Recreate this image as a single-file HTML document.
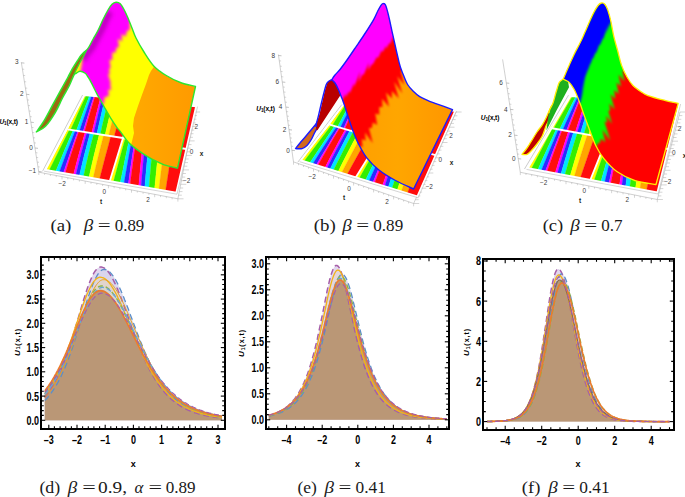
<!DOCTYPE html>
<html><head><meta charset="utf-8"><style>
html,body{margin:0;padding:0;background:#fff;}
svg{display:block;font-family:"Liberation Sans",sans-serif;}
.cap{font-family:"Liberation Serif",serif;font-size:17px;fill:#1a1a1a;}
</style></head><body>
<svg width="685" height="497" viewBox="0 0 685 497">
<defs>
<linearGradient id="gOrA" x1="130" y1="0" x2="200" y2="0" gradientUnits="userSpaceOnUse"><stop offset="0" stop-color="#ffaa00"/><stop offset="1" stop-color="#ff9900"/></linearGradient>
<linearGradient id="gOrB" x1="360" y1="0" x2="455" y2="0" gradientUnits="userSpaceOnUse"><stop offset="0" stop-color="#ffa000"/><stop offset="0.4" stop-color="#ffa600"/><stop offset="1" stop-color="#ff9500"/></linearGradient>
<filter id="soft" x="-10%" y="-10%" width="120%" height="120%"><feGaussianBlur stdDeviation="0.9"/></filter>
<filter id="soft15" x="-10%" y="-10%" width="120%" height="120%"><feGaussianBlur stdDeviation="1.4"/></filter>
<filter id="soft2" x="-20%" y="-20%" width="140%" height="140%"><feGaussianBlur stdDeviation="2"/></filter>
</defs>
<rect width="685" height="497" fill="#fff"/>

<polyline points="21.3,62.2 38.8,172.2 177.9,198.8 194.5,112" stroke="#b0b0b0" stroke-width="0.6" fill="none"/>
<line x1="42.5" y1="171.3" x2="82.6" y2="95" stroke="#aaa" stroke-width="0.6"/>
<line x1="21.4" y1="62.8" x2="24.4" y2="63.1" stroke="#999" stroke-width="0.6"/>
<line x1="22.4" y1="69.1" x2="24.2" y2="69.3" stroke="#aaa" stroke-width="0.5"/>
<line x1="23.4" y1="75.4" x2="25.2" y2="75.6" stroke="#aaa" stroke-width="0.5"/>
<line x1="24.4" y1="81.7" x2="26.2" y2="81.9" stroke="#aaa" stroke-width="0.5"/>
<line x1="25.4" y1="88.0" x2="27.2" y2="88.2" stroke="#aaa" stroke-width="0.5"/>
<line x1="26.4" y1="94.3" x2="29.4" y2="94.6" stroke="#999" stroke-width="0.6"/>
<line x1="27.3" y1="99.9" x2="29.1" y2="100.1" stroke="#aaa" stroke-width="0.5"/>
<line x1="28.2" y1="105.5" x2="30.0" y2="105.7" stroke="#aaa" stroke-width="0.5"/>
<line x1="29.1" y1="111.0" x2="30.9" y2="111.2" stroke="#aaa" stroke-width="0.5"/>
<line x1="30.0" y1="116.6" x2="31.8" y2="116.8" stroke="#aaa" stroke-width="0.5"/>
<line x1="30.8" y1="122.2" x2="33.8" y2="122.5" stroke="#999" stroke-width="0.6"/>
<line x1="31.7" y1="127.4" x2="33.5" y2="127.6" stroke="#aaa" stroke-width="0.5"/>
<line x1="32.5" y1="132.5" x2="34.3" y2="132.7" stroke="#aaa" stroke-width="0.5"/>
<line x1="33.3" y1="137.7" x2="35.1" y2="137.9" stroke="#aaa" stroke-width="0.5"/>
<line x1="34.1" y1="142.8" x2="35.9" y2="143.0" stroke="#aaa" stroke-width="0.5"/>
<line x1="35.0" y1="148.0" x2="38.0" y2="148.3" stroke="#999" stroke-width="0.6"/>
<line x1="35.7" y1="152.7" x2="37.5" y2="152.9" stroke="#aaa" stroke-width="0.5"/>
<line x1="36.4" y1="157.4" x2="38.2" y2="157.6" stroke="#aaa" stroke-width="0.5"/>
<line x1="37.2" y1="162.1" x2="39.0" y2="162.3" stroke="#aaa" stroke-width="0.5"/>
<line x1="37.9" y1="166.8" x2="39.7" y2="167.0" stroke="#aaa" stroke-width="0.5"/>
<line x1="38.7" y1="171.5" x2="41.7" y2="171.8" stroke="#999" stroke-width="0.6"/>
<text x="16.8" y="64.0" font-size="6.4" fill="#3a3a3a" text-anchor="middle">3</text>
<text x="21.8" y="95.6" font-size="6.4" fill="#3a3a3a" text-anchor="middle">2</text>
<text x="26.6" y="123.9" font-size="6.4" fill="#3a3a3a" text-anchor="middle">1</text>
<text x="31.0" y="149.8" font-size="6.4" fill="#3a3a3a" text-anchor="middle">0</text>
<text x="32.5" y="173.4" font-size="6.4" fill="#3a3a3a" text-anchor="middle">&#8722;1</text>
<text x="8.6" y="123.5" font-size="6.6" fill="#000" text-anchor="middle"><tspan font-weight="bold" letter-spacing="-0.15"><tspan font-style="italic">U</tspan><tspan font-size="4.6" dy="1">1</tspan><tspan dy="-1">(x,t)</tspan></tspan></text>
<text x="62.2" y="186.3" font-size="6.4" fill="#3a3a3a" text-anchor="middle">&#8722;2</text>
<text x="104.3" y="193.7" font-size="6.4" fill="#3a3a3a" text-anchor="middle">0</text>
<text x="148.0" y="201.9" font-size="6.4" fill="#3a3a3a" text-anchor="middle">2</text>
<text x="101.2" y="204.0" font-size="6.5" fill="#222" text-anchor="middle"><tspan font-weight="bold">t</tspan></text>
<text x="196.2" y="128.9" font-size="6.4" fill="#3a3a3a" text-anchor="middle">2</text>
<text x="191.5" y="153.6" font-size="6.4" fill="#3a3a3a" text-anchor="middle">0</text>
<text x="186.7" y="182.8" font-size="6.4" fill="#3a3a3a" text-anchor="middle">&#8722;2</text>
<text x="201.6" y="155.5" font-size="6.5" fill="#222" text-anchor="middle"><tspan font-weight="bold">x</tspan></text>
<line x1="38.8" y1="172.2" x2="38.8" y2="175.0" stroke="#aaa" stroke-width="0.5"/>
<line x1="44.6" y1="173.3" x2="44.6" y2="174.9" stroke="#aaa" stroke-width="0.5"/>
<line x1="50.4" y1="174.4" x2="50.4" y2="176.0" stroke="#aaa" stroke-width="0.5"/>
<line x1="56.2" y1="175.5" x2="56.2" y2="177.1" stroke="#aaa" stroke-width="0.5"/>
<line x1="62.0" y1="176.6" x2="62.0" y2="179.4" stroke="#aaa" stroke-width="0.5"/>
<line x1="67.8" y1="177.7" x2="67.8" y2="179.3" stroke="#aaa" stroke-width="0.5"/>
<line x1="73.6" y1="178.8" x2="73.6" y2="180.4" stroke="#aaa" stroke-width="0.5"/>
<line x1="79.4" y1="180.0" x2="79.4" y2="181.6" stroke="#aaa" stroke-width="0.5"/>
<line x1="85.2" y1="181.1" x2="85.2" y2="183.9" stroke="#aaa" stroke-width="0.5"/>
<line x1="91.0" y1="182.2" x2="91.0" y2="183.8" stroke="#aaa" stroke-width="0.5"/>
<line x1="96.8" y1="183.3" x2="96.8" y2="184.9" stroke="#aaa" stroke-width="0.5"/>
<line x1="102.6" y1="184.4" x2="102.6" y2="186.0" stroke="#aaa" stroke-width="0.5"/>
<line x1="108.4" y1="185.5" x2="108.4" y2="188.3" stroke="#aaa" stroke-width="0.5"/>
<line x1="114.1" y1="186.6" x2="114.1" y2="188.2" stroke="#aaa" stroke-width="0.5"/>
<line x1="119.9" y1="187.7" x2="119.9" y2="189.3" stroke="#aaa" stroke-width="0.5"/>
<line x1="125.7" y1="188.8" x2="125.7" y2="190.4" stroke="#aaa" stroke-width="0.5"/>
<line x1="131.5" y1="189.9" x2="131.5" y2="192.7" stroke="#aaa" stroke-width="0.5"/>
<line x1="137.3" y1="191.0" x2="137.3" y2="192.6" stroke="#aaa" stroke-width="0.5"/>
<line x1="143.1" y1="192.2" x2="143.1" y2="193.8" stroke="#aaa" stroke-width="0.5"/>
<line x1="148.9" y1="193.3" x2="148.9" y2="194.9" stroke="#aaa" stroke-width="0.5"/>
<line x1="154.7" y1="194.4" x2="154.7" y2="197.2" stroke="#aaa" stroke-width="0.5"/>
<line x1="160.5" y1="195.5" x2="160.5" y2="197.1" stroke="#aaa" stroke-width="0.5"/>
<line x1="166.3" y1="196.6" x2="166.3" y2="198.2" stroke="#aaa" stroke-width="0.5"/>
<line x1="172.1" y1="197.7" x2="172.1" y2="199.3" stroke="#aaa" stroke-width="0.5"/>
<line x1="177.9" y1="198.8" x2="177.9" y2="201.6" stroke="#aaa" stroke-width="0.5"/>
<line x1="177.9" y1="198.8" x2="183.5" y2="198.8" stroke="#aaa" stroke-width="0.5"/>
<line x1="178.6" y1="195.2" x2="181.8" y2="195.2" stroke="#aaa" stroke-width="0.5"/>
<line x1="179.3" y1="191.6" x2="182.5" y2="191.6" stroke="#aaa" stroke-width="0.5"/>
<line x1="180.0" y1="188.0" x2="183.2" y2="188.0" stroke="#aaa" stroke-width="0.5"/>
<line x1="180.7" y1="184.3" x2="186.3" y2="184.3" stroke="#aaa" stroke-width="0.5"/>
<line x1="181.4" y1="180.7" x2="184.6" y2="180.7" stroke="#aaa" stroke-width="0.5"/>
<line x1="182.1" y1="177.1" x2="185.2" y2="177.1" stroke="#aaa" stroke-width="0.5"/>
<line x1="182.7" y1="173.5" x2="185.9" y2="173.5" stroke="#aaa" stroke-width="0.5"/>
<line x1="183.4" y1="169.9" x2="189.0" y2="169.9" stroke="#aaa" stroke-width="0.5"/>
<line x1="184.1" y1="166.2" x2="187.3" y2="166.2" stroke="#aaa" stroke-width="0.5"/>
<line x1="184.8" y1="162.6" x2="188.0" y2="162.6" stroke="#aaa" stroke-width="0.5"/>
<line x1="185.5" y1="159.0" x2="188.7" y2="159.0" stroke="#aaa" stroke-width="0.5"/>
<line x1="186.2" y1="155.4" x2="191.8" y2="155.4" stroke="#aaa" stroke-width="0.5"/>
<line x1="186.9" y1="151.8" x2="190.1" y2="151.8" stroke="#aaa" stroke-width="0.5"/>
<line x1="187.6" y1="148.2" x2="190.8" y2="148.2" stroke="#aaa" stroke-width="0.5"/>
<line x1="188.3" y1="144.6" x2="191.5" y2="144.6" stroke="#aaa" stroke-width="0.5"/>
<line x1="189.0" y1="140.9" x2="194.6" y2="140.9" stroke="#aaa" stroke-width="0.5"/>
<line x1="189.7" y1="137.3" x2="192.9" y2="137.3" stroke="#aaa" stroke-width="0.5"/>
<line x1="190.3" y1="133.7" x2="193.5" y2="133.7" stroke="#aaa" stroke-width="0.5"/>
<line x1="191.0" y1="130.1" x2="194.2" y2="130.1" stroke="#aaa" stroke-width="0.5"/>
<line x1="191.7" y1="126.5" x2="197.3" y2="126.5" stroke="#aaa" stroke-width="0.5"/>
<line x1="192.4" y1="122.9" x2="195.6" y2="122.9" stroke="#aaa" stroke-width="0.5"/>
<line x1="193.1" y1="119.2" x2="196.3" y2="119.2" stroke="#aaa" stroke-width="0.5"/>
<line x1="193.8" y1="115.6" x2="197.0" y2="115.6" stroke="#aaa" stroke-width="0.5"/>
<line x1="194.5" y1="112.0" x2="200.1" y2="112.0" stroke="#aaa" stroke-width="0.5"/>
<polygon points="45.6,169.8 176.2,192.6 196.0,106.5 84.3,95.3" fill="#fff"/>
<clipPath id="pq1"><polygon points="45.6,169.8 109.8,181.0 123.0,138.0 67.6,129.3"/></clipPath><g clip-path="url(#pq1)">
<polygon points="45.6,169.8 51.1,159.7 56.6,149.6 62.1,139.4 67.6,129.3 69.5,129.6 64.4,139.8 59.3,150.0 54.2,160.2 49.1,170.4" fill="#ffff00" stroke="#ffff00" stroke-width="0.3"/>
<polygon points="49.1,170.4 54.2,160.2 59.3,150.0 64.4,139.8 69.5,129.6 73.2,130.2 68.7,140.5 64.3,150.8 60.0,161.2 55.7,171.6" fill="#33ee00" stroke="#33ee00" stroke-width="0.3"/>
<polygon points="55.7,171.6 60.0,161.2 64.3,150.8 68.7,140.5 73.2,130.2 75.3,130.5 71.2,140.9 67.1,151.3 63.2,161.7 59.3,172.2" fill="#00e5ff" stroke="#00e5ff" stroke-width="0.3"/>
<polygon points="59.3,172.2 63.2,161.7 67.1,151.3 71.2,140.9 75.3,130.5 77.9,130.9 74.1,141.4 70.5,151.9 66.9,162.4 63.4,172.9" fill="#2b2bff" stroke="#2b2bff" stroke-width="0.3"/>
<polygon points="63.4,172.9 66.9,162.4 70.5,151.9 74.1,141.4 77.9,130.9 79.1,131.1 75.4,141.6 71.9,152.1 68.5,162.6 65.2,173.2" fill="#ff00ff" stroke="#ff00ff" stroke-width="0.3"/>
<polygon points="65.2,173.2 68.5,162.6 71.9,152.1 75.4,141.6 79.1,131.1 85.2,132.1 82.1,142.7 79.1,153.3 76.2,164.0 73.5,174.7" fill="#ff0d0d" stroke="#ff0d0d" stroke-width="0.3"/>
<polygon points="73.5,174.7 76.2,164.0 79.1,153.3 82.1,142.7 85.2,132.1 87.0,132.3 84.0,143.0 81.1,153.6 78.4,164.3 75.8,175.1" fill="#ff00ff" stroke="#ff00ff" stroke-width="0.3"/>
<polygon points="75.8,175.1 78.4,164.3 81.1,153.6 84.0,143.0 87.0,132.3 90.2,132.8 87.3,143.5 84.5,154.2 81.9,164.9 79.4,175.7" fill="#2b2bff" stroke="#2b2bff" stroke-width="0.3"/>
<polygon points="79.4,175.7 81.9,164.9 84.5,154.2 87.3,143.5 90.2,132.8 93.9,133.4 91.1,144.1 88.4,154.8 85.9,165.6 83.5,176.4" fill="#00e5ff" stroke="#00e5ff" stroke-width="0.3"/>
<polygon points="83.5,176.4 85.9,165.6 88.4,154.8 91.1,144.1 93.9,133.4 99.3,134.3 96.6,145.0 93.9,155.8 91.4,166.5 88.9,177.4" fill="#33ee00" stroke="#33ee00" stroke-width="0.3"/>
<polygon points="88.9,177.4 91.4,166.5 93.9,155.8 96.6,145.0 99.3,134.3 103.7,135.0 100.9,145.7 98.2,156.5 95.6,167.3 93.1,178.1" fill="#ffff00" stroke="#ffff00" stroke-width="0.3"/>
<polygon points="93.1,178.1 95.6,167.3 98.2,156.5 100.9,145.7 103.7,135.0 110.9,136.1 108.0,146.9 105.1,157.6 102.3,168.4 99.5,179.2" fill="#ffa600" stroke="#ffa600" stroke-width="0.3"/>
<polygon points="99.5,179.2 102.3,168.4 105.1,157.6 108.0,146.9 110.9,136.1 123.0,138.0 119.7,148.8 116.4,159.5 113.1,170.2 109.8,181.0" fill="#ff0d0d" stroke="#ff0d0d" stroke-width="0.3"/>
</g>
<clipPath id="pq2"><polygon points="109.8,181.0 176.2,192.6 186.2,149.0 123.0,138.0"/></clipPath><g clip-path="url(#pq2)">
<polygon points="109.8,181.0 113.1,170.2 116.4,159.5 119.7,148.8 123.0,138.0 125.2,138.4 122.2,149.2 119.3,160.0 116.4,170.8 113.5,181.6" fill="#ffff00" stroke="#ffff00" stroke-width="0.3"/>
<polygon points="113.5,181.6 116.4,170.8 119.3,160.0 122.2,149.2 125.2,138.4 129.3,139.1 127.0,150.0 124.7,161.0 122.5,171.9 120.2,182.8" fill="#33ee00" stroke="#33ee00" stroke-width="0.3"/>
<polygon points="120.2,182.8 122.5,171.9 124.7,161.0 127.0,150.0 129.3,139.1 131.8,139.5 129.8,150.5 127.8,161.5 125.9,172.5 123.9,183.5" fill="#00e5ff" stroke="#00e5ff" stroke-width="0.3"/>
<polygon points="123.9,183.5 125.9,172.5 127.8,161.5 129.8,150.5 131.8,139.5 134.8,140.0 133.1,151.1 131.4,162.1 129.8,173.2 128.3,184.2" fill="#2b2bff" stroke="#2b2bff" stroke-width="0.3"/>
<polygon points="128.3,184.2 129.8,173.2 131.4,162.1 133.1,151.1 134.8,140.0 136.1,140.3 134.5,151.3 133.0,162.4 131.5,173.5 130.1,184.5" fill="#ff00ff" stroke="#ff00ff" stroke-width="0.3"/>
<polygon points="130.1,184.5 131.5,173.5 133.0,162.4 134.5,151.3 136.1,140.3 143.1,141.5 141.9,152.6 140.8,163.8 139.7,174.9 138.7,186.0" fill="#ff0d0d" stroke="#ff0d0d" stroke-width="0.3"/>
<polygon points="138.7,186.0 139.7,174.9 140.8,163.8 141.9,152.6 143.1,141.5 145.2,141.9 144.0,153.0 143.0,164.1 142.0,175.3 141.0,186.5" fill="#ff00ff" stroke="#ff00ff" stroke-width="0.3"/>
<polygon points="141.0,186.5 142.0,175.3 143.0,164.1 144.0,153.0 145.2,141.9 148.7,142.5 147.7,153.6 146.7,164.8 145.7,175.9 144.8,187.1" fill="#2b2bff" stroke="#2b2bff" stroke-width="0.3"/>
<polygon points="144.8,187.1 145.7,175.9 146.7,164.8 147.7,153.6 148.7,142.5 153.0,143.2 151.9,154.4 150.9,165.5 149.9,176.7 149.0,187.8" fill="#00e5ff" stroke="#00e5ff" stroke-width="0.3"/>
<polygon points="149.0,187.8 149.9,176.7 150.9,165.5 151.9,154.4 153.0,143.2 159.2,144.3 158.0,155.4 156.8,166.5 155.7,177.7 154.6,188.8" fill="#33ee00" stroke="#33ee00" stroke-width="0.3"/>
<polygon points="154.6,188.8 155.7,177.7 156.8,166.5 158.0,155.4 159.2,144.3 164.2,145.2 162.9,156.3 161.5,167.4 160.2,178.5 158.9,189.6" fill="#ffff00" stroke="#ffff00" stroke-width="0.3"/>
<polygon points="158.9,189.6 160.2,178.5 161.5,167.4 162.9,156.3 164.2,145.2 172.4,146.6 170.7,157.6 169.0,168.7 167.3,179.7 165.6,190.7" fill="#ffa600" stroke="#ffa600" stroke-width="0.3"/>
<polygon points="165.6,190.7 167.3,179.7 169.0,168.7 170.7,157.6 172.4,146.6 186.2,149.0 183.7,159.9 181.2,170.8 178.7,181.7 176.2,192.6" fill="#ff0d0d" stroke="#ff0d0d" stroke-width="0.3"/>
</g>
<clipPath id="pq3"><polygon points="67.6,129.3 123.0,138.0 136.0,100.5 84.3,95.3"/></clipPath><g clip-path="url(#pq3)">
<polygon points="67.6,129.3 71.8,120.8 75.9,112.3 80.1,103.8 84.3,95.3 86.1,95.5 82.2,104.0 78.3,112.6 74.5,121.2 70.6,129.8" fill="#ffff00" stroke="#ffff00" stroke-width="0.3"/>
<polygon points="70.6,129.8 74.5,121.2 78.3,112.6 82.2,104.0 86.1,95.5 89.5,95.8 86.1,104.5 82.8,113.2 79.6,121.9 76.3,130.7" fill="#33ee00" stroke="#33ee00" stroke-width="0.3"/>
<polygon points="76.3,130.7 79.6,121.9 82.8,113.2 86.1,104.5 89.5,95.8 91.5,96.0 88.4,104.8 85.4,113.5 82.4,122.3 79.4,131.2" fill="#00e5ff" stroke="#00e5ff" stroke-width="0.3"/>
<polygon points="79.4,131.2 82.4,122.3 85.4,113.5 88.4,104.8 91.5,96.0 93.9,96.3 91.1,105.1 88.4,113.9 85.7,122.8 83.0,131.7" fill="#2b2bff" stroke="#2b2bff" stroke-width="0.3"/>
<polygon points="83.0,131.7 85.7,122.8 88.4,113.9 91.1,105.1 93.9,96.3 95.0,96.4 92.3,105.2 89.7,114.1 87.1,123.0 84.5,132.0" fill="#ff00ff" stroke="#ff00ff" stroke-width="0.3"/>
<polygon points="84.5,132.0 87.1,123.0 89.7,114.1 92.3,105.2 95.0,96.4 100.7,97.0 98.4,105.9 96.1,114.9 93.9,124.0 91.7,133.1" fill="#ff0d0d" stroke="#ff0d0d" stroke-width="0.3"/>
<polygon points="91.7,133.1 93.9,124.0 96.1,114.9 98.4,105.9 100.7,97.0 102.4,97.1 100.1,106.1 97.9,115.2 95.8,124.2 93.6,133.4" fill="#ff00ff" stroke="#ff00ff" stroke-width="0.3"/>
<polygon points="93.6,133.4 95.8,124.2 97.9,115.2 100.1,106.1 102.4,97.1 105.4,97.4 103.1,106.5 101.0,115.5 98.9,124.7 96.8,133.9" fill="#2b2bff" stroke="#2b2bff" stroke-width="0.3"/>
<polygon points="96.8,133.9 98.9,124.7 101.0,115.5 103.1,106.5 105.4,97.4 108.8,97.8 106.6,106.9 104.5,116.0 102.3,125.2 100.3,134.4" fill="#00e5ff" stroke="#00e5ff" stroke-width="0.3"/>
<polygon points="100.3,134.4 102.3,125.2 104.5,116.0 106.6,106.9 108.8,97.8 113.9,98.3 111.6,107.4 109.4,116.6 107.2,125.9 105.0,135.2" fill="#33ee00" stroke="#33ee00" stroke-width="0.3"/>
<polygon points="105.0,135.2 107.2,125.9 109.4,116.6 111.6,107.4 113.9,98.3 118.0,98.7 115.6,107.9 113.2,117.1 110.9,126.4 108.6,135.7" fill="#ffff00" stroke="#ffff00" stroke-width="0.3"/>
<polygon points="108.6,135.7 110.9,126.4 113.2,117.1 115.6,107.9 118.0,98.7 124.7,99.4 122.0,108.6 119.4,117.9 116.7,127.3 114.1,136.6" fill="#ffa600" stroke="#ffa600" stroke-width="0.3"/>
<polygon points="114.1,136.6 116.7,127.3 119.4,117.9 122.0,108.6 124.7,99.4 136.0,100.5 132.8,109.9 129.5,119.2 126.2,128.6 123.0,138.0" fill="#ff0d0d" stroke="#ff0d0d" stroke-width="0.3"/>
</g>
<clipPath id="pq4"><polygon points="123.0,138.0 186.2,149.0 196.0,106.5 136.0,100.5"/></clipPath><g clip-path="url(#pq4)">
<polygon points="123.0,138.0 126.2,128.6 129.5,119.2 132.8,109.9 136.0,100.5 138.1,100.7 135.2,110.2 132.3,119.6 129.4,129.1 126.5,138.6" fill="#ffff00" stroke="#ffff00" stroke-width="0.3"/>
<polygon points="126.5,138.6 129.4,129.1 132.3,119.6 135.2,110.2 138.1,100.7 142.0,101.1 139.7,110.7 137.4,120.3 135.2,130.0 132.9,139.7" fill="#33ee00" stroke="#33ee00" stroke-width="0.3"/>
<polygon points="132.9,139.7 135.2,130.0 137.4,120.3 139.7,110.7 142.0,101.1 144.3,101.3 142.3,111.0 140.3,120.7 138.4,130.5 136.5,140.3" fill="#00e5ff" stroke="#00e5ff" stroke-width="0.3"/>
<polygon points="136.5,140.3 138.4,130.5 140.3,120.7 142.3,111.0 144.3,101.3 147.2,101.6 145.5,111.4 143.8,121.2 142.2,131.1 140.6,141.1" fill="#2b2bff" stroke="#2b2bff" stroke-width="0.3"/>
<polygon points="140.6,141.1 142.2,131.1 143.8,121.2 145.5,111.4 147.2,101.6 148.4,101.7 146.8,111.6 145.3,121.4 143.8,131.4 142.3,141.4" fill="#ff00ff" stroke="#ff00ff" stroke-width="0.3"/>
<polygon points="142.3,141.4 143.8,131.4 145.3,121.4 146.8,111.6 148.4,101.7 155.0,102.4 153.8,112.4 152.7,122.4 151.6,132.6 150.5,142.8" fill="#ff0d0d" stroke="#ff0d0d" stroke-width="0.3"/>
<polygon points="150.5,142.8 151.6,132.6 152.7,122.4 153.8,112.4 155.0,102.4 157.0,102.6 155.9,112.6 154.8,122.7 153.7,132.9 152.7,143.2" fill="#ff00ff" stroke="#ff00ff" stroke-width="0.3"/>
<polygon points="152.7,143.2 153.7,132.9 154.8,122.7 155.9,112.6 157.0,102.6 160.4,102.9 159.3,113.0 158.3,123.2 157.3,133.5 156.3,143.8" fill="#2b2bff" stroke="#2b2bff" stroke-width="0.3"/>
<polygon points="156.3,143.8 157.3,133.5 158.3,123.2 159.3,113.0 160.4,102.9 164.5,103.3 163.4,113.5 162.3,123.8 161.3,134.1 160.3,144.5" fill="#00e5ff" stroke="#00e5ff" stroke-width="0.3"/>
<polygon points="160.3,144.5 161.3,134.1 162.3,123.8 163.4,113.5 164.5,103.3 170.4,103.9 169.1,114.2 167.9,124.6 166.8,135.0 165.7,145.4" fill="#33ee00" stroke="#33ee00" stroke-width="0.3"/>
<polygon points="165.7,145.4 166.8,135.0 167.9,124.6 169.1,114.2 170.4,103.9 175.2,104.4 173.8,114.8 172.4,125.2 171.1,135.6 169.8,146.1" fill="#ffff00" stroke="#ffff00" stroke-width="0.3"/>
<polygon points="169.8,146.1 171.1,135.6 172.4,125.2 173.8,114.8 175.2,104.4 182.9,105.2 181.2,115.7 179.5,126.1 177.8,136.7 176.1,147.2" fill="#ffa600" stroke="#ffa600" stroke-width="0.3"/>
<polygon points="176.1,147.2 177.8,136.7 179.5,126.1 181.2,115.7 182.9,105.2 196.0,106.5 193.6,117.1 191.1,127.8 188.6,138.4 186.2,149.0" fill="#ff0d0d" stroke="#ff0d0d" stroke-width="0.3"/>
</g>
<polygon points="45.6,169.8 176.2,192.6 196.0,106.5 84.3,95.3" fill="none" stroke="#fff" stroke-width="1.6"/>
<polyline points="109.8,181.0 123.0,138.0 136.0,100.5" fill="none" stroke="#fff" stroke-width="1.8"/>
<polyline points="67.6,129.3 123.0,138.0 186.2,149.0" fill="none" stroke="#fff" stroke-width="1.8"/>
<polyline points="44.1,171.2 177.0,194.2 197.6,106.5" fill="none" stroke="#b8b8b8" stroke-width="0.6"/>
<clipPath id="clipA"><path d="M36.3,132.0 C37.6,130.1 41.4,125.2 44.1,120.7 C46.8,116.2 49.7,110.4 52.5,105.2 C55.3,100.0 58.4,94.4 61.0,89.7 C63.6,85.0 66.2,80.4 68.0,77.0 C69.8,73.6 70.6,71.8 72.1,69.2 C73.6,66.6 75.6,63.5 77.1,61.2 C78.6,58.9 79.9,56.7 81.1,55.2 C82.3,53.7 82.9,53.3 84.1,52.1 C85.3,50.9 86.7,50.3 88.2,48.1 C89.7,45.9 91.5,42.0 93.2,39.0 C94.9,36.0 96.6,33.2 98.2,30.0 C99.8,26.8 101.4,22.8 103.0,19.5 C104.6,16.2 106.5,12.5 108.0,10.0 C109.5,7.5 110.7,5.6 112.0,4.3 C113.3,3.0 114.7,2.3 116.0,2.2 C117.3,2.1 118.7,2.3 120.0,3.5 C121.3,4.7 122.7,7.1 124.0,9.5 C125.3,11.9 126.7,14.9 128.0,18.0 C129.3,21.1 130.7,24.7 132.0,28.0 C133.3,31.3 134.0,34.0 136.0,38.0 C138.0,42.0 141.0,47.3 144.0,52.0 C147.0,56.7 150.5,62.5 154.2,66.4 C157.9,70.3 161.9,72.8 166.3,75.5 C170.7,78.2 175.5,80.7 180.4,82.5 C185.3,84.3 193.0,85.8 195.5,86.5 L177.5,168.1 C175.3,167.6 168.2,166.2 164.2,164.8 C160.1,163.4 156.9,161.7 153.2,159.8 C149.5,157.9 145.8,155.7 142.1,153.2 C138.4,150.7 133.9,147.3 131.1,144.9 C128.3,142.5 127.3,141.1 125.5,138.8 C123.7,136.5 121.4,132.9 120.0,131.1 C118.6,129.3 118.8,130.1 117.2,127.9 C115.7,125.8 112.9,121.7 110.7,118.2 C108.5,114.7 106.4,110.8 104.3,107.0 C102.2,103.2 100.1,99.7 97.9,95.7 C95.8,91.7 93.0,86.0 91.4,82.9 C89.8,79.8 89.2,78.9 88.2,77.3 C87.2,75.7 86.6,74.3 85.2,73.3 C83.8,72.3 81.6,71.2 80.1,71.2 C78.6,71.2 77.2,72.6 76.1,73.3 C75.0,74.0 74.8,73.6 73.7,75.6 C72.6,77.6 71.3,81.7 69.4,85.5 C67.5,89.3 64.7,93.7 62.4,98.2 C60.1,102.7 58.2,107.6 55.4,112.3 C52.6,117.0 48.7,123.0 45.5,126.3 C42.3,129.6 37.8,131.1 36.3,132.0Z"/></clipPath>
<g clip-path="url(#clipA)">
<path d="M36.3,132.0 C37.6,130.1 41.4,125.2 44.1,120.7 C46.8,116.2 49.7,110.4 52.5,105.2 C55.3,100.0 58.4,94.4 61.0,89.7 C63.6,85.0 66.2,80.4 68.0,77.0 C69.8,73.6 70.6,71.8 72.1,69.2 C73.6,66.6 75.6,63.5 77.1,61.2 C78.6,58.9 79.9,56.7 81.1,55.2 C82.3,53.7 82.9,53.3 84.1,52.1 C85.3,50.9 86.7,50.3 88.2,48.1 C89.7,45.9 91.5,42.0 93.2,39.0 C94.9,36.0 96.6,33.2 98.2,30.0 C99.8,26.8 101.4,22.8 103.0,19.5 C104.6,16.2 106.5,12.5 108.0,10.0 C109.5,7.5 110.7,5.6 112.0,4.3 C113.3,3.0 114.7,2.3 116.0,2.2 C117.3,2.1 118.7,2.3 120.0,3.5 C121.3,4.7 122.7,7.1 124.0,9.5 C125.3,11.9 126.7,14.9 128.0,18.0 C129.3,21.1 130.7,24.7 132.0,28.0 C133.3,31.3 134.0,34.0 136.0,38.0 C138.0,42.0 141.0,47.3 144.0,52.0 C147.0,56.7 150.5,62.5 154.2,66.4 C157.9,70.3 161.9,72.8 166.3,75.5 C170.7,78.2 175.5,80.7 180.4,82.5 C185.3,84.3 193.0,85.8 195.5,86.5 L177.5,168.1 C175.3,167.6 168.2,166.2 164.2,164.8 C160.1,163.4 156.9,161.7 153.2,159.8 C149.5,157.9 145.8,155.7 142.1,153.2 C138.4,150.7 133.9,147.3 131.1,144.9 C128.3,142.5 127.3,141.1 125.5,138.8 C123.7,136.5 121.4,132.9 120.0,131.1 C118.6,129.3 118.8,130.1 117.2,127.9 C115.7,125.8 112.9,121.7 110.7,118.2 C108.5,114.7 106.4,110.8 104.3,107.0 C102.2,103.2 100.1,99.7 97.9,95.7 C95.8,91.7 93.0,86.0 91.4,82.9 C89.8,79.8 89.2,78.9 88.2,77.3 C87.2,75.7 86.6,74.3 85.2,73.3 C83.8,72.3 81.6,71.2 80.1,71.2 C78.6,71.2 77.2,72.6 76.1,73.3 C75.0,74.0 74.8,73.6 73.7,75.6 C72.6,77.6 71.3,81.7 69.4,85.5 C67.5,89.3 64.7,93.7 62.4,98.2 C60.1,102.7 58.2,107.6 55.4,112.3 C52.6,117.0 48.7,123.0 45.5,126.3 C42.3,129.6 37.8,131.1 36.3,132.0Z" fill="url(#gOrA)"/>
<polygon points="30.0,0.0 155.0,0.0 156.0,64.0 154.2,66.4 151.0,71.0 149.0,75.0 146.0,84.0 142.3,94.0 138.0,106.0 134.0,118.0 133.0,126.0 134.0,133.0 131.1,144.9 60.0,150.0" fill="#ffff00"/>
<polygon points="140.0,0.0 100.0,0.0 84.0,50.0 80.0,75.0 102.0,105.0 104.0,103.0 104.3,97.6 108.9,95.8 108.1,89.2 111.2,90.3 110.3,85.2 110.5,82.0 107.9,73.8 109.8,74.6 109.0,69.1 110.6,68.1 109.5,60.0 112.4,59.8 112.2,52.4 115.7,52.4 116.4,47.7 119.0,47.0 117.8,38.6 122.2,41.5 121.5,34.1 125.7,36.4 126.8,31.2 129.8,29.6 129.7,22.3 133.0,22.0" fill="#ff00ff" filter="url(#soft15)"/>
<path d="M83.0,60.0 C83.8,58.8 86.1,54.9 87.5,53.0 C88.9,51.1 90.1,50.7 91.5,48.5 C92.9,46.3 94.4,42.9 96.0,40.0 C97.6,37.1 99.4,34.2 101.0,31.0 C102.6,27.8 104.0,24.2 105.5,21.0 C107.0,17.8 109.2,13.5 110.0,12.0" fill="none" stroke="#6a006a" stroke-opacity="0.45" stroke-width="6" filter="url(#soft2)"/>
<path d="M36.3,132.0 C37.6,130.1 41.4,125.2 44.1,120.7 C46.8,116.2 49.7,110.4 52.5,105.2 C55.3,100.0 58.4,94.4 61.0,89.7 C63.6,85.0 66.2,80.4 68.0,77.0 C69.8,73.6 70.6,71.8 72.1,69.2 C73.6,66.6 75.6,63.5 77.1,61.2 C78.6,58.9 79.9,56.7 81.1,55.2 C82.3,53.7 83.2,52.8 84.1,52.1 C84.9,51.4 86.9,49.4 86.2,51.1 C85.5,52.8 81.8,59.0 80.1,62.2 C78.4,65.4 77.2,68.0 76.1,70.2 C75.0,72.4 74.8,73.0 73.7,75.6 C72.6,78.1 71.3,81.7 69.4,85.5 C67.5,89.3 64.7,93.7 62.4,98.2 C60.1,102.7 58.2,107.6 55.4,112.3 C52.6,117.0 48.7,123.0 45.5,126.3 C42.3,129.6 37.8,131.1 36.3,132.0Z" fill="#9a6a12" stroke="#2ee62e" stroke-width="1.2"/>
</g>
<path d="M36.3,132.0 C37.6,130.1 41.4,125.2 44.1,120.7 C46.8,116.2 49.7,110.4 52.5,105.2 C55.3,100.0 58.4,94.4 61.0,89.7 C63.6,85.0 66.2,80.4 68.0,77.0 C69.8,73.6 70.6,71.8 72.1,69.2 C73.6,66.6 75.6,63.5 77.1,61.2 C78.6,58.9 79.9,56.7 81.1,55.2 C82.3,53.7 82.9,53.3 84.1,52.1 C85.3,50.9 86.7,50.3 88.2,48.1 C89.7,45.9 91.5,42.0 93.2,39.0 C94.9,36.0 96.6,33.2 98.2,30.0 C99.8,26.8 101.4,22.8 103.0,19.5 C104.6,16.2 106.5,12.5 108.0,10.0 C109.5,7.5 110.7,5.6 112.0,4.3 C113.3,3.0 114.7,2.3 116.0,2.2 C117.3,2.1 118.7,2.3 120.0,3.5 C121.3,4.7 122.7,7.1 124.0,9.5 C125.3,11.9 126.7,14.9 128.0,18.0 C129.3,21.1 130.7,24.7 132.0,28.0 C133.3,31.3 134.0,34.0 136.0,38.0 C138.0,42.0 141.0,47.3 144.0,52.0 C147.0,56.7 150.5,62.5 154.2,66.4 C157.9,70.3 161.9,72.8 166.3,75.5 C170.7,78.2 175.5,80.7 180.4,82.5 C185.3,84.3 193.0,85.8 195.5,86.5 L177.5,168.1 C175.3,167.6 168.2,166.2 164.2,164.8 C160.1,163.4 156.9,161.7 153.2,159.8 C149.5,157.9 145.8,155.7 142.1,153.2 C138.4,150.7 133.9,147.3 131.1,144.9 C128.3,142.5 127.3,141.1 125.5,138.8 C123.7,136.5 121.4,132.9 120.0,131.1 C118.6,129.3 118.8,130.1 117.2,127.9 C115.7,125.8 112.9,121.7 110.7,118.2 C108.5,114.7 106.4,110.8 104.3,107.0 C102.2,103.2 100.1,99.7 97.9,95.7 C95.8,91.7 93.0,86.0 91.4,82.9 C89.8,79.8 89.2,78.9 88.2,77.3 C87.2,75.7 86.6,74.3 85.2,73.3 C83.8,72.3 81.6,71.2 80.1,71.2 C78.6,71.2 77.2,72.6 76.1,73.3 C75.0,74.0 74.8,73.6 73.7,75.6 C72.6,77.6 71.3,81.7 69.4,85.5 C67.5,89.3 64.7,93.7 62.4,98.2 C60.1,102.7 58.2,107.6 55.4,112.3 C52.6,117.0 48.7,123.0 45.5,126.3 C42.3,129.6 37.8,131.1 36.3,132.0Z" fill="none" stroke="#2ee62e" stroke-width="1.4" stroke-linejoin="round"/>
<polyline points="278.4,54.5 293.5,161.9 413.6,203.5 456,112" stroke="#b0b0b0" stroke-width="0.6" fill="none"/>
<line x1="297.8" y1="162.2" x2="341.8" y2="104.6" stroke="#aaa" stroke-width="0.6"/>
<line x1="278.5" y1="55.5" x2="281.5" y2="55.8" stroke="#999" stroke-width="0.6"/>
<line x1="279.3" y1="60.8" x2="281.1" y2="61.0" stroke="#aaa" stroke-width="0.5"/>
<line x1="280.0" y1="66.1" x2="281.8" y2="66.3" stroke="#aaa" stroke-width="0.5"/>
<line x1="280.8" y1="71.4" x2="282.6" y2="71.6" stroke="#aaa" stroke-width="0.5"/>
<line x1="281.5" y1="76.7" x2="283.3" y2="76.9" stroke="#aaa" stroke-width="0.5"/>
<line x1="282.3" y1="82.0" x2="285.3" y2="82.3" stroke="#999" stroke-width="0.6"/>
<line x1="283.0" y1="87.0" x2="284.8" y2="87.2" stroke="#aaa" stroke-width="0.5"/>
<line x1="283.7" y1="92.0" x2="285.5" y2="92.2" stroke="#aaa" stroke-width="0.5"/>
<line x1="284.4" y1="97.1" x2="286.2" y2="97.3" stroke="#aaa" stroke-width="0.5"/>
<line x1="285.1" y1="102.1" x2="286.9" y2="102.3" stroke="#aaa" stroke-width="0.5"/>
<line x1="285.8" y1="107.1" x2="288.8" y2="107.4" stroke="#999" stroke-width="0.6"/>
<line x1="286.4" y1="111.6" x2="288.2" y2="111.8" stroke="#aaa" stroke-width="0.5"/>
<line x1="287.1" y1="116.1" x2="288.9" y2="116.3" stroke="#aaa" stroke-width="0.5"/>
<line x1="287.7" y1="120.7" x2="289.5" y2="120.9" stroke="#aaa" stroke-width="0.5"/>
<line x1="288.3" y1="125.2" x2="290.1" y2="125.4" stroke="#aaa" stroke-width="0.5"/>
<line x1="289.0" y1="129.7" x2="292.0" y2="130.0" stroke="#999" stroke-width="0.6"/>
<line x1="289.6" y1="133.8" x2="291.4" y2="134.0" stroke="#aaa" stroke-width="0.5"/>
<line x1="290.1" y1="137.9" x2="291.9" y2="138.1" stroke="#aaa" stroke-width="0.5"/>
<line x1="290.7" y1="142.1" x2="292.5" y2="142.3" stroke="#aaa" stroke-width="0.5"/>
<line x1="291.3" y1="146.2" x2="293.1" y2="146.4" stroke="#aaa" stroke-width="0.5"/>
<line x1="291.9" y1="150.3" x2="294.9" y2="150.6" stroke="#999" stroke-width="0.6"/>
<text x="273.2" y="57.7" font-size="6.4" fill="#3a3a3a" text-anchor="middle">8</text>
<text x="277.4" y="84.1" font-size="6.4" fill="#3a3a3a" text-anchor="middle">6</text>
<text x="280.6" y="109.3" font-size="6.4" fill="#3a3a3a" text-anchor="middle">4</text>
<text x="284.5" y="131.9" font-size="6.4" fill="#3a3a3a" text-anchor="middle">2</text>
<text x="288.1" y="152.5" font-size="6.4" fill="#3a3a3a" text-anchor="middle">0</text>
<text x="265.5" y="110.8" font-size="6.6" fill="#000" text-anchor="middle"><tspan font-weight="bold" letter-spacing="-0.15"><tspan font-style="italic">U</tspan><tspan font-size="4.6" dy="1">1</tspan><tspan dy="-1">(x,t)</tspan></tspan></text>
<text x="312.1" y="178.7" font-size="6.4" fill="#3a3a3a" text-anchor="middle">&#8722;2</text>
<text x="349.0" y="190.7" font-size="6.4" fill="#3a3a3a" text-anchor="middle">0</text>
<text x="387.0" y="203.7" font-size="6.4" fill="#3a3a3a" text-anchor="middle">2</text>
<text x="344.0" y="199.5" font-size="6.5" fill="#222" text-anchor="middle"><tspan font-weight="bold">t</tspan></text>
<text x="451.0" y="138.1" font-size="6.4" fill="#3a3a3a" text-anchor="middle">2</text>
<text x="440.2" y="162.2" font-size="6.4" fill="#3a3a3a" text-anchor="middle">0</text>
<text x="429.3" y="188.8" font-size="6.4" fill="#3a3a3a" text-anchor="middle">&#8722;2</text>
<text x="451.5" y="164.5" font-size="6.5" fill="#222" text-anchor="middle"><tspan font-weight="bold">x</tspan></text>
<line x1="293.5" y1="161.9" x2="293.5" y2="164.7" stroke="#aaa" stroke-width="0.5"/>
<line x1="298.5" y1="163.6" x2="298.5" y2="165.2" stroke="#aaa" stroke-width="0.5"/>
<line x1="303.5" y1="165.4" x2="303.5" y2="167.0" stroke="#aaa" stroke-width="0.5"/>
<line x1="308.5" y1="167.1" x2="308.5" y2="168.7" stroke="#aaa" stroke-width="0.5"/>
<line x1="313.5" y1="168.8" x2="313.5" y2="171.6" stroke="#aaa" stroke-width="0.5"/>
<line x1="318.5" y1="170.6" x2="318.5" y2="172.2" stroke="#aaa" stroke-width="0.5"/>
<line x1="323.5" y1="172.3" x2="323.5" y2="173.9" stroke="#aaa" stroke-width="0.5"/>
<line x1="328.5" y1="174.0" x2="328.5" y2="175.6" stroke="#aaa" stroke-width="0.5"/>
<line x1="333.5" y1="175.8" x2="333.5" y2="178.6" stroke="#aaa" stroke-width="0.5"/>
<line x1="338.5" y1="177.5" x2="338.5" y2="179.1" stroke="#aaa" stroke-width="0.5"/>
<line x1="343.5" y1="179.2" x2="343.5" y2="180.8" stroke="#aaa" stroke-width="0.5"/>
<line x1="348.5" y1="181.0" x2="348.5" y2="182.6" stroke="#aaa" stroke-width="0.5"/>
<line x1="353.6" y1="182.7" x2="353.6" y2="185.5" stroke="#aaa" stroke-width="0.5"/>
<line x1="358.6" y1="184.4" x2="358.6" y2="186.0" stroke="#aaa" stroke-width="0.5"/>
<line x1="363.6" y1="186.2" x2="363.6" y2="187.8" stroke="#aaa" stroke-width="0.5"/>
<line x1="368.6" y1="187.9" x2="368.6" y2="189.5" stroke="#aaa" stroke-width="0.5"/>
<line x1="373.6" y1="189.6" x2="373.6" y2="192.4" stroke="#aaa" stroke-width="0.5"/>
<line x1="378.6" y1="191.4" x2="378.6" y2="193.0" stroke="#aaa" stroke-width="0.5"/>
<line x1="383.6" y1="193.1" x2="383.6" y2="194.7" stroke="#aaa" stroke-width="0.5"/>
<line x1="388.6" y1="194.8" x2="388.6" y2="196.4" stroke="#aaa" stroke-width="0.5"/>
<line x1="393.6" y1="196.6" x2="393.6" y2="199.4" stroke="#aaa" stroke-width="0.5"/>
<line x1="398.6" y1="198.3" x2="398.6" y2="199.9" stroke="#aaa" stroke-width="0.5"/>
<line x1="403.6" y1="200.0" x2="403.6" y2="201.6" stroke="#aaa" stroke-width="0.5"/>
<line x1="408.6" y1="201.8" x2="408.6" y2="203.4" stroke="#aaa" stroke-width="0.5"/>
<line x1="413.6" y1="203.5" x2="413.6" y2="206.3" stroke="#aaa" stroke-width="0.5"/>
<line x1="413.6" y1="203.5" x2="419.2" y2="203.5" stroke="#aaa" stroke-width="0.5"/>
<line x1="415.4" y1="199.7" x2="418.6" y2="199.7" stroke="#aaa" stroke-width="0.5"/>
<line x1="417.1" y1="195.9" x2="420.3" y2="195.9" stroke="#aaa" stroke-width="0.5"/>
<line x1="418.9" y1="192.1" x2="422.1" y2="192.1" stroke="#aaa" stroke-width="0.5"/>
<line x1="420.7" y1="188.2" x2="426.3" y2="188.2" stroke="#aaa" stroke-width="0.5"/>
<line x1="422.4" y1="184.4" x2="425.6" y2="184.4" stroke="#aaa" stroke-width="0.5"/>
<line x1="424.2" y1="180.6" x2="427.4" y2="180.6" stroke="#aaa" stroke-width="0.5"/>
<line x1="426.0" y1="176.8" x2="429.2" y2="176.8" stroke="#aaa" stroke-width="0.5"/>
<line x1="427.7" y1="173.0" x2="433.3" y2="173.0" stroke="#aaa" stroke-width="0.5"/>
<line x1="429.5" y1="169.2" x2="432.7" y2="169.2" stroke="#aaa" stroke-width="0.5"/>
<line x1="431.3" y1="165.4" x2="434.5" y2="165.4" stroke="#aaa" stroke-width="0.5"/>
<line x1="433.0" y1="161.6" x2="436.2" y2="161.6" stroke="#aaa" stroke-width="0.5"/>
<line x1="434.8" y1="157.8" x2="440.4" y2="157.8" stroke="#aaa" stroke-width="0.5"/>
<line x1="436.6" y1="153.9" x2="439.8" y2="153.9" stroke="#aaa" stroke-width="0.5"/>
<line x1="438.3" y1="150.1" x2="441.5" y2="150.1" stroke="#aaa" stroke-width="0.5"/>
<line x1="440.1" y1="146.3" x2="443.3" y2="146.3" stroke="#aaa" stroke-width="0.5"/>
<line x1="441.9" y1="142.5" x2="447.5" y2="142.5" stroke="#aaa" stroke-width="0.5"/>
<line x1="443.6" y1="138.7" x2="446.8" y2="138.7" stroke="#aaa" stroke-width="0.5"/>
<line x1="445.4" y1="134.9" x2="448.6" y2="134.9" stroke="#aaa" stroke-width="0.5"/>
<line x1="447.2" y1="131.1" x2="450.4" y2="131.1" stroke="#aaa" stroke-width="0.5"/>
<line x1="448.9" y1="127.2" x2="454.5" y2="127.2" stroke="#aaa" stroke-width="0.5"/>
<line x1="450.7" y1="123.4" x2="453.9" y2="123.4" stroke="#aaa" stroke-width="0.5"/>
<line x1="452.5" y1="119.6" x2="455.7" y2="119.6" stroke="#aaa" stroke-width="0.5"/>
<line x1="454.2" y1="115.8" x2="457.4" y2="115.8" stroke="#aaa" stroke-width="0.5"/>
<line x1="456.0" y1="112.0" x2="461.6" y2="112.0" stroke="#aaa" stroke-width="0.5"/>
<polygon points="301.1,160.3 417.3,196.2 455.0,111.0 344.0,104.0" fill="#fff"/>
<clipPath id="pq5"><polygon points="301.1,160.3 355.7,177.5 379.5,139.1 329.6,124.7"/></clipPath><g clip-path="url(#pq5)">
<polygon points="301.1,160.3 308.2,151.4 315.4,142.5 322.5,133.6 329.6,124.7 331.3,125.2 324.5,134.2 317.7,143.2 310.9,152.2 304.1,161.2" fill="#ffff00" stroke="#ffff00" stroke-width="0.3"/>
<polygon points="304.1,161.2 310.9,152.2 317.7,143.2 324.5,134.2 331.3,125.2 334.6,126.1 328.3,135.3 322.1,144.5 315.9,153.8 309.7,163.0" fill="#33ee00" stroke="#33ee00" stroke-width="0.3"/>
<polygon points="309.7,163.0 315.9,153.8 322.1,144.5 328.3,135.3 334.6,126.1 336.5,126.7 330.5,136.0 324.5,145.3 318.6,154.6 312.7,164.0" fill="#00e5ff" stroke="#00e5ff" stroke-width="0.3"/>
<polygon points="312.7,164.0 318.6,154.6 324.5,145.3 330.5,136.0 336.5,126.7 338.9,127.4 333.1,136.8 327.5,146.2 321.8,155.6 316.3,165.1" fill="#2b2bff" stroke="#2b2bff" stroke-width="0.3"/>
<polygon points="316.3,165.1 321.8,155.6 327.5,146.2 333.1,136.8 338.9,127.4 339.9,127.7 334.3,137.1 328.7,146.5 323.2,156.0 317.8,165.5" fill="#ff00ff" stroke="#ff00ff" stroke-width="0.3"/>
<polygon points="317.8,165.5 323.2,156.0 328.7,146.5 334.3,137.1 339.9,127.7 345.4,129.3 340.2,138.8 335.0,148.4 329.9,158.1 324.9,167.8" fill="#ff0d0d" stroke="#ff0d0d" stroke-width="0.3"/>
<polygon points="324.9,167.8 329.9,158.1 335.0,148.4 340.2,138.8 345.4,129.3 347.1,129.7 341.9,139.3 336.8,149.0 331.7,158.7 326.8,168.4" fill="#ff00ff" stroke="#ff00ff" stroke-width="0.3"/>
<polygon points="326.8,168.4 331.7,158.7 336.8,149.0 341.9,139.3 347.1,129.7 349.9,130.6 344.8,140.2 339.8,149.9 334.8,159.6 329.9,169.4" fill="#2b2bff" stroke="#2b2bff" stroke-width="0.3"/>
<polygon points="329.9,169.4 334.8,159.6 339.8,149.9 344.8,140.2 349.9,130.6 353.3,131.5 348.2,141.2 343.2,150.9 338.2,160.7 333.3,170.4" fill="#00e5ff" stroke="#00e5ff" stroke-width="0.3"/>
<polygon points="333.3,170.4 338.2,160.7 343.2,150.9 348.2,141.2 353.3,131.5 358.2,132.9 353.0,142.6 347.9,152.3 342.9,162.1 338.0,171.9" fill="#33ee00" stroke="#33ee00" stroke-width="0.3"/>
<polygon points="338.0,171.9 342.9,162.1 347.9,152.3 353.0,142.6 358.2,132.9 362.1,134.1 356.9,143.8 351.7,153.5 346.6,163.2 341.5,173.0" fill="#ffff00" stroke="#ffff00" stroke-width="0.3"/>
<polygon points="341.5,173.0 346.6,163.2 351.7,153.5 356.9,143.8 362.1,134.1 368.6,135.9 363.1,145.6 357.7,155.3 352.3,165.0 347.0,174.7" fill="#ffa600" stroke="#ffa600" stroke-width="0.3"/>
<polygon points="347.0,174.7 352.3,165.0 357.7,155.3 363.1,145.6 368.6,135.9 379.5,139.1 373.5,148.7 367.6,158.3 361.6,167.9 355.7,177.5" fill="#ff0d0d" stroke="#ff0d0d" stroke-width="0.3"/>
</g>
<clipPath id="pq6"><polygon points="355.7,177.5 417.3,196.2 435.4,155.2 379.5,139.1"/></clipPath><g clip-path="url(#pq6)">
<polygon points="355.7,177.5 361.6,167.9 367.6,158.3 373.5,148.7 379.5,139.1 381.4,139.6 375.8,149.3 370.2,159.1 364.6,168.8 359.1,178.5" fill="#ffff00" stroke="#ffff00" stroke-width="0.3"/>
<polygon points="359.1,178.5 364.6,168.8 370.2,159.1 375.8,149.3 381.4,139.6 385.1,140.7 380.1,150.6 375.1,160.5 370.2,170.5 365.4,180.4" fill="#33ee00" stroke="#33ee00" stroke-width="0.3"/>
<polygon points="365.4,180.4 370.2,170.5 375.1,160.5 380.1,150.6 385.1,140.7 387.2,141.3 382.5,151.3 377.9,161.3 373.3,171.4 368.8,181.5" fill="#00e5ff" stroke="#00e5ff" stroke-width="0.3"/>
<polygon points="368.8,181.5 373.3,171.4 377.9,161.3 382.5,151.3 387.2,141.3 389.9,142.1 385.5,152.2 381.2,162.3 377.0,172.5 372.8,182.7" fill="#2b2bff" stroke="#2b2bff" stroke-width="0.3"/>
<polygon points="372.8,182.7 377.0,172.5 381.2,162.3 385.5,152.2 389.9,142.1 391.0,142.4 386.8,152.6 382.6,162.7 378.5,173.0 374.5,183.2" fill="#ff00ff" stroke="#ff00ff" stroke-width="0.3"/>
<polygon points="374.5,183.2 378.5,173.0 382.6,162.7 386.8,152.6 391.0,142.4 397.2,144.2 393.4,154.5 389.7,164.8 386.1,175.2 382.5,185.6" fill="#ff0d0d" stroke="#ff0d0d" stroke-width="0.3"/>
<polygon points="382.5,185.6 386.1,175.2 389.7,164.8 393.4,154.5 397.2,144.2 399.1,144.7 395.3,155.1 391.7,165.4 388.1,175.8 384.7,186.3" fill="#ff00ff" stroke="#ff00ff" stroke-width="0.3"/>
<polygon points="384.7,186.3 388.1,175.8 391.7,165.4 395.3,155.1 399.1,144.7 402.3,145.6 398.6,156.0 395.0,166.4 391.6,176.9 388.2,187.4" fill="#2b2bff" stroke="#2b2bff" stroke-width="0.3"/>
<polygon points="388.2,187.4 391.6,176.9 395.0,166.4 398.6,156.0 402.3,145.6 406.0,146.7 402.4,157.1 398.9,167.6 395.4,178.0 392.0,188.5" fill="#00e5ff" stroke="#00e5ff" stroke-width="0.3"/>
<polygon points="392.0,188.5 395.4,178.0 398.9,167.6 402.4,157.1 406.0,146.7 411.5,148.3 407.8,158.7 404.2,169.2 400.7,179.6 397.3,190.1" fill="#33ee00" stroke="#33ee00" stroke-width="0.3"/>
<polygon points="397.3,190.1 400.7,179.6 404.2,169.2 407.8,158.7 411.5,148.3 416.0,149.6 412.2,160.0 408.5,170.4 404.9,180.9 401.3,191.3" fill="#ffff00" stroke="#ffff00" stroke-width="0.3"/>
<polygon points="401.3,191.3 404.9,180.9 408.5,170.4 412.2,160.0 416.0,149.6 423.2,151.7 419.2,162.0 415.2,172.4 411.3,182.8 407.4,193.2" fill="#ffa600" stroke="#ffa600" stroke-width="0.3"/>
<polygon points="407.4,193.2 411.3,182.8 415.2,172.4 419.2,162.0 423.2,151.7 435.4,155.2 430.9,165.4 426.4,175.7 421.8,185.9 417.3,196.2" fill="#ff0d0d" stroke="#ff0d0d" stroke-width="0.3"/>
</g>
<clipPath id="pq7"><polygon points="329.6,124.7 379.5,139.1 399.0,107.5 344.0,104.0"/></clipPath><g clip-path="url(#pq7)">
<polygon points="329.6,124.7 333.2,119.5 336.8,114.3 340.4,109.2 344.0,104.0 345.9,104.1 342.5,109.4 339.1,114.7 335.7,120.1 332.3,125.5" fill="#ffff00" stroke="#ffff00" stroke-width="0.3"/>
<polygon points="332.3,125.5 335.7,120.1 339.1,114.7 342.5,109.4 345.9,104.1 349.5,104.4 346.5,109.9 343.5,115.5 340.5,121.2 337.4,127.0" fill="#33ee00" stroke="#33ee00" stroke-width="0.3"/>
<polygon points="337.4,127.0 340.5,121.2 343.5,115.5 346.5,109.9 349.5,104.4 351.6,104.5 348.8,110.2 346.0,115.9 343.1,121.8 340.2,127.8" fill="#00e5ff" stroke="#00e5ff" stroke-width="0.3"/>
<polygon points="340.2,127.8 343.1,121.8 346.0,115.9 348.8,110.2 351.6,104.5 354.2,104.7 351.6,110.5 349.0,116.4 346.2,122.5 343.5,128.7" fill="#2b2bff" stroke="#2b2bff" stroke-width="0.3"/>
<polygon points="343.5,128.7 346.2,122.5 349.0,116.4 351.6,110.5 354.2,104.7 355.4,104.7 352.8,110.6 350.2,116.6 347.5,122.8 344.8,129.1" fill="#ff00ff" stroke="#ff00ff" stroke-width="0.3"/>
<polygon points="344.8,129.1 347.5,122.8 350.2,116.6 352.8,110.6 355.4,104.7 361.5,105.1 359.0,111.3 356.5,117.7 353.9,124.3 351.3,131.0" fill="#ff0d0d" stroke="#ff0d0d" stroke-width="0.3"/>
<polygon points="351.3,131.0 353.9,124.3 356.5,117.7 359.0,111.3 361.5,105.1 363.3,105.2 360.8,111.5 358.3,118.0 355.7,124.7 353.0,131.5" fill="#ff00ff" stroke="#ff00ff" stroke-width="0.3"/>
<polygon points="353.0,131.5 355.7,124.7 358.3,118.0 360.8,111.5 363.3,105.2 366.4,105.4 363.9,111.9 361.3,118.5 358.6,125.3 355.9,132.3" fill="#2b2bff" stroke="#2b2bff" stroke-width="0.3"/>
<polygon points="355.9,132.3 358.6,125.3 361.3,118.5 363.9,111.9 366.4,105.4 370.1,105.7 367.5,112.3 364.7,119.1 361.9,126.1 359.0,133.2" fill="#00e5ff" stroke="#00e5ff" stroke-width="0.3"/>
<polygon points="359.0,133.2 361.9,126.1 364.7,119.1 367.5,112.3 370.1,105.7 375.5,106.0 372.5,112.9 369.5,119.9 366.4,127.1 363.3,134.4" fill="#33ee00" stroke="#33ee00" stroke-width="0.3"/>
<polygon points="363.3,134.4 366.4,127.1 369.5,119.9 372.5,112.9 375.5,106.0 379.9,106.3 376.6,113.4 373.3,120.6 369.9,127.9 366.5,135.3" fill="#ffff00" stroke="#ffff00" stroke-width="0.3"/>
<polygon points="366.5,135.3 369.9,127.9 373.3,120.6 376.6,113.4 379.9,106.3 387.0,106.7 383.2,114.1 379.3,121.6 375.4,129.1 371.5,136.8" fill="#ffa600" stroke="#ffa600" stroke-width="0.3"/>
<polygon points="371.5,136.8 375.4,129.1 379.3,121.6 383.2,114.1 387.0,106.7 399.0,107.5 394.1,115.4 389.2,123.3 384.4,131.2 379.5,139.1" fill="#ff0d0d" stroke="#ff0d0d" stroke-width="0.3"/>
</g>
<clipPath id="pq8"><polygon points="379.5,139.1 435.4,155.2 455.0,111.0 399.0,107.5"/></clipPath><g clip-path="url(#pq8)">
<polygon points="379.5,139.1 384.4,131.2 389.2,123.3 394.1,115.4 399.0,107.5 400.9,107.6 396.3,115.7 391.7,123.7 387.1,131.8 382.5,140.0" fill="#ffff00" stroke="#ffff00" stroke-width="0.3"/>
<polygon points="382.5,140.0 387.1,131.8 391.7,123.7 396.3,115.7 400.9,107.6 404.6,107.9 400.5,116.2 396.4,124.5 392.3,133.0 388.2,141.6" fill="#33ee00" stroke="#33ee00" stroke-width="0.3"/>
<polygon points="388.2,141.6 392.3,133.0 396.4,124.5 400.5,116.2 404.6,107.9 406.8,108.0 402.9,116.4 399.1,125.0 395.2,133.7 391.4,142.5" fill="#00e5ff" stroke="#00e5ff" stroke-width="0.3"/>
<polygon points="391.4,142.5 395.2,133.7 399.1,125.0 402.9,116.4 406.8,108.0 409.4,108.2 405.8,116.8 402.2,125.6 398.6,134.5 395.0,143.6" fill="#2b2bff" stroke="#2b2bff" stroke-width="0.3"/>
<polygon points="395.0,143.6 398.6,134.5 402.2,125.6 405.8,116.8 409.4,108.2 410.6,108.2 407.1,116.9 403.6,125.8 400.0,134.8 396.5,144.0" fill="#ff00ff" stroke="#ff00ff" stroke-width="0.3"/>
<polygon points="396.5,144.0 400.0,134.8 403.6,125.8 407.1,116.9 410.6,108.2 416.8,108.6 413.5,117.7 410.3,127.0 407.0,136.4 403.8,146.1" fill="#ff0d0d" stroke="#ff0d0d" stroke-width="0.3"/>
<polygon points="403.8,146.1 407.0,136.4 410.3,127.0 413.5,117.7 416.8,108.6 418.6,108.7 415.4,117.9 412.2,127.3 409.0,136.9 405.8,146.7" fill="#ff00ff" stroke="#ff00ff" stroke-width="0.3"/>
<polygon points="405.8,146.7 409.0,136.9 412.2,127.3 415.4,117.9 418.6,108.7 421.8,108.9 418.6,118.3 415.4,127.9 412.2,137.6 408.9,147.6" fill="#2b2bff" stroke="#2b2bff" stroke-width="0.3"/>
<polygon points="408.9,147.6 412.2,137.6 415.4,127.9 418.6,118.3 421.8,108.9 425.6,109.2 422.3,118.7 419.0,128.5 415.7,138.5 412.5,148.6" fill="#00e5ff" stroke="#00e5ff" stroke-width="0.3"/>
<polygon points="412.5,148.6 415.7,138.5 419.0,128.5 422.3,118.7 425.6,109.2 431.1,109.5 427.6,119.4 424.1,129.4 420.7,139.6 417.2,150.0" fill="#33ee00" stroke="#33ee00" stroke-width="0.3"/>
<polygon points="417.2,150.0 420.7,139.6 424.1,129.4 427.6,119.4 431.1,109.5 435.5,109.8 431.9,119.9 428.2,130.1 424.5,140.5 420.9,151.0" fill="#ffff00" stroke="#ffff00" stroke-width="0.3"/>
<polygon points="420.9,151.0 424.5,140.5 428.2,130.1 431.9,119.9 435.5,109.8 442.8,110.2 438.7,120.7 434.6,131.2 430.5,141.9 426.5,152.6" fill="#ffa600" stroke="#ffa600" stroke-width="0.3"/>
<polygon points="426.5,152.6 430.5,141.9 434.6,131.2 438.7,120.7 442.8,110.2 455.0,111.0 450.1,122.0 445.2,133.1 440.3,144.1 435.4,155.2" fill="#ff0d0d" stroke="#ff0d0d" stroke-width="0.3"/>
</g>
<polygon points="301.1,160.3 417.3,196.2 455.0,111.0 344.0,104.0" fill="none" stroke="#fff" stroke-width="1.6"/>
<polyline points="355.7,177.5 379.5,139.1 399.0,107.5" fill="none" stroke="#fff" stroke-width="1.8"/>
<polyline points="329.6,124.7 379.5,139.1 435.4,155.2" fill="none" stroke="#fff" stroke-width="1.8"/>
<polyline points="299.6,161.7 418.1,197.8 456.6,111.0" fill="none" stroke="#b8b8b8" stroke-width="0.6"/>
<path d="M295.5,148.6 C296.2,147.7 298.2,145.1 300.0,143.0 C301.8,140.9 304.2,138.2 306.0,136.0 C307.8,133.8 309.3,132.0 311.0,130.0 C312.7,128.0 314.8,125.5 316.0,124.0 C317.2,122.5 317.8,120.5 318.0,121.0 C318.2,121.5 318.2,124.8 317.5,127.0 C316.8,129.2 315.1,131.8 314.0,134.0 C312.9,136.2 312.2,138.1 311.0,140.0 C309.8,141.9 308.5,144.1 307.0,145.5 C305.5,146.9 303.9,148.1 302.0,148.6 C300.1,149.1 296.6,148.6 295.5,148.6Z" fill="#d2691e" stroke="#1a1aff" stroke-width="1.4" stroke-linejoin="round"/>
<polygon points="331.2,79.6 327.5,82.2 324.9,90.6 322.3,102.1 319.7,113.6 317.0,122.0 316.0,127.0 316.5,130.5 317.6,130.0 329.1,112.6 340.1,95.8 339.6,90.6 336.4,82.2" fill="#b80000"/>
<path d="M316.0,127.0 C316.1,126.4 316.1,125.2 316.5,123.2 C316.9,121.2 317.7,119.1 318.6,115.2 C319.5,111.3 320.9,105.1 322.1,100.1 C323.4,95.1 325.0,88.1 326.1,85.0 C327.2,81.9 327.6,82.4 328.5,81.5 C329.4,80.6 331.2,80.0 331.8,79.7" fill="none" stroke="#1a1aff" stroke-width="1.4"/>
<clipPath id="clipB"><path d="M331.8,79.7 C332.3,78.9 333.6,76.7 335.0,75.0 C336.4,73.3 338.0,72.0 340.0,69.5 C342.0,67.0 344.6,63.4 347.0,60.0 C349.4,56.6 351.7,53.2 354.5,49.0 C357.3,44.8 360.8,40.0 364.0,35.0 C367.2,30.1 371.5,23.4 373.8,19.3 C376.1,15.2 376.8,12.8 378.0,10.5 C379.2,8.2 380.2,6.5 381.0,5.3 C381.8,4.1 382.2,3.6 383.0,3.6 C383.8,3.6 384.6,3.2 385.5,5.0 C386.4,6.8 387.0,9.3 388.3,14.5 C389.6,19.7 391.3,28.2 393.1,36.2 C394.9,44.2 397.6,56.5 399.2,62.8 C400.8,69.1 401.6,70.4 403.0,74.0 C404.4,77.6 405.9,81.7 407.6,84.5 C409.3,87.3 411.0,89.0 413.0,91.0 C415.0,93.0 417.2,95.0 419.7,96.6 C422.2,98.2 425.2,99.4 428.0,100.6 C430.8,101.8 432.5,102.3 436.6,103.8 C440.7,105.3 449.9,108.6 452.5,109.6 L413.6,189.0 C410.6,187.6 401.3,183.7 395.5,180.5 C389.7,177.3 383.4,173.5 378.6,169.7 C373.8,165.9 370.0,162.0 366.6,157.6 C363.2,153.2 360.4,147.5 358.1,143.1 C355.8,138.7 354.5,134.9 353.0,131.0 C351.5,127.1 350.2,123.0 349.0,119.5 C347.8,116.0 346.9,112.9 346.0,110.0 C345.1,107.1 344.1,104.3 343.3,102.0 C342.5,99.7 341.8,98.1 341.0,96.0 C340.2,93.9 339.3,91.5 338.3,89.3 C337.3,87.1 336.1,84.6 335.0,83.0 C333.9,81.4 332.3,80.2 331.8,79.7Z"/></clipPath>
<g clip-path="url(#clipB)">
<path d="M331.8,79.7 C332.3,78.9 333.6,76.7 335.0,75.0 C336.4,73.3 338.0,72.0 340.0,69.5 C342.0,67.0 344.6,63.4 347.0,60.0 C349.4,56.6 351.7,53.2 354.5,49.0 C357.3,44.8 360.8,40.0 364.0,35.0 C367.2,30.1 371.5,23.4 373.8,19.3 C376.1,15.2 376.8,12.8 378.0,10.5 C379.2,8.2 380.2,6.5 381.0,5.3 C381.8,4.1 382.2,3.6 383.0,3.6 C383.8,3.6 384.6,3.2 385.5,5.0 C386.4,6.8 387.0,9.3 388.3,14.5 C389.6,19.7 391.3,28.2 393.1,36.2 C394.9,44.2 397.6,56.5 399.2,62.8 C400.8,69.1 401.6,70.4 403.0,74.0 C404.4,77.6 405.9,81.7 407.6,84.5 C409.3,87.3 411.0,89.0 413.0,91.0 C415.0,93.0 417.2,95.0 419.7,96.6 C422.2,98.2 425.2,99.4 428.0,100.6 C430.8,101.8 432.5,102.3 436.6,103.8 C440.7,105.3 449.9,108.6 452.5,109.6 L413.6,189.0 C410.6,187.6 401.3,183.7 395.5,180.5 C389.7,177.3 383.4,173.5 378.6,169.7 C373.8,165.9 370.0,162.0 366.6,157.6 C363.2,153.2 360.4,147.5 358.1,143.1 C355.8,138.7 354.5,134.9 353.0,131.0 C351.5,127.1 350.2,123.0 349.0,119.5 C347.8,116.0 346.9,112.9 346.0,110.0 C345.1,107.1 344.1,104.3 343.3,102.0 C342.5,99.7 341.8,98.1 341.0,96.0 C340.2,93.9 339.3,91.5 338.3,89.3 C337.3,87.1 336.1,84.6 335.0,83.0 C333.9,81.4 332.3,80.2 331.8,79.7Z" fill="url(#gOrB)"/>
<polygon points="320.0,0.0 460.0,0.0 404.0,71.0 401.0,71.0 404.3,85.0 397.3,76.2 402.3,93.6 394.1,81.8 398.8,98.6 391.9,90.9 392.0,98.4 386.0,92.5 389.0,106.7 382.1,98.7 382.5,107.1 379.2,107.1 379.3,114.8 375.3,113.4 377.2,125.1 372.8,122.6 371.9,127.9 368.9,128.0 372.8,143.2 365.0,132.4 365.7,140.8 361.8,138.9 362.6,147.3 359.7,146.1 360.0,152.0 340.0,150.0" fill="#ff0000" filter="url(#soft)"/>
<polygon points="330.0,79.0 383.0,0.0 395.0,0.0 396.0,33.0 393.9,37.2 393.1,37.0 390.1,44.0 389.2,42.9 386.3,48.8 386.0,45.8 382.6,52.3 381.8,50.2 377.9,58.2 376.9,56.7 373.2,63.7 371.3,65.1 368.1,70.6 369.0,62.4 363.8,74.6 362.2,74.8 358.5,82.2 360.2,71.3 354.2,87.0 354.1,83.1 349.7,93.5 349.2,90.7 345.8,97.6 345.7,93.5 342.8,99.2 341.0,101.0" fill="#ff00ff" filter="url(#soft)"/>
</g>
<path d="M331.8,79.7 C332.3,78.9 333.6,76.7 335.0,75.0 C336.4,73.3 338.0,72.0 340.0,69.5 C342.0,67.0 344.6,63.4 347.0,60.0 C349.4,56.6 351.7,53.2 354.5,49.0 C357.3,44.8 360.8,40.0 364.0,35.0 C367.2,30.1 371.5,23.4 373.8,19.3 C376.1,15.2 376.8,12.8 378.0,10.5 C379.2,8.2 380.2,6.5 381.0,5.3 C381.8,4.1 382.2,3.6 383.0,3.6 C383.8,3.6 384.6,3.2 385.5,5.0 C386.4,6.8 387.0,9.3 388.3,14.5 C389.6,19.7 391.3,28.2 393.1,36.2 C394.9,44.2 397.6,56.5 399.2,62.8 C400.8,69.1 401.6,70.4 403.0,74.0 C404.4,77.6 405.9,81.7 407.6,84.5 C409.3,87.3 411.0,89.0 413.0,91.0 C415.0,93.0 417.2,95.0 419.7,96.6 C422.2,98.2 425.2,99.4 428.0,100.6 C430.8,101.8 432.5,102.3 436.6,103.8 C440.7,105.3 449.9,108.6 452.5,109.6 L413.6,189.0 C410.6,187.6 401.3,183.7 395.5,180.5 C389.7,177.3 383.4,173.5 378.6,169.7 C373.8,165.9 370.0,162.0 366.6,157.6 C363.2,153.2 360.4,147.5 358.1,143.1 C355.8,138.7 354.5,134.9 353.0,131.0 C351.5,127.1 350.2,123.0 349.0,119.5 C347.8,116.0 346.9,112.9 346.0,110.0 C345.1,107.1 344.1,104.3 343.3,102.0 C342.5,99.7 341.8,98.1 341.0,96.0 C340.2,93.9 339.3,91.5 338.3,89.3 C337.3,87.1 336.1,84.6 335.0,83.0 C333.9,81.4 332.3,80.2 331.8,79.7Z" fill="none" stroke="#1a1aff" stroke-width="1.4" stroke-linejoin="round"/>
<polyline points="502.6,59.4 520.3,172.3 657.3,199.5 680,112" stroke="#b0b0b0" stroke-width="0.6" fill="none"/>
<line x1="524.5" y1="169" x2="568.5" y2="95.2" stroke="#aaa" stroke-width="0.6"/>
<line x1="506.3" y1="83.0" x2="509.3" y2="83.3" stroke="#999" stroke-width="0.6"/>
<line x1="507.1" y1="88.3" x2="508.9" y2="88.5" stroke="#aaa" stroke-width="0.5"/>
<line x1="508.0" y1="93.6" x2="509.8" y2="93.8" stroke="#aaa" stroke-width="0.5"/>
<line x1="508.8" y1="98.8" x2="510.6" y2="99.0" stroke="#aaa" stroke-width="0.5"/>
<line x1="509.6" y1="104.1" x2="511.4" y2="104.3" stroke="#aaa" stroke-width="0.5"/>
<line x1="510.4" y1="109.4" x2="513.4" y2="109.7" stroke="#999" stroke-width="0.6"/>
<line x1="511.2" y1="114.6" x2="513.0" y2="114.8" stroke="#aaa" stroke-width="0.5"/>
<line x1="512.1" y1="119.7" x2="513.9" y2="119.9" stroke="#aaa" stroke-width="0.5"/>
<line x1="512.9" y1="124.9" x2="514.7" y2="125.1" stroke="#aaa" stroke-width="0.5"/>
<line x1="513.7" y1="130.0" x2="515.5" y2="130.2" stroke="#aaa" stroke-width="0.5"/>
<line x1="514.5" y1="135.2" x2="517.5" y2="135.5" stroke="#999" stroke-width="0.6"/>
<line x1="515.2" y1="139.9" x2="517.0" y2="140.1" stroke="#aaa" stroke-width="0.5"/>
<line x1="516.0" y1="144.6" x2="517.8" y2="144.8" stroke="#aaa" stroke-width="0.5"/>
<line x1="516.7" y1="149.3" x2="518.5" y2="149.5" stroke="#aaa" stroke-width="0.5"/>
<line x1="517.4" y1="154.0" x2="519.2" y2="154.2" stroke="#aaa" stroke-width="0.5"/>
<line x1="518.2" y1="158.7" x2="521.2" y2="159.0" stroke="#999" stroke-width="0.6"/>
<text x="501.0" y="85.1" font-size="6.4" fill="#3a3a3a" text-anchor="middle">6</text>
<text x="505.8" y="111.6" font-size="6.4" fill="#3a3a3a" text-anchor="middle">4</text>
<text x="510.0" y="137.4" font-size="6.4" fill="#3a3a3a" text-anchor="middle">2</text>
<text x="513.9" y="160.9" font-size="6.4" fill="#3a3a3a" text-anchor="middle">0</text>
<text x="490.0" y="119.8" font-size="6.6" fill="#000" text-anchor="middle"><tspan font-weight="bold" letter-spacing="-0.15"><tspan font-style="italic">U</tspan><tspan font-size="4.6" dy="1">1</tspan><tspan dy="-1">(x,t)</tspan></tspan></text>
<text x="543.7" y="184.7" font-size="6.4" fill="#3a3a3a" text-anchor="middle">&#8722;2</text>
<text x="584.3" y="192.7" font-size="6.4" fill="#3a3a3a" text-anchor="middle">0</text>
<text x="627.3" y="202.4" font-size="6.4" fill="#3a3a3a" text-anchor="middle">2</text>
<text x="580.2" y="203.0" font-size="6.5" fill="#222" text-anchor="middle"><tspan font-weight="bold">t</tspan></text>
<text x="679.5" y="130.5" font-size="6.4" fill="#3a3a3a" text-anchor="middle">2</text>
<text x="673.8" y="155.4" font-size="6.4" fill="#3a3a3a" text-anchor="middle">0</text>
<text x="667.8" y="184.1" font-size="6.4" fill="#3a3a3a" text-anchor="middle">&#8722;2</text>
<text x="684.5" y="158.0" font-size="6.5" fill="#222" text-anchor="middle"><tspan font-weight="bold">x</tspan></text>
<line x1="520.3" y1="172.3" x2="520.3" y2="175.1" stroke="#aaa" stroke-width="0.5"/>
<line x1="526.0" y1="173.4" x2="526.0" y2="175.0" stroke="#aaa" stroke-width="0.5"/>
<line x1="531.7" y1="174.6" x2="531.7" y2="176.2" stroke="#aaa" stroke-width="0.5"/>
<line x1="537.4" y1="175.7" x2="537.4" y2="177.3" stroke="#aaa" stroke-width="0.5"/>
<line x1="543.1" y1="176.8" x2="543.1" y2="179.6" stroke="#aaa" stroke-width="0.5"/>
<line x1="548.8" y1="178.0" x2="548.8" y2="179.6" stroke="#aaa" stroke-width="0.5"/>
<line x1="554.5" y1="179.1" x2="554.5" y2="180.7" stroke="#aaa" stroke-width="0.5"/>
<line x1="560.3" y1="180.2" x2="560.3" y2="181.8" stroke="#aaa" stroke-width="0.5"/>
<line x1="566.0" y1="181.4" x2="566.0" y2="184.2" stroke="#aaa" stroke-width="0.5"/>
<line x1="571.7" y1="182.5" x2="571.7" y2="184.1" stroke="#aaa" stroke-width="0.5"/>
<line x1="577.4" y1="183.6" x2="577.4" y2="185.2" stroke="#aaa" stroke-width="0.5"/>
<line x1="583.1" y1="184.8" x2="583.1" y2="186.4" stroke="#aaa" stroke-width="0.5"/>
<line x1="588.8" y1="185.9" x2="588.8" y2="188.7" stroke="#aaa" stroke-width="0.5"/>
<line x1="594.5" y1="187.0" x2="594.5" y2="188.6" stroke="#aaa" stroke-width="0.5"/>
<line x1="600.2" y1="188.2" x2="600.2" y2="189.8" stroke="#aaa" stroke-width="0.5"/>
<line x1="605.9" y1="189.3" x2="605.9" y2="190.9" stroke="#aaa" stroke-width="0.5"/>
<line x1="611.6" y1="190.4" x2="611.6" y2="193.2" stroke="#aaa" stroke-width="0.5"/>
<line x1="617.3" y1="191.6" x2="617.3" y2="193.2" stroke="#aaa" stroke-width="0.5"/>
<line x1="623.0" y1="192.7" x2="623.0" y2="194.3" stroke="#aaa" stroke-width="0.5"/>
<line x1="628.8" y1="193.8" x2="628.8" y2="195.4" stroke="#aaa" stroke-width="0.5"/>
<line x1="634.5" y1="195.0" x2="634.5" y2="197.8" stroke="#aaa" stroke-width="0.5"/>
<line x1="640.2" y1="196.1" x2="640.2" y2="197.7" stroke="#aaa" stroke-width="0.5"/>
<line x1="645.9" y1="197.2" x2="645.9" y2="198.8" stroke="#aaa" stroke-width="0.5"/>
<line x1="651.6" y1="198.4" x2="651.6" y2="200.0" stroke="#aaa" stroke-width="0.5"/>
<line x1="657.3" y1="199.5" x2="657.3" y2="202.3" stroke="#aaa" stroke-width="0.5"/>
<line x1="657.3" y1="199.5" x2="662.9" y2="199.5" stroke="#aaa" stroke-width="0.5"/>
<line x1="658.2" y1="195.9" x2="661.4" y2="195.9" stroke="#aaa" stroke-width="0.5"/>
<line x1="659.2" y1="192.2" x2="662.4" y2="192.2" stroke="#aaa" stroke-width="0.5"/>
<line x1="660.1" y1="188.6" x2="663.3" y2="188.6" stroke="#aaa" stroke-width="0.5"/>
<line x1="661.1" y1="184.9" x2="666.7" y2="184.9" stroke="#aaa" stroke-width="0.5"/>
<line x1="662.0" y1="181.3" x2="665.2" y2="181.3" stroke="#aaa" stroke-width="0.5"/>
<line x1="663.0" y1="177.6" x2="666.2" y2="177.6" stroke="#aaa" stroke-width="0.5"/>
<line x1="663.9" y1="174.0" x2="667.1" y2="174.0" stroke="#aaa" stroke-width="0.5"/>
<line x1="664.9" y1="170.3" x2="670.5" y2="170.3" stroke="#aaa" stroke-width="0.5"/>
<line x1="665.8" y1="166.7" x2="669.0" y2="166.7" stroke="#aaa" stroke-width="0.5"/>
<line x1="666.8" y1="163.0" x2="670.0" y2="163.0" stroke="#aaa" stroke-width="0.5"/>
<line x1="667.7" y1="159.4" x2="670.9" y2="159.4" stroke="#aaa" stroke-width="0.5"/>
<line x1="668.6" y1="155.8" x2="674.2" y2="155.8" stroke="#aaa" stroke-width="0.5"/>
<line x1="669.6" y1="152.1" x2="672.8" y2="152.1" stroke="#aaa" stroke-width="0.5"/>
<line x1="670.5" y1="148.5" x2="673.7" y2="148.5" stroke="#aaa" stroke-width="0.5"/>
<line x1="671.5" y1="144.8" x2="674.7" y2="144.8" stroke="#aaa" stroke-width="0.5"/>
<line x1="672.4" y1="141.2" x2="678.0" y2="141.2" stroke="#aaa" stroke-width="0.5"/>
<line x1="673.4" y1="137.5" x2="676.6" y2="137.5" stroke="#aaa" stroke-width="0.5"/>
<line x1="674.3" y1="133.9" x2="677.5" y2="133.9" stroke="#aaa" stroke-width="0.5"/>
<line x1="675.3" y1="130.2" x2="678.5" y2="130.2" stroke="#aaa" stroke-width="0.5"/>
<line x1="676.2" y1="126.6" x2="681.8" y2="126.6" stroke="#aaa" stroke-width="0.5"/>
<line x1="677.2" y1="122.9" x2="680.4" y2="122.9" stroke="#aaa" stroke-width="0.5"/>
<line x1="678.1" y1="119.3" x2="681.3" y2="119.3" stroke="#aaa" stroke-width="0.5"/>
<line x1="679.1" y1="115.6" x2="682.3" y2="115.6" stroke="#aaa" stroke-width="0.5"/>
<line x1="680.0" y1="112.0" x2="685.6" y2="112.0" stroke="#aaa" stroke-width="0.5"/>
<polygon points="528.0,168.0 657.3,192.4 679.0,104.0 570.5,96.3" fill="#fff"/>
<clipPath id="pq9"><polygon points="528.0,168.0 590.3,180.0 607.1,138.1 550.6,128.0"/></clipPath><g clip-path="url(#pq9)">
<polygon points="528.0,168.0 533.6,158.0 539.3,148.0 545.0,138.0 550.6,128.0 552.5,128.3 547.2,138.4 542.0,148.5 536.7,158.6 531.4,168.7" fill="#ffff00" stroke="#ffff00" stroke-width="0.3"/>
<polygon points="531.4,168.7 536.7,158.6 542.0,148.5 547.2,138.4 552.5,128.3 556.3,129.0 551.6,139.2 546.9,149.4 542.3,159.6 537.8,169.9" fill="#33ee00" stroke="#33ee00" stroke-width="0.3"/>
<polygon points="537.8,169.9 542.3,159.6 546.9,149.4 551.6,139.2 556.3,129.0 558.4,129.4 554.1,139.7 549.7,149.9 545.5,160.2 541.3,170.6" fill="#00e5ff" stroke="#00e5ff" stroke-width="0.3"/>
<polygon points="541.3,170.6 545.5,160.2 549.7,149.9 554.1,139.7 558.4,129.4 561.1,129.9 557.1,140.2 553.1,150.6 549.2,160.9 545.3,171.3" fill="#2b2bff" stroke="#2b2bff" stroke-width="0.3"/>
<polygon points="545.3,171.3 549.2,160.9 553.1,150.6 557.1,140.2 561.1,129.9 562.3,130.1 558.4,140.4 554.5,150.8 550.7,161.2 547.0,171.7" fill="#ff00ff" stroke="#ff00ff" stroke-width="0.3"/>
<polygon points="547.0,171.7 550.7,161.2 554.5,150.8 558.4,140.4 562.3,130.1 568.5,131.2 565.0,141.7 561.6,152.2 558.3,162.7 555.1,173.2" fill="#ff0d0d" stroke="#ff0d0d" stroke-width="0.3"/>
<polygon points="555.1,173.2 558.3,162.7 561.6,152.2 565.0,141.7 568.5,131.2 570.4,131.5 567.0,142.0 563.7,152.5 560.4,163.1 557.3,173.6" fill="#ff00ff" stroke="#ff00ff" stroke-width="0.3"/>
<polygon points="557.3,173.6 560.4,163.1 563.7,152.5 567.0,142.0 570.4,131.5 573.6,132.1 570.3,142.6 567.0,153.2 563.9,163.7 560.8,174.3" fill="#2b2bff" stroke="#2b2bff" stroke-width="0.3"/>
<polygon points="560.8,174.3 563.9,163.7 567.0,153.2 570.3,142.6 573.6,132.1 577.4,132.8 574.1,143.3 570.9,153.9 567.8,164.5 564.8,175.1" fill="#00e5ff" stroke="#00e5ff" stroke-width="0.3"/>
<polygon points="564.8,175.1 567.8,164.5 570.9,153.9 574.1,143.3 577.4,132.8 582.9,133.8 579.6,144.3 576.3,154.9 573.2,165.5 570.1,176.1" fill="#33ee00" stroke="#33ee00" stroke-width="0.3"/>
<polygon points="570.1,176.1 573.2,165.5 576.3,154.9 579.6,144.3 582.9,133.8 587.4,134.6 584.0,145.1 580.6,155.7 577.3,166.3 574.1,176.9" fill="#ffff00" stroke="#ffff00" stroke-width="0.3"/>
<polygon points="574.1,176.9 577.3,166.3 580.6,155.7 584.0,145.1 587.4,134.6 594.8,135.9 591.1,146.4 587.5,157.0 583.9,167.5 580.3,178.1" fill="#ffa600" stroke="#ffa600" stroke-width="0.3"/>
<polygon points="580.3,178.1 583.9,167.5 587.5,157.0 591.1,146.4 594.8,135.9 607.1,138.1 602.9,148.6 598.7,159.0 594.5,169.5 590.3,180.0" fill="#ff0d0d" stroke="#ff0d0d" stroke-width="0.3"/>
</g>
<clipPath id="pq10"><polygon points="590.3,180.0 657.3,192.4 668.0,149.0 607.1,138.1"/></clipPath><g clip-path="url(#pq10)">
<polygon points="590.3,180.0 594.5,169.5 598.7,159.0 602.9,148.6 607.1,138.1 609.2,138.5 605.3,149.0 601.5,159.6 597.8,170.1 594.0,180.7" fill="#ffff00" stroke="#ffff00" stroke-width="0.3"/>
<polygon points="594.0,180.7 597.8,170.1 601.5,159.6 605.3,149.0 609.2,138.5 613.2,139.2 610.0,149.9 606.9,160.5 603.8,171.2 600.8,181.9" fill="#33ee00" stroke="#33ee00" stroke-width="0.3"/>
<polygon points="600.8,181.9 603.8,171.2 606.9,160.5 610.0,149.9 613.2,139.2 615.5,139.6 612.7,150.3 609.9,161.1 607.2,171.9 604.6,182.6" fill="#00e5ff" stroke="#00e5ff" stroke-width="0.3"/>
<polygon points="604.6,182.6 607.2,171.9 609.9,161.1 612.7,150.3 615.5,139.6 618.4,140.1 615.9,150.9 613.5,161.8 611.2,172.6 608.9,183.4" fill="#2b2bff" stroke="#2b2bff" stroke-width="0.3"/>
<polygon points="608.9,183.4 611.2,172.6 613.5,161.8 615.9,150.9 618.4,140.1 619.7,140.4 617.3,151.2 615.1,162.0 612.9,172.9 610.7,183.8" fill="#ff00ff" stroke="#ff00ff" stroke-width="0.3"/>
<polygon points="610.7,183.8 612.9,172.9 615.1,162.0 617.3,151.2 619.7,140.4 626.4,141.6 624.5,152.5 622.7,163.4 621.1,174.4 619.4,185.4" fill="#ff0d0d" stroke="#ff0d0d" stroke-width="0.3"/>
<polygon points="619.4,185.4 621.1,174.4 622.7,163.4 624.5,152.5 626.4,141.6 628.4,141.9 626.6,152.9 624.9,163.8 623.3,174.8 621.8,185.8" fill="#ff00ff" stroke="#ff00ff" stroke-width="0.3"/>
<polygon points="621.8,185.8 623.3,174.8 624.9,163.8 626.6,152.9 628.4,141.9 631.9,142.5 630.2,153.5 628.6,164.5 627.0,175.5 625.6,186.5" fill="#2b2bff" stroke="#2b2bff" stroke-width="0.3"/>
<polygon points="625.6,186.5 627.0,175.5 628.6,164.5 630.2,153.5 631.9,142.5 636.0,143.3 634.3,154.3 632.7,165.3 631.2,176.3 629.8,187.3" fill="#00e5ff" stroke="#00e5ff" stroke-width="0.3"/>
<polygon points="629.8,187.3 631.2,176.3 632.7,165.3 634.3,154.3 636.0,143.3 642.0,144.3 640.2,155.3 638.6,166.3 637.0,177.3 635.5,188.4" fill="#33ee00" stroke="#33ee00" stroke-width="0.3"/>
<polygon points="635.5,188.4 637.0,177.3 638.6,166.3 640.2,155.3 642.0,144.3 646.8,145.2 645.0,156.2 643.2,167.2 641.5,178.2 639.9,189.2" fill="#ffff00" stroke="#ffff00" stroke-width="0.3"/>
<polygon points="639.9,189.2 641.5,178.2 643.2,167.2 645.0,156.2 646.8,145.2 654.7,146.6 652.6,157.6 650.6,168.5 648.6,179.5 646.6,190.4" fill="#ffa600" stroke="#ffa600" stroke-width="0.3"/>
<polygon points="646.6,190.4 648.6,179.5 650.6,168.5 652.6,157.6 654.7,146.6 668.0,149.0 665.3,159.8 662.6,170.7 660.0,181.6 657.3,192.4" fill="#ff0d0d" stroke="#ff0d0d" stroke-width="0.3"/>
</g>
<clipPath id="pq11"><polygon points="550.6,128.0 607.1,138.1 622.3,100.0 570.5,96.3"/></clipPath><g clip-path="url(#pq11)">
<polygon points="550.6,128.0 555.6,120.1 560.5,112.2 565.5,104.2 570.5,96.3 572.3,96.4 567.6,104.4 563.0,112.5 558.3,120.5 553.7,128.6" fill="#ffff00" stroke="#ffff00" stroke-width="0.3"/>
<polygon points="553.7,128.6 558.3,120.5 563.0,112.5 567.6,104.4 572.3,96.4 575.7,96.7 571.6,104.8 567.5,113.0 563.5,121.3 559.5,129.6" fill="#33ee00" stroke="#33ee00" stroke-width="0.3"/>
<polygon points="559.5,129.6 563.5,121.3 567.5,113.0 571.6,104.8 575.7,96.7 577.7,96.8 573.8,105.1 570.1,113.4 566.3,121.7 562.6,130.2" fill="#00e5ff" stroke="#00e5ff" stroke-width="0.3"/>
<polygon points="562.6,130.2 566.3,121.7 570.1,113.4 573.8,105.1 577.7,96.8 580.1,97.0 576.6,105.3 573.1,113.8 569.7,122.2 566.3,130.8" fill="#2b2bff" stroke="#2b2bff" stroke-width="0.3"/>
<polygon points="566.3,130.8 569.7,122.2 573.1,113.8 576.6,105.3 580.1,97.0 581.2,97.1 577.8,105.5 574.4,113.9 571.1,122.5 567.8,131.1" fill="#ff00ff" stroke="#ff00ff" stroke-width="0.3"/>
<polygon points="567.8,131.1 571.1,122.5 574.4,113.9 577.8,105.5 581.2,97.1 586.9,97.5 583.9,106.1 580.9,114.7 578.0,123.5 575.2,132.4" fill="#ff0d0d" stroke="#ff0d0d" stroke-width="0.3"/>
<polygon points="575.2,132.4 578.0,123.5 580.9,114.7 583.9,106.1 586.9,97.5 588.7,97.6 585.7,106.2 582.8,115.0 579.9,123.8 577.1,132.7" fill="#ff00ff" stroke="#ff00ff" stroke-width="0.3"/>
<polygon points="577.1,132.7 579.9,123.8 582.8,115.0 585.7,106.2 588.7,97.6 591.6,97.8 588.7,106.5 585.8,115.4 583.1,124.3 580.4,133.3" fill="#2b2bff" stroke="#2b2bff" stroke-width="0.3"/>
<polygon points="580.4,133.3 583.1,124.3 585.8,115.4 588.7,106.5 591.6,97.8 595.1,98.1 592.2,106.9 589.4,115.8 586.6,124.8 583.9,134.0" fill="#00e5ff" stroke="#00e5ff" stroke-width="0.3"/>
<polygon points="583.9,134.0 586.6,124.8 589.4,115.8 592.2,106.9 595.1,98.1 600.2,98.4 597.2,107.4 594.3,116.5 591.5,125.6 588.7,134.8" fill="#33ee00" stroke="#33ee00" stroke-width="0.3"/>
<polygon points="588.7,134.8 591.5,125.6 594.3,116.5 597.2,107.4 600.2,98.4 604.3,98.7 601.2,107.8 598.2,117.0 595.3,126.2 592.4,135.5" fill="#ffff00" stroke="#ffff00" stroke-width="0.3"/>
<polygon points="592.4,135.5 595.3,126.2 598.2,117.0 601.2,107.8 604.3,98.7 611.0,99.2 607.7,108.4 604.5,117.7 601.2,127.1 598.0,136.5" fill="#ffa600" stroke="#ffa600" stroke-width="0.3"/>
<polygon points="598.0,136.5 601.2,127.1 604.5,117.7 607.7,108.4 611.0,99.2 622.3,100.0 618.5,109.5 614.7,119.0 610.9,128.6 607.1,138.1" fill="#ff0d0d" stroke="#ff0d0d" stroke-width="0.3"/>
</g>
<clipPath id="pq12"><polygon points="607.1,138.1 668.0,149.0 679.0,104.0 622.3,100.0"/></clipPath><g clip-path="url(#pq12)">
<polygon points="607.1,138.1 610.9,128.6 614.7,119.0 618.5,109.5 622.3,100.0 624.2,100.1 620.8,109.8 617.3,119.4 613.9,129.0 610.4,138.7" fill="#ffff00" stroke="#ffff00" stroke-width="0.3"/>
<polygon points="610.4,138.7 613.9,129.0 617.3,119.4 620.8,109.8 624.2,100.1 628.0,100.4 625.1,110.2 622.2,120.0 619.4,129.9 616.6,139.8" fill="#33ee00" stroke="#33ee00" stroke-width="0.3"/>
<polygon points="616.6,139.8 619.4,129.9 622.2,120.0 625.1,110.2 628.0,100.4 630.2,100.6 627.6,110.4 625.0,120.4 622.5,130.4 620.0,140.4" fill="#00e5ff" stroke="#00e5ff" stroke-width="0.3"/>
<polygon points="620.0,140.4 622.5,130.4 625.0,120.4 627.6,110.4 630.2,100.6 632.8,100.7 630.6,110.7 628.3,120.8 626.1,130.9 624.0,141.1" fill="#2b2bff" stroke="#2b2bff" stroke-width="0.3"/>
<polygon points="624.0,141.1 626.1,130.9 628.3,120.8 630.6,110.7 632.8,100.7 634.0,100.8 631.9,110.8 629.7,121.0 627.7,131.1 625.6,141.4" fill="#ff00ff" stroke="#ff00ff" stroke-width="0.3"/>
<polygon points="625.6,141.4 627.7,131.1 629.7,121.0 631.9,110.8 634.0,100.8 640.3,101.3 638.5,111.5 636.8,121.9 635.2,132.3 633.6,142.8" fill="#ff0d0d" stroke="#ff0d0d" stroke-width="0.3"/>
<polygon points="633.6,142.8 635.2,132.3 636.8,121.9 638.5,111.5 640.3,101.3 642.2,101.4 640.5,111.7 638.8,122.1 637.2,132.6 635.7,143.2" fill="#ff00ff" stroke="#ff00ff" stroke-width="0.3"/>
<polygon points="635.7,143.2 637.2,132.6 638.8,122.1 640.5,111.7 642.2,101.4 645.4,101.6 643.7,112.0 642.2,122.5 640.6,133.1 639.2,143.8" fill="#2b2bff" stroke="#2b2bff" stroke-width="0.3"/>
<polygon points="639.2,143.8 640.6,133.1 642.2,122.5 643.7,112.0 645.4,101.6 649.2,101.9 647.6,112.4 646.0,123.0 644.5,133.7 643.0,144.5" fill="#00e5ff" stroke="#00e5ff" stroke-width="0.3"/>
<polygon points="643.0,144.5 644.5,133.7 646.0,123.0 647.6,112.4 649.2,101.9 654.8,102.3 653.0,112.9 651.4,123.7 649.8,134.5 648.2,145.5" fill="#33ee00" stroke="#33ee00" stroke-width="0.3"/>
<polygon points="648.2,145.5 649.8,134.5 651.4,123.7 653.0,112.9 654.8,102.3 659.3,102.6 657.4,113.4 655.6,124.2 653.9,135.2 652.2,146.2" fill="#ffff00" stroke="#ffff00" stroke-width="0.3"/>
<polygon points="652.2,146.2 653.9,135.2 655.6,124.2 657.4,113.4 659.3,102.6 666.7,103.1 664.5,114.1 662.4,125.1 660.3,136.1 658.2,147.3" fill="#ffa600" stroke="#ffa600" stroke-width="0.3"/>
<polygon points="658.2,147.3 660.3,136.1 662.4,125.1 664.5,114.1 666.7,103.1 679.0,104.0 676.2,115.2 673.5,126.5 670.8,137.8 668.0,149.0" fill="#ff0d0d" stroke="#ff0d0d" stroke-width="0.3"/>
</g>
<polygon points="528.0,168.0 657.3,192.4 679.0,104.0 570.5,96.3" fill="none" stroke="#fff" stroke-width="1.6"/>
<polyline points="590.3,180.0 607.1,138.1 622.3,100.0" fill="none" stroke="#fff" stroke-width="1.8"/>
<polyline points="550.6,128.0 607.1,138.1 668.0,149.0" fill="none" stroke="#fff" stroke-width="1.8"/>
<polyline points="526.5,169.4 658.1,194.0 680.6,104.0" fill="none" stroke="#b8b8b8" stroke-width="0.6"/>
<path d="M522.0,154.4 C522.8,153.3 525.5,150.1 527.0,148.0 C528.5,145.9 529.3,144.4 531.0,141.7 C532.7,139.0 535.1,134.8 537.0,132.0 C538.9,129.2 540.8,127.1 542.3,124.8 C543.8,122.5 544.8,120.5 546.0,118.0 C547.2,115.5 548.7,111.7 549.7,109.7 C550.7,107.7 551.8,104.9 552.0,106.0 C552.2,107.1 551.7,113.0 550.7,116.3 C549.7,119.6 547.4,122.7 546.0,126.0 C544.6,129.3 543.8,133.0 542.3,136.0 C540.8,139.0 538.9,141.5 537.0,144.0 C535.1,146.5 532.7,149.3 531.0,151.0 C529.3,152.7 528.5,153.8 527.0,154.4 C525.5,155.0 522.8,154.4 522.0,154.4Z" fill="#c00000" stroke="#ffee00" stroke-width="1.3" stroke-linejoin="round"/>
<polygon points="563.3,79.1 559.3,82.3 556.1,92.0 552.9,103.3 549.7,109.7 548.0,118.0 546.4,130.6 556.1,111.3 569.0,87.2 568.1,81.5" fill="#1eb01e"/>
<path d="M549.0,113.0 C549.1,112.5 549.1,111.3 549.7,109.7 C550.4,108.1 551.8,106.2 552.9,103.3 C554.0,100.3 555.0,95.5 556.1,92.0 C557.2,88.5 558.1,84.5 559.3,82.3 C560.5,80.1 562.6,79.6 563.3,79.1" fill="none" stroke="#ffee00" stroke-width="1.3"/>
<clipPath id="clipC"><path d="M563.3,79.1 C564.0,77.5 565.5,73.5 567.3,69.5 C569.0,65.5 571.7,59.5 573.8,55.0 C575.9,50.5 578.2,46.6 580.1,42.8 C582.0,39.0 583.3,35.8 585.0,32.0 C586.7,28.2 588.7,23.4 590.2,20.1 C591.7,16.8 592.7,14.4 594.0,12.0 C595.3,9.6 596.8,7.0 598.0,5.5 C599.2,4.0 600.3,3.2 601.5,3.0 C602.7,2.8 604.0,3.3 605.0,4.5 C606.0,5.7 606.8,7.1 607.8,10.0 C608.8,12.9 610.0,17.4 611.0,22.0 C612.0,26.6 612.9,32.7 614.1,37.7 C615.3,42.7 616.8,47.4 618.0,52.0 C619.2,56.6 620.1,61.2 621.6,65.4 C623.1,69.6 625.1,73.7 627.0,77.0 C628.9,80.3 630.8,83.2 633.0,85.5 C635.2,87.8 637.5,89.3 640.0,91.0 C642.5,92.7 643.7,94.0 648.0,95.6 C652.3,97.2 660.6,99.3 665.6,100.6 C670.6,101.9 676.1,102.8 678.2,103.3 L656.0,184.5 C652.5,183.8 641.6,182.8 635.1,180.6 C628.6,178.4 622.0,175.2 616.8,171.5 C611.6,167.8 607.2,162.7 603.7,158.4 C600.2,154.2 598.3,150.6 596.0,146.0 C593.7,141.4 591.9,135.9 590.0,131.0 C588.1,126.0 586.2,120.9 584.5,116.3 C582.8,111.7 581.6,107.5 580.0,103.3 C578.4,99.1 576.5,94.1 575.0,91.0 C573.5,87.9 572.1,86.1 571.0,84.5 C569.9,82.9 569.4,82.4 568.1,81.5 C566.8,80.6 564.1,79.5 563.3,79.1Z"/></clipPath>
<g clip-path="url(#clipC)">
<path d="M563.3,79.1 C564.0,77.5 565.5,73.5 567.3,69.5 C569.0,65.5 571.7,59.5 573.8,55.0 C575.9,50.5 578.2,46.6 580.1,42.8 C582.0,39.0 583.3,35.8 585.0,32.0 C586.7,28.2 588.7,23.4 590.2,20.1 C591.7,16.8 592.7,14.4 594.0,12.0 C595.3,9.6 596.8,7.0 598.0,5.5 C599.2,4.0 600.3,3.2 601.5,3.0 C602.7,2.8 604.0,3.3 605.0,4.5 C606.0,5.7 606.8,7.1 607.8,10.0 C608.8,12.9 610.0,17.4 611.0,22.0 C612.0,26.6 612.9,32.7 614.1,37.7 C615.3,42.7 616.8,47.4 618.0,52.0 C619.2,56.6 620.1,61.2 621.6,65.4 C623.1,69.6 625.1,73.7 627.0,77.0 C628.9,80.3 630.8,83.2 633.0,85.5 C635.2,87.8 637.5,89.3 640.0,91.0 C642.5,92.7 643.7,94.0 648.0,95.6 C652.3,97.2 660.6,99.3 665.6,100.6 C670.6,101.9 676.1,102.8 678.2,103.3 L656.0,184.5 C652.5,183.8 641.6,182.8 635.1,180.6 C628.6,178.4 622.0,175.2 616.8,171.5 C611.6,167.8 607.2,162.7 603.7,158.4 C600.2,154.2 598.3,150.6 596.0,146.0 C593.7,141.4 591.9,135.9 590.0,131.0 C588.1,126.0 586.2,120.9 584.5,116.3 C582.8,111.7 581.6,107.5 580.0,103.3 C578.4,99.1 576.5,94.1 575.0,91.0 C573.5,87.9 572.1,86.1 571.0,84.5 C569.9,82.9 569.4,82.4 568.1,81.5 C566.8,80.6 564.1,79.5 563.3,79.1Z" fill="#ff0000"/>
<polygon points="560.0,0.0 640.0,0.0 625.0,70.0 622.5,70.9 624.5,81.6 618.5,74.6 621.0,86.4 616.4,82.6 618.7,93.9 614.1,90.1 615.2,99.0 610.5,94.3 614.6,109.4 609.3,103.6 610.2,110.4 608.3,110.9 612.0,123.9 606.0,115.4 607.3,122.9 604.4,121.3 610.2,140.6 602.4,129.6 605.3,142.3 600.8,138.6 600.0,143.1 597.4,143.5 596.0,150.0 570.0,150.0" fill="#00ff00" filter="url(#soft)"/>
<polygon points="560.0,79.0 600.0,0.0 615.0,0.0 612.0,21.0 610.0,25.5 610.8,20.7 606.1,34.1 608.1,25.1 603.4,38.5 602.6,39.0 600.1,44.7 599.2,45.1 596.0,53.4 595.7,52.2 592.9,59.1 592.5,58.2 590.3,64.7 590.5,62.7 586.8,73.9 588.6,67.0 585.6,76.1 585.2,76.6 583.6,82.7 586.0,75.4 581.4,91.7 584.8,82.4 580.7,97.8 583.8,89.2 579.4,105.4 580.0,105.0" fill="#0000ff" filter="url(#soft)"/>
</g>
<path d="M563.3,79.1 C564.0,77.5 565.5,73.5 567.3,69.5 C569.0,65.5 571.7,59.5 573.8,55.0 C575.9,50.5 578.2,46.6 580.1,42.8 C582.0,39.0 583.3,35.8 585.0,32.0 C586.7,28.2 588.7,23.4 590.2,20.1 C591.7,16.8 592.7,14.4 594.0,12.0 C595.3,9.6 596.8,7.0 598.0,5.5 C599.2,4.0 600.3,3.2 601.5,3.0 C602.7,2.8 604.0,3.3 605.0,4.5 C606.0,5.7 606.8,7.1 607.8,10.0 C608.8,12.9 610.0,17.4 611.0,22.0 C612.0,26.6 612.9,32.7 614.1,37.7 C615.3,42.7 616.8,47.4 618.0,52.0 C619.2,56.6 620.1,61.2 621.6,65.4 C623.1,69.6 625.1,73.7 627.0,77.0 C628.9,80.3 630.8,83.2 633.0,85.5 C635.2,87.8 637.5,89.3 640.0,91.0 C642.5,92.7 643.7,94.0 648.0,95.6 C652.3,97.2 660.6,99.3 665.6,100.6 C670.6,101.9 676.1,102.8 678.2,103.3 L656.0,184.5 C652.5,183.8 641.6,182.8 635.1,180.6 C628.6,178.4 622.0,175.2 616.8,171.5 C611.6,167.8 607.2,162.7 603.7,158.4 C600.2,154.2 598.3,150.6 596.0,146.0 C593.7,141.4 591.9,135.9 590.0,131.0 C588.1,126.0 586.2,120.9 584.5,116.3 C582.8,111.7 581.6,107.5 580.0,103.3 C578.4,99.1 576.5,94.1 575.0,91.0 C573.5,87.9 572.1,86.1 571.0,84.5 C569.9,82.9 569.4,82.4 568.1,81.5 C566.8,80.6 564.1,79.5 563.3,79.1Z" fill="none" stroke="#ffee00" stroke-width="1.3" stroke-linejoin="round"/>
<clipPath id="cd"><rect x="42" y="258" width="182" height="170"/></clipPath>
<g clip-path="url(#cd)">
<polygon points="44.8,390.7 45.4,390.0 46.0,389.2 46.6,388.4 47.2,387.6 47.8,386.8 48.4,386.0 48.9,385.2 49.5,384.3 50.1,383.4 50.7,382.5 51.3,381.6 51.9,380.6 52.5,379.7 53.1,378.7 53.7,377.7 54.3,376.7 54.8,375.7 55.4,374.6 56.0,373.6 56.6,372.5 57.2,371.4 57.8,370.3 58.4,369.1 59.0,368.0 59.6,366.8 60.2,365.6 60.8,364.4 61.3,363.2 61.9,361.9 62.5,360.7 63.1,359.4 63.7,358.1 64.3,356.8 64.9,355.5 65.5,354.1 66.1,352.8 66.7,351.4 67.3,350.0 67.8,348.6 68.4,347.2 69.0,345.7 69.6,344.0 70.2,342.3 70.8,340.7 71.4,339.0 72.0,337.3 72.6,335.5 73.2,333.8 73.7,332.1 74.3,330.3 74.9,328.6 75.5,326.8 76.1,325.0 76.7,323.1 77.3,321.1 77.9,319.1 78.5,317.1 79.1,315.1 79.7,313.1 80.2,311.1 80.8,309.1 81.4,307.1 82.0,305.1 82.6,303.2 83.2,301.2 83.8,299.3 84.4,297.4 85.0,295.6 85.6,293.7 86.2,291.9 86.7,290.2 87.3,288.5 87.9,286.8 88.5,285.2 89.1,283.6 89.7,282.1 90.3,280.6 90.9,279.2 91.5,277.9 92.1,276.6 92.6,275.4 93.2,274.3 93.8,273.2 94.4,272.2 95.0,271.3 95.6,270.5 96.2,269.8 96.8,269.1 97.4,268.5 98.0,268.1 98.6,267.7 99.1,267.4 99.7,267.2 100.3,267.1 100.9,267.0 101.5,267.1 102.1,267.2 102.7,267.4 103.3,267.6 103.9,267.9 104.5,268.2 105.1,268.6 105.6,269.1 106.2,269.6 106.8,270.1 107.4,270.3 108.0,270.7 108.6,271.1 109.2,271.6 109.8,272.1 110.4,272.6 111.0,273.3 111.5,273.9 112.1,274.7 112.7,275.4 113.3,276.3 113.9,277.1 114.5,278.1 115.1,279.0 115.7,280.0 116.3,281.1 116.9,282.2 117.5,283.3 118.0,284.5 118.6,285.7 119.2,286.9 119.8,288.2 120.4,289.5 121.0,290.8 121.6,292.2 122.2,293.6 122.8,295.0 123.4,296.4 124.0,297.9 124.5,299.4 125.1,300.8 125.7,302.4 126.3,303.9 126.9,305.4 127.5,307.0 128.1,308.5 128.7,310.1 129.3,311.7 129.9,313.3 130.4,314.9 131.0,316.4 131.6,318.0 132.2,319.6 132.8,321.2 133.4,322.8 134.0,324.4 134.6,326.0 135.2,327.6 135.8,329.1 136.4,330.7 136.9,332.2 137.5,333.8 138.1,335.3 138.7,336.9 139.3,338.4 139.9,339.9 140.5,341.4 141.1,342.8 141.7,344.3 142.3,345.8 142.8,347.2 143.4,348.6 144.0,350.0 144.6,351.4 145.2,352.8 145.8,354.1 146.4,355.4 147.0,356.6 147.6,357.8 148.2,359.0 148.8,360.1 149.3,361.3 149.9,362.4 150.5,363.5 151.1,364.6 151.7,365.7 152.3,366.8 152.9,367.9 153.5,368.9 154.1,369.9 154.7,370.9 155.3,371.9 155.8,372.8 156.4,373.7 157.0,374.5 157.6,375.4 158.2,376.2 158.8,377.0 159.4,377.8 160.0,378.6 160.6,379.4 161.2,380.1 161.7,380.9 162.3,381.7 162.9,382.4 163.5,383.1 164.1,383.8 164.7,384.5 165.3,385.2 165.9,385.9 166.5,386.6 167.1,387.2 167.7,387.9 168.2,388.5 168.8,389.1 169.4,389.7 170.0,390.3 170.6,390.9 171.2,391.5 171.8,392.1 172.4,392.7 173.0,393.2 173.6,393.8 174.2,394.3 174.7,394.8 175.3,395.3 175.9,395.8 176.5,396.3 177.1,396.8 177.7,397.3 178.3,397.8 178.9,398.2 179.5,398.7 180.1,399.1 180.6,399.6 181.2,400.0 181.8,400.4 182.4,400.8 183.0,401.2 183.6,401.6 184.2,402.0 184.8,402.4 185.4,402.8 186.0,403.1 186.6,403.5 187.1,403.8 187.7,404.2 188.3,404.5 188.9,404.8 189.5,405.2 190.1,405.5 190.7,405.8 191.3,406.1 191.9,406.4 192.5,406.7 193.1,407.0 193.6,407.3 194.2,407.5 194.8,407.8 195.4,408.1 196.0,408.3 196.6,408.6 197.2,408.8 197.8,409.1 198.4,409.3 199.0,409.6 199.5,409.8 200.1,410.0 200.7,410.2 201.3,410.4 201.9,410.7 202.5,410.9 203.1,411.1 203.7,411.3 204.3,411.5 204.9,411.6 205.5,411.8 206.0,412.0 206.6,412.2 207.2,412.4 207.8,412.5 208.4,412.7 209.0,412.9 209.6,413.0 210.2,413.2 210.8,413.3 211.4,413.5 212.0,413.6 212.5,413.8 213.1,413.9 213.7,414.1 214.3,414.2 214.9,414.3 215.5,414.5 216.1,414.6 216.7,414.7 217.3,414.8 217.9,414.9 218.4,415.1 219.0,415.2 219.6,415.3 220.2,415.4 220.8,415.5 221.4,415.6 222.0,415.7 222.0,420.3 44.8,420.3" fill="#e6def0"/>
<polygon points="44.8,397.4 45.4,396.7 46.0,396.0 46.6,395.2 47.2,394.5 47.8,393.7 48.4,392.9 48.9,392.0 49.5,391.2 50.1,390.3 50.7,389.4 51.3,388.5 51.9,387.5 52.5,386.6 53.1,385.6 53.7,384.5 54.3,383.5 54.8,382.4 55.4,381.3 56.0,380.2 56.6,379.0 57.2,377.8 57.8,376.6 58.4,375.3 59.0,374.1 59.6,372.8 60.2,371.4 60.8,370.1 61.3,368.7 61.9,367.3 62.5,365.8 63.1,364.3 63.7,362.8 64.3,361.3 64.9,359.7 65.5,358.1 66.1,356.5 66.7,354.8 67.3,353.1 67.8,351.4 68.4,349.7 69.0,347.9 69.6,346.1 70.2,344.3 70.8,342.5 71.4,340.6 72.0,338.8 72.6,336.9 73.2,334.9 73.7,333.0 74.3,331.1 74.9,329.1 75.5,327.1 76.1,325.1 76.7,323.1 77.3,321.1 77.9,319.1 78.5,317.1 79.1,315.1 79.7,313.1 80.2,311.1 80.8,309.1 81.4,307.1 82.0,305.1 82.6,303.2 83.2,301.2 83.8,299.3 84.4,297.4 85.0,295.6 85.6,293.7 86.2,291.9 86.7,290.2 87.3,288.5 87.9,286.8 88.5,285.2 89.1,283.6 89.7,282.1 90.3,280.6 90.9,279.2 91.5,277.9 92.1,276.6 92.6,275.4 93.2,274.3 93.8,273.2 94.4,272.2 95.0,271.3 95.6,270.5 96.2,269.8 96.8,269.1 97.4,268.5 98.0,268.1 98.6,267.7 99.1,267.4 99.7,267.2 100.3,267.1 100.9,267.0 101.5,267.1 102.1,267.2 102.7,267.4 103.3,267.6 103.9,267.9 104.5,268.2 105.1,268.6 105.6,269.1 106.2,269.6 106.8,270.2 107.4,270.8 108.0,271.5 108.6,272.3 109.2,273.1 109.8,273.9 110.4,274.8 111.0,275.8 111.5,276.7 112.1,277.8 112.7,278.9 113.3,280.0 113.9,281.2 114.5,282.4 115.1,283.6 115.7,284.9 116.3,286.2 116.9,287.6 117.5,288.9 118.0,290.3 118.6,291.8 119.2,293.2 119.8,294.7 120.4,296.2 121.0,297.8 121.6,299.3 122.2,300.9 122.8,302.4 123.4,304.0 124.0,305.6 124.5,307.2 125.1,308.9 125.7,310.5 126.3,312.1 126.9,313.8 127.5,315.4 128.1,317.0 128.7,318.7 129.3,320.3 129.9,322.0 130.4,323.6 131.0,325.2 131.6,326.9 132.2,328.5 132.8,330.1 133.4,331.7 134.0,333.3 134.6,334.8 135.2,336.4 135.8,338.0 136.4,339.5 136.9,341.0 137.5,342.6 138.1,344.1 138.7,345.5 139.3,347.0 139.9,348.5 140.5,349.9 141.1,351.3 141.7,352.7 142.3,354.1 142.8,355.4 143.4,356.8 144.0,358.1 144.6,359.4 145.2,360.7 145.8,362.0 146.4,363.2 147.0,364.4 147.6,365.7 148.2,366.8 148.8,368.0 149.3,369.2 149.9,370.3 150.5,371.4 151.1,372.5 151.7,373.6 152.3,374.6 152.9,375.6 153.5,376.7 154.1,377.7 154.7,378.6 155.3,379.6 155.8,380.5 156.4,381.4 157.0,382.3 157.6,383.2 158.2,384.1 158.8,384.9 159.4,385.8 160.0,386.6 160.6,387.4 161.2,388.2 161.7,388.9 162.3,389.7 162.9,390.4 163.5,391.1 164.1,391.8 164.7,392.5 165.3,393.2 165.9,393.8 166.5,394.5 167.1,395.1 167.7,395.7 168.2,396.3 168.8,396.9 169.4,397.5 170.0,398.0 170.6,398.6 171.2,399.1 171.8,399.6 172.4,400.2 173.0,400.7 173.6,401.1 174.2,401.6 174.7,402.1 175.3,402.5 175.9,403.0 176.5,403.4 177.1,403.8 177.7,404.2 178.3,404.6 178.9,405.0 179.5,405.4 180.1,405.8 180.6,406.2 181.2,406.5 181.8,406.9 182.4,407.2 183.0,407.5 183.6,407.8 184.2,408.2 184.8,408.5 185.4,408.8 186.0,409.1 186.6,409.3 187.1,409.6 187.7,409.9 188.3,410.2 188.9,410.4 189.5,410.7 190.1,410.9 190.7,411.2 191.3,411.4 191.9,411.6 192.5,411.8 193.1,412.1 193.6,412.3 194.2,412.5 194.8,412.7 195.4,412.9 196.0,413.1 196.6,413.2 197.2,413.4 197.8,413.6 198.4,413.8 199.0,413.9 199.5,414.1 200.1,414.3 200.7,414.4 201.3,414.6 201.9,414.7 202.5,414.9 203.1,415.0 203.7,415.1 204.3,415.3 204.9,415.4 205.5,415.5 206.0,415.6 206.6,415.8 207.2,415.9 207.8,416.0 208.4,416.1 209.0,416.2 209.6,416.3 210.2,416.4 210.8,416.5 211.4,416.6 212.0,416.7 212.5,416.8 213.1,416.9 213.7,417.0 214.3,417.1 214.9,417.2 215.5,417.2 216.1,417.3 216.7,417.4 217.3,417.5 217.9,417.5 218.4,417.6 219.0,417.7 219.6,417.7 220.2,417.8 220.8,417.9 221.4,417.9 222.0,418.0 222.0,420.3 44.8,420.3" fill="#d8c8ec" fill-opacity="0.35"/>
<polygon points="44.8,400.5 45.4,399.9 46.0,399.3 46.6,398.7 47.2,398.0 47.8,397.3 48.4,396.6 48.9,395.9 49.5,395.2 50.1,394.4 50.7,393.7 51.3,392.9 51.9,392.0 52.5,391.2 53.1,390.3 53.7,389.4 54.3,388.5 54.8,387.6 55.4,386.6 56.0,385.7 56.6,384.7 57.2,383.6 57.8,382.6 58.4,381.5 59.0,380.4 59.6,379.2 60.2,378.1 60.8,376.9 61.3,375.7 61.9,374.4 62.5,373.1 63.1,371.8 63.7,370.5 64.3,369.1 64.9,367.8 65.5,366.3 66.1,364.9 66.7,363.4 67.3,361.9 67.8,360.4 68.4,358.9 69.0,357.3 69.6,355.7 70.2,354.0 70.8,352.4 71.4,350.7 72.0,349.0 72.6,347.2 73.2,345.5 73.7,343.7 74.3,341.9 74.9,340.1 75.5,338.2 76.1,336.4 76.7,334.5 77.3,332.6 77.9,330.7 78.5,328.8 79.1,326.9 79.7,324.9 80.2,323.0 80.8,321.0 81.4,319.1 82.0,317.1 82.6,315.2 83.2,313.2 83.8,311.3 84.4,309.4 85.0,307.4 85.6,305.5 86.2,303.7 86.7,301.8 87.3,300.0 87.9,298.1 88.5,296.3 89.1,294.6 89.7,292.9 90.3,291.2 90.9,289.6 91.5,288.0 92.1,286.4 92.6,284.9 93.2,283.5 93.8,282.1 94.4,280.8 95.0,279.5 95.6,278.3 96.2,277.2 96.8,276.1 97.4,275.1 98.0,274.2 98.6,273.3 99.1,272.6 99.7,271.9 100.3,271.3 100.9,270.8 101.5,270.3 102.1,270.0 102.7,269.7 103.3,269.6 103.9,269.5 104.5,269.5 105.1,269.5 105.6,269.6 106.2,269.8 106.8,270.1 107.4,270.3 108.0,270.7 108.6,271.1 109.2,271.6 109.8,272.1 110.4,272.6 111.0,273.3 111.5,273.9 112.1,274.7 112.7,275.4 113.3,276.3 113.9,277.1 114.5,278.1 115.1,279.0 115.7,280.0 116.3,281.1 116.9,282.2 117.5,283.3 118.0,284.5 118.6,285.7 119.2,286.9 119.8,288.2 120.4,289.5 121.0,290.8 121.6,292.2 122.2,293.6 122.8,295.0 123.4,296.4 124.0,297.9 124.5,299.4 125.1,300.8 125.7,302.4 126.3,303.9 126.9,305.4 127.5,307.0 128.1,308.5 128.7,310.1 129.3,311.7 129.9,313.3 130.4,314.9 131.0,316.4 131.6,318.0 132.2,319.6 132.8,321.2 133.4,322.8 134.0,324.4 134.6,326.0 135.2,327.6 135.8,329.1 136.4,330.7 136.9,332.2 137.5,333.8 138.1,335.3 138.7,336.9 139.3,338.4 139.9,339.9 140.5,341.4 141.1,342.8 141.7,344.3 142.3,345.8 142.8,347.2 143.4,348.6 144.0,350.0 144.6,351.4 145.2,352.8 145.8,354.1 146.4,355.4 147.0,356.8 147.6,358.1 148.2,359.3 148.8,360.6 149.3,361.9 149.9,363.1 150.5,364.3 151.1,365.5 151.7,366.6 152.3,367.8 152.9,368.9 153.5,370.0 154.1,371.1 154.7,372.2 155.3,373.3 155.8,374.3 156.4,375.3 157.0,376.3 157.6,377.3 158.2,378.3 158.8,379.2 159.4,380.2 160.0,381.1 160.6,382.0 161.2,382.8 161.7,383.7 162.3,384.5 162.9,385.4 163.5,386.2 164.1,387.0 164.7,387.7 165.3,388.5 165.9,389.3 166.5,390.0 167.1,390.7 167.7,391.4 168.2,392.1 168.8,392.7 169.4,393.4 170.0,394.0 170.6,394.7 171.2,395.3 171.8,395.9 172.4,396.5 173.0,397.0 173.6,397.6 174.2,398.2 174.7,398.7 175.3,399.2 175.9,399.7 176.5,400.2 177.1,400.7 177.7,401.2 178.3,401.7 178.9,402.1 179.5,402.6 180.1,403.0 180.6,403.4 181.2,403.8 181.8,404.2 182.4,404.6 183.0,405.0 183.6,405.4 184.2,405.8 184.8,406.1 185.4,406.5 186.0,406.8 186.6,407.2 187.1,407.5 187.7,407.8 188.3,408.1 188.9,408.4 189.5,408.7 190.1,409.0 190.7,409.3 191.3,409.6 191.9,409.8 192.5,410.1 193.1,410.3 193.6,410.6 194.2,410.8 194.8,411.1 195.4,411.3 196.0,411.5 196.6,411.8 197.2,412.0 197.8,412.2 198.4,412.4 199.0,412.6 199.5,412.8 200.1,413.0 200.7,413.1 201.3,413.3 201.9,413.5 202.5,413.7 203.1,413.8 203.7,414.0 204.3,414.2 204.9,414.3 205.5,414.5 206.0,414.6 206.6,414.8 207.2,414.9 207.8,415.0 208.4,415.2 209.0,415.3 209.6,415.4 210.2,415.6 210.8,415.7 211.4,415.8 212.0,415.9 212.5,416.0 213.1,416.1 213.7,416.2 214.3,416.3 214.9,416.4 215.5,416.5 216.1,416.6 216.7,416.7 217.3,416.8 217.9,416.9 218.4,417.0 219.0,417.1 219.6,417.2 220.2,417.2 220.8,417.3 221.4,417.4 222.0,417.5 222.0,420.3 44.8,420.3" fill="#c8d4ee" fill-opacity="0.3"/>
<polygon points="44.8,394.2 45.4,393.5 46.0,392.7 46.6,391.9 47.2,391.1 47.8,390.3 48.4,389.5 48.9,388.6 49.5,387.7 50.1,386.8 50.7,385.9 51.3,384.9 51.9,384.0 52.5,383.0 53.1,382.0 53.7,380.9 54.3,379.9 54.8,378.8 55.4,377.7 56.0,376.5 56.6,375.4 57.2,374.2 57.8,373.0 58.4,371.8 59.0,370.5 59.6,369.2 60.2,367.9 60.8,366.6 61.3,365.3 61.9,363.9 62.5,362.5 63.1,361.1 63.7,359.6 64.3,358.2 64.9,356.7 65.5,355.2 66.1,353.6 66.7,352.1 67.3,350.5 67.8,348.9 68.4,347.3 69.0,345.7 69.6,344.0 70.2,342.3 70.8,340.7 71.4,339.0 72.0,337.3 72.6,335.5 73.2,333.8 73.7,332.1 74.3,330.3 74.9,328.6 75.5,326.8 76.1,325.0 76.7,323.3 77.3,321.5 77.9,319.7 78.5,318.0 79.1,316.2 79.7,314.5 80.2,312.8 80.8,311.0 81.4,309.3 82.0,307.7 82.6,306.0 83.2,304.4 83.8,302.7 84.4,301.2 85.0,299.6 85.6,298.1 86.2,296.6 86.7,295.1 87.3,293.7 87.9,292.4 88.5,291.0 89.1,289.8 89.7,288.5 90.3,287.4 90.9,286.2 91.5,285.2 92.1,284.2 92.6,283.2 93.2,282.4 93.8,281.5 94.4,280.8 95.0,280.1 95.6,279.5 96.2,279.0 96.8,278.5 97.4,278.1 98.0,277.8 98.6,277.5 99.1,277.3 99.7,277.2 100.3,277.2 100.9,277.3 101.5,277.3 102.1,277.5 102.7,277.7 103.3,277.9 103.9,278.2 104.5,278.5 105.1,278.9 105.6,279.3 106.2,279.8 106.8,280.3 107.4,280.9 108.0,281.5 108.6,282.2 109.2,282.9 109.8,283.6 110.4,284.4 111.0,285.2 111.5,286.1 112.1,287.0 112.7,287.9 113.3,288.9 113.9,289.9 114.5,291.0 115.1,292.0 115.7,293.1 116.3,294.3 116.9,295.4 117.5,296.6 118.0,297.8 118.6,299.1 119.2,300.3 119.8,301.6 120.4,302.9 121.0,304.2 121.6,305.6 122.2,306.9 122.8,308.3 123.4,309.6 124.0,311.0 124.5,312.4 125.1,313.8 125.7,315.3 126.3,316.7 126.9,318.1 127.5,319.5 128.1,321.0 128.7,322.4 129.3,323.9 129.9,325.3 130.4,326.7 131.0,328.2 131.6,329.6 132.2,331.0 132.8,332.5 133.4,333.9 134.0,335.3 134.6,336.7 135.2,338.1 135.8,339.5 136.4,340.9 136.9,342.3 137.5,343.6 138.1,345.0 138.7,346.3 139.3,347.6 139.9,348.9 140.5,350.2 141.1,351.5 141.7,352.8 142.3,354.1 142.8,355.3 143.4,356.6 144.0,357.8 144.6,359.0 145.2,360.2 145.8,361.3 146.4,362.5 147.0,363.6 147.6,364.8 148.2,365.9 148.8,367.0 149.3,368.0 149.9,369.1 150.5,370.2 151.1,371.2 151.7,372.2 152.3,373.2 152.9,374.2 153.5,375.1 154.1,376.1 154.7,377.0 155.3,377.9 155.8,378.8 156.4,379.7 157.0,380.6 157.6,381.4 158.2,382.3 158.8,383.1 159.4,383.9 160.0,384.7 160.6,385.5 161.2,386.3 161.7,387.0 162.3,387.7 162.9,388.5 163.5,389.2 164.1,389.9 164.7,390.5 165.3,391.2 165.9,391.9 166.5,392.5 167.1,393.1 167.7,393.7 168.2,394.3 168.8,394.9 169.4,395.5 170.0,396.1 170.6,396.6 171.2,397.2 171.8,397.7 172.4,398.2 173.0,398.7 173.6,399.2 174.2,399.7 174.7,400.2 175.3,400.6 175.9,401.1 176.5,401.5 177.1,402.0 177.7,402.4 178.3,402.8 178.9,403.2 179.5,403.6 180.1,404.0 180.6,404.4 181.2,404.8 181.8,405.1 182.4,405.5 183.0,405.8 183.6,406.2 184.2,406.5 184.8,406.8 185.4,407.2 186.0,407.5 186.6,407.8 187.1,408.1 187.7,408.4 188.3,408.6 188.9,408.9 189.5,409.2 190.1,409.5 190.7,409.7 191.3,410.0 191.9,410.2 192.5,410.5 193.1,410.7 193.6,410.9 194.2,411.1 194.8,411.4 195.4,411.6 196.0,411.8 196.6,412.0 197.2,412.2 197.8,412.4 198.4,412.6 199.0,412.8 199.5,412.9 200.1,413.1 200.7,413.3 201.3,413.5 201.9,413.6 202.5,413.8 203.1,413.9 203.7,414.1 204.3,414.2 204.9,414.4 205.5,414.5 206.0,414.7 206.6,414.8 207.2,414.9 207.8,415.1 208.4,415.2 209.0,415.3 209.6,415.4 210.2,415.6 210.8,415.7 211.4,415.8 212.0,415.9 212.5,416.0 213.1,416.1 213.7,416.2 214.3,416.3 214.9,416.4 215.5,416.5 216.1,416.6 216.7,416.7 217.3,416.8 217.9,416.9 218.4,416.9 219.0,417.0 219.6,417.1 220.2,417.2 220.8,417.2 221.4,417.3 222.0,417.4 222.0,420.3 44.8,420.3" fill="#f0d8a0" fill-opacity="0.25"/>
<polygon points="44.8,397.5 45.4,396.9 46.0,396.2 46.6,395.5 47.2,394.8 47.8,394.1 48.4,393.4 48.9,392.6 49.5,391.9 50.1,391.1 50.7,390.3 51.3,389.4 51.9,388.6 52.5,387.7 53.1,386.8 53.7,385.9 54.3,385.0 54.8,384.1 55.4,383.1 56.0,382.1 56.6,381.1 57.2,380.0 57.8,379.0 58.4,377.9 59.0,376.8 59.6,375.7 60.2,374.5 60.8,373.3 61.3,372.1 61.9,370.9 62.5,369.7 63.1,368.4 63.7,367.1 64.3,365.8 64.9,364.5 65.5,363.1 66.1,361.7 66.7,360.3 67.3,358.9 67.8,357.5 68.4,356.0 69.0,354.5 69.6,353.0 70.2,351.5 70.8,349.9 71.4,348.4 72.0,346.8 72.6,345.2 73.2,343.6 73.7,341.9 74.3,340.3 74.9,338.6 75.5,337.0 76.1,335.3 76.7,333.6 77.3,331.9 77.9,330.2 78.5,328.5 79.1,326.8 79.7,325.1 80.2,323.4 80.8,321.7 81.4,320.0 82.0,318.3 82.6,316.6 83.2,314.9 83.8,313.3 84.4,311.6 85.0,310.0 85.6,308.4 86.2,306.8 86.7,305.2 87.3,303.7 87.9,302.1 88.5,300.6 89.1,299.2 89.7,297.8 90.3,296.4 90.9,295.1 91.5,293.8 92.1,292.5 92.6,291.3 93.2,290.1 93.8,289.0 94.4,288.0 95.0,287.0 95.6,286.0 96.2,285.1 96.8,284.3 97.4,283.6 98.0,282.9 98.6,282.2 99.1,281.7 99.7,281.2 100.3,280.7 100.9,280.4 101.5,280.1 102.1,279.9 102.7,279.7 103.3,279.7 103.9,279.7 104.5,279.7 105.1,279.8 105.6,279.9 106.2,280.1 106.8,280.4 107.4,280.6 108.0,281.0 108.6,281.4 109.2,281.8 109.8,282.2 110.4,282.8 111.0,283.3 111.5,283.9 112.1,284.5 112.7,285.2 113.3,285.9 113.9,286.7 114.5,287.5 115.1,288.3 115.7,289.2 116.3,290.1 116.9,291.1 117.5,292.0 118.0,293.0 118.6,294.1 119.2,295.1 119.8,296.2 120.4,297.4 121.0,298.5 121.6,299.7 122.2,300.9 122.8,302.1 123.4,303.3 124.0,304.6 124.5,305.8 125.1,307.1 125.7,308.4 126.3,309.7 126.9,311.1 127.5,312.4 128.1,313.8 128.7,315.1 129.3,316.5 129.9,317.9 130.4,319.2 131.0,320.6 131.6,322.0 132.2,323.4 132.8,324.8 133.4,326.2 134.0,327.6 134.6,329.0 135.2,330.4 135.8,331.8 136.4,333.1 136.9,334.5 137.5,335.9 138.1,337.3 138.7,338.6 139.3,340.0 139.9,341.3 140.5,342.6 141.1,344.0 141.7,345.3 142.3,346.6 142.8,347.9 143.4,349.2 144.0,350.4 144.6,351.7 145.2,352.9 145.8,354.2 146.4,355.4 147.0,356.6 147.6,357.8 148.2,359.0 148.8,360.1 149.3,361.3 149.9,362.4 150.5,363.5 151.1,364.6 151.7,365.7 152.3,366.8 152.9,367.9 153.5,368.9 154.1,369.9 154.7,370.9 155.3,371.9 155.8,372.9 156.4,373.9 157.0,374.8 157.6,375.8 158.2,376.7 158.8,377.6 159.4,378.5 160.0,379.4 160.6,380.2 161.2,381.1 161.7,381.9 162.3,382.7 162.9,383.5 163.5,384.3 164.1,385.1 164.7,385.8 165.3,386.6 165.9,387.3 166.5,388.0 167.1,388.7 167.7,389.4 168.2,390.1 168.8,390.8 169.4,391.4 170.0,392.0 170.6,392.7 171.2,393.3 171.8,393.9 172.4,394.5 173.0,395.0 173.6,395.6 174.2,396.2 174.7,396.7 175.3,397.2 175.9,397.8 176.5,398.3 177.1,398.8 177.7,399.3 178.3,399.7 178.9,400.2 179.5,400.7 180.1,401.1 180.6,401.5 181.2,402.0 181.8,402.4 182.4,402.8 183.0,403.2 183.6,403.6 184.2,404.0 184.8,404.4 185.4,404.7 186.0,405.1 186.6,405.4 187.1,405.8 187.7,406.1 188.3,406.4 188.9,406.8 189.5,407.1 190.1,407.4 190.7,407.7 191.3,408.0 191.9,408.3 192.5,408.6 193.1,408.8 193.6,409.1 194.2,409.4 194.8,409.6 195.4,409.9 196.0,410.1 196.6,410.3 197.2,410.6 197.8,410.8 198.4,411.0 199.0,411.3 199.5,411.5 200.1,411.7 200.7,411.9 201.3,412.1 201.9,412.3 202.5,412.5 203.1,412.6 203.7,412.8 204.3,413.0 204.9,413.2 205.5,413.3 206.0,413.5 206.6,413.7 207.2,413.8 207.8,414.0 208.4,414.1 209.0,414.3 209.6,414.4 210.2,414.6 210.8,414.7 211.4,414.8 212.0,415.0 212.5,415.1 213.1,415.2 213.7,415.3 214.3,415.4 214.9,415.6 215.5,415.7 216.1,415.8 216.7,415.9 217.3,416.0 217.9,416.1 218.4,416.2 219.0,416.3 219.6,416.4 220.2,416.5 220.8,416.6 221.4,416.7 222.0,416.8 222.0,420.3 44.8,420.3" fill="#f0d0a0" fill-opacity="0.2"/>
<polygon points="44.8,393.7 45.4,393.0 46.0,392.3 46.6,391.5 47.2,390.8 47.8,390.0 48.4,389.2 48.9,388.4 49.5,387.5 50.1,386.7 50.7,385.8 51.3,384.9 51.9,384.0 52.5,383.1 53.1,382.2 53.7,381.2 54.3,380.2 54.8,379.2 55.4,378.2 56.0,377.1 56.6,376.1 57.2,375.0 57.8,373.9 58.4,372.8 59.0,371.6 59.6,370.4 60.2,369.3 60.8,368.1 61.3,366.8 61.9,365.6 62.5,364.3 63.1,363.0 63.7,361.7 64.3,360.4 64.9,359.1 65.5,357.7 66.1,356.3 66.7,354.9 67.3,353.5 67.8,352.1 68.4,350.6 69.0,349.2 69.6,347.7 70.2,346.2 70.8,344.7 71.4,343.2 72.0,341.7 72.6,340.2 73.2,338.6 73.7,337.1 74.3,335.5 74.9,334.0 75.5,332.4 76.1,330.8 76.7,329.3 77.3,327.7 77.9,326.1 78.5,324.6 79.1,323.0 79.7,321.5 80.2,319.9 80.8,318.4 81.4,316.9 82.0,315.4 82.6,313.9 83.2,312.4 83.8,311.0 84.4,309.6 85.0,308.2 85.6,306.8 86.2,305.4 86.7,304.1 87.3,302.8 87.9,301.6 88.5,300.4 89.1,299.2 89.7,298.0 90.3,296.9 90.9,295.9 91.5,294.9 92.1,293.9 92.6,293.0 93.2,292.1 93.8,291.3 94.4,290.5 95.0,289.8 95.6,289.2 96.2,288.6 96.8,288.1 97.4,287.6 98.0,287.2 98.6,286.8 99.1,286.5 99.7,286.3 100.3,286.1 100.9,286.0 101.5,286.0 102.1,286.0 102.7,286.0 103.3,286.1 103.9,286.3 104.5,286.4 105.1,286.7 105.6,286.9 106.2,287.2 106.8,287.6 107.4,288.0 108.0,288.4 108.6,288.8 109.2,289.3 109.8,289.9 110.4,290.5 111.0,291.1 111.5,291.7 112.1,292.4 112.7,293.1 113.3,293.9 113.9,294.7 114.5,295.5 115.1,296.3 115.7,297.2 116.3,298.1 116.9,299.0 117.5,300.0 118.0,301.0 118.6,302.0 119.2,303.0 119.8,304.1 120.4,305.1 121.0,306.2 121.6,307.3 122.2,308.5 122.8,309.6 123.4,310.8 124.0,312.0 124.5,313.1 125.1,314.3 125.7,315.6 126.3,316.8 126.9,318.0 127.5,319.3 128.1,320.5 128.7,321.8 129.3,323.0 129.9,324.3 130.4,325.6 131.0,326.8 131.6,328.1 132.2,329.4 132.8,330.7 133.4,332.0 134.0,333.2 134.6,334.5 135.2,335.8 135.8,337.0 136.4,338.3 136.9,339.6 137.5,340.8 138.1,342.1 138.7,343.3 139.3,344.5 139.9,345.8 140.5,347.0 141.1,348.2 141.7,349.4 142.3,350.6 142.8,351.7 143.4,352.9 144.0,354.1 144.6,355.2 145.2,356.4 145.8,357.5 146.4,358.6 147.0,359.7 147.6,360.8 148.2,361.9 148.8,362.9 149.3,364.0 149.9,365.0 150.5,366.1 151.1,367.1 151.7,368.1 152.3,369.1 152.9,370.0 153.5,371.0 154.1,371.9 154.7,372.9 155.3,373.8 155.8,374.7 156.4,375.6 157.0,376.5 157.6,377.3 158.2,378.2 158.8,379.0 159.4,379.8 160.0,380.6 160.6,381.4 161.2,382.2 161.7,383.0 162.3,383.8 162.9,384.5 163.5,385.2 164.1,386.0 164.7,386.7 165.3,387.4 165.9,388.0 166.5,388.7 167.1,389.4 167.7,390.0 168.2,390.6 168.8,391.3 169.4,391.9 170.0,392.5 170.6,393.1 171.2,393.6 171.8,394.2 172.4,394.8 173.0,395.3 173.6,395.8 174.2,396.4 174.7,396.9 175.3,397.4 175.9,397.9 176.5,398.4 177.1,398.8 177.7,399.3 178.3,399.8 178.9,400.2 179.5,400.6 180.1,401.1 180.6,401.5 181.2,401.9 181.8,402.3 182.4,402.7 183.0,403.1 183.6,403.5 184.2,403.8 184.8,404.2 185.4,404.6 186.0,404.9 186.6,405.2 187.1,405.6 187.7,405.9 188.3,406.2 188.9,406.5 189.5,406.8 190.1,407.1 190.7,407.4 191.3,407.7 191.9,408.0 192.5,408.3 193.1,408.5 193.6,408.8 194.2,409.1 194.8,409.3 195.4,409.6 196.0,409.8 196.6,410.0 197.2,410.3 197.8,410.5 198.4,410.7 199.0,410.9 199.5,411.1 200.1,411.4 200.7,411.6 201.3,411.8 201.9,411.9 202.5,412.1 203.1,412.3 203.7,412.5 204.3,412.7 204.9,412.9 205.5,413.0 206.0,413.2 206.6,413.3 207.2,413.5 207.8,413.7 208.4,413.8 209.0,414.0 209.6,414.1 210.2,414.2 210.8,414.4 211.4,414.5 212.0,414.6 212.5,414.8 213.1,414.9 213.7,415.0 214.3,415.1 214.9,415.3 215.5,415.4 216.1,415.5 216.7,415.6 217.3,415.7 217.9,415.8 218.4,415.9 219.0,416.0 219.6,416.1 220.2,416.2 220.8,416.3 221.4,416.4 222.0,416.5 222.0,420.3 44.8,420.3" fill="#d0e0b0" fill-opacity="0.2"/>
<polygon points="44.8,394.3 45.4,393.6 46.0,392.9 46.6,392.2 47.2,391.5 47.8,390.7 48.4,389.9 48.9,389.2 49.5,388.4 50.1,387.5 50.7,386.7 51.3,385.8 51.9,385.0 52.5,384.1 53.1,383.2 53.7,382.2 54.3,381.3 54.8,380.3 55.4,379.3 56.0,378.3 56.6,377.3 57.2,376.2 57.8,375.1 58.4,374.1 59.0,373.0 59.6,371.8 60.2,370.7 60.8,369.5 61.3,368.3 61.9,367.1 62.5,365.9 63.1,364.6 63.7,363.4 64.3,362.1 64.9,360.8 65.5,359.5 66.1,358.1 66.7,356.8 67.3,355.4 67.8,354.0 68.4,352.6 69.0,351.2 69.6,349.8 70.2,348.3 70.8,346.9 71.4,345.4 72.0,343.9 72.6,342.4 73.2,340.9 73.7,339.4 74.3,337.9 74.9,336.4 75.5,334.9 76.1,333.3 76.7,331.8 77.3,330.3 77.9,328.7 78.5,327.2 79.1,325.7 79.7,324.2 80.2,322.7 80.8,321.1 81.4,319.6 82.0,318.2 82.6,316.7 83.2,315.2 83.8,313.8 84.4,312.4 85.0,311.0 85.6,309.6 86.2,308.2 86.7,306.9 87.3,305.6 87.9,304.3 88.5,303.1 89.1,301.9 89.7,300.7 90.3,299.6 90.9,298.5 91.5,297.5 92.1,296.5 92.6,295.5 93.2,294.6 93.8,293.8 94.4,292.9 95.0,292.2 95.6,291.5 96.2,290.8 96.8,290.2 97.4,289.7 98.0,289.2 98.6,288.7 99.1,288.4 99.7,288.1 100.3,287.8 100.9,287.6 101.5,287.5 102.1,287.4 102.7,287.4 103.3,287.4 103.9,287.5 104.5,287.6 105.1,287.8 105.6,288.0 106.2,288.2 106.8,288.5 107.4,288.8 108.0,289.2 108.6,289.6 109.2,290.0 109.8,290.5 110.4,291.0 111.0,291.5 111.5,292.1 112.1,292.7 112.7,293.4 113.3,294.1 113.9,294.8 114.5,295.5 115.1,296.3 115.7,297.1 116.3,298.0 116.9,298.8 117.5,299.7 118.0,300.6 118.6,301.6 119.2,302.5 119.8,303.5 120.4,304.6 121.0,305.6 121.6,306.6 122.2,307.7 122.8,308.8 123.4,309.9 124.0,311.1 124.5,312.2 125.1,313.4 125.7,314.5 126.3,315.7 126.9,316.9 127.5,318.1 128.1,319.3 128.7,320.5 129.3,321.8 129.9,323.0 130.4,324.2 131.0,325.5 131.6,326.7 132.2,328.0 132.8,329.2 133.4,330.5 134.0,331.7 134.6,333.0 135.2,334.2 135.8,335.5 136.4,336.7 136.9,337.9 137.5,339.2 138.1,340.4 138.7,341.6 139.3,342.9 139.9,344.1 140.5,345.3 141.1,346.5 141.7,347.7 142.3,348.9 142.8,350.0 143.4,351.2 144.0,352.4 144.6,353.5 145.2,354.6 145.8,355.8 146.4,356.9 147.0,358.0 147.6,359.1 148.2,360.2 148.8,361.2 149.3,362.3 149.9,363.3 150.5,364.4 151.1,365.4 151.7,366.4 152.3,367.4 152.9,368.4 153.5,369.3 154.1,370.3 154.7,371.2 155.3,372.2 155.8,373.1 156.4,374.0 157.0,374.9 157.6,375.8 158.2,376.6 158.8,377.5 159.4,378.3 160.0,379.1 160.6,379.9 161.2,380.7 161.7,381.5 162.3,382.3 162.9,383.1 163.5,383.8 164.1,384.6 164.7,385.3 165.3,386.0 165.9,386.7 166.5,387.4 167.1,388.0 167.7,388.7 168.2,389.4 168.8,390.0 169.4,390.6 170.0,391.2 170.6,391.9 171.2,392.4 171.8,393.0 172.4,393.6 173.0,394.2 173.6,394.7 174.2,395.3 174.7,395.8 175.3,396.3 175.9,396.8 176.5,397.3 177.1,397.8 177.7,398.3 178.3,398.8 178.9,399.2 179.5,399.7 180.1,400.1 180.6,400.5 181.2,401.0 181.8,401.4 182.4,401.8 183.0,402.2 183.6,402.6 184.2,403.0 184.8,403.4 185.4,403.7 186.0,404.1 186.6,404.4 187.1,404.8 187.7,405.1 188.3,405.5 188.9,405.8 189.5,406.1 190.1,406.4 190.7,406.7 191.3,407.0 191.9,407.3 192.5,407.6 193.1,407.9 193.6,408.2 194.2,408.4 194.8,408.7 195.4,408.9 196.0,409.2 196.6,409.4 197.2,409.7 197.8,409.9 198.4,410.2 199.0,410.4 199.5,410.6 200.1,410.8 200.7,411.0 201.3,411.2 201.9,411.4 202.5,411.6 203.1,411.8 203.7,412.0 204.3,412.2 204.9,412.4 205.5,412.6 206.0,412.7 206.6,412.9 207.2,413.1 207.8,413.2 208.4,413.4 209.0,413.5 209.6,413.7 210.2,413.8 210.8,414.0 211.4,414.1 212.0,414.3 212.5,414.4 213.1,414.5 213.7,414.7 214.3,414.8 214.9,414.9 215.5,415.0 216.1,415.2 216.7,415.3 217.3,415.4 217.9,415.5 218.4,415.6 219.0,415.7 219.6,415.8 220.2,415.9 220.8,416.0 221.4,416.1 222.0,416.2 222.0,420.3 44.8,420.3" fill="#c8d8f0" fill-opacity="0.2"/>
<polygon points="44.8,390.7 45.4,390.0 46.0,389.2 46.6,388.4 47.2,387.6 47.8,386.8 48.4,386.0 48.9,385.2 49.5,384.3 50.1,383.4 50.7,382.5 51.3,381.6 51.9,380.6 52.5,379.7 53.1,378.7 53.7,377.7 54.3,376.7 54.8,375.7 55.4,374.6 56.0,373.6 56.6,372.5 57.2,371.4 57.8,370.3 58.4,369.1 59.0,368.0 59.6,366.8 60.2,365.6 60.8,364.4 61.3,363.2 61.9,361.9 62.5,360.7 63.1,359.4 63.7,358.1 64.3,356.8 64.9,355.5 65.5,354.1 66.1,352.8 66.7,351.4 67.3,350.0 67.8,348.6 68.4,347.2 69.0,345.8 69.6,344.4 70.2,343.0 70.8,341.5 71.4,340.1 72.0,338.7 72.6,337.2 73.2,335.8 73.7,334.3 74.3,332.8 74.9,331.4 75.5,329.9 76.1,328.5 76.7,327.0 77.3,325.6 77.9,324.1 78.5,322.7 79.1,321.3 79.7,319.9 80.2,318.5 80.8,317.1 81.4,315.7 82.0,314.4 82.6,313.1 83.2,311.8 83.8,310.5 84.4,309.3 85.0,308.0 85.6,306.8 86.2,305.7 86.7,304.5 87.3,303.4 87.9,302.4 88.5,301.4 89.1,300.4 89.7,299.4 90.3,298.5 90.9,297.7 91.5,296.9 92.1,296.1 92.6,295.4 93.2,294.7 93.8,294.1 94.4,293.5 95.0,293.0 95.6,292.5 96.2,292.1 96.8,291.8 97.4,291.5 98.0,291.2 98.6,291.0 99.1,290.9 99.7,290.8 100.3,290.8 100.9,290.8 101.5,290.9 102.1,291.0 102.7,291.1 103.3,291.3 103.9,291.5 104.5,291.8 105.1,292.1 105.6,292.4 106.2,292.8 106.8,293.2 107.4,293.6 108.0,294.1 108.6,294.6 109.2,295.1 109.8,295.7 110.4,296.3 111.0,296.9 111.5,297.6 112.1,298.2 112.7,299.0 113.3,299.7 113.9,300.5 114.5,301.3 115.1,302.1 115.7,303.0 116.3,303.9 116.9,304.8 117.5,305.7 118.0,306.6 118.6,307.6 119.2,308.6 119.8,309.6 120.4,310.6 121.0,311.7 121.6,312.7 122.2,313.8 122.8,314.9 123.4,316.0 124.0,317.1 124.5,318.2 125.1,319.4 125.7,320.5 126.3,321.7 126.9,322.8 127.5,324.0 128.1,325.1 128.7,326.3 129.3,327.5 129.9,328.7 130.4,329.9 131.0,331.1 131.6,332.3 132.2,333.4 132.8,334.6 133.4,335.8 134.0,337.0 134.6,338.2 135.2,339.4 135.8,340.6 136.4,341.7 136.9,342.9 137.5,344.1 138.1,345.2 138.7,346.4 139.3,347.5 139.9,348.7 140.5,349.8 141.1,350.9 141.7,352.1 142.3,353.2 142.8,354.3 143.4,355.4 144.0,356.4 144.6,357.5 145.2,358.6 145.8,359.6 146.4,360.7 147.0,361.7 147.6,362.7 148.2,363.7 148.8,364.7 149.3,365.7 149.9,366.7 150.5,367.6 151.1,368.6 151.7,369.5 152.3,370.4 152.9,371.4 153.5,372.3 154.1,373.1 154.7,374.0 155.3,374.9 155.8,375.7 156.4,376.6 157.0,377.4 157.6,378.2 158.2,379.0 158.8,379.8 159.4,380.6 160.0,381.4 160.6,382.1 161.2,382.9 161.7,383.6 162.3,384.3 162.9,385.0 163.5,385.7 164.1,386.4 164.7,387.1 165.3,387.7 165.9,388.4 166.5,389.0 167.1,389.7 167.7,390.3 168.2,390.9 168.8,391.5 169.4,392.1 170.0,392.6 170.6,393.2 171.2,393.8 171.8,394.3 172.4,394.8 173.0,395.4 173.6,395.9 174.2,396.4 174.7,396.9 175.3,397.4 175.9,397.8 176.5,398.3 177.1,398.8 177.7,399.2 178.3,399.7 178.9,400.1 179.5,400.5 180.1,400.9 180.6,401.3 181.2,401.7 181.8,402.1 182.4,402.5 183.0,402.9 183.6,403.3 184.2,403.6 184.8,404.0 185.4,404.3 186.0,404.7 186.6,405.0 187.1,405.3 187.7,405.6 188.3,406.0 188.9,406.3 189.5,406.6 190.1,406.9 190.7,407.2 191.3,407.4 191.9,407.7 192.5,408.0 193.1,408.3 193.6,408.5 194.2,408.8 194.8,409.0 195.4,409.3 196.0,409.5 196.6,409.7 197.2,410.0 197.8,410.2 198.4,410.4 199.0,410.6 199.5,410.8 200.1,411.0 200.7,411.2 201.3,411.4 201.9,411.6 202.5,411.8 203.1,412.0 203.7,412.2 204.3,412.4 204.9,412.5 205.5,412.7 206.0,412.9 206.6,413.0 207.2,413.2 207.8,413.4 208.4,413.5 209.0,413.7 209.6,413.8 210.2,413.9 210.8,414.1 211.4,414.2 212.0,414.4 212.5,414.5 213.1,414.6 213.7,414.7 214.3,414.9 214.9,415.0 215.5,415.1 216.1,415.2 216.7,415.3 217.3,415.4 217.9,415.5 218.4,415.6 219.0,415.8 219.6,415.9 220.2,416.0 220.8,416.0 221.4,416.1 222.0,416.2 222.0,420.3 44.8,420.3" fill="#e8b090" fill-opacity="0.2"/>
<polygon points="44.8,392.2 45.4,391.5 46.0,390.8 46.6,390.0 47.2,389.3 47.8,388.5 48.4,387.7 48.9,386.9 49.5,386.1 50.1,385.3 50.7,384.4 51.3,383.6 51.9,382.7 52.5,381.8 53.1,380.9 53.7,380.0 54.3,379.0 54.8,378.0 55.4,377.1 56.0,376.1 56.6,375.0 57.2,374.0 57.8,373.0 58.4,371.9 59.0,370.8 59.6,369.7 60.2,368.6 60.8,367.4 61.3,366.3 61.9,365.1 62.5,363.9 63.1,362.7 63.7,361.5 64.3,360.3 64.9,359.0 65.5,357.7 66.1,356.5 66.7,355.2 67.3,353.9 67.8,352.6 68.4,351.2 69.0,349.9 69.6,348.5 70.2,347.2 70.8,345.8 71.4,344.4 72.0,343.0 72.6,341.6 73.2,340.3 73.7,338.9 74.3,337.4 74.9,336.0 75.5,334.6 76.1,333.2 76.7,331.8 77.3,330.4 77.9,329.0 78.5,327.6 79.1,326.2 79.7,324.9 80.2,323.5 80.8,322.1 81.4,320.8 82.0,319.4 82.6,318.1 83.2,316.8 83.8,315.5 84.4,314.3 85.0,313.0 85.6,311.8 86.2,310.6 86.7,309.5 87.3,308.3 87.9,307.2 88.5,306.1 89.1,305.1 89.7,304.1 90.3,303.1 90.9,302.2 91.5,301.3 92.1,300.5 92.6,299.6 93.2,298.9 93.8,298.1 94.4,297.5 95.0,296.8 95.6,296.3 96.2,295.7 96.8,295.2 97.4,294.8 98.0,294.4 98.6,294.1 99.1,293.8 99.7,293.6 100.3,293.4 100.9,293.3 101.5,293.2 102.1,293.2 102.7,293.3 103.3,293.3 103.9,293.4 104.5,293.6 105.1,293.7 105.6,293.9 106.2,294.2 106.8,294.5 107.4,294.8 108.0,295.1 108.6,295.5 109.2,295.9 109.8,296.4 110.4,296.9 111.0,297.4 111.5,297.9 112.1,298.5 112.7,299.1 113.3,299.7 113.9,300.4 114.5,301.1 115.1,301.8 115.7,302.5 116.3,303.3 116.9,304.1 117.5,304.9 118.0,305.8 118.6,306.6 119.2,307.5 119.8,308.4 120.4,309.3 121.0,310.3 121.6,311.3 122.2,312.2 122.8,313.2 123.4,314.2 124.0,315.3 124.5,316.3 125.1,317.4 125.7,318.4 126.3,319.5 126.9,320.6 127.5,321.7 128.1,322.8 128.7,323.9 129.3,325.0 129.9,326.2 130.4,327.3 131.0,328.4 131.6,329.6 132.2,330.7 132.8,331.9 133.4,333.0 134.0,334.2 134.6,335.3 135.2,336.5 135.8,337.6 136.4,338.8 136.9,339.9 137.5,341.0 138.1,342.2 138.7,343.3 139.3,344.4 139.9,345.6 140.5,346.7 141.1,347.8 141.7,348.9 142.3,350.0 142.8,351.1 143.4,352.2 144.0,353.3 144.6,354.3 145.2,355.4 145.8,356.4 146.4,357.5 147.0,358.5 147.6,359.5 148.2,360.6 148.8,361.6 149.3,362.6 149.9,363.6 150.5,364.5 151.1,365.5 151.7,366.4 152.3,367.4 152.9,368.3 153.5,369.2 154.1,370.1 154.7,371.0 155.3,371.9 155.8,372.8 156.4,373.7 157.0,374.5 157.6,375.4 158.2,376.2 158.8,377.0 159.4,377.8 160.0,378.6 160.6,379.4 161.2,380.1 161.7,380.9 162.3,381.7 162.9,382.4 163.5,383.1 164.1,383.8 164.7,384.5 165.3,385.2 165.9,385.9 166.5,386.6 167.1,387.2 167.7,387.9 168.2,388.5 168.8,389.1 169.4,389.7 170.0,390.3 170.6,390.9 171.2,391.5 171.8,392.1 172.4,392.7 173.0,393.2 173.6,393.8 174.2,394.3 174.7,394.8 175.3,395.3 175.9,395.8 176.5,396.3 177.1,396.8 177.7,397.3 178.3,397.8 178.9,398.2 179.5,398.7 180.1,399.1 180.6,399.6 181.2,400.0 181.8,400.4 182.4,400.8 183.0,401.2 183.6,401.6 184.2,402.0 184.8,402.4 185.4,402.8 186.0,403.1 186.6,403.5 187.1,403.8 187.7,404.2 188.3,404.5 188.9,404.8 189.5,405.2 190.1,405.5 190.7,405.8 191.3,406.1 191.9,406.4 192.5,406.7 193.1,407.0 193.6,407.3 194.2,407.5 194.8,407.8 195.4,408.1 196.0,408.3 196.6,408.6 197.2,408.8 197.8,409.1 198.4,409.3 199.0,409.6 199.5,409.8 200.1,410.0 200.7,410.2 201.3,410.4 201.9,410.7 202.5,410.9 203.1,411.1 203.7,411.3 204.3,411.5 204.9,411.6 205.5,411.8 206.0,412.0 206.6,412.2 207.2,412.4 207.8,412.5 208.4,412.7 209.0,412.9 209.6,413.0 210.2,413.2 210.8,413.3 211.4,413.5 212.0,413.6 212.5,413.8 213.1,413.9 213.7,414.1 214.3,414.2 214.9,414.3 215.5,414.5 216.1,414.6 216.7,414.7 217.3,414.8 217.9,414.9 218.4,415.1 219.0,415.2 219.6,415.3 220.2,415.4 220.8,415.5 221.4,415.6 222.0,415.7 222.0,420.3 44.8,420.3" fill="#d8c8ec" fill-opacity="0.2"/>
<polygon points="44.8,391.0 45.4,390.3 46.0,389.5 46.6,388.7 47.2,387.9 47.8,387.1 48.4,386.3 48.9,385.4 49.5,384.6 50.1,383.7 50.7,382.8 51.3,381.9 51.9,380.9 52.5,380.0 53.1,379.0 53.7,378.0 54.3,377.0 54.8,375.9 55.4,374.9 56.0,373.8 56.6,372.7 57.2,371.6 57.8,370.5 58.4,369.3 59.0,368.2 59.6,367.0 60.2,365.8 60.8,364.5 61.3,363.3 61.9,362.1 62.5,360.8 63.1,359.5 63.7,358.2 64.3,356.9 64.9,355.5 65.5,354.2 66.1,352.8 66.7,351.4 67.3,350.0 67.8,348.6 68.4,347.2 69.0,345.8 69.6,344.3 70.2,342.9 70.8,341.4 71.4,340.0 72.0,338.5 72.6,337.0 73.2,335.5 73.7,334.1 74.3,332.6 74.9,331.1 75.5,329.6 76.1,328.1 76.7,326.6 77.3,325.2 77.9,323.7 78.5,322.3 79.1,320.8 79.7,319.4 80.2,318.0 80.8,316.5 81.4,315.2 82.0,313.8 82.6,312.4 83.2,311.1 83.8,309.8 84.4,308.5 85.0,307.3 85.6,306.1 86.2,304.9 86.7,303.7 87.3,302.6 87.9,301.5 88.5,300.5 89.1,299.4 89.7,298.5 90.3,297.6 90.9,296.7 91.5,295.8 92.1,295.1 92.6,294.3 93.2,293.6 93.8,293.0 94.4,292.4 95.0,291.9 95.6,291.4 96.2,291.0 96.8,290.6 97.4,290.3 98.0,290.1 98.6,289.9 99.1,289.7 99.7,289.7 100.3,289.6 100.9,289.7 101.5,289.7 102.1,289.8 102.7,290.0 103.3,290.2 103.9,290.4 104.5,290.6 105.1,290.9 105.6,291.3 106.2,291.6 106.8,292.1 107.4,292.5 108.0,293.0 108.6,293.5 109.2,294.0 109.8,294.6 110.4,295.2 111.0,295.9 111.5,296.6 112.1,297.3 112.7,298.0 113.3,298.8 113.9,299.6 114.5,300.4 115.1,301.2 115.7,302.1 116.3,303.0 116.9,303.9 117.5,304.9 118.0,305.9 118.6,306.8 119.2,307.9 119.8,308.9 120.4,309.9 121.0,311.0 121.6,312.1 122.2,313.2 122.8,314.3 123.4,315.4 124.0,316.5 124.5,317.7 125.1,318.8 125.7,320.0 126.3,321.2 126.9,322.4 127.5,323.6 128.1,324.7 128.7,325.9 129.3,327.1 129.9,328.4 130.4,329.6 131.0,330.8 131.6,332.0 132.2,333.2 132.8,334.4 133.4,335.6 134.0,336.8 134.6,338.0 135.2,339.2 135.8,340.4 136.4,341.6 136.9,342.8 137.5,344.0 138.1,345.2 138.7,346.3 139.3,347.5 139.9,348.7 140.5,349.8 141.1,350.9 141.7,352.1 142.3,353.2 142.8,354.3 143.4,355.4 144.0,356.5 144.6,357.6 145.2,358.7 145.8,359.7 146.4,360.8 147.0,361.8 147.6,362.8 148.2,363.9 148.8,364.9 149.3,365.9 149.9,366.8 150.5,367.8 151.1,368.8 151.7,369.7 152.3,370.6 152.9,371.6 153.5,372.5 154.1,373.4 154.7,374.3 155.3,375.1 155.8,376.0 156.4,376.8 157.0,377.7 157.6,378.5 158.2,379.3 158.8,380.1 159.4,380.9 160.0,381.6 160.6,382.4 161.2,383.1 161.7,383.9 162.3,384.6 162.9,385.3 163.5,386.0 164.1,386.7 164.7,387.4 165.3,388.0 165.9,388.7 166.5,389.3 167.1,389.9 167.7,390.6 168.2,391.2 168.8,391.8 169.4,392.4 170.0,392.9 170.6,393.5 171.2,394.0 171.8,394.6 172.4,395.1 173.0,395.6 173.6,396.2 174.2,396.7 174.7,397.2 175.3,397.6 175.9,398.1 176.5,398.6 177.1,399.0 177.7,399.5 178.3,399.9 178.9,400.4 179.5,400.8 180.1,401.2 180.6,401.6 181.2,402.0 181.8,402.4 182.4,402.8 183.0,403.2 183.6,403.5 184.2,403.9 184.8,404.2 185.4,404.6 186.0,404.9 186.6,405.3 187.1,405.6 187.7,405.9 188.3,406.2 188.9,406.5 189.5,406.8 190.1,407.1 190.7,407.4 191.3,407.7 191.9,407.9 192.5,408.2 193.1,408.5 193.6,408.7 194.2,409.0 194.8,409.2 195.4,409.5 196.0,409.7 196.6,409.9 197.2,410.2 197.8,410.4 198.4,410.6 199.0,410.8 199.5,411.0 200.1,411.2 200.7,411.4 201.3,411.6 201.9,411.8 202.5,412.0 203.1,412.2 203.7,412.4 204.3,412.5 204.9,412.7 205.5,412.9 206.0,413.0 206.6,413.2 207.2,413.4 207.8,413.5 208.4,413.7 209.0,413.8 209.6,414.0 210.2,414.1 210.8,414.2 211.4,414.4 212.0,414.5 212.5,414.6 213.1,414.8 213.7,414.9 214.3,415.0 214.9,415.1 215.5,415.2 216.1,415.3 216.7,415.5 217.3,415.6 217.9,415.7 218.4,415.8 219.0,415.9 219.6,416.0 220.2,416.1 220.8,416.2 221.4,416.3 222.0,416.3 222.0,420.3 44.8,420.3" fill="#ba9776"/>
<polyline points="44.8,397.4 45.4,396.7 46.0,396.0 46.6,395.2 47.2,394.5 47.8,393.7 48.4,392.9 48.9,392.0 49.5,391.2 50.1,390.3 50.7,389.4 51.3,388.5 51.9,387.5 52.5,386.6 53.1,385.6 53.7,384.5 54.3,383.5 54.8,382.4 55.4,381.3 56.0,380.2 56.6,379.0 57.2,377.8 57.8,376.6 58.4,375.3 59.0,374.1 59.6,372.8 60.2,371.4 60.8,370.1 61.3,368.7 61.9,367.3 62.5,365.8 63.1,364.3 63.7,362.8 64.3,361.3 64.9,359.7 65.5,358.1 66.1,356.5 66.7,354.8 67.3,353.1 67.8,351.4 68.4,349.7 69.0,347.9 69.6,346.1 70.2,344.3 70.8,342.5 71.4,340.6 72.0,338.8 72.6,336.9 73.2,334.9 73.7,333.0 74.3,331.1 74.9,329.1 75.5,327.1 76.1,325.1 76.7,323.1 77.3,321.1 77.9,319.1 78.5,317.1 79.1,315.1 79.7,313.1 80.2,311.1 80.8,309.1 81.4,307.1 82.0,305.1 82.6,303.2 83.2,301.2 83.8,299.3 84.4,297.4 85.0,295.6 85.6,293.7 86.2,291.9 86.7,290.2 87.3,288.5 87.9,286.8 88.5,285.2 89.1,283.6 89.7,282.1 90.3,280.6 90.9,279.2 91.5,277.9 92.1,276.6 92.6,275.4 93.2,274.3 93.8,273.2 94.4,272.2 95.0,271.3 95.6,270.5 96.2,269.8 96.8,269.1 97.4,268.5 98.0,268.1 98.6,267.7 99.1,267.4 99.7,267.2 100.3,267.1 100.9,267.0 101.5,267.1 102.1,267.2 102.7,267.4 103.3,267.6 103.9,267.9 104.5,268.2 105.1,268.6 105.6,269.1 106.2,269.6 106.8,270.2 107.4,270.8 108.0,271.5 108.6,272.3 109.2,273.1 109.8,273.9 110.4,274.8 111.0,275.8 111.5,276.7 112.1,277.8 112.7,278.9 113.3,280.0 113.9,281.2 114.5,282.4 115.1,283.6 115.7,284.9 116.3,286.2 116.9,287.6 117.5,288.9 118.0,290.3 118.6,291.8 119.2,293.2 119.8,294.7 120.4,296.2 121.0,297.8 121.6,299.3 122.2,300.9 122.8,302.4 123.4,304.0 124.0,305.6 124.5,307.2 125.1,308.9 125.7,310.5 126.3,312.1 126.9,313.8 127.5,315.4 128.1,317.0 128.7,318.7 129.3,320.3 129.9,322.0 130.4,323.6 131.0,325.2 131.6,326.9 132.2,328.5 132.8,330.1 133.4,331.7 134.0,333.3 134.6,334.8 135.2,336.4 135.8,338.0 136.4,339.5 136.9,341.0 137.5,342.6 138.1,344.1 138.7,345.5 139.3,347.0 139.9,348.5 140.5,349.9 141.1,351.3 141.7,352.7 142.3,354.1 142.8,355.4 143.4,356.8 144.0,358.1 144.6,359.4 145.2,360.7 145.8,362.0 146.4,363.2 147.0,364.4 147.6,365.7 148.2,366.8 148.8,368.0 149.3,369.2 149.9,370.3 150.5,371.4 151.1,372.5 151.7,373.6 152.3,374.6 152.9,375.6 153.5,376.7 154.1,377.7 154.7,378.6 155.3,379.6 155.8,380.5 156.4,381.4 157.0,382.3 157.6,383.2 158.2,384.1 158.8,384.9 159.4,385.8 160.0,386.6 160.6,387.4 161.2,388.2 161.7,388.9 162.3,389.7 162.9,390.4 163.5,391.1 164.1,391.8 164.7,392.5 165.3,393.2 165.9,393.8 166.5,394.5 167.1,395.1 167.7,395.7 168.2,396.3 168.8,396.9 169.4,397.5 170.0,398.0 170.6,398.6 171.2,399.1 171.8,399.6 172.4,400.2 173.0,400.7 173.6,401.1 174.2,401.6 174.7,402.1 175.3,402.5 175.9,403.0 176.5,403.4 177.1,403.8 177.7,404.2 178.3,404.6 178.9,405.0 179.5,405.4 180.1,405.8 180.6,406.2 181.2,406.5 181.8,406.9 182.4,407.2 183.0,407.5 183.6,407.8 184.2,408.2 184.8,408.5 185.4,408.8 186.0,409.1 186.6,409.3 187.1,409.6 187.7,409.9 188.3,410.2 188.9,410.4 189.5,410.7 190.1,410.9 190.7,411.2 191.3,411.4 191.9,411.6 192.5,411.8 193.1,412.1 193.6,412.3 194.2,412.5 194.8,412.7 195.4,412.9 196.0,413.1 196.6,413.2 197.2,413.4 197.8,413.6 198.4,413.8 199.0,413.9 199.5,414.1 200.1,414.3 200.7,414.4 201.3,414.6 201.9,414.7 202.5,414.9 203.1,415.0 203.7,415.1 204.3,415.3 204.9,415.4 205.5,415.5 206.0,415.6 206.6,415.8 207.2,415.9 207.8,416.0 208.4,416.1 209.0,416.2 209.6,416.3 210.2,416.4 210.8,416.5 211.4,416.6 212.0,416.7 212.5,416.8 213.1,416.9 213.7,417.0 214.3,417.1 214.9,417.2 215.5,417.2 216.1,417.3 216.7,417.4 217.3,417.5 217.9,417.5 218.4,417.6 219.0,417.7 219.6,417.7 220.2,417.8 220.8,417.9 221.4,417.9 222.0,418.0" fill="none" stroke="#a65ea8" stroke-width="1.5" stroke-dasharray="6,3.5"/>
<polyline points="44.8,400.5 45.4,399.9 46.0,399.3 46.6,398.7 47.2,398.0 47.8,397.3 48.4,396.6 48.9,395.9 49.5,395.2 50.1,394.4 50.7,393.7 51.3,392.9 51.9,392.0 52.5,391.2 53.1,390.3 53.7,389.4 54.3,388.5 54.8,387.6 55.4,386.6 56.0,385.7 56.6,384.7 57.2,383.6 57.8,382.6 58.4,381.5 59.0,380.4 59.6,379.2 60.2,378.1 60.8,376.9 61.3,375.7 61.9,374.4 62.5,373.1 63.1,371.8 63.7,370.5 64.3,369.1 64.9,367.8 65.5,366.3 66.1,364.9 66.7,363.4 67.3,361.9 67.8,360.4 68.4,358.9 69.0,357.3 69.6,355.7 70.2,354.0 70.8,352.4 71.4,350.7 72.0,349.0 72.6,347.2 73.2,345.5 73.7,343.7 74.3,341.9 74.9,340.1 75.5,338.2 76.1,336.4 76.7,334.5 77.3,332.6 77.9,330.7 78.5,328.8 79.1,326.9 79.7,324.9 80.2,323.0 80.8,321.0 81.4,319.1 82.0,317.1 82.6,315.2 83.2,313.2 83.8,311.3 84.4,309.4 85.0,307.4 85.6,305.5 86.2,303.7 86.7,301.8 87.3,300.0 87.9,298.1 88.5,296.3 89.1,294.6 89.7,292.9 90.3,291.2 90.9,289.6 91.5,288.0 92.1,286.4 92.6,284.9 93.2,283.5 93.8,282.1 94.4,280.8 95.0,279.5 95.6,278.3 96.2,277.2 96.8,276.1 97.4,275.1 98.0,274.2 98.6,273.3 99.1,272.6 99.7,271.9 100.3,271.3 100.9,270.8 101.5,270.3 102.1,270.0 102.7,269.7 103.3,269.6 103.9,269.5 104.5,269.5 105.1,269.5 105.6,269.6 106.2,269.8 106.8,270.1 107.4,270.3 108.0,270.7 108.6,271.1 109.2,271.6 109.8,272.1 110.4,272.6 111.0,273.3 111.5,273.9 112.1,274.7 112.7,275.4 113.3,276.3 113.9,277.1 114.5,278.1 115.1,279.0 115.7,280.0 116.3,281.1 116.9,282.2 117.5,283.3 118.0,284.5 118.6,285.7 119.2,286.9 119.8,288.2 120.4,289.5 121.0,290.8 121.6,292.2 122.2,293.6 122.8,295.0 123.4,296.4 124.0,297.9 124.5,299.4 125.1,300.8 125.7,302.4 126.3,303.9 126.9,305.4 127.5,307.0 128.1,308.5 128.7,310.1 129.3,311.7 129.9,313.3 130.4,314.9 131.0,316.4 131.6,318.0 132.2,319.6 132.8,321.2 133.4,322.8 134.0,324.4 134.6,326.0 135.2,327.6 135.8,329.1 136.4,330.7 136.9,332.2 137.5,333.8 138.1,335.3 138.7,336.9 139.3,338.4 139.9,339.9 140.5,341.4 141.1,342.8 141.7,344.3 142.3,345.8 142.8,347.2 143.4,348.6 144.0,350.0 144.6,351.4 145.2,352.8 145.8,354.1 146.4,355.4 147.0,356.8 147.6,358.1 148.2,359.3 148.8,360.6 149.3,361.9 149.9,363.1 150.5,364.3 151.1,365.5 151.7,366.6 152.3,367.8 152.9,368.9 153.5,370.0 154.1,371.1 154.7,372.2 155.3,373.3 155.8,374.3 156.4,375.3 157.0,376.3 157.6,377.3 158.2,378.3 158.8,379.2 159.4,380.2 160.0,381.1 160.6,382.0 161.2,382.8 161.7,383.7 162.3,384.5 162.9,385.4 163.5,386.2 164.1,387.0 164.7,387.7 165.3,388.5 165.9,389.3 166.5,390.0 167.1,390.7 167.7,391.4 168.2,392.1 168.8,392.7 169.4,393.4 170.0,394.0 170.6,394.7 171.2,395.3 171.8,395.9 172.4,396.5 173.0,397.0 173.6,397.6 174.2,398.2 174.7,398.7 175.3,399.2 175.9,399.7 176.5,400.2 177.1,400.7 177.7,401.2 178.3,401.7 178.9,402.1 179.5,402.6 180.1,403.0 180.6,403.4 181.2,403.8 181.8,404.2 182.4,404.6 183.0,405.0 183.6,405.4 184.2,405.8 184.8,406.1 185.4,406.5 186.0,406.8 186.6,407.2 187.1,407.5 187.7,407.8 188.3,408.1 188.9,408.4 189.5,408.7 190.1,409.0 190.7,409.3 191.3,409.6 191.9,409.8 192.5,410.1 193.1,410.3 193.6,410.6 194.2,410.8 194.8,411.1 195.4,411.3 196.0,411.5 196.6,411.8 197.2,412.0 197.8,412.2 198.4,412.4 199.0,412.6 199.5,412.8 200.1,413.0 200.7,413.1 201.3,413.3 201.9,413.5 202.5,413.7 203.1,413.8 203.7,414.0 204.3,414.2 204.9,414.3 205.5,414.5 206.0,414.6 206.6,414.8 207.2,414.9 207.8,415.0 208.4,415.2 209.0,415.3 209.6,415.4 210.2,415.6 210.8,415.7 211.4,415.8 212.0,415.9 212.5,416.0 213.1,416.1 213.7,416.2 214.3,416.3 214.9,416.4 215.5,416.5 216.1,416.6 216.7,416.7 217.3,416.8 217.9,416.9 218.4,417.0 219.0,417.1 219.6,417.2 220.2,417.2 220.8,417.3 221.4,417.4 222.0,417.5" fill="none" stroke="#5b8ec9" stroke-width="1.3" stroke-dasharray="6,3.5"/>
<polyline points="44.8,394.2 45.4,393.5 46.0,392.7 46.6,391.9 47.2,391.1 47.8,390.3 48.4,389.5 48.9,388.6 49.5,387.7 50.1,386.8 50.7,385.9 51.3,384.9 51.9,384.0 52.5,383.0 53.1,382.0 53.7,380.9 54.3,379.9 54.8,378.8 55.4,377.7 56.0,376.5 56.6,375.4 57.2,374.2 57.8,373.0 58.4,371.8 59.0,370.5 59.6,369.2 60.2,367.9 60.8,366.6 61.3,365.3 61.9,363.9 62.5,362.5 63.1,361.1 63.7,359.6 64.3,358.2 64.9,356.7 65.5,355.2 66.1,353.6 66.7,352.1 67.3,350.5 67.8,348.9 68.4,347.3 69.0,345.7 69.6,344.0 70.2,342.3 70.8,340.7 71.4,339.0 72.0,337.3 72.6,335.5 73.2,333.8 73.7,332.1 74.3,330.3 74.9,328.6 75.5,326.8 76.1,325.0 76.7,323.3 77.3,321.5 77.9,319.7 78.5,318.0 79.1,316.2 79.7,314.5 80.2,312.8 80.8,311.0 81.4,309.3 82.0,307.7 82.6,306.0 83.2,304.4 83.8,302.7 84.4,301.2 85.0,299.6 85.6,298.1 86.2,296.6 86.7,295.1 87.3,293.7 87.9,292.4 88.5,291.0 89.1,289.8 89.7,288.5 90.3,287.4 90.9,286.2 91.5,285.2 92.1,284.2 92.6,283.2 93.2,282.4 93.8,281.5 94.4,280.8 95.0,280.1 95.6,279.5 96.2,279.0 96.8,278.5 97.4,278.1 98.0,277.8 98.6,277.5 99.1,277.3 99.7,277.2 100.3,277.2 100.9,277.3 101.5,277.3 102.1,277.5 102.7,277.7 103.3,277.9 103.9,278.2 104.5,278.5 105.1,278.9 105.6,279.3 106.2,279.8 106.8,280.3 107.4,280.9 108.0,281.5 108.6,282.2 109.2,282.9 109.8,283.6 110.4,284.4 111.0,285.2 111.5,286.1 112.1,287.0 112.7,287.9 113.3,288.9 113.9,289.9 114.5,291.0 115.1,292.0 115.7,293.1 116.3,294.3 116.9,295.4 117.5,296.6 118.0,297.8 118.6,299.1 119.2,300.3 119.8,301.6 120.4,302.9 121.0,304.2 121.6,305.6 122.2,306.9 122.8,308.3 123.4,309.6 124.0,311.0 124.5,312.4 125.1,313.8 125.7,315.3 126.3,316.7 126.9,318.1 127.5,319.5 128.1,321.0 128.7,322.4 129.3,323.9 129.9,325.3 130.4,326.7 131.0,328.2 131.6,329.6 132.2,331.0 132.8,332.5 133.4,333.9 134.0,335.3 134.6,336.7 135.2,338.1 135.8,339.5 136.4,340.9 136.9,342.3 137.5,343.6 138.1,345.0 138.7,346.3 139.3,347.6 139.9,348.9 140.5,350.2 141.1,351.5 141.7,352.8 142.3,354.1 142.8,355.3 143.4,356.6 144.0,357.8 144.6,359.0 145.2,360.2 145.8,361.3 146.4,362.5 147.0,363.6 147.6,364.8 148.2,365.9 148.8,367.0 149.3,368.0 149.9,369.1 150.5,370.2 151.1,371.2 151.7,372.2 152.3,373.2 152.9,374.2 153.5,375.1 154.1,376.1 154.7,377.0 155.3,377.9 155.8,378.8 156.4,379.7 157.0,380.6 157.6,381.4 158.2,382.3 158.8,383.1 159.4,383.9 160.0,384.7 160.6,385.5 161.2,386.3 161.7,387.0 162.3,387.7 162.9,388.5 163.5,389.2 164.1,389.9 164.7,390.5 165.3,391.2 165.9,391.9 166.5,392.5 167.1,393.1 167.7,393.7 168.2,394.3 168.8,394.9 169.4,395.5 170.0,396.1 170.6,396.6 171.2,397.2 171.8,397.7 172.4,398.2 173.0,398.7 173.6,399.2 174.2,399.7 174.7,400.2 175.3,400.6 175.9,401.1 176.5,401.5 177.1,402.0 177.7,402.4 178.3,402.8 178.9,403.2 179.5,403.6 180.1,404.0 180.6,404.4 181.2,404.8 181.8,405.1 182.4,405.5 183.0,405.8 183.6,406.2 184.2,406.5 184.8,406.8 185.4,407.2 186.0,407.5 186.6,407.8 187.1,408.1 187.7,408.4 188.3,408.6 188.9,408.9 189.5,409.2 190.1,409.5 190.7,409.7 191.3,410.0 191.9,410.2 192.5,410.5 193.1,410.7 193.6,410.9 194.2,411.1 194.8,411.4 195.4,411.6 196.0,411.8 196.6,412.0 197.2,412.2 197.8,412.4 198.4,412.6 199.0,412.8 199.5,412.9 200.1,413.1 200.7,413.3 201.3,413.5 201.9,413.6 202.5,413.8 203.1,413.9 203.7,414.1 204.3,414.2 204.9,414.4 205.5,414.5 206.0,414.7 206.6,414.8 207.2,414.9 207.8,415.1 208.4,415.2 209.0,415.3 209.6,415.4 210.2,415.6 210.8,415.7 211.4,415.8 212.0,415.9 212.5,416.0 213.1,416.1 213.7,416.2 214.3,416.3 214.9,416.4 215.5,416.5 216.1,416.6 216.7,416.7 217.3,416.8 217.9,416.9 218.4,416.9 219.0,417.0 219.6,417.1 220.2,417.2 220.8,417.2 221.4,417.3 222.0,417.4" fill="none" stroke="#f2b316" stroke-width="1.3"/>
<polyline points="44.8,397.5 45.4,396.9 46.0,396.2 46.6,395.5 47.2,394.8 47.8,394.1 48.4,393.4 48.9,392.6 49.5,391.9 50.1,391.1 50.7,390.3 51.3,389.4 51.9,388.6 52.5,387.7 53.1,386.8 53.7,385.9 54.3,385.0 54.8,384.1 55.4,383.1 56.0,382.1 56.6,381.1 57.2,380.0 57.8,379.0 58.4,377.9 59.0,376.8 59.6,375.7 60.2,374.5 60.8,373.3 61.3,372.1 61.9,370.9 62.5,369.7 63.1,368.4 63.7,367.1 64.3,365.8 64.9,364.5 65.5,363.1 66.1,361.7 66.7,360.3 67.3,358.9 67.8,357.5 68.4,356.0 69.0,354.5 69.6,353.0 70.2,351.5 70.8,349.9 71.4,348.4 72.0,346.8 72.6,345.2 73.2,343.6 73.7,341.9 74.3,340.3 74.9,338.6 75.5,337.0 76.1,335.3 76.7,333.6 77.3,331.9 77.9,330.2 78.5,328.5 79.1,326.8 79.7,325.1 80.2,323.4 80.8,321.7 81.4,320.0 82.0,318.3 82.6,316.6 83.2,314.9 83.8,313.3 84.4,311.6 85.0,310.0 85.6,308.4 86.2,306.8 86.7,305.2 87.3,303.7 87.9,302.1 88.5,300.6 89.1,299.2 89.7,297.8 90.3,296.4 90.9,295.1 91.5,293.8 92.1,292.5 92.6,291.3 93.2,290.1 93.8,289.0 94.4,288.0 95.0,287.0 95.6,286.0 96.2,285.1 96.8,284.3 97.4,283.6 98.0,282.9 98.6,282.2 99.1,281.7 99.7,281.2 100.3,280.7 100.9,280.4 101.5,280.1 102.1,279.9 102.7,279.7 103.3,279.7 103.9,279.7 104.5,279.7 105.1,279.8 105.6,279.9 106.2,280.1 106.8,280.4 107.4,280.6 108.0,281.0 108.6,281.4 109.2,281.8 109.8,282.2 110.4,282.8 111.0,283.3 111.5,283.9 112.1,284.5 112.7,285.2 113.3,285.9 113.9,286.7 114.5,287.5 115.1,288.3 115.7,289.2 116.3,290.1 116.9,291.1 117.5,292.0 118.0,293.0 118.6,294.1 119.2,295.1 119.8,296.2 120.4,297.4 121.0,298.5 121.6,299.7 122.2,300.9 122.8,302.1 123.4,303.3 124.0,304.6 124.5,305.8 125.1,307.1 125.7,308.4 126.3,309.7 126.9,311.1 127.5,312.4 128.1,313.8 128.7,315.1 129.3,316.5 129.9,317.9 130.4,319.2 131.0,320.6 131.6,322.0 132.2,323.4 132.8,324.8 133.4,326.2 134.0,327.6 134.6,329.0 135.2,330.4 135.8,331.8 136.4,333.1 136.9,334.5 137.5,335.9 138.1,337.3 138.7,338.6 139.3,340.0 139.9,341.3 140.5,342.6 141.1,344.0 141.7,345.3 142.3,346.6 142.8,347.9 143.4,349.2 144.0,350.4 144.6,351.7 145.2,352.9 145.8,354.2 146.4,355.4 147.0,356.6 147.6,357.8 148.2,359.0 148.8,360.1 149.3,361.3 149.9,362.4 150.5,363.5 151.1,364.6 151.7,365.7 152.3,366.8 152.9,367.9 153.5,368.9 154.1,369.9 154.7,370.9 155.3,371.9 155.8,372.9 156.4,373.9 157.0,374.8 157.6,375.8 158.2,376.7 158.8,377.6 159.4,378.5 160.0,379.4 160.6,380.2 161.2,381.1 161.7,381.9 162.3,382.7 162.9,383.5 163.5,384.3 164.1,385.1 164.7,385.8 165.3,386.6 165.9,387.3 166.5,388.0 167.1,388.7 167.7,389.4 168.2,390.1 168.8,390.8 169.4,391.4 170.0,392.0 170.6,392.7 171.2,393.3 171.8,393.9 172.4,394.5 173.0,395.0 173.6,395.6 174.2,396.2 174.7,396.7 175.3,397.2 175.9,397.8 176.5,398.3 177.1,398.8 177.7,399.3 178.3,399.7 178.9,400.2 179.5,400.7 180.1,401.1 180.6,401.5 181.2,402.0 181.8,402.4 182.4,402.8 183.0,403.2 183.6,403.6 184.2,404.0 184.8,404.4 185.4,404.7 186.0,405.1 186.6,405.4 187.1,405.8 187.7,406.1 188.3,406.4 188.9,406.8 189.5,407.1 190.1,407.4 190.7,407.7 191.3,408.0 191.9,408.3 192.5,408.6 193.1,408.8 193.6,409.1 194.2,409.4 194.8,409.6 195.4,409.9 196.0,410.1 196.6,410.3 197.2,410.6 197.8,410.8 198.4,411.0 199.0,411.3 199.5,411.5 200.1,411.7 200.7,411.9 201.3,412.1 201.9,412.3 202.5,412.5 203.1,412.6 203.7,412.8 204.3,413.0 204.9,413.2 205.5,413.3 206.0,413.5 206.6,413.7 207.2,413.8 207.8,414.0 208.4,414.1 209.0,414.3 209.6,414.4 210.2,414.6 210.8,414.7 211.4,414.8 212.0,415.0 212.5,415.1 213.1,415.2 213.7,415.3 214.3,415.4 214.9,415.6 215.5,415.7 216.1,415.8 216.7,415.9 217.3,416.0 217.9,416.1 218.4,416.2 219.0,416.3 219.6,416.4 220.2,416.5 220.8,416.6 221.4,416.7 222.0,416.8" fill="none" stroke="#e8a020" stroke-width="1.0"/>
<polyline points="44.8,393.7 45.4,393.0 46.0,392.3 46.6,391.5 47.2,390.8 47.8,390.0 48.4,389.2 48.9,388.4 49.5,387.5 50.1,386.7 50.7,385.8 51.3,384.9 51.9,384.0 52.5,383.1 53.1,382.2 53.7,381.2 54.3,380.2 54.8,379.2 55.4,378.2 56.0,377.1 56.6,376.1 57.2,375.0 57.8,373.9 58.4,372.8 59.0,371.6 59.6,370.4 60.2,369.3 60.8,368.1 61.3,366.8 61.9,365.6 62.5,364.3 63.1,363.0 63.7,361.7 64.3,360.4 64.9,359.1 65.5,357.7 66.1,356.3 66.7,354.9 67.3,353.5 67.8,352.1 68.4,350.6 69.0,349.2 69.6,347.7 70.2,346.2 70.8,344.7 71.4,343.2 72.0,341.7 72.6,340.2 73.2,338.6 73.7,337.1 74.3,335.5 74.9,334.0 75.5,332.4 76.1,330.8 76.7,329.3 77.3,327.7 77.9,326.1 78.5,324.6 79.1,323.0 79.7,321.5 80.2,319.9 80.8,318.4 81.4,316.9 82.0,315.4 82.6,313.9 83.2,312.4 83.8,311.0 84.4,309.6 85.0,308.2 85.6,306.8 86.2,305.4 86.7,304.1 87.3,302.8 87.9,301.6 88.5,300.4 89.1,299.2 89.7,298.0 90.3,296.9 90.9,295.9 91.5,294.9 92.1,293.9 92.6,293.0 93.2,292.1 93.8,291.3 94.4,290.5 95.0,289.8 95.6,289.2 96.2,288.6 96.8,288.1 97.4,287.6 98.0,287.2 98.6,286.8 99.1,286.5 99.7,286.3 100.3,286.1 100.9,286.0 101.5,286.0 102.1,286.0 102.7,286.0 103.3,286.1 103.9,286.3 104.5,286.4 105.1,286.7 105.6,286.9 106.2,287.2 106.8,287.6 107.4,288.0 108.0,288.4 108.6,288.8 109.2,289.3 109.8,289.9 110.4,290.5 111.0,291.1 111.5,291.7 112.1,292.4 112.7,293.1 113.3,293.9 113.9,294.7 114.5,295.5 115.1,296.3 115.7,297.2 116.3,298.1 116.9,299.0 117.5,300.0 118.0,301.0 118.6,302.0 119.2,303.0 119.8,304.1 120.4,305.1 121.0,306.2 121.6,307.3 122.2,308.5 122.8,309.6 123.4,310.8 124.0,312.0 124.5,313.1 125.1,314.3 125.7,315.6 126.3,316.8 126.9,318.0 127.5,319.3 128.1,320.5 128.7,321.8 129.3,323.0 129.9,324.3 130.4,325.6 131.0,326.8 131.6,328.1 132.2,329.4 132.8,330.7 133.4,332.0 134.0,333.2 134.6,334.5 135.2,335.8 135.8,337.0 136.4,338.3 136.9,339.6 137.5,340.8 138.1,342.1 138.7,343.3 139.3,344.5 139.9,345.8 140.5,347.0 141.1,348.2 141.7,349.4 142.3,350.6 142.8,351.7 143.4,352.9 144.0,354.1 144.6,355.2 145.2,356.4 145.8,357.5 146.4,358.6 147.0,359.7 147.6,360.8 148.2,361.9 148.8,362.9 149.3,364.0 149.9,365.0 150.5,366.1 151.1,367.1 151.7,368.1 152.3,369.1 152.9,370.0 153.5,371.0 154.1,371.9 154.7,372.9 155.3,373.8 155.8,374.7 156.4,375.6 157.0,376.5 157.6,377.3 158.2,378.2 158.8,379.0 159.4,379.8 160.0,380.6 160.6,381.4 161.2,382.2 161.7,383.0 162.3,383.8 162.9,384.5 163.5,385.2 164.1,386.0 164.7,386.7 165.3,387.4 165.9,388.0 166.5,388.7 167.1,389.4 167.7,390.0 168.2,390.6 168.8,391.3 169.4,391.9 170.0,392.5 170.6,393.1 171.2,393.6 171.8,394.2 172.4,394.8 173.0,395.3 173.6,395.8 174.2,396.4 174.7,396.9 175.3,397.4 175.9,397.9 176.5,398.4 177.1,398.8 177.7,399.3 178.3,399.8 178.9,400.2 179.5,400.6 180.1,401.1 180.6,401.5 181.2,401.9 181.8,402.3 182.4,402.7 183.0,403.1 183.6,403.5 184.2,403.8 184.8,404.2 185.4,404.6 186.0,404.9 186.6,405.2 187.1,405.6 187.7,405.9 188.3,406.2 188.9,406.5 189.5,406.8 190.1,407.1 190.7,407.4 191.3,407.7 191.9,408.0 192.5,408.3 193.1,408.5 193.6,408.8 194.2,409.1 194.8,409.3 195.4,409.6 196.0,409.8 196.6,410.0 197.2,410.3 197.8,410.5 198.4,410.7 199.0,410.9 199.5,411.1 200.1,411.4 200.7,411.6 201.3,411.8 201.9,411.9 202.5,412.1 203.1,412.3 203.7,412.5 204.3,412.7 204.9,412.9 205.5,413.0 206.0,413.2 206.6,413.3 207.2,413.5 207.8,413.7 208.4,413.8 209.0,414.0 209.6,414.1 210.2,414.2 210.8,414.4 211.4,414.5 212.0,414.6 212.5,414.8 213.1,414.9 213.7,415.0 214.3,415.1 214.9,415.3 215.5,415.4 216.1,415.5 216.7,415.6 217.3,415.7 217.9,415.8 218.4,415.9 219.0,416.0 219.6,416.1 220.2,416.2 220.8,416.3 221.4,416.4 222.0,416.5" fill="none" stroke="#8fb446" stroke-width="1.4" stroke-dasharray="5,3"/>
<polyline points="44.8,394.3 45.4,393.6 46.0,392.9 46.6,392.2 47.2,391.5 47.8,390.7 48.4,389.9 48.9,389.2 49.5,388.4 50.1,387.5 50.7,386.7 51.3,385.8 51.9,385.0 52.5,384.1 53.1,383.2 53.7,382.2 54.3,381.3 54.8,380.3 55.4,379.3 56.0,378.3 56.6,377.3 57.2,376.2 57.8,375.1 58.4,374.1 59.0,373.0 59.6,371.8 60.2,370.7 60.8,369.5 61.3,368.3 61.9,367.1 62.5,365.9 63.1,364.6 63.7,363.4 64.3,362.1 64.9,360.8 65.5,359.5 66.1,358.1 66.7,356.8 67.3,355.4 67.8,354.0 68.4,352.6 69.0,351.2 69.6,349.8 70.2,348.3 70.8,346.9 71.4,345.4 72.0,343.9 72.6,342.4 73.2,340.9 73.7,339.4 74.3,337.9 74.9,336.4 75.5,334.9 76.1,333.3 76.7,331.8 77.3,330.3 77.9,328.7 78.5,327.2 79.1,325.7 79.7,324.2 80.2,322.7 80.8,321.1 81.4,319.6 82.0,318.2 82.6,316.7 83.2,315.2 83.8,313.8 84.4,312.4 85.0,311.0 85.6,309.6 86.2,308.2 86.7,306.9 87.3,305.6 87.9,304.3 88.5,303.1 89.1,301.9 89.7,300.7 90.3,299.6 90.9,298.5 91.5,297.5 92.1,296.5 92.6,295.5 93.2,294.6 93.8,293.8 94.4,292.9 95.0,292.2 95.6,291.5 96.2,290.8 96.8,290.2 97.4,289.7 98.0,289.2 98.6,288.7 99.1,288.4 99.7,288.1 100.3,287.8 100.9,287.6 101.5,287.5 102.1,287.4 102.7,287.4 103.3,287.4 103.9,287.5 104.5,287.6 105.1,287.8 105.6,288.0 106.2,288.2 106.8,288.5 107.4,288.8 108.0,289.2 108.6,289.6 109.2,290.0 109.8,290.5 110.4,291.0 111.0,291.5 111.5,292.1 112.1,292.7 112.7,293.4 113.3,294.1 113.9,294.8 114.5,295.5 115.1,296.3 115.7,297.1 116.3,298.0 116.9,298.8 117.5,299.7 118.0,300.6 118.6,301.6 119.2,302.5 119.8,303.5 120.4,304.6 121.0,305.6 121.6,306.6 122.2,307.7 122.8,308.8 123.4,309.9 124.0,311.1 124.5,312.2 125.1,313.4 125.7,314.5 126.3,315.7 126.9,316.9 127.5,318.1 128.1,319.3 128.7,320.5 129.3,321.8 129.9,323.0 130.4,324.2 131.0,325.5 131.6,326.7 132.2,328.0 132.8,329.2 133.4,330.5 134.0,331.7 134.6,333.0 135.2,334.2 135.8,335.5 136.4,336.7 136.9,337.9 137.5,339.2 138.1,340.4 138.7,341.6 139.3,342.9 139.9,344.1 140.5,345.3 141.1,346.5 141.7,347.7 142.3,348.9 142.8,350.0 143.4,351.2 144.0,352.4 144.6,353.5 145.2,354.6 145.8,355.8 146.4,356.9 147.0,358.0 147.6,359.1 148.2,360.2 148.8,361.2 149.3,362.3 149.9,363.3 150.5,364.4 151.1,365.4 151.7,366.4 152.3,367.4 152.9,368.4 153.5,369.3 154.1,370.3 154.7,371.2 155.3,372.2 155.8,373.1 156.4,374.0 157.0,374.9 157.6,375.8 158.2,376.6 158.8,377.5 159.4,378.3 160.0,379.1 160.6,379.9 161.2,380.7 161.7,381.5 162.3,382.3 162.9,383.1 163.5,383.8 164.1,384.6 164.7,385.3 165.3,386.0 165.9,386.7 166.5,387.4 167.1,388.0 167.7,388.7 168.2,389.4 168.8,390.0 169.4,390.6 170.0,391.2 170.6,391.9 171.2,392.4 171.8,393.0 172.4,393.6 173.0,394.2 173.6,394.7 174.2,395.3 174.7,395.8 175.3,396.3 175.9,396.8 176.5,397.3 177.1,397.8 177.7,398.3 178.3,398.8 178.9,399.2 179.5,399.7 180.1,400.1 180.6,400.5 181.2,401.0 181.8,401.4 182.4,401.8 183.0,402.2 183.6,402.6 184.2,403.0 184.8,403.4 185.4,403.7 186.0,404.1 186.6,404.4 187.1,404.8 187.7,405.1 188.3,405.5 188.9,405.8 189.5,406.1 190.1,406.4 190.7,406.7 191.3,407.0 191.9,407.3 192.5,407.6 193.1,407.9 193.6,408.2 194.2,408.4 194.8,408.7 195.4,408.9 196.0,409.2 196.6,409.4 197.2,409.7 197.8,409.9 198.4,410.2 199.0,410.4 199.5,410.6 200.1,410.8 200.7,411.0 201.3,411.2 201.9,411.4 202.5,411.6 203.1,411.8 203.7,412.0 204.3,412.2 204.9,412.4 205.5,412.6 206.0,412.7 206.6,412.9 207.2,413.1 207.8,413.2 208.4,413.4 209.0,413.5 209.6,413.7 210.2,413.8 210.8,414.0 211.4,414.1 212.0,414.3 212.5,414.4 213.1,414.5 213.7,414.7 214.3,414.8 214.9,414.9 215.5,415.0 216.1,415.2 216.7,415.3 217.3,415.4 217.9,415.5 218.4,415.6 219.0,415.7 219.6,415.8 220.2,415.9 220.8,416.0 221.4,416.1 222.0,416.2" fill="none" stroke="#6aa3d6" stroke-width="1.4" stroke-dasharray="5,3"/>
<polyline points="44.8,390.7 45.4,390.0 46.0,389.2 46.6,388.4 47.2,387.6 47.8,386.8 48.4,386.0 48.9,385.2 49.5,384.3 50.1,383.4 50.7,382.5 51.3,381.6 51.9,380.6 52.5,379.7 53.1,378.7 53.7,377.7 54.3,376.7 54.8,375.7 55.4,374.6 56.0,373.6 56.6,372.5 57.2,371.4 57.8,370.3 58.4,369.1 59.0,368.0 59.6,366.8 60.2,365.6 60.8,364.4 61.3,363.2 61.9,361.9 62.5,360.7 63.1,359.4 63.7,358.1 64.3,356.8 64.9,355.5 65.5,354.1 66.1,352.8 66.7,351.4 67.3,350.0 67.8,348.6 68.4,347.2 69.0,345.8 69.6,344.4 70.2,343.0 70.8,341.5 71.4,340.1 72.0,338.7 72.6,337.2 73.2,335.8 73.7,334.3 74.3,332.8 74.9,331.4 75.5,329.9 76.1,328.5 76.7,327.0 77.3,325.6 77.9,324.1 78.5,322.7 79.1,321.3 79.7,319.9 80.2,318.5 80.8,317.1 81.4,315.7 82.0,314.4 82.6,313.1 83.2,311.8 83.8,310.5 84.4,309.3 85.0,308.0 85.6,306.8 86.2,305.7 86.7,304.5 87.3,303.4 87.9,302.4 88.5,301.4 89.1,300.4 89.7,299.4 90.3,298.5 90.9,297.7 91.5,296.9 92.1,296.1 92.6,295.4 93.2,294.7 93.8,294.1 94.4,293.5 95.0,293.0 95.6,292.5 96.2,292.1 96.8,291.8 97.4,291.5 98.0,291.2 98.6,291.0 99.1,290.9 99.7,290.8 100.3,290.8 100.9,290.8 101.5,290.9 102.1,291.0 102.7,291.1 103.3,291.3 103.9,291.5 104.5,291.8 105.1,292.1 105.6,292.4 106.2,292.8 106.8,293.2 107.4,293.6 108.0,294.1 108.6,294.6 109.2,295.1 109.8,295.7 110.4,296.3 111.0,296.9 111.5,297.6 112.1,298.2 112.7,299.0 113.3,299.7 113.9,300.5 114.5,301.3 115.1,302.1 115.7,303.0 116.3,303.9 116.9,304.8 117.5,305.7 118.0,306.6 118.6,307.6 119.2,308.6 119.8,309.6 120.4,310.6 121.0,311.7 121.6,312.7 122.2,313.8 122.8,314.9 123.4,316.0 124.0,317.1 124.5,318.2 125.1,319.4 125.7,320.5 126.3,321.7 126.9,322.8 127.5,324.0 128.1,325.1 128.7,326.3 129.3,327.5 129.9,328.7 130.4,329.9 131.0,331.1 131.6,332.3 132.2,333.4 132.8,334.6 133.4,335.8 134.0,337.0 134.6,338.2 135.2,339.4 135.8,340.6 136.4,341.7 136.9,342.9 137.5,344.1 138.1,345.2 138.7,346.4 139.3,347.5 139.9,348.7 140.5,349.8 141.1,350.9 141.7,352.1 142.3,353.2 142.8,354.3 143.4,355.4 144.0,356.4 144.6,357.5 145.2,358.6 145.8,359.6 146.4,360.7 147.0,361.7 147.6,362.7 148.2,363.7 148.8,364.7 149.3,365.7 149.9,366.7 150.5,367.6 151.1,368.6 151.7,369.5 152.3,370.4 152.9,371.4 153.5,372.3 154.1,373.1 154.7,374.0 155.3,374.9 155.8,375.7 156.4,376.6 157.0,377.4 157.6,378.2 158.2,379.0 158.8,379.8 159.4,380.6 160.0,381.4 160.6,382.1 161.2,382.9 161.7,383.6 162.3,384.3 162.9,385.0 163.5,385.7 164.1,386.4 164.7,387.1 165.3,387.7 165.9,388.4 166.5,389.0 167.1,389.7 167.7,390.3 168.2,390.9 168.8,391.5 169.4,392.1 170.0,392.6 170.6,393.2 171.2,393.8 171.8,394.3 172.4,394.8 173.0,395.4 173.6,395.9 174.2,396.4 174.7,396.9 175.3,397.4 175.9,397.8 176.5,398.3 177.1,398.8 177.7,399.2 178.3,399.7 178.9,400.1 179.5,400.5 180.1,400.9 180.6,401.3 181.2,401.7 181.8,402.1 182.4,402.5 183.0,402.9 183.6,403.3 184.2,403.6 184.8,404.0 185.4,404.3 186.0,404.7 186.6,405.0 187.1,405.3 187.7,405.6 188.3,406.0 188.9,406.3 189.5,406.6 190.1,406.9 190.7,407.2 191.3,407.4 191.9,407.7 192.5,408.0 193.1,408.3 193.6,408.5 194.2,408.8 194.8,409.0 195.4,409.3 196.0,409.5 196.6,409.7 197.2,410.0 197.8,410.2 198.4,410.4 199.0,410.6 199.5,410.8 200.1,411.0 200.7,411.2 201.3,411.4 201.9,411.6 202.5,411.8 203.1,412.0 203.7,412.2 204.3,412.4 204.9,412.5 205.5,412.7 206.0,412.9 206.6,413.0 207.2,413.2 207.8,413.4 208.4,413.5 209.0,413.7 209.6,413.8 210.2,413.9 210.8,414.1 211.4,414.2 212.0,414.4 212.5,414.5 213.1,414.6 213.7,414.7 214.3,414.9 214.9,415.0 215.5,415.1 216.1,415.2 216.7,415.3 217.3,415.4 217.9,415.5 218.4,415.6 219.0,415.8 219.6,415.9 220.2,416.0 220.8,416.0 221.4,416.1 222.0,416.2" fill="none" stroke="#ec7b2d" stroke-width="1.6"/>
<polyline points="44.8,392.2 45.4,391.5 46.0,390.8 46.6,390.0 47.2,389.3 47.8,388.5 48.4,387.7 48.9,386.9 49.5,386.1 50.1,385.3 50.7,384.4 51.3,383.6 51.9,382.7 52.5,381.8 53.1,380.9 53.7,380.0 54.3,379.0 54.8,378.0 55.4,377.1 56.0,376.1 56.6,375.0 57.2,374.0 57.8,373.0 58.4,371.9 59.0,370.8 59.6,369.7 60.2,368.6 60.8,367.4 61.3,366.3 61.9,365.1 62.5,363.9 63.1,362.7 63.7,361.5 64.3,360.3 64.9,359.0 65.5,357.7 66.1,356.5 66.7,355.2 67.3,353.9 67.8,352.6 68.4,351.2 69.0,349.9 69.6,348.5 70.2,347.2 70.8,345.8 71.4,344.4 72.0,343.0 72.6,341.6 73.2,340.3 73.7,338.9 74.3,337.4 74.9,336.0 75.5,334.6 76.1,333.2 76.7,331.8 77.3,330.4 77.9,329.0 78.5,327.6 79.1,326.2 79.7,324.9 80.2,323.5 80.8,322.1 81.4,320.8 82.0,319.4 82.6,318.1 83.2,316.8 83.8,315.5 84.4,314.3 85.0,313.0 85.6,311.8 86.2,310.6 86.7,309.5 87.3,308.3 87.9,307.2 88.5,306.1 89.1,305.1 89.7,304.1 90.3,303.1 90.9,302.2 91.5,301.3 92.1,300.5 92.6,299.6 93.2,298.9 93.8,298.1 94.4,297.5 95.0,296.8 95.6,296.3 96.2,295.7 96.8,295.2 97.4,294.8 98.0,294.4 98.6,294.1 99.1,293.8 99.7,293.6 100.3,293.4 100.9,293.3 101.5,293.2 102.1,293.2 102.7,293.3 103.3,293.3 103.9,293.4 104.5,293.6 105.1,293.7 105.6,293.9 106.2,294.2 106.8,294.5 107.4,294.8 108.0,295.1 108.6,295.5 109.2,295.9 109.8,296.4 110.4,296.9 111.0,297.4 111.5,297.9 112.1,298.5 112.7,299.1 113.3,299.7 113.9,300.4 114.5,301.1 115.1,301.8 115.7,302.5 116.3,303.3 116.9,304.1 117.5,304.9 118.0,305.8 118.6,306.6 119.2,307.5 119.8,308.4 120.4,309.3 121.0,310.3 121.6,311.3 122.2,312.2 122.8,313.2 123.4,314.2 124.0,315.3 124.5,316.3 125.1,317.4 125.7,318.4 126.3,319.5 126.9,320.6 127.5,321.7 128.1,322.8 128.7,323.9 129.3,325.0 129.9,326.2 130.4,327.3 131.0,328.4 131.6,329.6 132.2,330.7 132.8,331.9 133.4,333.0 134.0,334.2 134.6,335.3 135.2,336.5 135.8,337.6 136.4,338.8 136.9,339.9 137.5,341.0 138.1,342.2 138.7,343.3 139.3,344.4 139.9,345.6 140.5,346.7 141.1,347.8 141.7,348.9 142.3,350.0 142.8,351.1 143.4,352.2 144.0,353.3 144.6,354.3 145.2,355.4 145.8,356.4 146.4,357.5 147.0,358.5 147.6,359.5 148.2,360.6 148.8,361.6 149.3,362.6 149.9,363.6 150.5,364.5 151.1,365.5 151.7,366.4 152.3,367.4 152.9,368.3 153.5,369.2 154.1,370.1 154.7,371.0 155.3,371.9 155.8,372.8 156.4,373.7 157.0,374.5 157.6,375.4 158.2,376.2 158.8,377.0 159.4,377.8 160.0,378.6 160.6,379.4 161.2,380.1 161.7,380.9 162.3,381.7 162.9,382.4 163.5,383.1 164.1,383.8 164.7,384.5 165.3,385.2 165.9,385.9 166.5,386.6 167.1,387.2 167.7,387.9 168.2,388.5 168.8,389.1 169.4,389.7 170.0,390.3 170.6,390.9 171.2,391.5 171.8,392.1 172.4,392.7 173.0,393.2 173.6,393.8 174.2,394.3 174.7,394.8 175.3,395.3 175.9,395.8 176.5,396.3 177.1,396.8 177.7,397.3 178.3,397.8 178.9,398.2 179.5,398.7 180.1,399.1 180.6,399.6 181.2,400.0 181.8,400.4 182.4,400.8 183.0,401.2 183.6,401.6 184.2,402.0 184.8,402.4 185.4,402.8 186.0,403.1 186.6,403.5 187.1,403.8 187.7,404.2 188.3,404.5 188.9,404.8 189.5,405.2 190.1,405.5 190.7,405.8 191.3,406.1 191.9,406.4 192.5,406.7 193.1,407.0 193.6,407.3 194.2,407.5 194.8,407.8 195.4,408.1 196.0,408.3 196.6,408.6 197.2,408.8 197.8,409.1 198.4,409.3 199.0,409.6 199.5,409.8 200.1,410.0 200.7,410.2 201.3,410.4 201.9,410.7 202.5,410.9 203.1,411.1 203.7,411.3 204.3,411.5 204.9,411.6 205.5,411.8 206.0,412.0 206.6,412.2 207.2,412.4 207.8,412.5 208.4,412.7 209.0,412.9 209.6,413.0 210.2,413.2 210.8,413.3 211.4,413.5 212.0,413.6 212.5,413.8 213.1,413.9 213.7,414.1 214.3,414.2 214.9,414.3 215.5,414.5 216.1,414.6 216.7,414.7 217.3,414.8 217.9,414.9 218.4,415.1 219.0,415.2 219.6,415.3 220.2,415.4 220.8,415.5 221.4,415.6 222.0,415.7" fill="none" stroke="#a65ea8" stroke-width="1.2" stroke-dasharray="5,3"/>
</g>
<rect x="41" y="257" width="184" height="172" fill="none" stroke="#000" stroke-width="2"/>
<line x1="48.8" y1="428" x2="48.8" y2="424.8" stroke="#000" stroke-width="1.1"/>
<line x1="48.8" y1="258" x2="48.8" y2="261.2" stroke="#000" stroke-width="1.1"/>
<line x1="54.4" y1="428" x2="54.4" y2="426.2" stroke="#000" stroke-width="1.1"/>
<line x1="54.4" y1="258" x2="54.4" y2="259.8" stroke="#000" stroke-width="1.1"/>
<line x1="60.1" y1="428" x2="60.1" y2="426.2" stroke="#000" stroke-width="1.1"/>
<line x1="60.1" y1="258" x2="60.1" y2="259.8" stroke="#000" stroke-width="1.1"/>
<line x1="65.7" y1="428" x2="65.7" y2="426.2" stroke="#000" stroke-width="1.1"/>
<line x1="65.7" y1="258" x2="65.7" y2="259.8" stroke="#000" stroke-width="1.1"/>
<line x1="71.4" y1="428" x2="71.4" y2="426.2" stroke="#000" stroke-width="1.1"/>
<line x1="71.4" y1="258" x2="71.4" y2="259.8" stroke="#000" stroke-width="1.1"/>
<line x1="77.0" y1="428" x2="77.0" y2="424.8" stroke="#000" stroke-width="1.1"/>
<line x1="77.0" y1="258" x2="77.0" y2="261.2" stroke="#000" stroke-width="1.1"/>
<line x1="82.6" y1="428" x2="82.6" y2="426.2" stroke="#000" stroke-width="1.1"/>
<line x1="82.6" y1="258" x2="82.6" y2="259.8" stroke="#000" stroke-width="1.1"/>
<line x1="88.3" y1="428" x2="88.3" y2="426.2" stroke="#000" stroke-width="1.1"/>
<line x1="88.3" y1="258" x2="88.3" y2="259.8" stroke="#000" stroke-width="1.1"/>
<line x1="93.9" y1="428" x2="93.9" y2="426.2" stroke="#000" stroke-width="1.1"/>
<line x1="93.9" y1="258" x2="93.9" y2="259.8" stroke="#000" stroke-width="1.1"/>
<line x1="99.6" y1="428" x2="99.6" y2="426.2" stroke="#000" stroke-width="1.1"/>
<line x1="99.6" y1="258" x2="99.6" y2="259.8" stroke="#000" stroke-width="1.1"/>
<line x1="105.2" y1="428" x2="105.2" y2="424.8" stroke="#000" stroke-width="1.1"/>
<line x1="105.2" y1="258" x2="105.2" y2="261.2" stroke="#000" stroke-width="1.1"/>
<line x1="110.8" y1="428" x2="110.8" y2="426.2" stroke="#000" stroke-width="1.1"/>
<line x1="110.8" y1="258" x2="110.8" y2="259.8" stroke="#000" stroke-width="1.1"/>
<line x1="116.5" y1="428" x2="116.5" y2="426.2" stroke="#000" stroke-width="1.1"/>
<line x1="116.5" y1="258" x2="116.5" y2="259.8" stroke="#000" stroke-width="1.1"/>
<line x1="122.1" y1="428" x2="122.1" y2="426.2" stroke="#000" stroke-width="1.1"/>
<line x1="122.1" y1="258" x2="122.1" y2="259.8" stroke="#000" stroke-width="1.1"/>
<line x1="127.8" y1="428" x2="127.8" y2="426.2" stroke="#000" stroke-width="1.1"/>
<line x1="127.8" y1="258" x2="127.8" y2="259.8" stroke="#000" stroke-width="1.1"/>
<line x1="133.4" y1="428" x2="133.4" y2="424.8" stroke="#000" stroke-width="1.1"/>
<line x1="133.4" y1="258" x2="133.4" y2="261.2" stroke="#000" stroke-width="1.1"/>
<line x1="139.0" y1="428" x2="139.0" y2="426.2" stroke="#000" stroke-width="1.1"/>
<line x1="139.0" y1="258" x2="139.0" y2="259.8" stroke="#000" stroke-width="1.1"/>
<line x1="144.7" y1="428" x2="144.7" y2="426.2" stroke="#000" stroke-width="1.1"/>
<line x1="144.7" y1="258" x2="144.7" y2="259.8" stroke="#000" stroke-width="1.1"/>
<line x1="150.3" y1="428" x2="150.3" y2="426.2" stroke="#000" stroke-width="1.1"/>
<line x1="150.3" y1="258" x2="150.3" y2="259.8" stroke="#000" stroke-width="1.1"/>
<line x1="156.0" y1="428" x2="156.0" y2="426.2" stroke="#000" stroke-width="1.1"/>
<line x1="156.0" y1="258" x2="156.0" y2="259.8" stroke="#000" stroke-width="1.1"/>
<line x1="161.6" y1="428" x2="161.6" y2="424.8" stroke="#000" stroke-width="1.1"/>
<line x1="161.6" y1="258" x2="161.6" y2="261.2" stroke="#000" stroke-width="1.1"/>
<line x1="167.2" y1="428" x2="167.2" y2="426.2" stroke="#000" stroke-width="1.1"/>
<line x1="167.2" y1="258" x2="167.2" y2="259.8" stroke="#000" stroke-width="1.1"/>
<line x1="172.9" y1="428" x2="172.9" y2="426.2" stroke="#000" stroke-width="1.1"/>
<line x1="172.9" y1="258" x2="172.9" y2="259.8" stroke="#000" stroke-width="1.1"/>
<line x1="178.5" y1="428" x2="178.5" y2="426.2" stroke="#000" stroke-width="1.1"/>
<line x1="178.5" y1="258" x2="178.5" y2="259.8" stroke="#000" stroke-width="1.1"/>
<line x1="184.2" y1="428" x2="184.2" y2="426.2" stroke="#000" stroke-width="1.1"/>
<line x1="184.2" y1="258" x2="184.2" y2="259.8" stroke="#000" stroke-width="1.1"/>
<line x1="189.8" y1="428" x2="189.8" y2="424.8" stroke="#000" stroke-width="1.1"/>
<line x1="189.8" y1="258" x2="189.8" y2="261.2" stroke="#000" stroke-width="1.1"/>
<line x1="195.4" y1="428" x2="195.4" y2="426.2" stroke="#000" stroke-width="1.1"/>
<line x1="195.4" y1="258" x2="195.4" y2="259.8" stroke="#000" stroke-width="1.1"/>
<line x1="201.1" y1="428" x2="201.1" y2="426.2" stroke="#000" stroke-width="1.1"/>
<line x1="201.1" y1="258" x2="201.1" y2="259.8" stroke="#000" stroke-width="1.1"/>
<line x1="206.7" y1="428" x2="206.7" y2="426.2" stroke="#000" stroke-width="1.1"/>
<line x1="206.7" y1="258" x2="206.7" y2="259.8" stroke="#000" stroke-width="1.1"/>
<line x1="212.4" y1="428" x2="212.4" y2="426.2" stroke="#000" stroke-width="1.1"/>
<line x1="212.4" y1="258" x2="212.4" y2="259.8" stroke="#000" stroke-width="1.1"/>
<line x1="218.0" y1="428" x2="218.0" y2="424.8" stroke="#000" stroke-width="1.1"/>
<line x1="218.0" y1="258" x2="218.0" y2="261.2" stroke="#000" stroke-width="1.1"/>
<line x1="42" y1="420.3" x2="45.2" y2="420.3" stroke="#000" stroke-width="1.1"/>
<line x1="224" y1="420.3" x2="220.8" y2="420.3" stroke="#000" stroke-width="1.1"/>
<line x1="42" y1="415.4" x2="43.8" y2="415.4" stroke="#000" stroke-width="1.1"/>
<line x1="224" y1="415.4" x2="222.2" y2="415.4" stroke="#000" stroke-width="1.1"/>
<line x1="42" y1="410.6" x2="43.8" y2="410.6" stroke="#000" stroke-width="1.1"/>
<line x1="224" y1="410.6" x2="222.2" y2="410.6" stroke="#000" stroke-width="1.1"/>
<line x1="42" y1="405.8" x2="43.8" y2="405.8" stroke="#000" stroke-width="1.1"/>
<line x1="224" y1="405.8" x2="222.2" y2="405.8" stroke="#000" stroke-width="1.1"/>
<line x1="42" y1="400.9" x2="43.8" y2="400.9" stroke="#000" stroke-width="1.1"/>
<line x1="224" y1="400.9" x2="222.2" y2="400.9" stroke="#000" stroke-width="1.1"/>
<line x1="42" y1="396.1" x2="45.2" y2="396.1" stroke="#000" stroke-width="1.1"/>
<line x1="224" y1="396.1" x2="220.8" y2="396.1" stroke="#000" stroke-width="1.1"/>
<line x1="42" y1="391.2" x2="43.8" y2="391.2" stroke="#000" stroke-width="1.1"/>
<line x1="224" y1="391.2" x2="222.2" y2="391.2" stroke="#000" stroke-width="1.1"/>
<line x1="42" y1="386.4" x2="43.8" y2="386.4" stroke="#000" stroke-width="1.1"/>
<line x1="224" y1="386.4" x2="222.2" y2="386.4" stroke="#000" stroke-width="1.1"/>
<line x1="42" y1="381.5" x2="43.8" y2="381.5" stroke="#000" stroke-width="1.1"/>
<line x1="224" y1="381.5" x2="222.2" y2="381.5" stroke="#000" stroke-width="1.1"/>
<line x1="42" y1="376.7" x2="43.8" y2="376.7" stroke="#000" stroke-width="1.1"/>
<line x1="224" y1="376.7" x2="222.2" y2="376.7" stroke="#000" stroke-width="1.1"/>
<line x1="42" y1="371.8" x2="45.2" y2="371.8" stroke="#000" stroke-width="1.1"/>
<line x1="224" y1="371.8" x2="220.8" y2="371.8" stroke="#000" stroke-width="1.1"/>
<line x1="42" y1="366.9" x2="43.8" y2="366.9" stroke="#000" stroke-width="1.1"/>
<line x1="224" y1="366.9" x2="222.2" y2="366.9" stroke="#000" stroke-width="1.1"/>
<line x1="42" y1="362.1" x2="43.8" y2="362.1" stroke="#000" stroke-width="1.1"/>
<line x1="224" y1="362.1" x2="222.2" y2="362.1" stroke="#000" stroke-width="1.1"/>
<line x1="42" y1="357.2" x2="43.8" y2="357.2" stroke="#000" stroke-width="1.1"/>
<line x1="224" y1="357.2" x2="222.2" y2="357.2" stroke="#000" stroke-width="1.1"/>
<line x1="42" y1="352.4" x2="43.8" y2="352.4" stroke="#000" stroke-width="1.1"/>
<line x1="224" y1="352.4" x2="222.2" y2="352.4" stroke="#000" stroke-width="1.1"/>
<line x1="42" y1="347.6" x2="45.2" y2="347.6" stroke="#000" stroke-width="1.1"/>
<line x1="224" y1="347.6" x2="220.8" y2="347.6" stroke="#000" stroke-width="1.1"/>
<line x1="42" y1="342.7" x2="43.8" y2="342.7" stroke="#000" stroke-width="1.1"/>
<line x1="224" y1="342.7" x2="222.2" y2="342.7" stroke="#000" stroke-width="1.1"/>
<line x1="42" y1="337.9" x2="43.8" y2="337.9" stroke="#000" stroke-width="1.1"/>
<line x1="224" y1="337.9" x2="222.2" y2="337.9" stroke="#000" stroke-width="1.1"/>
<line x1="42" y1="333.0" x2="43.8" y2="333.0" stroke="#000" stroke-width="1.1"/>
<line x1="224" y1="333.0" x2="222.2" y2="333.0" stroke="#000" stroke-width="1.1"/>
<line x1="42" y1="328.1" x2="43.8" y2="328.1" stroke="#000" stroke-width="1.1"/>
<line x1="224" y1="328.1" x2="222.2" y2="328.1" stroke="#000" stroke-width="1.1"/>
<line x1="42" y1="323.3" x2="45.2" y2="323.3" stroke="#000" stroke-width="1.1"/>
<line x1="224" y1="323.3" x2="220.8" y2="323.3" stroke="#000" stroke-width="1.1"/>
<line x1="42" y1="318.4" x2="43.8" y2="318.4" stroke="#000" stroke-width="1.1"/>
<line x1="224" y1="318.4" x2="222.2" y2="318.4" stroke="#000" stroke-width="1.1"/>
<line x1="42" y1="313.6" x2="43.8" y2="313.6" stroke="#000" stroke-width="1.1"/>
<line x1="224" y1="313.6" x2="222.2" y2="313.6" stroke="#000" stroke-width="1.1"/>
<line x1="42" y1="308.8" x2="43.8" y2="308.8" stroke="#000" stroke-width="1.1"/>
<line x1="224" y1="308.8" x2="222.2" y2="308.8" stroke="#000" stroke-width="1.1"/>
<line x1="42" y1="303.9" x2="43.8" y2="303.9" stroke="#000" stroke-width="1.1"/>
<line x1="224" y1="303.9" x2="222.2" y2="303.9" stroke="#000" stroke-width="1.1"/>
<line x1="42" y1="299.1" x2="45.2" y2="299.1" stroke="#000" stroke-width="1.1"/>
<line x1="224" y1="299.1" x2="220.8" y2="299.1" stroke="#000" stroke-width="1.1"/>
<line x1="42" y1="294.2" x2="43.8" y2="294.2" stroke="#000" stroke-width="1.1"/>
<line x1="224" y1="294.2" x2="222.2" y2="294.2" stroke="#000" stroke-width="1.1"/>
<line x1="42" y1="289.4" x2="43.8" y2="289.4" stroke="#000" stroke-width="1.1"/>
<line x1="224" y1="289.4" x2="222.2" y2="289.4" stroke="#000" stroke-width="1.1"/>
<line x1="42" y1="284.5" x2="43.8" y2="284.5" stroke="#000" stroke-width="1.1"/>
<line x1="224" y1="284.5" x2="222.2" y2="284.5" stroke="#000" stroke-width="1.1"/>
<line x1="42" y1="279.6" x2="43.8" y2="279.6" stroke="#000" stroke-width="1.1"/>
<line x1="224" y1="279.6" x2="222.2" y2="279.6" stroke="#000" stroke-width="1.1"/>
<line x1="42" y1="274.8" x2="45.2" y2="274.8" stroke="#000" stroke-width="1.1"/>
<line x1="224" y1="274.8" x2="220.8" y2="274.8" stroke="#000" stroke-width="1.1"/>
<line x1="42" y1="270.0" x2="43.8" y2="270.0" stroke="#000" stroke-width="1.1"/>
<line x1="224" y1="270.0" x2="222.2" y2="270.0" stroke="#000" stroke-width="1.1"/>
<line x1="42" y1="265.1" x2="43.8" y2="265.1" stroke="#000" stroke-width="1.1"/>
<line x1="224" y1="265.1" x2="222.2" y2="265.1" stroke="#000" stroke-width="1.1"/>
<text x="0" y="424.8" font-size="12.5" font-weight="bold" text-anchor="end" transform="translate(39.0,0) scale(0.72,1)">0.0</text>
<text x="0" y="400.6" font-size="12.5" font-weight="bold" text-anchor="end" transform="translate(39.0,0) scale(0.72,1)">0.5</text>
<text x="0" y="376.3" font-size="12.5" font-weight="bold" text-anchor="end" transform="translate(39.0,0) scale(0.72,1)">1.0</text>
<text x="0" y="352.1" font-size="12.5" font-weight="bold" text-anchor="end" transform="translate(39.0,0) scale(0.72,1)">1.5</text>
<text x="0" y="327.8" font-size="12.5" font-weight="bold" text-anchor="end" transform="translate(39.0,0) scale(0.72,1)">2.0</text>
<text x="0" y="303.6" font-size="12.5" font-weight="bold" text-anchor="end" transform="translate(39.0,0) scale(0.72,1)">2.5</text>
<text x="0" y="279.3" font-size="12.5" font-weight="bold" text-anchor="end" transform="translate(39.0,0) scale(0.72,1)">3.0</text>
<text x="0" y="444.0" font-size="12.5" font-weight="bold" text-anchor="middle" transform="translate(48.8,0) scale(0.72,1)">&#8211;3</text>
<text x="0" y="444.0" font-size="12.5" font-weight="bold" text-anchor="middle" transform="translate(77.0,0) scale(0.72,1)">&#8211;2</text>
<text x="0" y="444.0" font-size="12.5" font-weight="bold" text-anchor="middle" transform="translate(105.2,0) scale(0.72,1)">&#8211;1</text>
<text x="0" y="444.0" font-size="12.5" font-weight="bold" text-anchor="middle" transform="translate(133.4,0) scale(0.72,1)">0</text>
<text x="0" y="444.0" font-size="12.5" font-weight="bold" text-anchor="middle" transform="translate(161.6,0) scale(0.72,1)">1</text>
<text x="0" y="444.0" font-size="12.5" font-weight="bold" text-anchor="middle" transform="translate(189.8,0) scale(0.72,1)">2</text>
<text x="0" y="444.0" font-size="12.5" font-weight="bold" text-anchor="middle" transform="translate(218.0,0) scale(0.72,1)">3</text>
<text transform="translate(19.6,342) rotate(-90)" font-size="7.2" font-weight="bold" text-anchor="middle" letter-spacing="0.9"><tspan font-style="italic" font-size="8">U</tspan><tspan font-size="5" dy="0.8">1</tspan><tspan dy="-0.8">(x,t)</tspan></text>
<text x="133.2" y="466.6" font-size="9" font-weight="bold" text-anchor="middle">x</text>
<clipPath id="ce"><rect x="267" y="258" width="181" height="170"/></clipPath>
<g clip-path="url(#ce)">
<polygon points="268.8,415.2 269.4,415.0 270.0,414.8 270.6,414.7 271.2,414.5 271.8,414.3 272.4,414.2 273.0,414.0 273.5,413.8 274.1,413.6 274.7,413.4 275.3,413.2 275.9,412.9 276.5,412.7 277.1,412.5 277.7,412.2 278.3,412.0 278.9,411.7 279.5,411.5 280.1,411.2 280.7,410.9 281.3,410.5 281.9,410.2 282.4,409.8 283.0,409.5 283.6,409.1 284.2,408.7 284.8,408.3 285.4,407.8 286.0,407.4 286.6,406.9 287.2,406.5 287.8,406.0 288.4,405.5 289.0,404.9 289.6,404.4 290.2,403.8 290.8,403.2 291.3,402.6 291.9,402.0 292.5,401.3 293.1,400.6 293.7,399.9 294.3,399.2 294.9,398.4 295.5,397.6 296.1,396.8 296.7,395.9 297.3,395.1 297.9,394.1 298.5,393.2 299.1,392.2 299.7,391.2 300.2,390.1 300.8,389.1 301.4,387.9 302.0,386.8 302.6,385.5 303.2,384.3 303.8,383.0 304.4,381.6 305.0,380.2 305.6,378.8 306.2,377.3 306.8,375.8 307.4,374.2 308.0,372.5 308.6,370.8 309.1,369.1 309.7,367.3 310.3,365.4 310.9,363.5 311.5,361.5 312.1,359.4 312.7,357.3 313.3,355.1 313.9,352.9 314.5,350.6 315.1,348.2 315.7,345.8 316.3,343.3 316.9,340.8 317.5,338.2 318.0,335.5 318.6,332.8 319.2,330.0 319.8,327.2 320.4,324.3 321.0,321.4 321.6,318.5 322.2,315.6 322.8,312.6 323.4,309.6 324.0,306.6 324.6,303.6 325.2,300.6 325.8,297.7 326.4,294.8 326.9,292.0 327.5,289.2 328.1,286.5 328.7,283.9 329.3,281.4 329.9,279.0 330.5,276.8 331.1,274.8 331.7,272.9 332.3,271.2 332.9,269.7 333.5,268.4 334.1,267.3 334.7,266.5 335.3,265.9 335.8,265.5 336.4,265.4 337.0,265.5 337.6,265.8 338.2,266.3 338.8,267.1 339.4,268.0 340.0,269.2 340.6,270.5 341.2,272.1 341.8,273.8 342.4,274.2 343.0,274.4 343.6,274.7 344.2,275.3 344.7,276.0 345.3,276.9 345.9,277.9 346.5,279.1 347.1,280.5 347.7,282.0 348.3,283.6 348.9,285.4 349.5,287.3 350.1,289.3 350.7,291.3 351.3,293.5 351.9,295.8 352.5,298.1 353.1,300.4 353.6,302.9 354.2,305.3 354.8,307.8 355.4,310.3 356.0,312.8 356.6,315.3 357.2,317.8 357.8,320.4 358.4,322.9 359.0,325.3 359.6,327.8 360.2,330.2 360.8,332.6 361.4,335.0 362.0,337.3 362.5,339.6 363.1,341.9 363.7,344.1 364.3,346.3 364.9,348.4 365.5,350.5 366.1,352.5 366.7,354.5 367.3,356.5 367.9,358.4 368.5,360.2 369.1,362.0 369.7,363.8 370.3,365.5 370.9,367.1 371.4,368.7 372.0,370.3 372.6,371.8 373.2,373.3 373.8,374.8 374.4,376.2 375.0,377.5 375.6,378.9 376.2,380.1 376.8,381.4 377.4,382.6 378.0,383.8 378.6,384.9 379.2,386.0 379.8,387.1 380.3,388.1 380.9,389.1 381.5,390.1 382.1,391.0 382.7,391.9 383.3,392.8 383.9,393.6 384.5,394.4 385.1,395.2 385.7,395.9 386.3,396.6 386.9,397.3 387.5,398.0 388.1,398.7 388.7,399.3 389.2,399.9 389.8,400.5 390.4,401.1 391.0,401.7 391.6,402.2 392.2,402.7 392.8,403.3 393.4,403.7 394.0,404.2 394.6,404.7 395.2,405.2 395.8,405.6 396.4,406.0 397.0,406.4 397.6,406.8 398.1,407.2 398.7,407.6 399.3,408.0 399.9,408.3 400.5,408.7 401.1,409.0 401.7,409.3 402.3,409.7 402.9,410.0 403.5,410.3 404.1,410.6 404.7,410.8 405.3,411.1 405.9,411.4 406.5,411.6 407.0,411.9 407.6,412.1 408.2,412.3 408.8,412.6 409.4,412.8 410.0,413.0 410.6,413.2 411.2,413.4 411.8,413.6 412.4,413.8 413.0,414.0 413.6,414.1 414.2,414.3 414.8,414.5 415.4,414.6 415.9,414.8 416.5,414.9 417.1,415.1 417.7,415.2 418.3,415.4 418.9,415.5 419.5,415.6 420.1,415.8 420.7,415.9 421.3,416.0 421.9,416.1 422.5,416.2 423.1,416.3 423.7,416.4 424.3,416.5 424.8,416.6 425.4,416.7 426.0,416.8 426.6,416.9 427.2,417.0 427.8,417.1 428.4,417.2 429.0,417.3 429.6,417.3 430.2,417.4 430.8,417.5 431.4,417.5 432.0,417.6 432.6,417.7 433.2,417.7 433.7,417.8 434.3,417.9 434.9,417.9 435.5,418.0 436.1,418.0 436.7,418.1 437.3,418.1 437.9,418.2 438.5,418.2 439.1,418.3 439.7,418.3 440.3,418.4 440.9,418.4 441.5,418.5 442.1,418.5 442.6,418.5 443.2,418.6 443.8,418.6 444.4,418.7 445.0,418.7 445.6,418.7 446.2,418.8 446.8,418.8 446.8,419.8 268.8,419.8" fill="#e6def0"/>
<polygon points="268.8,415.5 269.4,415.3 270.0,415.2 270.6,415.0 271.2,414.8 271.8,414.6 272.4,414.4 273.0,414.2 273.5,414.0 274.1,413.8 274.7,413.6 275.3,413.4 275.9,413.1 276.5,412.9 277.1,412.6 277.7,412.4 278.3,412.1 278.9,411.8 279.5,411.5 280.1,411.2 280.7,410.9 281.3,410.5 281.9,410.2 282.4,409.8 283.0,409.5 283.6,409.1 284.2,408.7 284.8,408.3 285.4,407.8 286.0,407.4 286.6,406.9 287.2,406.5 287.8,406.0 288.4,405.5 289.0,404.9 289.6,404.4 290.2,403.8 290.8,403.2 291.3,402.6 291.9,402.0 292.5,401.3 293.1,400.6 293.7,399.9 294.3,399.2 294.9,398.4 295.5,397.6 296.1,396.8 296.7,395.9 297.3,395.1 297.9,394.1 298.5,393.2 299.1,392.2 299.7,391.2 300.2,390.1 300.8,389.1 301.4,387.9 302.0,386.8 302.6,385.5 303.2,384.3 303.8,383.0 304.4,381.6 305.0,380.2 305.6,378.8 306.2,377.3 306.8,375.8 307.4,374.2 308.0,372.5 308.6,370.8 309.1,369.1 309.7,367.3 310.3,365.4 310.9,363.5 311.5,361.5 312.1,359.4 312.7,357.3 313.3,355.1 313.9,352.9 314.5,350.6 315.1,348.2 315.7,345.8 316.3,343.3 316.9,340.8 317.5,338.2 318.0,335.5 318.6,332.8 319.2,330.0 319.8,327.2 320.4,324.3 321.0,321.4 321.6,318.5 322.2,315.6 322.8,312.6 323.4,309.6 324.0,306.6 324.6,303.6 325.2,300.6 325.8,297.7 326.4,294.8 326.9,292.0 327.5,289.2 328.1,286.5 328.7,283.9 329.3,281.4 329.9,279.0 330.5,276.8 331.1,274.8 331.7,272.9 332.3,271.2 332.9,269.7 333.5,268.4 334.1,267.3 334.7,266.5 335.3,265.9 335.8,265.5 336.4,265.4 337.0,265.5 337.6,265.8 338.2,266.3 338.8,267.1 339.4,268.0 340.0,269.2 340.6,270.5 341.2,272.1 341.8,273.8 342.4,275.6 343.0,277.6 343.6,279.8 344.2,282.0 344.7,284.4 345.3,286.8 345.9,289.4 346.5,292.0 347.1,294.7 347.7,297.4 348.3,300.2 348.9,303.0 349.5,305.8 350.1,308.6 350.7,311.4 351.3,314.2 351.9,317.0 352.5,319.8 353.1,322.6 353.6,325.3 354.2,328.0 354.8,330.6 355.4,333.2 356.0,335.8 356.6,338.3 357.2,340.7 357.8,343.1 358.4,345.5 359.0,347.8 359.6,350.0 360.2,352.2 360.8,354.3 361.4,356.4 362.0,358.4 362.5,360.4 363.1,362.3 363.7,364.1 364.3,365.9 364.9,367.7 365.5,369.4 366.1,371.0 366.7,372.6 367.3,374.2 367.9,375.7 368.5,377.1 369.1,378.6 369.7,379.9 370.3,381.2 370.9,382.5 371.4,383.8 372.0,385.0 372.6,386.1 373.2,387.3 373.8,388.3 374.4,389.4 375.0,390.4 375.6,391.4 376.2,392.3 376.8,393.3 377.4,394.2 378.0,395.0 378.6,395.9 379.2,396.7 379.8,397.4 380.3,398.2 380.9,398.9 381.5,399.6 382.1,400.3 382.7,401.0 383.3,401.6 383.9,402.2 384.5,402.8 385.1,403.4 385.7,403.9 386.3,404.5 386.9,405.0 387.5,405.5 388.1,406.0 388.7,406.4 389.2,406.9 389.8,407.3 390.4,407.7 391.0,408.1 391.6,408.5 392.2,408.9 392.8,409.3 393.4,409.6 394.0,410.0 394.6,410.3 395.2,410.6 395.8,410.9 396.4,411.2 397.0,411.5 397.6,411.8 398.1,412.1 398.7,412.3 399.3,412.6 399.9,412.8 400.5,413.1 401.1,413.3 401.7,413.5 402.3,413.7 402.9,413.9 403.5,414.1 404.1,414.3 404.7,414.5 405.3,414.7 405.9,414.9 406.5,415.0 407.0,415.2 407.6,415.3 408.2,415.5 408.8,415.6 409.4,415.8 410.0,415.9 410.6,416.1 411.2,416.2 411.8,416.3 412.4,416.4 413.0,416.5 413.6,416.6 414.2,416.8 414.8,416.9 415.4,417.0 415.9,417.0 416.5,417.1 417.1,417.2 417.7,417.3 418.3,417.4 418.9,417.5 419.5,417.6 420.1,417.6 420.7,417.7 421.3,417.8 421.9,417.8 422.5,417.9 423.1,418.0 423.7,418.0 424.3,418.1 424.8,418.2 425.4,418.2 426.0,418.3 426.6,418.3 427.2,418.4 427.8,418.4 428.4,418.5 429.0,418.5 429.6,418.6 430.2,418.6 430.8,418.6 431.4,418.7 432.0,418.7 432.6,418.7 433.2,418.8 433.7,418.8 434.3,418.9 434.9,418.9 435.5,418.9 436.1,418.9 436.7,419.0 437.3,419.0 437.9,419.0 438.5,419.1 439.1,419.1 439.7,419.1 440.3,419.1 440.9,419.2 441.5,419.2 442.1,419.2 442.6,419.2 443.2,419.2 443.8,419.3 444.4,419.3 445.0,419.3 445.6,419.3 446.2,419.3 446.8,419.3 446.8,419.8 268.8,419.8" fill="#d8c8ec" fill-opacity="0.35"/>
<polygon points="268.8,415.5 269.4,415.3 270.0,415.2 270.6,415.0 271.2,414.8 271.8,414.7 272.4,414.5 273.0,414.3 273.5,414.1 274.1,413.9 274.7,413.7 275.3,413.4 275.9,413.2 276.5,413.0 277.1,412.7 277.7,412.5 278.3,412.2 278.9,411.9 279.5,411.7 280.1,411.4 280.7,411.1 281.3,410.7 281.9,410.4 282.4,410.1 283.0,409.7 283.6,409.4 284.2,409.0 284.8,408.6 285.4,408.2 286.0,407.8 286.6,407.3 287.2,406.9 287.8,406.4 288.4,405.9 289.0,405.4 289.6,404.9 290.2,404.4 290.8,403.8 291.3,403.3 291.9,402.7 292.5,402.0 293.1,401.4 293.7,400.7 294.3,400.1 294.9,399.4 295.5,398.6 296.1,397.9 296.7,397.1 297.3,396.2 297.9,395.4 298.5,394.5 299.1,393.6 299.7,392.7 300.2,391.7 300.8,390.7 301.4,389.7 302.0,388.6 302.6,387.5 303.2,386.3 303.8,385.1 304.4,383.9 305.0,382.6 305.6,381.3 306.2,380.0 306.8,378.5 307.4,377.1 308.0,375.6 308.6,374.0 309.1,372.4 309.7,370.8 310.3,369.1 310.9,367.3 311.5,365.5 312.1,363.6 312.7,361.7 313.3,359.7 313.9,357.7 314.5,355.6 315.1,353.5 315.7,351.3 316.3,349.0 316.9,346.7 317.5,344.3 318.0,341.9 318.6,339.4 319.2,336.8 319.8,334.3 320.4,331.6 321.0,329.0 321.6,326.2 322.2,323.5 322.8,320.7 323.4,317.9 324.0,315.1 324.6,312.3 325.2,309.5 325.8,306.7 326.4,303.9 326.9,301.1 327.5,298.4 328.1,295.7 328.7,293.1 329.3,290.5 329.9,288.1 330.5,285.7 331.1,283.5 331.7,281.4 332.3,279.4 332.9,277.6 333.5,276.0 334.1,274.5 334.7,273.3 335.3,272.2 335.8,271.3 336.4,270.7 337.0,270.3 337.6,270.1 338.2,270.1 338.8,270.3 339.4,270.7 340.0,271.3 340.6,272.1 341.2,273.1 341.8,274.3 342.4,275.6 343.0,277.1 343.6,278.8 344.2,280.6 344.7,282.5 345.3,284.5 345.9,286.7 346.5,289.0 347.1,291.3 347.7,293.7 348.3,296.2 348.9,298.7 349.5,301.3 350.1,303.9 350.7,306.5 351.3,309.2 351.9,311.8 352.5,314.5 353.1,317.2 353.6,319.8 354.2,322.4 354.8,325.0 355.4,327.6 356.0,330.1 356.6,332.6 357.2,335.1 357.8,337.5 358.4,339.9 359.0,342.2 359.6,344.5 360.2,346.7 360.8,348.9 361.4,351.1 362.0,353.2 362.5,355.2 363.1,357.2 363.7,359.1 364.3,361.0 364.9,362.8 365.5,364.6 366.1,366.3 366.7,368.0 367.3,369.7 367.9,371.3 368.5,372.8 369.1,374.3 369.7,375.8 370.3,377.2 370.9,378.5 371.4,379.9 372.0,381.1 372.6,382.4 373.2,383.6 373.8,384.8 374.4,385.9 375.0,387.0 375.6,388.1 376.2,389.1 376.8,390.1 377.4,391.1 378.0,392.0 378.6,392.9 379.2,393.8 379.8,394.6 380.3,395.5 380.9,396.3 381.5,397.0 382.1,397.8 382.7,398.5 383.3,399.2 383.9,399.9 384.5,400.5 385.1,401.2 385.7,401.8 386.3,402.4 386.9,402.9 387.5,403.5 388.1,404.0 388.7,404.5 389.2,405.0 389.8,405.5 390.4,406.0 391.0,406.4 391.6,406.9 392.2,407.3 392.8,407.7 393.4,408.1 394.0,408.5 394.6,408.9 395.2,409.2 395.8,409.6 396.4,409.9 397.0,410.2 397.6,410.5 398.1,410.9 398.7,411.1 399.3,411.4 399.9,411.7 400.5,412.0 401.1,412.2 401.7,412.5 402.3,412.7 402.9,413.0 403.5,413.2 404.1,413.4 404.7,413.6 405.3,413.8 405.9,414.0 406.5,414.2 407.0,414.4 407.6,414.6 408.2,414.7 408.8,414.9 409.4,415.1 410.0,415.2 410.6,415.4 411.2,415.5 411.8,415.7 412.4,415.8 413.0,415.9 413.6,416.0 414.2,416.2 414.8,416.3 415.4,416.4 415.9,416.5 416.5,416.6 417.1,416.7 417.7,416.8 418.3,416.9 418.9,417.0 419.5,417.1 420.1,417.2 420.7,417.3 421.3,417.4 421.9,417.5 422.5,417.5 423.1,417.6 423.7,417.7 424.3,417.7 424.8,417.8 425.4,417.9 426.0,417.9 426.6,418.0 427.2,418.1 427.8,418.1 428.4,418.2 429.0,418.2 429.6,418.3 430.2,418.3 430.8,418.4 431.4,418.4 432.0,418.5 432.6,418.5 433.2,418.6 433.7,418.6 434.3,418.6 434.9,418.7 435.5,418.7 436.1,418.7 436.7,418.8 437.3,418.8 437.9,418.8 438.5,418.9 439.1,418.9 439.7,418.9 440.3,419.0 440.9,419.0 441.5,419.0 442.1,419.0 442.6,419.1 443.2,419.1 443.8,419.1 444.4,419.1 445.0,419.2 445.6,419.2 446.2,419.2 446.8,419.2 446.8,419.8 268.8,419.8" fill="#f0d8a0" fill-opacity="0.25"/>
<polygon points="268.8,416.2 269.4,416.1 270.0,415.9 270.6,415.8 271.2,415.6 271.8,415.5 272.4,415.4 273.0,415.2 273.5,415.0 274.1,414.9 274.7,414.7 275.3,414.5 275.9,414.3 276.5,414.1 277.1,413.9 277.7,413.7 278.3,413.5 278.9,413.3 279.5,413.1 280.1,412.8 280.7,412.6 281.3,412.3 281.9,412.1 282.4,411.8 283.0,411.5 283.6,411.2 284.2,410.9 284.8,410.6 285.4,410.3 286.0,409.9 286.6,409.6 287.2,409.2 287.8,408.9 288.4,408.5 289.0,408.1 289.6,407.7 290.2,407.2 290.8,406.8 291.3,406.4 291.9,405.9 292.5,405.4 293.1,404.9 293.7,404.4 294.3,403.8 294.9,403.3 295.5,402.7 296.1,402.1 296.7,401.5 297.3,400.8 297.9,400.1 298.5,399.5 299.1,398.7 299.7,398.0 300.2,397.2 300.8,396.5 301.4,395.6 302.0,394.8 302.6,393.9 303.2,393.0 303.8,392.1 304.4,391.1 305.0,390.1 305.6,389.1 306.2,388.0 306.8,386.9 307.4,385.8 308.0,384.6 308.6,383.4 309.1,382.1 309.7,380.8 310.3,379.5 310.9,378.1 311.5,376.7 312.1,375.2 312.7,373.7 313.3,372.1 313.9,370.5 314.5,368.8 315.1,367.1 315.7,365.3 316.3,363.5 316.9,361.7 317.5,359.7 318.0,357.8 318.6,355.7 319.2,353.7 319.8,351.5 320.4,349.3 321.0,347.1 321.6,344.8 322.2,342.5 322.8,340.1 323.4,337.7 324.0,335.2 324.6,332.7 325.2,330.1 325.8,327.5 326.4,324.9 326.9,322.3 327.5,319.6 328.1,316.9 328.7,314.3 329.3,311.6 329.9,308.9 330.5,306.3 331.1,303.7 331.7,301.1 332.3,298.6 332.9,296.1 333.5,293.7 334.1,291.4 334.7,289.2 335.3,287.1 335.8,285.1 336.4,283.3 337.0,281.6 337.6,280.0 338.2,278.6 338.8,277.4 339.4,276.4 340.0,275.5 340.6,274.9 341.2,274.5 341.8,274.2 342.4,274.2 343.0,274.4 343.6,274.7 344.2,275.3 344.7,276.0 345.3,276.9 345.9,277.9 346.5,279.1 347.1,280.5 347.7,282.0 348.3,283.6 348.9,285.4 349.5,287.3 350.1,289.3 350.7,291.3 351.3,293.5 351.9,295.8 352.5,298.1 353.1,300.4 353.6,302.9 354.2,305.3 354.8,307.8 355.4,310.3 356.0,312.8 356.6,315.3 357.2,317.8 357.8,320.4 358.4,322.9 359.0,325.3 359.6,327.8 360.2,330.2 360.8,332.6 361.4,335.0 362.0,337.3 362.5,339.6 363.1,341.9 363.7,344.1 364.3,346.3 364.9,348.4 365.5,350.5 366.1,352.5 366.7,354.5 367.3,356.5 367.9,358.4 368.5,360.2 369.1,362.0 369.7,363.8 370.3,365.5 370.9,367.1 371.4,368.7 372.0,370.3 372.6,371.8 373.2,373.3 373.8,374.8 374.4,376.2 375.0,377.5 375.6,378.9 376.2,380.1 376.8,381.4 377.4,382.6 378.0,383.8 378.6,384.9 379.2,386.0 379.8,387.1 380.3,388.1 380.9,389.1 381.5,390.1 382.1,391.0 382.7,391.9 383.3,392.8 383.9,393.7 384.5,394.5 385.1,395.3 385.7,396.1 386.3,396.9 386.9,397.6 387.5,398.3 388.1,399.0 388.7,399.6 389.2,400.3 389.8,400.9 390.4,401.5 391.0,402.1 391.6,402.7 392.2,403.2 392.8,403.7 393.4,404.3 394.0,404.8 394.6,405.2 395.2,405.7 395.8,406.2 396.4,406.6 397.0,407.0 397.6,407.4 398.1,407.8 398.7,408.2 399.3,408.6 399.9,408.9 400.5,409.3 401.1,409.6 401.7,409.9 402.3,410.3 402.9,410.6 403.5,410.9 404.1,411.2 404.7,411.4 405.3,411.7 405.9,412.0 406.5,412.2 407.0,412.5 407.6,412.7 408.2,412.9 408.8,413.1 409.4,413.4 410.0,413.6 410.6,413.8 411.2,414.0 411.8,414.1 412.4,414.3 413.0,414.5 413.6,414.7 414.2,414.8 414.8,415.0 415.4,415.1 415.9,415.3 416.5,415.4 417.1,415.6 417.7,415.7 418.3,415.8 418.9,416.0 419.5,416.1 420.1,416.2 420.7,416.3 421.3,416.4 421.9,416.5 422.5,416.7 423.1,416.8 423.7,416.9 424.3,416.9 424.8,417.0 425.4,417.1 426.0,417.2 426.6,417.3 427.2,417.4 427.8,417.5 428.4,417.5 429.0,417.6 429.6,417.7 430.2,417.7 430.8,417.8 431.4,417.9 432.0,417.9 432.6,418.0 433.2,418.0 433.7,418.1 434.3,418.2 434.9,418.2 435.5,418.3 436.1,418.3 436.7,418.4 437.3,418.4 437.9,418.5 438.5,418.5 439.1,418.5 439.7,418.6 440.3,418.6 440.9,418.7 441.5,418.7 442.1,418.7 442.6,418.8 443.2,418.8 443.8,418.8 444.4,418.9 445.0,418.9 445.6,418.9 446.2,418.9 446.8,419.0 446.8,419.8 268.8,419.8" fill="#c8d4ee" fill-opacity="0.3"/>
<polygon points="268.8,415.8 269.4,415.6 270.0,415.5 270.6,415.3 271.2,415.2 271.8,415.0 272.4,414.8 273.0,414.7 273.5,414.5 274.1,414.3 274.7,414.1 275.3,413.9 275.9,413.7 276.5,413.5 277.1,413.3 277.7,413.1 278.3,412.8 278.9,412.6 279.5,412.3 280.1,412.1 280.7,411.8 281.3,411.5 281.9,411.2 282.4,410.9 283.0,410.6 283.6,410.3 284.2,410.0 284.8,409.6 285.4,409.3 286.0,408.9 286.6,408.5 287.2,408.1 287.8,407.7 288.4,407.3 289.0,406.9 289.6,406.4 290.2,406.0 290.8,405.5 291.3,405.0 291.9,404.5 292.5,404.0 293.1,403.4 293.7,402.8 294.3,402.3 294.9,401.7 295.5,401.0 296.1,400.4 296.7,399.7 297.3,399.0 297.9,398.3 298.5,397.5 299.1,396.8 299.7,396.0 300.2,395.2 300.8,394.3 301.4,393.4 302.0,392.5 302.6,391.6 303.2,390.6 303.8,389.6 304.4,388.6 305.0,387.5 305.6,386.4 306.2,385.3 306.8,384.1 307.4,382.9 308.0,381.6 308.6,380.3 309.1,379.0 309.7,377.6 310.3,376.2 310.9,374.7 311.5,373.2 312.1,371.6 312.7,370.0 313.3,368.4 313.9,366.7 314.5,364.9 315.1,363.1 315.7,361.3 316.3,359.4 316.9,357.4 317.5,355.4 318.0,353.3 318.6,351.2 319.2,349.1 319.8,346.9 320.4,344.6 321.0,342.3 321.6,340.0 322.2,337.6 322.8,335.2 323.4,332.7 324.0,330.2 324.6,327.7 325.2,325.1 325.8,322.5 326.4,320.0 326.9,317.4 327.5,314.8 328.1,312.2 328.7,309.6 329.3,307.0 329.9,304.5 330.5,302.0 331.1,299.5 331.7,297.2 332.3,294.9 332.9,292.6 333.5,290.5 334.1,288.5 334.7,286.6 335.3,284.8 335.8,283.2 336.4,281.7 337.0,280.4 337.6,279.2 338.2,278.3 338.8,277.5 339.4,276.9 340.0,276.5 340.6,276.3 341.2,276.3 341.8,276.5 342.4,276.8 343.0,277.4 343.6,278.1 344.2,278.9 344.7,279.9 345.3,281.1 345.9,282.4 346.5,283.9 347.1,285.5 347.7,287.2 348.3,289.0 348.9,291.0 349.5,293.0 350.1,295.1 350.7,297.3 351.3,299.5 351.9,301.8 352.5,304.2 353.1,306.5 353.6,309.0 354.2,311.4 354.8,313.8 355.4,316.3 356.0,318.7 356.6,321.2 357.2,323.6 357.8,326.0 358.4,328.4 359.0,330.8 359.6,333.2 360.2,335.5 360.8,337.8 361.4,340.0 362.0,342.2 362.5,344.4 363.1,346.5 363.7,348.6 364.3,350.6 364.9,352.6 365.5,354.6 366.1,356.5 366.7,358.4 367.3,360.2 367.9,362.0 368.5,363.7 369.1,365.4 369.7,367.0 370.3,368.6 370.9,370.2 371.4,371.7 372.0,373.2 372.6,374.6 373.2,376.0 373.8,377.3 374.4,378.6 375.0,379.9 375.6,381.1 376.2,382.3 376.8,383.5 377.4,384.6 378.0,385.7 378.6,386.8 379.2,387.8 379.8,388.8 380.3,389.8 380.9,390.7 381.5,391.6 382.1,392.5 382.7,393.4 383.3,394.2 383.9,395.0 384.5,395.8 385.1,396.5 385.7,397.3 386.3,398.0 386.9,398.7 387.5,399.3 388.1,400.0 388.7,400.6 389.2,401.2 389.8,401.8 390.4,402.4 391.0,402.9 391.6,403.5 392.2,404.0 392.8,404.5 393.4,405.0 394.0,405.4 394.6,405.9 395.2,406.3 395.8,406.7 396.4,407.2 397.0,407.6 397.6,407.9 398.1,408.3 398.7,408.7 399.3,409.0 399.9,409.4 400.5,409.7 401.1,410.0 401.7,410.3 402.3,410.6 402.9,410.9 403.5,411.2 404.1,411.5 404.7,411.7 405.3,412.0 405.9,412.2 406.5,412.5 407.0,412.7 407.6,412.9 408.2,413.2 408.8,413.4 409.4,413.6 410.0,413.8 410.6,414.0 411.2,414.1 411.8,414.3 412.4,414.5 413.0,414.7 413.6,414.8 414.2,415.0 414.8,415.1 415.4,415.3 415.9,415.4 416.5,415.6 417.1,415.7 417.7,415.8 418.3,416.0 418.9,416.1 419.5,416.2 420.1,416.3 420.7,416.4 421.3,416.5 421.9,416.6 422.5,416.7 423.1,416.8 423.7,416.9 424.3,417.0 424.8,417.1 425.4,417.2 426.0,417.3 426.6,417.3 427.2,417.4 427.8,417.5 428.4,417.6 429.0,417.6 429.6,417.7 430.2,417.8 430.8,417.8 431.4,417.9 432.0,418.0 432.6,418.0 433.2,418.1 433.7,418.1 434.3,418.2 434.9,418.2 435.5,418.3 436.1,418.3 436.7,418.4 437.3,418.4 437.9,418.5 438.5,418.5 439.1,418.6 439.7,418.6 440.3,418.6 440.9,418.7 441.5,418.7 442.1,418.7 442.6,418.8 443.2,418.8 443.8,418.8 444.4,418.9 445.0,418.9 445.6,418.9 446.2,419.0 446.8,419.0 446.8,419.8 268.8,419.8" fill="#d0e0b0" fill-opacity="0.2"/>
<polygon points="268.8,415.4 269.4,415.2 270.0,415.1 270.6,414.9 271.2,414.7 271.8,414.6 272.4,414.4 273.0,414.2 273.5,414.0 274.1,413.8 274.7,413.6 275.3,413.4 275.9,413.2 276.5,412.9 277.1,412.7 277.7,412.5 278.3,412.2 278.9,412.0 279.5,411.7 280.1,411.4 280.7,411.1 281.3,410.8 281.9,410.5 282.4,410.2 283.0,409.9 283.6,409.5 284.2,409.2 284.8,408.8 285.4,408.4 286.0,408.0 286.6,407.6 287.2,407.2 287.8,406.8 288.4,406.3 289.0,405.9 289.6,405.4 290.2,404.9 290.8,404.4 291.3,403.9 291.9,403.3 292.5,402.8 293.1,402.2 293.7,401.6 294.3,401.0 294.9,400.3 295.5,399.7 296.1,399.0 296.7,398.3 297.3,397.5 297.9,396.8 298.5,396.0 299.1,395.2 299.7,394.3 300.2,393.5 300.8,392.6 301.4,391.7 302.0,390.7 302.6,389.7 303.2,388.7 303.8,387.7 304.4,386.6 305.0,385.5 305.6,384.3 306.2,383.1 306.8,381.9 307.4,380.6 308.0,379.3 308.6,377.9 309.1,376.6 309.7,375.1 310.3,373.6 310.9,372.1 311.5,370.5 312.1,368.9 312.7,367.3 313.3,365.6 313.9,363.8 314.5,362.0 315.1,360.1 315.7,358.2 316.3,356.3 316.9,354.3 317.5,352.2 318.0,350.1 318.6,348.0 319.2,345.8 319.8,343.6 320.4,341.3 321.0,339.0 321.6,336.6 322.2,334.2 322.8,331.8 323.4,329.3 324.0,326.9 324.6,324.4 325.2,321.8 325.8,319.3 326.4,316.8 326.9,314.3 327.5,311.7 328.1,309.2 328.7,306.8 329.3,304.3 329.9,302.0 330.5,299.6 331.1,297.4 331.7,295.2 332.3,293.1 332.9,291.1 333.5,289.2 334.1,287.4 334.7,285.8 335.3,284.3 335.8,282.9 336.4,281.7 337.0,280.7 337.6,279.9 338.2,279.2 338.8,278.7 339.4,278.5 340.0,278.4 340.6,278.4 341.2,278.7 341.8,279.1 342.4,279.7 343.0,280.5 343.6,281.4 344.2,282.4 344.7,283.6 345.3,285.0 345.9,286.4 346.5,288.0 347.1,289.7 347.7,291.6 348.3,293.5 348.9,295.5 349.5,297.5 350.1,299.7 350.7,301.9 351.3,304.1 351.9,306.4 352.5,308.7 353.1,311.1 353.6,313.4 354.2,315.8 354.8,318.2 355.4,320.6 356.0,323.0 356.6,325.3 357.2,327.7 357.8,330.0 358.4,332.3 359.0,334.6 359.6,336.9 360.2,339.1 360.8,341.3 361.4,343.4 362.0,345.5 362.5,347.6 363.1,349.6 363.7,351.6 364.3,353.5 364.9,355.5 365.5,357.3 366.1,359.1 366.7,360.9 367.3,362.6 367.9,364.3 368.5,366.0 369.1,367.6 369.7,369.1 370.3,370.6 370.9,372.1 371.4,373.6 372.0,375.0 372.6,376.3 373.2,377.6 373.8,378.9 374.4,380.2 375.0,381.4 375.6,382.5 376.2,383.7 376.8,384.8 377.4,385.9 378.0,386.9 378.6,387.9 379.2,388.9 379.8,389.9 380.3,390.8 380.9,391.7 381.5,392.6 382.1,393.4 382.7,394.2 383.3,395.0 383.9,395.8 384.5,396.5 385.1,397.2 385.7,398.0 386.3,398.6 386.9,399.3 387.5,399.9 388.1,400.5 388.7,401.1 389.2,401.7 389.8,402.3 390.4,402.8 391.0,403.4 391.6,403.9 392.2,404.4 392.8,404.9 393.4,405.3 394.0,405.8 394.6,406.2 395.2,406.6 395.8,407.0 396.4,407.4 397.0,407.8 397.6,408.2 398.1,408.6 398.7,408.9 399.3,409.3 399.9,409.6 400.5,409.9 401.1,410.2 401.7,410.5 402.3,410.8 402.9,411.1 403.5,411.4 404.1,411.6 404.7,411.9 405.3,412.1 405.9,412.4 406.5,412.6 407.0,412.8 407.6,413.0 408.2,413.2 408.8,413.5 409.4,413.7 410.0,413.8 410.6,414.0 411.2,414.2 411.8,414.4 412.4,414.6 413.0,414.7 413.6,414.9 414.2,415.0 414.8,415.2 415.4,415.3 415.9,415.5 416.5,415.6 417.1,415.7 417.7,415.9 418.3,416.0 418.9,416.1 419.5,416.2 420.1,416.3 420.7,416.4 421.3,416.5 421.9,416.6 422.5,416.7 423.1,416.8 423.7,416.9 424.3,417.0 424.8,417.1 425.4,417.2 426.0,417.3 426.6,417.4 427.2,417.4 427.8,417.5 428.4,417.6 429.0,417.6 429.6,417.7 430.2,417.8 430.8,417.8 431.4,417.9 432.0,418.0 432.6,418.0 433.2,418.1 433.7,418.1 434.3,418.2 434.9,418.2 435.5,418.3 436.1,418.3 436.7,418.4 437.3,418.4 437.9,418.5 438.5,418.5 439.1,418.5 439.7,418.6 440.3,418.6 440.9,418.7 441.5,418.7 442.1,418.7 442.6,418.8 443.2,418.8 443.8,418.8 444.4,418.9 445.0,418.9 445.6,418.9 446.2,418.9 446.8,419.0 446.8,419.8 268.8,419.8" fill="#c8d8f0" fill-opacity="0.2"/>
<polygon points="268.8,415.2 269.4,415.1 270.0,414.9 270.6,414.8 271.2,414.6 271.8,414.4 272.4,414.2 273.0,414.0 273.5,413.8 274.1,413.6 274.7,413.4 275.3,413.2 275.9,413.0 276.5,412.8 277.1,412.5 277.7,412.3 278.3,412.0 278.9,411.8 279.5,411.5 280.1,411.2 280.7,410.9 281.3,410.6 281.9,410.3 282.4,410.0 283.0,409.7 283.6,409.3 284.2,409.0 284.8,408.6 285.4,408.2 286.0,407.8 286.6,407.4 287.2,407.0 287.8,406.6 288.4,406.1 289.0,405.6 289.6,405.2 290.2,404.7 290.8,404.2 291.3,403.6 291.9,403.1 292.5,402.5 293.1,401.9 293.7,401.3 294.3,400.7 294.9,400.1 295.5,399.4 296.1,398.7 296.7,398.0 297.3,397.2 297.9,396.5 298.5,395.7 299.1,394.9 299.7,394.1 300.2,393.2 300.8,392.3 301.4,391.4 302.0,390.4 302.6,389.4 303.2,388.4 303.8,387.4 304.4,386.3 305.0,385.2 305.6,384.0 306.2,382.8 306.8,381.6 307.4,380.3 308.0,379.0 308.6,377.7 309.1,376.3 309.7,374.9 310.3,373.4 310.9,371.9 311.5,370.3 312.1,368.7 312.7,367.1 313.3,365.4 313.9,363.6 314.5,361.9 315.1,360.0 315.7,358.1 316.3,356.2 316.9,354.2 317.5,352.2 318.0,350.1 318.6,348.0 319.2,345.9 319.8,343.7 320.4,341.4 321.0,339.1 321.6,336.8 322.2,334.5 322.8,332.1 323.4,329.7 324.0,327.2 324.6,324.8 325.2,322.3 325.8,319.8 326.4,317.3 326.9,314.9 327.5,312.4 328.1,310.0 328.7,307.6 329.3,305.2 329.9,302.9 330.5,300.6 331.1,298.4 331.7,296.2 332.3,294.2 332.9,292.3 333.5,290.4 334.1,288.7 334.7,287.1 335.3,285.7 335.8,284.3 336.4,283.2 337.0,282.2 337.6,281.4 338.2,280.8 338.8,280.3 339.4,280.0 340.0,279.9 340.6,280.0 341.2,280.2 341.8,280.7 342.4,281.2 343.0,282.0 343.6,282.8 344.2,283.9 344.7,285.0 345.3,286.3 345.9,287.8 346.5,289.3 347.1,291.0 347.7,292.7 348.3,294.6 348.9,296.5 349.5,298.5 350.1,300.6 350.7,302.8 351.3,305.0 351.9,307.2 352.5,309.5 353.1,311.8 353.6,314.1 354.2,316.4 354.8,318.7 355.4,321.1 356.0,323.4 356.6,325.7 357.2,328.0 357.8,330.3 358.4,332.6 359.0,334.8 359.6,337.0 360.2,339.2 360.8,341.4 361.4,343.5 362.0,345.6 362.5,347.6 363.1,349.6 363.7,351.6 364.3,353.5 364.9,355.4 365.5,357.2 366.1,359.0 366.7,360.8 367.3,362.5 367.9,364.2 368.5,365.8 369.1,367.4 369.7,368.9 370.3,370.4 370.9,371.9 371.4,373.3 372.0,374.7 372.6,376.1 373.2,377.4 373.8,378.7 374.4,379.9 375.0,381.1 375.6,382.3 376.2,383.4 376.8,384.5 377.4,385.6 378.0,386.6 378.6,387.6 379.2,388.6 379.8,389.6 380.3,390.5 380.9,391.4 381.5,392.3 382.1,393.1 382.7,393.9 383.3,394.7 383.9,395.5 384.5,396.2 385.1,397.0 385.7,397.7 386.3,398.3 386.9,399.0 387.5,399.6 388.1,400.3 388.7,400.9 389.2,401.5 389.8,402.0 390.4,402.6 391.0,403.1 391.6,403.6 392.2,404.1 392.8,404.6 393.4,405.1 394.0,405.5 394.6,406.0 395.2,406.4 395.8,406.8 396.4,407.2 397.0,407.6 397.6,408.0 398.1,408.3 398.7,408.7 399.3,409.0 399.9,409.4 400.5,409.7 401.1,410.0 401.7,410.3 402.3,410.6 402.9,410.9 403.5,411.2 404.1,411.4 404.7,411.7 405.3,411.9 405.9,412.2 406.5,412.4 407.0,412.6 407.6,412.9 408.2,413.1 408.8,413.3 409.4,413.5 410.0,413.7 410.6,413.9 411.2,414.1 411.8,414.2 412.4,414.4 413.0,414.6 413.6,414.7 414.2,414.9 414.8,415.0 415.4,415.2 415.9,415.3 416.5,415.5 417.1,415.6 417.7,415.7 418.3,415.9 418.9,416.0 419.5,416.1 420.1,416.2 420.7,416.3 421.3,416.4 421.9,416.5 422.5,416.6 423.1,416.7 423.7,416.8 424.3,416.9 424.8,417.0 425.4,417.1 426.0,417.2 426.6,417.3 427.2,417.3 427.8,417.4 428.4,417.5 429.0,417.6 429.6,417.6 430.2,417.7 430.8,417.8 431.4,417.8 432.0,417.9 432.6,417.9 433.2,418.0 433.7,418.1 434.3,418.1 434.9,418.2 435.5,418.2 436.1,418.3 436.7,418.3 437.3,418.4 437.9,418.4 438.5,418.4 439.1,418.5 439.7,418.5 440.3,418.6 440.9,418.6 441.5,418.6 442.1,418.7 442.6,418.7 443.2,418.7 443.8,418.8 444.4,418.8 445.0,418.8 445.6,418.9 446.2,418.9 446.8,418.9 446.8,419.8 268.8,419.8" fill="#e8b090" fill-opacity="0.2"/>
<polygon points="268.8,415.2 269.4,415.0 270.0,414.8 270.6,414.7 271.2,414.5 271.8,414.3 272.4,414.2 273.0,414.0 273.5,413.8 274.1,413.6 274.7,413.4 275.3,413.2 275.9,412.9 276.5,412.7 277.1,412.5 277.7,412.2 278.3,412.0 278.9,411.7 279.5,411.5 280.1,411.2 280.7,410.9 281.3,410.6 281.9,410.3 282.4,410.0 283.0,409.7 283.6,409.3 284.2,409.0 284.8,408.6 285.4,408.2 286.0,407.9 286.6,407.5 287.2,407.1 287.8,406.6 288.4,406.2 289.0,405.8 289.6,405.3 290.2,404.8 290.8,404.3 291.3,403.8 291.9,403.3 292.5,402.7 293.1,402.2 293.7,401.6 294.3,401.0 294.9,400.4 295.5,399.7 296.1,399.1 296.7,398.4 297.3,397.7 297.9,396.9 298.5,396.2 299.1,395.4 299.7,394.6 300.2,393.8 300.8,392.9 301.4,392.1 302.0,391.2 302.6,390.2 303.2,389.2 303.8,388.3 304.4,387.2 305.0,386.2 305.6,385.1 306.2,383.9 306.8,382.8 307.4,381.6 308.0,380.4 308.6,379.1 309.1,377.8 309.7,376.4 310.3,375.0 310.9,373.6 311.5,372.1 312.1,370.6 312.7,369.1 313.3,367.5 313.9,365.9 314.5,364.2 315.1,362.4 315.7,360.7 316.3,358.9 316.9,357.0 317.5,355.1 318.0,353.2 318.6,351.2 319.2,349.2 319.8,347.1 320.4,345.0 321.0,342.8 321.6,340.6 322.2,338.4 322.8,336.2 323.4,333.9 324.0,331.6 324.6,329.3 325.2,327.0 325.8,324.6 326.4,322.2 326.9,319.9 327.5,317.5 328.1,315.2 328.7,312.9 329.3,310.6 329.9,308.3 330.5,306.1 331.1,303.9 331.7,301.8 332.3,299.8 332.9,297.8 333.5,296.0 334.1,294.2 334.7,292.5 335.3,291.0 335.8,289.6 336.4,288.3 337.0,287.1 337.6,286.1 338.2,285.3 338.8,284.6 339.4,284.1 340.0,283.8 340.6,283.6 341.2,283.6 341.8,283.7 342.4,284.0 343.0,284.5 343.6,285.1 344.2,285.8 344.7,286.7 345.3,287.8 345.9,288.9 346.5,290.2 347.1,291.6 347.7,293.1 348.3,294.7 348.9,296.4 349.5,298.1 350.1,300.0 350.7,301.9 351.3,303.9 351.9,306.0 352.5,308.0 353.1,310.2 353.6,312.3 354.2,314.5 354.8,316.7 355.4,318.9 356.0,321.1 356.6,323.4 357.2,325.6 357.8,327.8 358.4,330.0 359.0,332.2 359.6,334.3 360.2,336.5 360.8,338.6 361.4,340.7 362.0,342.7 362.5,344.7 363.1,346.7 363.7,348.7 364.3,350.6 364.9,352.5 365.5,354.3 366.1,356.2 366.7,357.9 367.3,359.7 367.9,361.3 368.5,363.0 369.1,364.6 369.7,366.2 370.3,367.7 370.9,369.2 371.4,370.7 372.0,372.1 372.6,373.5 373.2,374.8 373.8,376.1 374.4,377.4 375.0,378.7 375.6,379.9 376.2,381.1 376.8,382.2 377.4,383.3 378.0,384.4 378.6,385.4 379.2,386.5 379.8,387.5 380.3,388.4 380.9,389.4 381.5,390.3 382.1,391.1 382.7,392.0 383.3,392.8 383.9,393.6 384.5,394.4 385.1,395.2 385.7,395.9 386.3,396.6 386.9,397.3 387.5,398.0 388.1,398.7 388.7,399.3 389.2,399.9 389.8,400.5 390.4,401.1 391.0,401.7 391.6,402.2 392.2,402.7 392.8,403.3 393.4,403.7 394.0,404.2 394.6,404.7 395.2,405.2 395.8,405.6 396.4,406.0 397.0,406.4 397.6,406.8 398.1,407.2 398.7,407.6 399.3,408.0 399.9,408.3 400.5,408.7 401.1,409.0 401.7,409.3 402.3,409.7 402.9,410.0 403.5,410.3 404.1,410.6 404.7,410.8 405.3,411.1 405.9,411.4 406.5,411.6 407.0,411.9 407.6,412.1 408.2,412.3 408.8,412.6 409.4,412.8 410.0,413.0 410.6,413.2 411.2,413.4 411.8,413.6 412.4,413.8 413.0,414.0 413.6,414.1 414.2,414.3 414.8,414.5 415.4,414.6 415.9,414.8 416.5,414.9 417.1,415.1 417.7,415.2 418.3,415.4 418.9,415.5 419.5,415.6 420.1,415.8 420.7,415.9 421.3,416.0 421.9,416.1 422.5,416.2 423.1,416.3 423.7,416.4 424.3,416.5 424.8,416.6 425.4,416.7 426.0,416.8 426.6,416.9 427.2,417.0 427.8,417.1 428.4,417.2 429.0,417.3 429.6,417.3 430.2,417.4 430.8,417.5 431.4,417.5 432.0,417.6 432.6,417.7 433.2,417.7 433.7,417.8 434.3,417.9 434.9,417.9 435.5,418.0 436.1,418.0 436.7,418.1 437.3,418.1 437.9,418.2 438.5,418.2 439.1,418.3 439.7,418.3 440.3,418.4 440.9,418.4 441.5,418.5 442.1,418.5 442.6,418.5 443.2,418.6 443.8,418.6 444.4,418.7 445.0,418.7 445.6,418.7 446.2,418.8 446.8,418.8 446.8,419.8 268.8,419.8" fill="#d8c8ec" fill-opacity="0.2"/>
<polygon points="268.8,415.2 269.4,415.1 270.0,414.9 270.6,414.8 271.2,414.6 271.8,414.4 272.4,414.2 273.0,414.0 273.5,413.8 274.1,413.6 274.7,413.4 275.3,413.2 275.9,413.0 276.5,412.8 277.1,412.5 277.7,412.3 278.3,412.0 278.9,411.8 279.5,411.5 280.1,411.2 280.7,410.9 281.3,410.6 281.9,410.3 282.4,410.0 283.0,409.7 283.6,409.3 284.2,409.0 284.8,408.6 285.4,408.2 286.0,407.8 286.6,407.4 287.2,407.0 287.8,406.6 288.4,406.1 289.0,405.6 289.6,405.2 290.2,404.7 290.8,404.2 291.3,403.6 291.9,403.1 292.5,402.5 293.1,401.9 293.7,401.3 294.3,400.7 294.9,400.1 295.5,399.4 296.1,398.7 296.7,398.0 297.3,397.2 297.9,396.5 298.5,395.7 299.1,394.9 299.7,394.1 300.2,393.2 300.8,392.3 301.4,391.4 302.0,390.4 302.6,389.4 303.2,388.4 303.8,387.4 304.4,386.3 305.0,385.2 305.6,384.0 306.2,382.8 306.8,381.6 307.4,380.3 308.0,379.0 308.6,377.7 309.1,376.3 309.7,374.9 310.3,373.4 310.9,371.9 311.5,370.3 312.1,368.7 312.7,367.1 313.3,365.4 313.9,363.6 314.5,361.9 315.1,360.0 315.7,358.1 316.3,356.2 316.9,354.2 317.5,352.2 318.0,350.1 318.6,348.0 319.2,345.9 319.8,343.7 320.4,341.4 321.0,339.1 321.6,336.8 322.2,334.5 322.8,332.1 323.4,329.7 324.0,327.2 324.6,324.8 325.2,322.3 325.8,319.8 326.4,317.3 326.9,314.9 327.5,312.4 328.1,310.0 328.7,307.6 329.3,305.2 329.9,302.9 330.5,300.6 331.1,298.4 331.7,296.2 332.3,294.2 332.9,292.3 333.5,290.4 334.1,288.7 334.7,287.1 335.3,285.7 335.8,284.3 336.4,283.2 337.0,282.2 337.6,281.4 338.2,280.8 338.8,280.3 339.4,280.0 340.0,279.9 340.6,280.0 341.2,280.2 341.8,280.7 342.4,281.2 343.0,282.0 343.6,282.8 344.2,283.9 344.7,285.0 345.3,286.3 345.9,287.8 346.5,289.3 347.1,291.0 347.7,292.7 348.3,294.6 348.9,296.5 349.5,298.5 350.1,300.6 350.7,302.8 351.3,305.0 351.9,307.2 352.5,309.5 353.1,311.8 353.6,314.1 354.2,316.4 354.8,318.7 355.4,321.1 356.0,323.4 356.6,325.7 357.2,328.0 357.8,330.3 358.4,332.6 359.0,334.8 359.6,337.0 360.2,339.2 360.8,341.4 361.4,343.5 362.0,345.6 362.5,347.6 363.1,349.6 363.7,351.6 364.3,353.5 364.9,355.4 365.5,357.2 366.1,359.0 366.7,360.8 367.3,362.5 367.9,364.2 368.5,365.8 369.1,367.4 369.7,368.9 370.3,370.4 370.9,371.9 371.4,373.3 372.0,374.7 372.6,376.1 373.2,377.4 373.8,378.7 374.4,379.9 375.0,381.1 375.6,382.3 376.2,383.4 376.8,384.5 377.4,385.6 378.0,386.6 378.6,387.6 379.2,388.6 379.8,389.6 380.3,390.5 380.9,391.4 381.5,392.3 382.1,393.1 382.7,393.9 383.3,394.7 383.9,395.5 384.5,396.2 385.1,397.0 385.7,397.7 386.3,398.3 386.9,399.0 387.5,399.6 388.1,400.3 388.7,400.9 389.2,401.5 389.8,402.0 390.4,402.6 391.0,403.1 391.6,403.6 392.2,404.1 392.8,404.6 393.4,405.1 394.0,405.5 394.6,406.0 395.2,406.4 395.8,406.8 396.4,407.2 397.0,407.6 397.6,408.0 398.1,408.3 398.7,408.7 399.3,409.0 399.9,409.4 400.5,409.7 401.1,410.0 401.7,410.3 402.3,410.6 402.9,410.9 403.5,411.2 404.1,411.4 404.7,411.7 405.3,411.9 405.9,412.2 406.5,412.4 407.0,412.6 407.6,412.9 408.2,413.1 408.8,413.3 409.4,413.5 410.0,413.7 410.6,413.9 411.2,414.1 411.8,414.2 412.4,414.4 413.0,414.6 413.6,414.7 414.2,414.9 414.8,415.0 415.4,415.2 415.9,415.3 416.5,415.5 417.1,415.6 417.7,415.7 418.3,415.9 418.9,416.0 419.5,416.1 420.1,416.2 420.7,416.3 421.3,416.4 421.9,416.5 422.5,416.6 423.1,416.7 423.7,416.8 424.3,416.9 424.8,417.0 425.4,417.1 426.0,417.2 426.6,417.3 427.2,417.3 427.8,417.4 428.4,417.5 429.0,417.6 429.6,417.6 430.2,417.7 430.8,417.8 431.4,417.8 432.0,417.9 432.6,417.9 433.2,418.0 433.7,418.1 434.3,418.1 434.9,418.2 435.5,418.2 436.1,418.3 436.7,418.3 437.3,418.4 437.9,418.4 438.5,418.4 439.1,418.5 439.7,418.5 440.3,418.6 440.9,418.6 441.5,418.6 442.1,418.7 442.6,418.7 443.2,418.7 443.8,418.8 444.4,418.8 445.0,418.8 445.6,418.9 446.2,418.9 446.8,418.9 446.8,419.8 268.8,419.8" fill="#ba9776"/>
<polyline points="268.8,415.5 269.4,415.3 270.0,415.2 270.6,415.0 271.2,414.8 271.8,414.6 272.4,414.4 273.0,414.2 273.5,414.0 274.1,413.8 274.7,413.6 275.3,413.4 275.9,413.1 276.5,412.9 277.1,412.6 277.7,412.4 278.3,412.1 278.9,411.8 279.5,411.5 280.1,411.2 280.7,410.9 281.3,410.5 281.9,410.2 282.4,409.8 283.0,409.5 283.6,409.1 284.2,408.7 284.8,408.3 285.4,407.8 286.0,407.4 286.6,406.9 287.2,406.5 287.8,406.0 288.4,405.5 289.0,404.9 289.6,404.4 290.2,403.8 290.8,403.2 291.3,402.6 291.9,402.0 292.5,401.3 293.1,400.6 293.7,399.9 294.3,399.2 294.9,398.4 295.5,397.6 296.1,396.8 296.7,395.9 297.3,395.1 297.9,394.1 298.5,393.2 299.1,392.2 299.7,391.2 300.2,390.1 300.8,389.1 301.4,387.9 302.0,386.8 302.6,385.5 303.2,384.3 303.8,383.0 304.4,381.6 305.0,380.2 305.6,378.8 306.2,377.3 306.8,375.8 307.4,374.2 308.0,372.5 308.6,370.8 309.1,369.1 309.7,367.3 310.3,365.4 310.9,363.5 311.5,361.5 312.1,359.4 312.7,357.3 313.3,355.1 313.9,352.9 314.5,350.6 315.1,348.2 315.7,345.8 316.3,343.3 316.9,340.8 317.5,338.2 318.0,335.5 318.6,332.8 319.2,330.0 319.8,327.2 320.4,324.3 321.0,321.4 321.6,318.5 322.2,315.6 322.8,312.6 323.4,309.6 324.0,306.6 324.6,303.6 325.2,300.6 325.8,297.7 326.4,294.8 326.9,292.0 327.5,289.2 328.1,286.5 328.7,283.9 329.3,281.4 329.9,279.0 330.5,276.8 331.1,274.8 331.7,272.9 332.3,271.2 332.9,269.7 333.5,268.4 334.1,267.3 334.7,266.5 335.3,265.9 335.8,265.5 336.4,265.4 337.0,265.5 337.6,265.8 338.2,266.3 338.8,267.1 339.4,268.0 340.0,269.2 340.6,270.5 341.2,272.1 341.8,273.8 342.4,275.6 343.0,277.6 343.6,279.8 344.2,282.0 344.7,284.4 345.3,286.8 345.9,289.4 346.5,292.0 347.1,294.7 347.7,297.4 348.3,300.2 348.9,303.0 349.5,305.8 350.1,308.6 350.7,311.4 351.3,314.2 351.9,317.0 352.5,319.8 353.1,322.6 353.6,325.3 354.2,328.0 354.8,330.6 355.4,333.2 356.0,335.8 356.6,338.3 357.2,340.7 357.8,343.1 358.4,345.5 359.0,347.8 359.6,350.0 360.2,352.2 360.8,354.3 361.4,356.4 362.0,358.4 362.5,360.4 363.1,362.3 363.7,364.1 364.3,365.9 364.9,367.7 365.5,369.4 366.1,371.0 366.7,372.6 367.3,374.2 367.9,375.7 368.5,377.1 369.1,378.6 369.7,379.9 370.3,381.2 370.9,382.5 371.4,383.8 372.0,385.0 372.6,386.1 373.2,387.3 373.8,388.3 374.4,389.4 375.0,390.4 375.6,391.4 376.2,392.3 376.8,393.3 377.4,394.2 378.0,395.0 378.6,395.9 379.2,396.7 379.8,397.4 380.3,398.2 380.9,398.9 381.5,399.6 382.1,400.3 382.7,401.0 383.3,401.6 383.9,402.2 384.5,402.8 385.1,403.4 385.7,403.9 386.3,404.5 386.9,405.0 387.5,405.5 388.1,406.0 388.7,406.4 389.2,406.9 389.8,407.3 390.4,407.7 391.0,408.1 391.6,408.5 392.2,408.9 392.8,409.3 393.4,409.6 394.0,410.0 394.6,410.3 395.2,410.6 395.8,410.9 396.4,411.2 397.0,411.5 397.6,411.8 398.1,412.1 398.7,412.3 399.3,412.6 399.9,412.8 400.5,413.1 401.1,413.3 401.7,413.5 402.3,413.7 402.9,413.9 403.5,414.1 404.1,414.3 404.7,414.5 405.3,414.7 405.9,414.9 406.5,415.0 407.0,415.2 407.6,415.3 408.2,415.5 408.8,415.6 409.4,415.8 410.0,415.9 410.6,416.1 411.2,416.2 411.8,416.3 412.4,416.4 413.0,416.5 413.6,416.6 414.2,416.8 414.8,416.9 415.4,417.0 415.9,417.0 416.5,417.1 417.1,417.2 417.7,417.3 418.3,417.4 418.9,417.5 419.5,417.6 420.1,417.6 420.7,417.7 421.3,417.8 421.9,417.8 422.5,417.9 423.1,418.0 423.7,418.0 424.3,418.1 424.8,418.2 425.4,418.2 426.0,418.3 426.6,418.3 427.2,418.4 427.8,418.4 428.4,418.5 429.0,418.5 429.6,418.6 430.2,418.6 430.8,418.6 431.4,418.7 432.0,418.7 432.6,418.7 433.2,418.8 433.7,418.8 434.3,418.9 434.9,418.9 435.5,418.9 436.1,418.9 436.7,419.0 437.3,419.0 437.9,419.0 438.5,419.1 439.1,419.1 439.7,419.1 440.3,419.1 440.9,419.2 441.5,419.2 442.1,419.2 442.6,419.2 443.2,419.2 443.8,419.3 444.4,419.3 445.0,419.3 445.6,419.3 446.2,419.3 446.8,419.3" fill="none" stroke="#a65ea8" stroke-width="1.5" stroke-dasharray="6,3.5"/>
<polyline points="268.8,416.2 269.4,416.1 270.0,415.9 270.6,415.8 271.2,415.6 271.8,415.5 272.4,415.4 273.0,415.2 273.5,415.0 274.1,414.9 274.7,414.7 275.3,414.5 275.9,414.3 276.5,414.1 277.1,413.9 277.7,413.7 278.3,413.5 278.9,413.3 279.5,413.1 280.1,412.8 280.7,412.6 281.3,412.3 281.9,412.1 282.4,411.8 283.0,411.5 283.6,411.2 284.2,410.9 284.8,410.6 285.4,410.3 286.0,409.9 286.6,409.6 287.2,409.2 287.8,408.9 288.4,408.5 289.0,408.1 289.6,407.7 290.2,407.2 290.8,406.8 291.3,406.4 291.9,405.9 292.5,405.4 293.1,404.9 293.7,404.4 294.3,403.8 294.9,403.3 295.5,402.7 296.1,402.1 296.7,401.5 297.3,400.8 297.9,400.1 298.5,399.5 299.1,398.7 299.7,398.0 300.2,397.2 300.8,396.5 301.4,395.6 302.0,394.8 302.6,393.9 303.2,393.0 303.8,392.1 304.4,391.1 305.0,390.1 305.6,389.1 306.2,388.0 306.8,386.9 307.4,385.8 308.0,384.6 308.6,383.4 309.1,382.1 309.7,380.8 310.3,379.5 310.9,378.1 311.5,376.7 312.1,375.2 312.7,373.7 313.3,372.1 313.9,370.5 314.5,368.8 315.1,367.1 315.7,365.3 316.3,363.5 316.9,361.7 317.5,359.7 318.0,357.8 318.6,355.7 319.2,353.7 319.8,351.5 320.4,349.3 321.0,347.1 321.6,344.8 322.2,342.5 322.8,340.1 323.4,337.7 324.0,335.2 324.6,332.7 325.2,330.1 325.8,327.5 326.4,324.9 326.9,322.3 327.5,319.6 328.1,316.9 328.7,314.3 329.3,311.6 329.9,308.9 330.5,306.3 331.1,303.7 331.7,301.1 332.3,298.6 332.9,296.1 333.5,293.7 334.1,291.4 334.7,289.2 335.3,287.1 335.8,285.1 336.4,283.3 337.0,281.6 337.6,280.0 338.2,278.6 338.8,277.4 339.4,276.4 340.0,275.5 340.6,274.9 341.2,274.5 341.8,274.2 342.4,274.2 343.0,274.4 343.6,274.7 344.2,275.3 344.7,276.0 345.3,276.9 345.9,277.9 346.5,279.1 347.1,280.5 347.7,282.0 348.3,283.6 348.9,285.4 349.5,287.3 350.1,289.3 350.7,291.3 351.3,293.5 351.9,295.8 352.5,298.1 353.1,300.4 353.6,302.9 354.2,305.3 354.8,307.8 355.4,310.3 356.0,312.8 356.6,315.3 357.2,317.8 357.8,320.4 358.4,322.9 359.0,325.3 359.6,327.8 360.2,330.2 360.8,332.6 361.4,335.0 362.0,337.3 362.5,339.6 363.1,341.9 363.7,344.1 364.3,346.3 364.9,348.4 365.5,350.5 366.1,352.5 366.7,354.5 367.3,356.5 367.9,358.4 368.5,360.2 369.1,362.0 369.7,363.8 370.3,365.5 370.9,367.1 371.4,368.7 372.0,370.3 372.6,371.8 373.2,373.3 373.8,374.8 374.4,376.2 375.0,377.5 375.6,378.9 376.2,380.1 376.8,381.4 377.4,382.6 378.0,383.8 378.6,384.9 379.2,386.0 379.8,387.1 380.3,388.1 380.9,389.1 381.5,390.1 382.1,391.0 382.7,391.9 383.3,392.8 383.9,393.7 384.5,394.5 385.1,395.3 385.7,396.1 386.3,396.9 386.9,397.6 387.5,398.3 388.1,399.0 388.7,399.6 389.2,400.3 389.8,400.9 390.4,401.5 391.0,402.1 391.6,402.7 392.2,403.2 392.8,403.7 393.4,404.3 394.0,404.8 394.6,405.2 395.2,405.7 395.8,406.2 396.4,406.6 397.0,407.0 397.6,407.4 398.1,407.8 398.7,408.2 399.3,408.6 399.9,408.9 400.5,409.3 401.1,409.6 401.7,409.9 402.3,410.3 402.9,410.6 403.5,410.9 404.1,411.2 404.7,411.4 405.3,411.7 405.9,412.0 406.5,412.2 407.0,412.5 407.6,412.7 408.2,412.9 408.8,413.1 409.4,413.4 410.0,413.6 410.6,413.8 411.2,414.0 411.8,414.1 412.4,414.3 413.0,414.5 413.6,414.7 414.2,414.8 414.8,415.0 415.4,415.1 415.9,415.3 416.5,415.4 417.1,415.6 417.7,415.7 418.3,415.8 418.9,416.0 419.5,416.1 420.1,416.2 420.7,416.3 421.3,416.4 421.9,416.5 422.5,416.7 423.1,416.8 423.7,416.9 424.3,416.9 424.8,417.0 425.4,417.1 426.0,417.2 426.6,417.3 427.2,417.4 427.8,417.5 428.4,417.5 429.0,417.6 429.6,417.7 430.2,417.7 430.8,417.8 431.4,417.9 432.0,417.9 432.6,418.0 433.2,418.0 433.7,418.1 434.3,418.2 434.9,418.2 435.5,418.3 436.1,418.3 436.7,418.4 437.3,418.4 437.9,418.5 438.5,418.5 439.1,418.5 439.7,418.6 440.3,418.6 440.9,418.7 441.5,418.7 442.1,418.7 442.6,418.8 443.2,418.8 443.8,418.8 444.4,418.9 445.0,418.9 445.6,418.9 446.2,418.9 446.8,419.0" fill="none" stroke="#5b8ec9" stroke-width="1.3" stroke-dasharray="6,3.5"/>
<polyline points="268.8,415.5 269.4,415.3 270.0,415.2 270.6,415.0 271.2,414.8 271.8,414.7 272.4,414.5 273.0,414.3 273.5,414.1 274.1,413.9 274.7,413.7 275.3,413.4 275.9,413.2 276.5,413.0 277.1,412.7 277.7,412.5 278.3,412.2 278.9,411.9 279.5,411.7 280.1,411.4 280.7,411.1 281.3,410.7 281.9,410.4 282.4,410.1 283.0,409.7 283.6,409.4 284.2,409.0 284.8,408.6 285.4,408.2 286.0,407.8 286.6,407.3 287.2,406.9 287.8,406.4 288.4,405.9 289.0,405.4 289.6,404.9 290.2,404.4 290.8,403.8 291.3,403.3 291.9,402.7 292.5,402.0 293.1,401.4 293.7,400.7 294.3,400.1 294.9,399.4 295.5,398.6 296.1,397.9 296.7,397.1 297.3,396.2 297.9,395.4 298.5,394.5 299.1,393.6 299.7,392.7 300.2,391.7 300.8,390.7 301.4,389.7 302.0,388.6 302.6,387.5 303.2,386.3 303.8,385.1 304.4,383.9 305.0,382.6 305.6,381.3 306.2,380.0 306.8,378.5 307.4,377.1 308.0,375.6 308.6,374.0 309.1,372.4 309.7,370.8 310.3,369.1 310.9,367.3 311.5,365.5 312.1,363.6 312.7,361.7 313.3,359.7 313.9,357.7 314.5,355.6 315.1,353.5 315.7,351.3 316.3,349.0 316.9,346.7 317.5,344.3 318.0,341.9 318.6,339.4 319.2,336.8 319.8,334.3 320.4,331.6 321.0,329.0 321.6,326.2 322.2,323.5 322.8,320.7 323.4,317.9 324.0,315.1 324.6,312.3 325.2,309.5 325.8,306.7 326.4,303.9 326.9,301.1 327.5,298.4 328.1,295.7 328.7,293.1 329.3,290.5 329.9,288.1 330.5,285.7 331.1,283.5 331.7,281.4 332.3,279.4 332.9,277.6 333.5,276.0 334.1,274.5 334.7,273.3 335.3,272.2 335.8,271.3 336.4,270.7 337.0,270.3 337.6,270.1 338.2,270.1 338.8,270.3 339.4,270.7 340.0,271.3 340.6,272.1 341.2,273.1 341.8,274.3 342.4,275.6 343.0,277.1 343.6,278.8 344.2,280.6 344.7,282.5 345.3,284.5 345.9,286.7 346.5,289.0 347.1,291.3 347.7,293.7 348.3,296.2 348.9,298.7 349.5,301.3 350.1,303.9 350.7,306.5 351.3,309.2 351.9,311.8 352.5,314.5 353.1,317.2 353.6,319.8 354.2,322.4 354.8,325.0 355.4,327.6 356.0,330.1 356.6,332.6 357.2,335.1 357.8,337.5 358.4,339.9 359.0,342.2 359.6,344.5 360.2,346.7 360.8,348.9 361.4,351.1 362.0,353.2 362.5,355.2 363.1,357.2 363.7,359.1 364.3,361.0 364.9,362.8 365.5,364.6 366.1,366.3 366.7,368.0 367.3,369.7 367.9,371.3 368.5,372.8 369.1,374.3 369.7,375.8 370.3,377.2 370.9,378.5 371.4,379.9 372.0,381.1 372.6,382.4 373.2,383.6 373.8,384.8 374.4,385.9 375.0,387.0 375.6,388.1 376.2,389.1 376.8,390.1 377.4,391.1 378.0,392.0 378.6,392.9 379.2,393.8 379.8,394.6 380.3,395.5 380.9,396.3 381.5,397.0 382.1,397.8 382.7,398.5 383.3,399.2 383.9,399.9 384.5,400.5 385.1,401.2 385.7,401.8 386.3,402.4 386.9,402.9 387.5,403.5 388.1,404.0 388.7,404.5 389.2,405.0 389.8,405.5 390.4,406.0 391.0,406.4 391.6,406.9 392.2,407.3 392.8,407.7 393.4,408.1 394.0,408.5 394.6,408.9 395.2,409.2 395.8,409.6 396.4,409.9 397.0,410.2 397.6,410.5 398.1,410.9 398.7,411.1 399.3,411.4 399.9,411.7 400.5,412.0 401.1,412.2 401.7,412.5 402.3,412.7 402.9,413.0 403.5,413.2 404.1,413.4 404.7,413.6 405.3,413.8 405.9,414.0 406.5,414.2 407.0,414.4 407.6,414.6 408.2,414.7 408.8,414.9 409.4,415.1 410.0,415.2 410.6,415.4 411.2,415.5 411.8,415.7 412.4,415.8 413.0,415.9 413.6,416.0 414.2,416.2 414.8,416.3 415.4,416.4 415.9,416.5 416.5,416.6 417.1,416.7 417.7,416.8 418.3,416.9 418.9,417.0 419.5,417.1 420.1,417.2 420.7,417.3 421.3,417.4 421.9,417.5 422.5,417.5 423.1,417.6 423.7,417.7 424.3,417.7 424.8,417.8 425.4,417.9 426.0,417.9 426.6,418.0 427.2,418.1 427.8,418.1 428.4,418.2 429.0,418.2 429.6,418.3 430.2,418.3 430.8,418.4 431.4,418.4 432.0,418.5 432.6,418.5 433.2,418.6 433.7,418.6 434.3,418.6 434.9,418.7 435.5,418.7 436.1,418.7 436.7,418.8 437.3,418.8 437.9,418.8 438.5,418.9 439.1,418.9 439.7,418.9 440.3,419.0 440.9,419.0 441.5,419.0 442.1,419.0 442.6,419.1 443.2,419.1 443.8,419.1 444.4,419.1 445.0,419.2 445.6,419.2 446.2,419.2 446.8,419.2" fill="none" stroke="#f2b316" stroke-width="1.3"/>
<polyline points="268.8,415.8 269.4,415.6 270.0,415.5 270.6,415.3 271.2,415.2 271.8,415.0 272.4,414.8 273.0,414.7 273.5,414.5 274.1,414.3 274.7,414.1 275.3,413.9 275.9,413.7 276.5,413.5 277.1,413.3 277.7,413.1 278.3,412.8 278.9,412.6 279.5,412.3 280.1,412.1 280.7,411.8 281.3,411.5 281.9,411.2 282.4,410.9 283.0,410.6 283.6,410.3 284.2,410.0 284.8,409.6 285.4,409.3 286.0,408.9 286.6,408.5 287.2,408.1 287.8,407.7 288.4,407.3 289.0,406.9 289.6,406.4 290.2,406.0 290.8,405.5 291.3,405.0 291.9,404.5 292.5,404.0 293.1,403.4 293.7,402.8 294.3,402.3 294.9,401.7 295.5,401.0 296.1,400.4 296.7,399.7 297.3,399.0 297.9,398.3 298.5,397.5 299.1,396.8 299.7,396.0 300.2,395.2 300.8,394.3 301.4,393.4 302.0,392.5 302.6,391.6 303.2,390.6 303.8,389.6 304.4,388.6 305.0,387.5 305.6,386.4 306.2,385.3 306.8,384.1 307.4,382.9 308.0,381.6 308.6,380.3 309.1,379.0 309.7,377.6 310.3,376.2 310.9,374.7 311.5,373.2 312.1,371.6 312.7,370.0 313.3,368.4 313.9,366.7 314.5,364.9 315.1,363.1 315.7,361.3 316.3,359.4 316.9,357.4 317.5,355.4 318.0,353.3 318.6,351.2 319.2,349.1 319.8,346.9 320.4,344.6 321.0,342.3 321.6,340.0 322.2,337.6 322.8,335.2 323.4,332.7 324.0,330.2 324.6,327.7 325.2,325.1 325.8,322.5 326.4,320.0 326.9,317.4 327.5,314.8 328.1,312.2 328.7,309.6 329.3,307.0 329.9,304.5 330.5,302.0 331.1,299.5 331.7,297.2 332.3,294.9 332.9,292.6 333.5,290.5 334.1,288.5 334.7,286.6 335.3,284.8 335.8,283.2 336.4,281.7 337.0,280.4 337.6,279.2 338.2,278.3 338.8,277.5 339.4,276.9 340.0,276.5 340.6,276.3 341.2,276.3 341.8,276.5 342.4,276.8 343.0,277.4 343.6,278.1 344.2,278.9 344.7,279.9 345.3,281.1 345.9,282.4 346.5,283.9 347.1,285.5 347.7,287.2 348.3,289.0 348.9,291.0 349.5,293.0 350.1,295.1 350.7,297.3 351.3,299.5 351.9,301.8 352.5,304.2 353.1,306.5 353.6,309.0 354.2,311.4 354.8,313.8 355.4,316.3 356.0,318.7 356.6,321.2 357.2,323.6 357.8,326.0 358.4,328.4 359.0,330.8 359.6,333.2 360.2,335.5 360.8,337.8 361.4,340.0 362.0,342.2 362.5,344.4 363.1,346.5 363.7,348.6 364.3,350.6 364.9,352.6 365.5,354.6 366.1,356.5 366.7,358.4 367.3,360.2 367.9,362.0 368.5,363.7 369.1,365.4 369.7,367.0 370.3,368.6 370.9,370.2 371.4,371.7 372.0,373.2 372.6,374.6 373.2,376.0 373.8,377.3 374.4,378.6 375.0,379.9 375.6,381.1 376.2,382.3 376.8,383.5 377.4,384.6 378.0,385.7 378.6,386.8 379.2,387.8 379.8,388.8 380.3,389.8 380.9,390.7 381.5,391.6 382.1,392.5 382.7,393.4 383.3,394.2 383.9,395.0 384.5,395.8 385.1,396.5 385.7,397.3 386.3,398.0 386.9,398.7 387.5,399.3 388.1,400.0 388.7,400.6 389.2,401.2 389.8,401.8 390.4,402.4 391.0,402.9 391.6,403.5 392.2,404.0 392.8,404.5 393.4,405.0 394.0,405.4 394.6,405.9 395.2,406.3 395.8,406.7 396.4,407.2 397.0,407.6 397.6,407.9 398.1,408.3 398.7,408.7 399.3,409.0 399.9,409.4 400.5,409.7 401.1,410.0 401.7,410.3 402.3,410.6 402.9,410.9 403.5,411.2 404.1,411.5 404.7,411.7 405.3,412.0 405.9,412.2 406.5,412.5 407.0,412.7 407.6,412.9 408.2,413.2 408.8,413.4 409.4,413.6 410.0,413.8 410.6,414.0 411.2,414.1 411.8,414.3 412.4,414.5 413.0,414.7 413.6,414.8 414.2,415.0 414.8,415.1 415.4,415.3 415.9,415.4 416.5,415.6 417.1,415.7 417.7,415.8 418.3,416.0 418.9,416.1 419.5,416.2 420.1,416.3 420.7,416.4 421.3,416.5 421.9,416.6 422.5,416.7 423.1,416.8 423.7,416.9 424.3,417.0 424.8,417.1 425.4,417.2 426.0,417.3 426.6,417.3 427.2,417.4 427.8,417.5 428.4,417.6 429.0,417.6 429.6,417.7 430.2,417.8 430.8,417.8 431.4,417.9 432.0,418.0 432.6,418.0 433.2,418.1 433.7,418.1 434.3,418.2 434.9,418.2 435.5,418.3 436.1,418.3 436.7,418.4 437.3,418.4 437.9,418.5 438.5,418.5 439.1,418.6 439.7,418.6 440.3,418.6 440.9,418.7 441.5,418.7 442.1,418.7 442.6,418.8 443.2,418.8 443.8,418.8 444.4,418.9 445.0,418.9 445.6,418.9 446.2,419.0 446.8,419.0" fill="none" stroke="#8fb446" stroke-width="1.4" stroke-dasharray="5,3"/>
<polyline points="268.8,415.4 269.4,415.2 270.0,415.1 270.6,414.9 271.2,414.7 271.8,414.6 272.4,414.4 273.0,414.2 273.5,414.0 274.1,413.8 274.7,413.6 275.3,413.4 275.9,413.2 276.5,412.9 277.1,412.7 277.7,412.5 278.3,412.2 278.9,412.0 279.5,411.7 280.1,411.4 280.7,411.1 281.3,410.8 281.9,410.5 282.4,410.2 283.0,409.9 283.6,409.5 284.2,409.2 284.8,408.8 285.4,408.4 286.0,408.0 286.6,407.6 287.2,407.2 287.8,406.8 288.4,406.3 289.0,405.9 289.6,405.4 290.2,404.9 290.8,404.4 291.3,403.9 291.9,403.3 292.5,402.8 293.1,402.2 293.7,401.6 294.3,401.0 294.9,400.3 295.5,399.7 296.1,399.0 296.7,398.3 297.3,397.5 297.9,396.8 298.5,396.0 299.1,395.2 299.7,394.3 300.2,393.5 300.8,392.6 301.4,391.7 302.0,390.7 302.6,389.7 303.2,388.7 303.8,387.7 304.4,386.6 305.0,385.5 305.6,384.3 306.2,383.1 306.8,381.9 307.4,380.6 308.0,379.3 308.6,377.9 309.1,376.6 309.7,375.1 310.3,373.6 310.9,372.1 311.5,370.5 312.1,368.9 312.7,367.3 313.3,365.6 313.9,363.8 314.5,362.0 315.1,360.1 315.7,358.2 316.3,356.3 316.9,354.3 317.5,352.2 318.0,350.1 318.6,348.0 319.2,345.8 319.8,343.6 320.4,341.3 321.0,339.0 321.6,336.6 322.2,334.2 322.8,331.8 323.4,329.3 324.0,326.9 324.6,324.4 325.2,321.8 325.8,319.3 326.4,316.8 326.9,314.3 327.5,311.7 328.1,309.2 328.7,306.8 329.3,304.3 329.9,302.0 330.5,299.6 331.1,297.4 331.7,295.2 332.3,293.1 332.9,291.1 333.5,289.2 334.1,287.4 334.7,285.8 335.3,284.3 335.8,282.9 336.4,281.7 337.0,280.7 337.6,279.9 338.2,279.2 338.8,278.7 339.4,278.5 340.0,278.4 340.6,278.4 341.2,278.7 341.8,279.1 342.4,279.7 343.0,280.5 343.6,281.4 344.2,282.4 344.7,283.6 345.3,285.0 345.9,286.4 346.5,288.0 347.1,289.7 347.7,291.6 348.3,293.5 348.9,295.5 349.5,297.5 350.1,299.7 350.7,301.9 351.3,304.1 351.9,306.4 352.5,308.7 353.1,311.1 353.6,313.4 354.2,315.8 354.8,318.2 355.4,320.6 356.0,323.0 356.6,325.3 357.2,327.7 357.8,330.0 358.4,332.3 359.0,334.6 359.6,336.9 360.2,339.1 360.8,341.3 361.4,343.4 362.0,345.5 362.5,347.6 363.1,349.6 363.7,351.6 364.3,353.5 364.9,355.5 365.5,357.3 366.1,359.1 366.7,360.9 367.3,362.6 367.9,364.3 368.5,366.0 369.1,367.6 369.7,369.1 370.3,370.6 370.9,372.1 371.4,373.6 372.0,375.0 372.6,376.3 373.2,377.6 373.8,378.9 374.4,380.2 375.0,381.4 375.6,382.5 376.2,383.7 376.8,384.8 377.4,385.9 378.0,386.9 378.6,387.9 379.2,388.9 379.8,389.9 380.3,390.8 380.9,391.7 381.5,392.6 382.1,393.4 382.7,394.2 383.3,395.0 383.9,395.8 384.5,396.5 385.1,397.2 385.7,398.0 386.3,398.6 386.9,399.3 387.5,399.9 388.1,400.5 388.7,401.1 389.2,401.7 389.8,402.3 390.4,402.8 391.0,403.4 391.6,403.9 392.2,404.4 392.8,404.9 393.4,405.3 394.0,405.8 394.6,406.2 395.2,406.6 395.8,407.0 396.4,407.4 397.0,407.8 397.6,408.2 398.1,408.6 398.7,408.9 399.3,409.3 399.9,409.6 400.5,409.9 401.1,410.2 401.7,410.5 402.3,410.8 402.9,411.1 403.5,411.4 404.1,411.6 404.7,411.9 405.3,412.1 405.9,412.4 406.5,412.6 407.0,412.8 407.6,413.0 408.2,413.2 408.8,413.5 409.4,413.7 410.0,413.8 410.6,414.0 411.2,414.2 411.8,414.4 412.4,414.6 413.0,414.7 413.6,414.9 414.2,415.0 414.8,415.2 415.4,415.3 415.9,415.5 416.5,415.6 417.1,415.7 417.7,415.9 418.3,416.0 418.9,416.1 419.5,416.2 420.1,416.3 420.7,416.4 421.3,416.5 421.9,416.6 422.5,416.7 423.1,416.8 423.7,416.9 424.3,417.0 424.8,417.1 425.4,417.2 426.0,417.3 426.6,417.4 427.2,417.4 427.8,417.5 428.4,417.6 429.0,417.6 429.6,417.7 430.2,417.8 430.8,417.8 431.4,417.9 432.0,418.0 432.6,418.0 433.2,418.1 433.7,418.1 434.3,418.2 434.9,418.2 435.5,418.3 436.1,418.3 436.7,418.4 437.3,418.4 437.9,418.5 438.5,418.5 439.1,418.5 439.7,418.6 440.3,418.6 440.9,418.7 441.5,418.7 442.1,418.7 442.6,418.8 443.2,418.8 443.8,418.8 444.4,418.9 445.0,418.9 445.6,418.9 446.2,418.9 446.8,419.0" fill="none" stroke="#6aa3d6" stroke-width="1.4" stroke-dasharray="5,3"/>
<polyline points="268.8,415.2 269.4,415.1 270.0,414.9 270.6,414.8 271.2,414.6 271.8,414.4 272.4,414.2 273.0,414.0 273.5,413.8 274.1,413.6 274.7,413.4 275.3,413.2 275.9,413.0 276.5,412.8 277.1,412.5 277.7,412.3 278.3,412.0 278.9,411.8 279.5,411.5 280.1,411.2 280.7,410.9 281.3,410.6 281.9,410.3 282.4,410.0 283.0,409.7 283.6,409.3 284.2,409.0 284.8,408.6 285.4,408.2 286.0,407.8 286.6,407.4 287.2,407.0 287.8,406.6 288.4,406.1 289.0,405.6 289.6,405.2 290.2,404.7 290.8,404.2 291.3,403.6 291.9,403.1 292.5,402.5 293.1,401.9 293.7,401.3 294.3,400.7 294.9,400.1 295.5,399.4 296.1,398.7 296.7,398.0 297.3,397.2 297.9,396.5 298.5,395.7 299.1,394.9 299.7,394.1 300.2,393.2 300.8,392.3 301.4,391.4 302.0,390.4 302.6,389.4 303.2,388.4 303.8,387.4 304.4,386.3 305.0,385.2 305.6,384.0 306.2,382.8 306.8,381.6 307.4,380.3 308.0,379.0 308.6,377.7 309.1,376.3 309.7,374.9 310.3,373.4 310.9,371.9 311.5,370.3 312.1,368.7 312.7,367.1 313.3,365.4 313.9,363.6 314.5,361.9 315.1,360.0 315.7,358.1 316.3,356.2 316.9,354.2 317.5,352.2 318.0,350.1 318.6,348.0 319.2,345.9 319.8,343.7 320.4,341.4 321.0,339.1 321.6,336.8 322.2,334.5 322.8,332.1 323.4,329.7 324.0,327.2 324.6,324.8 325.2,322.3 325.8,319.8 326.4,317.3 326.9,314.9 327.5,312.4 328.1,310.0 328.7,307.6 329.3,305.2 329.9,302.9 330.5,300.6 331.1,298.4 331.7,296.2 332.3,294.2 332.9,292.3 333.5,290.4 334.1,288.7 334.7,287.1 335.3,285.7 335.8,284.3 336.4,283.2 337.0,282.2 337.6,281.4 338.2,280.8 338.8,280.3 339.4,280.0 340.0,279.9 340.6,280.0 341.2,280.2 341.8,280.7 342.4,281.2 343.0,282.0 343.6,282.8 344.2,283.9 344.7,285.0 345.3,286.3 345.9,287.8 346.5,289.3 347.1,291.0 347.7,292.7 348.3,294.6 348.9,296.5 349.5,298.5 350.1,300.6 350.7,302.8 351.3,305.0 351.9,307.2 352.5,309.5 353.1,311.8 353.6,314.1 354.2,316.4 354.8,318.7 355.4,321.1 356.0,323.4 356.6,325.7 357.2,328.0 357.8,330.3 358.4,332.6 359.0,334.8 359.6,337.0 360.2,339.2 360.8,341.4 361.4,343.5 362.0,345.6 362.5,347.6 363.1,349.6 363.7,351.6 364.3,353.5 364.9,355.4 365.5,357.2 366.1,359.0 366.7,360.8 367.3,362.5 367.9,364.2 368.5,365.8 369.1,367.4 369.7,368.9 370.3,370.4 370.9,371.9 371.4,373.3 372.0,374.7 372.6,376.1 373.2,377.4 373.8,378.7 374.4,379.9 375.0,381.1 375.6,382.3 376.2,383.4 376.8,384.5 377.4,385.6 378.0,386.6 378.6,387.6 379.2,388.6 379.8,389.6 380.3,390.5 380.9,391.4 381.5,392.3 382.1,393.1 382.7,393.9 383.3,394.7 383.9,395.5 384.5,396.2 385.1,397.0 385.7,397.7 386.3,398.3 386.9,399.0 387.5,399.6 388.1,400.3 388.7,400.9 389.2,401.5 389.8,402.0 390.4,402.6 391.0,403.1 391.6,403.6 392.2,404.1 392.8,404.6 393.4,405.1 394.0,405.5 394.6,406.0 395.2,406.4 395.8,406.8 396.4,407.2 397.0,407.6 397.6,408.0 398.1,408.3 398.7,408.7 399.3,409.0 399.9,409.4 400.5,409.7 401.1,410.0 401.7,410.3 402.3,410.6 402.9,410.9 403.5,411.2 404.1,411.4 404.7,411.7 405.3,411.9 405.9,412.2 406.5,412.4 407.0,412.6 407.6,412.9 408.2,413.1 408.8,413.3 409.4,413.5 410.0,413.7 410.6,413.9 411.2,414.1 411.8,414.2 412.4,414.4 413.0,414.6 413.6,414.7 414.2,414.9 414.8,415.0 415.4,415.2 415.9,415.3 416.5,415.5 417.1,415.6 417.7,415.7 418.3,415.9 418.9,416.0 419.5,416.1 420.1,416.2 420.7,416.3 421.3,416.4 421.9,416.5 422.5,416.6 423.1,416.7 423.7,416.8 424.3,416.9 424.8,417.0 425.4,417.1 426.0,417.2 426.6,417.3 427.2,417.3 427.8,417.4 428.4,417.5 429.0,417.6 429.6,417.6 430.2,417.7 430.8,417.8 431.4,417.8 432.0,417.9 432.6,417.9 433.2,418.0 433.7,418.1 434.3,418.1 434.9,418.2 435.5,418.2 436.1,418.3 436.7,418.3 437.3,418.4 437.9,418.4 438.5,418.4 439.1,418.5 439.7,418.5 440.3,418.6 440.9,418.6 441.5,418.6 442.1,418.7 442.6,418.7 443.2,418.7 443.8,418.8 444.4,418.8 445.0,418.8 445.6,418.9 446.2,418.9 446.8,418.9" fill="none" stroke="#ec7b2d" stroke-width="1.6"/>
<polyline points="268.8,415.2 269.4,415.0 270.0,414.8 270.6,414.7 271.2,414.5 271.8,414.3 272.4,414.2 273.0,414.0 273.5,413.8 274.1,413.6 274.7,413.4 275.3,413.2 275.9,412.9 276.5,412.7 277.1,412.5 277.7,412.2 278.3,412.0 278.9,411.7 279.5,411.5 280.1,411.2 280.7,410.9 281.3,410.6 281.9,410.3 282.4,410.0 283.0,409.7 283.6,409.3 284.2,409.0 284.8,408.6 285.4,408.2 286.0,407.9 286.6,407.5 287.2,407.1 287.8,406.6 288.4,406.2 289.0,405.8 289.6,405.3 290.2,404.8 290.8,404.3 291.3,403.8 291.9,403.3 292.5,402.7 293.1,402.2 293.7,401.6 294.3,401.0 294.9,400.4 295.5,399.7 296.1,399.1 296.7,398.4 297.3,397.7 297.9,396.9 298.5,396.2 299.1,395.4 299.7,394.6 300.2,393.8 300.8,392.9 301.4,392.1 302.0,391.2 302.6,390.2 303.2,389.2 303.8,388.3 304.4,387.2 305.0,386.2 305.6,385.1 306.2,383.9 306.8,382.8 307.4,381.6 308.0,380.4 308.6,379.1 309.1,377.8 309.7,376.4 310.3,375.0 310.9,373.6 311.5,372.1 312.1,370.6 312.7,369.1 313.3,367.5 313.9,365.9 314.5,364.2 315.1,362.4 315.7,360.7 316.3,358.9 316.9,357.0 317.5,355.1 318.0,353.2 318.6,351.2 319.2,349.2 319.8,347.1 320.4,345.0 321.0,342.8 321.6,340.6 322.2,338.4 322.8,336.2 323.4,333.9 324.0,331.6 324.6,329.3 325.2,327.0 325.8,324.6 326.4,322.2 326.9,319.9 327.5,317.5 328.1,315.2 328.7,312.9 329.3,310.6 329.9,308.3 330.5,306.1 331.1,303.9 331.7,301.8 332.3,299.8 332.9,297.8 333.5,296.0 334.1,294.2 334.7,292.5 335.3,291.0 335.8,289.6 336.4,288.3 337.0,287.1 337.6,286.1 338.2,285.3 338.8,284.6 339.4,284.1 340.0,283.8 340.6,283.6 341.2,283.6 341.8,283.7 342.4,284.0 343.0,284.5 343.6,285.1 344.2,285.8 344.7,286.7 345.3,287.8 345.9,288.9 346.5,290.2 347.1,291.6 347.7,293.1 348.3,294.7 348.9,296.4 349.5,298.1 350.1,300.0 350.7,301.9 351.3,303.9 351.9,306.0 352.5,308.0 353.1,310.2 353.6,312.3 354.2,314.5 354.8,316.7 355.4,318.9 356.0,321.1 356.6,323.4 357.2,325.6 357.8,327.8 358.4,330.0 359.0,332.2 359.6,334.3 360.2,336.5 360.8,338.6 361.4,340.7 362.0,342.7 362.5,344.7 363.1,346.7 363.7,348.7 364.3,350.6 364.9,352.5 365.5,354.3 366.1,356.2 366.7,357.9 367.3,359.7 367.9,361.3 368.5,363.0 369.1,364.6 369.7,366.2 370.3,367.7 370.9,369.2 371.4,370.7 372.0,372.1 372.6,373.5 373.2,374.8 373.8,376.1 374.4,377.4 375.0,378.7 375.6,379.9 376.2,381.1 376.8,382.2 377.4,383.3 378.0,384.4 378.6,385.4 379.2,386.5 379.8,387.5 380.3,388.4 380.9,389.4 381.5,390.3 382.1,391.1 382.7,392.0 383.3,392.8 383.9,393.6 384.5,394.4 385.1,395.2 385.7,395.9 386.3,396.6 386.9,397.3 387.5,398.0 388.1,398.7 388.7,399.3 389.2,399.9 389.8,400.5 390.4,401.1 391.0,401.7 391.6,402.2 392.2,402.7 392.8,403.3 393.4,403.7 394.0,404.2 394.6,404.7 395.2,405.2 395.8,405.6 396.4,406.0 397.0,406.4 397.6,406.8 398.1,407.2 398.7,407.6 399.3,408.0 399.9,408.3 400.5,408.7 401.1,409.0 401.7,409.3 402.3,409.7 402.9,410.0 403.5,410.3 404.1,410.6 404.7,410.8 405.3,411.1 405.9,411.4 406.5,411.6 407.0,411.9 407.6,412.1 408.2,412.3 408.8,412.6 409.4,412.8 410.0,413.0 410.6,413.2 411.2,413.4 411.8,413.6 412.4,413.8 413.0,414.0 413.6,414.1 414.2,414.3 414.8,414.5 415.4,414.6 415.9,414.8 416.5,414.9 417.1,415.1 417.7,415.2 418.3,415.4 418.9,415.5 419.5,415.6 420.1,415.8 420.7,415.9 421.3,416.0 421.9,416.1 422.5,416.2 423.1,416.3 423.7,416.4 424.3,416.5 424.8,416.6 425.4,416.7 426.0,416.8 426.6,416.9 427.2,417.0 427.8,417.1 428.4,417.2 429.0,417.3 429.6,417.3 430.2,417.4 430.8,417.5 431.4,417.5 432.0,417.6 432.6,417.7 433.2,417.7 433.7,417.8 434.3,417.9 434.9,417.9 435.5,418.0 436.1,418.0 436.7,418.1 437.3,418.1 437.9,418.2 438.5,418.2 439.1,418.3 439.7,418.3 440.3,418.4 440.9,418.4 441.5,418.5 442.1,418.5 442.6,418.5 443.2,418.6 443.8,418.6 444.4,418.7 445.0,418.7 445.6,418.7 446.2,418.8 446.8,418.8" fill="none" stroke="#a65ea8" stroke-width="1.2" stroke-dasharray="5,3"/>
</g>
<rect x="266" y="257" width="183" height="172" fill="none" stroke="#000" stroke-width="2"/>
<line x1="268.8" y1="428" x2="268.8" y2="426.2" stroke="#000" stroke-width="1.1"/>
<line x1="268.8" y1="258" x2="268.8" y2="259.8" stroke="#000" stroke-width="1.1"/>
<line x1="277.7" y1="428" x2="277.7" y2="426.2" stroke="#000" stroke-width="1.1"/>
<line x1="277.7" y1="258" x2="277.7" y2="259.8" stroke="#000" stroke-width="1.1"/>
<line x1="286.6" y1="428" x2="286.6" y2="424.8" stroke="#000" stroke-width="1.1"/>
<line x1="286.6" y1="258" x2="286.6" y2="261.2" stroke="#000" stroke-width="1.1"/>
<line x1="295.5" y1="428" x2="295.5" y2="426.2" stroke="#000" stroke-width="1.1"/>
<line x1="295.5" y1="258" x2="295.5" y2="259.8" stroke="#000" stroke-width="1.1"/>
<line x1="304.4" y1="428" x2="304.4" y2="426.2" stroke="#000" stroke-width="1.1"/>
<line x1="304.4" y1="258" x2="304.4" y2="259.8" stroke="#000" stroke-width="1.1"/>
<line x1="313.3" y1="428" x2="313.3" y2="426.2" stroke="#000" stroke-width="1.1"/>
<line x1="313.3" y1="258" x2="313.3" y2="259.8" stroke="#000" stroke-width="1.1"/>
<line x1="322.2" y1="428" x2="322.2" y2="424.8" stroke="#000" stroke-width="1.1"/>
<line x1="322.2" y1="258" x2="322.2" y2="261.2" stroke="#000" stroke-width="1.1"/>
<line x1="331.1" y1="428" x2="331.1" y2="426.2" stroke="#000" stroke-width="1.1"/>
<line x1="331.1" y1="258" x2="331.1" y2="259.8" stroke="#000" stroke-width="1.1"/>
<line x1="340.0" y1="428" x2="340.0" y2="426.2" stroke="#000" stroke-width="1.1"/>
<line x1="340.0" y1="258" x2="340.0" y2="259.8" stroke="#000" stroke-width="1.1"/>
<line x1="348.9" y1="428" x2="348.9" y2="426.2" stroke="#000" stroke-width="1.1"/>
<line x1="348.9" y1="258" x2="348.9" y2="259.8" stroke="#000" stroke-width="1.1"/>
<line x1="357.8" y1="428" x2="357.8" y2="424.8" stroke="#000" stroke-width="1.1"/>
<line x1="357.8" y1="258" x2="357.8" y2="261.2" stroke="#000" stroke-width="1.1"/>
<line x1="366.7" y1="428" x2="366.7" y2="426.2" stroke="#000" stroke-width="1.1"/>
<line x1="366.7" y1="258" x2="366.7" y2="259.8" stroke="#000" stroke-width="1.1"/>
<line x1="375.6" y1="428" x2="375.6" y2="426.2" stroke="#000" stroke-width="1.1"/>
<line x1="375.6" y1="258" x2="375.6" y2="259.8" stroke="#000" stroke-width="1.1"/>
<line x1="384.5" y1="428" x2="384.5" y2="426.2" stroke="#000" stroke-width="1.1"/>
<line x1="384.5" y1="258" x2="384.5" y2="259.8" stroke="#000" stroke-width="1.1"/>
<line x1="393.4" y1="428" x2="393.4" y2="424.8" stroke="#000" stroke-width="1.1"/>
<line x1="393.4" y1="258" x2="393.4" y2="261.2" stroke="#000" stroke-width="1.1"/>
<line x1="402.3" y1="428" x2="402.3" y2="426.2" stroke="#000" stroke-width="1.1"/>
<line x1="402.3" y1="258" x2="402.3" y2="259.8" stroke="#000" stroke-width="1.1"/>
<line x1="411.2" y1="428" x2="411.2" y2="426.2" stroke="#000" stroke-width="1.1"/>
<line x1="411.2" y1="258" x2="411.2" y2="259.8" stroke="#000" stroke-width="1.1"/>
<line x1="420.1" y1="428" x2="420.1" y2="426.2" stroke="#000" stroke-width="1.1"/>
<line x1="420.1" y1="258" x2="420.1" y2="259.8" stroke="#000" stroke-width="1.1"/>
<line x1="429.0" y1="428" x2="429.0" y2="424.8" stroke="#000" stroke-width="1.1"/>
<line x1="429.0" y1="258" x2="429.0" y2="261.2" stroke="#000" stroke-width="1.1"/>
<line x1="437.9" y1="428" x2="437.9" y2="426.2" stroke="#000" stroke-width="1.1"/>
<line x1="437.9" y1="258" x2="437.9" y2="259.8" stroke="#000" stroke-width="1.1"/>
<line x1="446.8" y1="428" x2="446.8" y2="426.2" stroke="#000" stroke-width="1.1"/>
<line x1="446.8" y1="258" x2="446.8" y2="259.8" stroke="#000" stroke-width="1.1"/>
<line x1="267" y1="419.8" x2="270.2" y2="419.8" stroke="#000" stroke-width="1.1"/>
<line x1="448" y1="419.8" x2="444.8" y2="419.8" stroke="#000" stroke-width="1.1"/>
<line x1="267" y1="414.6" x2="268.8" y2="414.6" stroke="#000" stroke-width="1.1"/>
<line x1="448" y1="414.6" x2="446.2" y2="414.6" stroke="#000" stroke-width="1.1"/>
<line x1="267" y1="409.4" x2="268.8" y2="409.4" stroke="#000" stroke-width="1.1"/>
<line x1="448" y1="409.4" x2="446.2" y2="409.4" stroke="#000" stroke-width="1.1"/>
<line x1="267" y1="404.2" x2="268.8" y2="404.2" stroke="#000" stroke-width="1.1"/>
<line x1="448" y1="404.2" x2="446.2" y2="404.2" stroke="#000" stroke-width="1.1"/>
<line x1="267" y1="399.0" x2="268.8" y2="399.0" stroke="#000" stroke-width="1.1"/>
<line x1="448" y1="399.0" x2="446.2" y2="399.0" stroke="#000" stroke-width="1.1"/>
<line x1="267" y1="393.8" x2="270.2" y2="393.8" stroke="#000" stroke-width="1.1"/>
<line x1="448" y1="393.8" x2="444.8" y2="393.8" stroke="#000" stroke-width="1.1"/>
<line x1="267" y1="388.6" x2="268.8" y2="388.6" stroke="#000" stroke-width="1.1"/>
<line x1="448" y1="388.6" x2="446.2" y2="388.6" stroke="#000" stroke-width="1.1"/>
<line x1="267" y1="383.4" x2="268.8" y2="383.4" stroke="#000" stroke-width="1.1"/>
<line x1="448" y1="383.4" x2="446.2" y2="383.4" stroke="#000" stroke-width="1.1"/>
<line x1="267" y1="378.2" x2="268.8" y2="378.2" stroke="#000" stroke-width="1.1"/>
<line x1="448" y1="378.2" x2="446.2" y2="378.2" stroke="#000" stroke-width="1.1"/>
<line x1="267" y1="373.0" x2="268.8" y2="373.0" stroke="#000" stroke-width="1.1"/>
<line x1="448" y1="373.0" x2="446.2" y2="373.0" stroke="#000" stroke-width="1.1"/>
<line x1="267" y1="367.8" x2="270.2" y2="367.8" stroke="#000" stroke-width="1.1"/>
<line x1="448" y1="367.8" x2="444.8" y2="367.8" stroke="#000" stroke-width="1.1"/>
<line x1="267" y1="362.6" x2="268.8" y2="362.6" stroke="#000" stroke-width="1.1"/>
<line x1="448" y1="362.6" x2="446.2" y2="362.6" stroke="#000" stroke-width="1.1"/>
<line x1="267" y1="357.4" x2="268.8" y2="357.4" stroke="#000" stroke-width="1.1"/>
<line x1="448" y1="357.4" x2="446.2" y2="357.4" stroke="#000" stroke-width="1.1"/>
<line x1="267" y1="352.2" x2="268.8" y2="352.2" stroke="#000" stroke-width="1.1"/>
<line x1="448" y1="352.2" x2="446.2" y2="352.2" stroke="#000" stroke-width="1.1"/>
<line x1="267" y1="347.0" x2="268.8" y2="347.0" stroke="#000" stroke-width="1.1"/>
<line x1="448" y1="347.0" x2="446.2" y2="347.0" stroke="#000" stroke-width="1.1"/>
<line x1="267" y1="341.8" x2="270.2" y2="341.8" stroke="#000" stroke-width="1.1"/>
<line x1="448" y1="341.8" x2="444.8" y2="341.8" stroke="#000" stroke-width="1.1"/>
<line x1="267" y1="336.6" x2="268.8" y2="336.6" stroke="#000" stroke-width="1.1"/>
<line x1="448" y1="336.6" x2="446.2" y2="336.6" stroke="#000" stroke-width="1.1"/>
<line x1="267" y1="331.4" x2="268.8" y2="331.4" stroke="#000" stroke-width="1.1"/>
<line x1="448" y1="331.4" x2="446.2" y2="331.4" stroke="#000" stroke-width="1.1"/>
<line x1="267" y1="326.2" x2="268.8" y2="326.2" stroke="#000" stroke-width="1.1"/>
<line x1="448" y1="326.2" x2="446.2" y2="326.2" stroke="#000" stroke-width="1.1"/>
<line x1="267" y1="321.0" x2="268.8" y2="321.0" stroke="#000" stroke-width="1.1"/>
<line x1="448" y1="321.0" x2="446.2" y2="321.0" stroke="#000" stroke-width="1.1"/>
<line x1="267" y1="315.8" x2="270.2" y2="315.8" stroke="#000" stroke-width="1.1"/>
<line x1="448" y1="315.8" x2="444.8" y2="315.8" stroke="#000" stroke-width="1.1"/>
<line x1="267" y1="310.6" x2="268.8" y2="310.6" stroke="#000" stroke-width="1.1"/>
<line x1="448" y1="310.6" x2="446.2" y2="310.6" stroke="#000" stroke-width="1.1"/>
<line x1="267" y1="305.4" x2="268.8" y2="305.4" stroke="#000" stroke-width="1.1"/>
<line x1="448" y1="305.4" x2="446.2" y2="305.4" stroke="#000" stroke-width="1.1"/>
<line x1="267" y1="300.2" x2="268.8" y2="300.2" stroke="#000" stroke-width="1.1"/>
<line x1="448" y1="300.2" x2="446.2" y2="300.2" stroke="#000" stroke-width="1.1"/>
<line x1="267" y1="295.0" x2="268.8" y2="295.0" stroke="#000" stroke-width="1.1"/>
<line x1="448" y1="295.0" x2="446.2" y2="295.0" stroke="#000" stroke-width="1.1"/>
<line x1="267" y1="289.8" x2="270.2" y2="289.8" stroke="#000" stroke-width="1.1"/>
<line x1="448" y1="289.8" x2="444.8" y2="289.8" stroke="#000" stroke-width="1.1"/>
<line x1="267" y1="284.6" x2="268.8" y2="284.6" stroke="#000" stroke-width="1.1"/>
<line x1="448" y1="284.6" x2="446.2" y2="284.6" stroke="#000" stroke-width="1.1"/>
<line x1="267" y1="279.4" x2="268.8" y2="279.4" stroke="#000" stroke-width="1.1"/>
<line x1="448" y1="279.4" x2="446.2" y2="279.4" stroke="#000" stroke-width="1.1"/>
<line x1="267" y1="274.2" x2="268.8" y2="274.2" stroke="#000" stroke-width="1.1"/>
<line x1="448" y1="274.2" x2="446.2" y2="274.2" stroke="#000" stroke-width="1.1"/>
<line x1="267" y1="269.0" x2="268.8" y2="269.0" stroke="#000" stroke-width="1.1"/>
<line x1="448" y1="269.0" x2="446.2" y2="269.0" stroke="#000" stroke-width="1.1"/>
<line x1="267" y1="263.8" x2="270.2" y2="263.8" stroke="#000" stroke-width="1.1"/>
<line x1="448" y1="263.8" x2="444.8" y2="263.8" stroke="#000" stroke-width="1.1"/>
<text x="0" y="424.3" font-size="12.5" font-weight="bold" text-anchor="end" transform="translate(264.0,0) scale(0.72,1)">0.0</text>
<text x="0" y="398.3" font-size="12.5" font-weight="bold" text-anchor="end" transform="translate(264.0,0) scale(0.72,1)">0.5</text>
<text x="0" y="372.3" font-size="12.5" font-weight="bold" text-anchor="end" transform="translate(264.0,0) scale(0.72,1)">1.0</text>
<text x="0" y="346.3" font-size="12.5" font-weight="bold" text-anchor="end" transform="translate(264.0,0) scale(0.72,1)">1.5</text>
<text x="0" y="320.3" font-size="12.5" font-weight="bold" text-anchor="end" transform="translate(264.0,0) scale(0.72,1)">2.0</text>
<text x="0" y="294.3" font-size="12.5" font-weight="bold" text-anchor="end" transform="translate(264.0,0) scale(0.72,1)">2.5</text>
<text x="0" y="268.3" font-size="12.5" font-weight="bold" text-anchor="end" transform="translate(264.0,0) scale(0.72,1)">3.0</text>
<text x="0" y="444.0" font-size="12.5" font-weight="bold" text-anchor="middle" transform="translate(286.6,0) scale(0.72,1)">&#8211;4</text>
<text x="0" y="444.0" font-size="12.5" font-weight="bold" text-anchor="middle" transform="translate(322.2,0) scale(0.72,1)">&#8211;2</text>
<text x="0" y="444.0" font-size="12.5" font-weight="bold" text-anchor="middle" transform="translate(357.8,0) scale(0.72,1)">0</text>
<text x="0" y="444.0" font-size="12.5" font-weight="bold" text-anchor="middle" transform="translate(393.4,0) scale(0.72,1)">2</text>
<text x="0" y="444.0" font-size="12.5" font-weight="bold" text-anchor="middle" transform="translate(429.0,0) scale(0.72,1)">4</text>
<text transform="translate(244.4,343) rotate(-90)" font-size="7.2" font-weight="bold" text-anchor="middle" letter-spacing="0.9"><tspan font-style="italic" font-size="8">U</tspan><tspan font-size="5" dy="0.8">1</tspan><tspan dy="-0.8">(x,t)</tspan></text>
<text x="357.6" y="466.6" font-size="9" font-weight="bold" text-anchor="middle">x</text>
<clipPath id="cf"><rect x="484" y="260" width="189" height="169"/></clipPath>
<g clip-path="url(#cf)">
<polygon points="487.0,421.5 487.6,421.5 488.2,421.5 488.8,421.5 489.4,421.5 490.0,421.5 490.6,421.4 491.2,421.4 491.8,421.4 492.4,421.4 493.0,421.4 493.6,421.4 494.3,421.4 494.9,421.3 495.5,421.3 496.1,421.3 496.7,421.3 497.3,421.2 497.9,421.2 498.5,421.2 499.1,421.1 499.7,421.1 500.3,421.1 500.9,421.0 501.6,421.0 502.2,420.9 502.8,420.9 503.4,420.8 504.0,420.7 504.6,420.7 505.2,420.6 505.8,420.5 506.4,420.4 507.0,420.3 507.6,420.2 508.2,420.1 508.9,420.0 509.5,419.8 510.1,419.7 510.7,419.6 511.3,419.4 511.9,419.2 512.5,419.0 513.1,418.8 513.7,418.6 514.3,418.4 514.9,418.1 515.5,417.8 516.2,417.6 516.8,417.2 517.4,416.9 518.0,416.5 518.6,416.1 519.2,415.7 519.8,415.3 520.4,414.8 521.0,414.3 521.6,413.7 522.2,413.1 522.8,412.4 523.5,411.7 524.1,411.0 524.7,410.1 525.3,409.3 525.9,408.3 526.5,407.4 527.1,406.3 527.7,405.2 528.3,404.0 528.9,402.7 529.5,401.3 530.1,399.9 530.8,398.3 531.4,396.7 532.0,395.0 532.6,393.2 533.2,391.3 533.8,389.2 534.4,386.9 535.0,384.6 535.6,382.1 536.2,379.5 536.8,376.8 537.4,373.9 538.1,370.9 538.7,367.8 539.3,364.6 539.9,361.2 540.5,357.8 541.1,354.2 541.7,350.5 542.3,346.7 542.9,342.9 543.5,338.9 544.1,334.9 544.7,330.9 545.4,326.8 546.0,322.7 546.6,318.6 547.2,314.5 547.8,310.5 548.4,306.5 549.0,302.6 549.6,298.8 550.2,295.2 550.8,291.7 551.4,288.4 552.0,285.2 552.7,282.3 553.3,279.6 553.9,277.2 554.5,275.1 555.1,273.3 555.7,271.8 556.3,270.6 556.9,269.7 557.5,269.2 558.1,269.0 558.7,269.1 559.3,269.5 560.0,270.0 560.6,270.8 561.2,271.9 561.8,273.1 562.4,274.3 563.0,274.7 563.6,275.4 564.2,276.2 564.8,277.3 565.4,278.6 566.0,280.0 566.6,281.7 567.2,283.5 567.9,285.5 568.5,287.6 569.1,289.9 569.7,292.4 570.3,294.9 570.9,297.6 571.5,300.4 572.1,303.0 572.7,305.5 573.3,308.1 573.9,310.8 574.6,313.5 575.2,316.3 575.8,319.1 576.4,321.9 577.0,324.8 577.6,327.7 578.2,330.6 578.8,333.5 579.4,336.4 580.0,339.3 580.6,342.2 581.2,345.0 581.9,347.8 582.5,350.6 583.1,353.3 583.7,355.9 584.3,358.6 584.9,361.1 585.5,363.6 586.1,366.1 586.7,368.5 587.3,370.8 587.9,373.0 588.5,375.2 589.2,377.3 589.8,379.4 590.4,381.3 591.0,383.3 591.6,385.1 592.2,386.9 592.8,388.6 593.4,390.2 594.0,391.8 594.6,393.3 595.2,394.7 595.8,396.1 596.5,397.4 597.1,398.7 597.7,399.9 598.3,401.1 598.9,402.2 599.5,403.2 600.1,404.2 600.7,405.1 601.3,406.0 601.9,406.9 602.5,407.7 603.1,408.5 603.8,409.2 604.4,409.9 605.0,410.6 605.6,411.2 606.2,411.8 606.8,412.4 607.4,412.9 608.0,413.4 608.6,413.9 609.2,414.3 609.8,414.8 610.4,415.2 611.1,415.5 611.7,415.9 612.3,416.2 612.9,416.6 613.5,416.9 614.1,417.1 614.7,417.4 615.3,417.7 615.9,417.9 616.5,418.1 617.1,418.3 617.7,418.5 618.4,418.7 619.0,418.9 619.6,419.0 620.2,419.2 620.8,419.3 621.4,419.5 622.0,419.6 622.6,419.7 623.2,419.8 623.8,419.9 624.4,420.0 625.0,420.1 625.7,420.2 626.3,420.3 626.9,420.4 627.5,420.5 628.1,420.5 628.7,420.6 629.3,420.7 629.9,420.7 630.5,420.8 631.1,420.8 631.7,420.9 632.3,420.9 633.0,421.0 633.6,421.0 634.2,421.0 634.8,421.1 635.4,421.1 636.0,421.1 636.6,421.2 637.2,421.2 637.8,421.2 638.4,421.2 639.0,421.3 639.6,421.3 640.2,421.3 640.9,421.3 641.5,421.3 642.1,421.4 642.7,421.4 643.3,421.4 643.9,421.4 644.5,421.4 645.1,421.4 645.7,421.4 646.3,421.4 646.9,421.5 647.6,421.5 648.2,421.5 648.8,421.5 649.4,421.5 650.0,421.5 650.6,421.5 651.2,421.5 651.8,421.5 652.4,421.5 653.0,421.5 653.6,421.5 654.2,421.5 654.9,421.5 655.5,421.5 656.1,421.5 656.7,421.5 657.3,421.6 657.9,421.6 658.5,421.6 659.1,421.6 659.7,421.6 660.3,421.6 660.9,421.6 661.5,421.6 662.2,421.6 662.8,421.6 663.4,421.6 664.0,421.6 664.6,421.6 665.2,421.6 665.8,421.6 666.4,421.6 667.0,421.6 667.6,421.6 668.2,421.6 668.8,421.6 669.5,421.6 669.5,421.6 487.0,421.6" fill="#e6def0"/>
<polygon points="487.0,421.5 487.6,421.5 488.2,421.5 488.8,421.5 489.4,421.5 490.0,421.5 490.6,421.5 491.2,421.5 491.8,421.5 492.4,421.5 493.0,421.4 493.6,421.4 494.3,421.4 494.9,421.4 495.5,421.4 496.1,421.4 496.7,421.3 497.3,421.3 497.9,421.3 498.5,421.3 499.1,421.2 499.7,421.2 500.3,421.2 500.9,421.1 501.6,421.1 502.2,421.1 502.8,421.0 503.4,421.0 504.0,420.9 504.6,420.8 505.2,420.8 505.8,420.7 506.4,420.6 507.0,420.5 507.6,420.5 508.2,420.4 508.9,420.2 509.5,420.1 510.1,420.0 510.7,419.9 511.3,419.7 511.9,419.6 512.5,419.4 513.1,419.2 513.7,419.0 514.3,418.8 514.9,418.5 515.5,418.3 516.2,418.0 516.8,417.7 517.4,417.3 518.0,417.0 518.6,416.6 519.2,416.2 519.8,415.7 520.4,415.2 521.0,414.7 521.6,414.2 522.2,413.6 522.8,412.9 523.5,412.2 524.1,411.4 524.7,410.6 525.3,409.8 525.9,408.8 526.5,407.8 527.1,406.8 527.7,405.6 528.3,404.4 528.9,403.1 529.5,401.7 530.1,400.2 530.8,398.6 531.4,396.9 532.0,395.2 532.6,393.3 533.2,391.3 533.8,389.2 534.4,386.9 535.0,384.6 535.6,382.1 536.2,379.5 536.8,376.8 537.4,373.9 538.1,370.9 538.7,367.8 539.3,364.6 539.9,361.2 540.5,357.8 541.1,354.2 541.7,350.5 542.3,346.7 542.9,342.9 543.5,338.9 544.1,334.9 544.7,330.9 545.4,326.8 546.0,322.7 546.6,318.6 547.2,314.5 547.8,310.5 548.4,306.5 549.0,302.6 549.6,298.8 550.2,295.2 550.8,291.7 551.4,288.4 552.0,285.2 552.7,282.3 553.3,279.6 553.9,277.2 554.5,275.1 555.1,273.3 555.7,271.8 556.3,270.6 556.9,269.7 557.5,269.2 558.1,269.0 558.7,269.1 559.3,269.5 560.0,270.0 560.6,270.8 561.2,271.9 561.8,273.1 562.4,274.6 563.0,276.3 563.6,278.2 564.2,280.2 564.8,282.5 565.4,284.9 566.0,287.5 566.6,290.2 567.2,293.0 567.9,295.9 568.5,299.0 569.1,302.1 569.7,305.3 570.3,308.6 570.9,311.9 571.5,315.2 572.1,318.6 572.7,322.0 573.3,325.4 573.9,328.8 574.6,332.2 575.2,335.5 575.8,338.8 576.4,342.1 577.0,345.3 577.6,348.5 578.2,351.6 578.8,354.6 579.4,357.6 580.0,360.5 580.6,363.3 581.2,366.0 581.9,368.6 582.5,371.2 583.1,373.7 583.7,376.0 584.3,378.3 584.9,380.6 585.5,382.7 586.1,384.7 586.7,386.7 587.3,388.5 587.9,390.3 588.5,392.0 589.2,393.7 589.8,395.2 590.4,396.7 591.0,398.1 591.6,399.5 592.2,400.7 592.8,401.9 593.4,403.1 594.0,404.2 594.6,405.2 595.2,406.2 595.8,407.1 596.5,408.0 597.1,408.8 597.7,409.6 598.3,410.3 598.9,411.0 599.5,411.7 600.1,412.3 600.7,412.9 601.3,413.4 601.9,413.9 602.5,414.4 603.1,414.9 603.8,415.3 604.4,415.7 605.0,416.1 605.6,416.4 606.2,416.8 606.8,417.1 607.4,417.4 608.0,417.6 608.6,417.9 609.2,418.1 609.8,418.4 610.4,418.6 611.1,418.8 611.7,419.0 612.3,419.1 612.9,419.3 613.5,419.4 614.1,419.6 614.7,419.7 615.3,419.8 615.9,420.0 616.5,420.1 617.1,420.2 617.7,420.3 618.4,420.4 619.0,420.4 619.6,420.5 620.2,420.6 620.8,420.7 621.4,420.7 622.0,420.8 622.6,420.8 623.2,420.9 623.8,420.9 624.4,421.0 625.0,421.0 625.7,421.1 626.3,421.1 626.9,421.1 627.5,421.2 628.1,421.2 628.7,421.2 629.3,421.2 629.9,421.3 630.5,421.3 631.1,421.3 631.7,421.3 632.3,421.3 633.0,421.4 633.6,421.4 634.2,421.4 634.8,421.4 635.4,421.4 636.0,421.4 636.6,421.4 637.2,421.5 637.8,421.5 638.4,421.5 639.0,421.5 639.6,421.5 640.2,421.5 640.9,421.5 641.5,421.5 642.1,421.5 642.7,421.5 643.3,421.5 643.9,421.5 644.5,421.5 645.1,421.5 645.7,421.5 646.3,421.5 646.9,421.6 647.6,421.6 648.2,421.6 648.8,421.6 649.4,421.6 650.0,421.6 650.6,421.6 651.2,421.6 651.8,421.6 652.4,421.6 653.0,421.6 653.6,421.6 654.2,421.6 654.9,421.6 655.5,421.6 656.1,421.6 656.7,421.6 657.3,421.6 657.9,421.6 658.5,421.6 659.1,421.6 659.7,421.6 660.3,421.6 660.9,421.6 661.5,421.6 662.2,421.6 662.8,421.6 663.4,421.6 664.0,421.6 664.6,421.6 665.2,421.6 665.8,421.6 666.4,421.6 667.0,421.6 667.6,421.6 668.2,421.6 668.8,421.6 669.5,421.6 669.5,421.6 487.0,421.6" fill="#d8c8ec" fill-opacity="0.35"/>
<polygon points="487.0,421.5 487.6,421.5 488.2,421.5 488.8,421.5 489.4,421.5 490.0,421.5 490.6,421.5 491.2,421.5 491.8,421.5 492.4,421.5 493.0,421.5 493.6,421.5 494.3,421.5 494.9,421.4 495.5,421.4 496.1,421.4 496.7,421.4 497.3,421.4 497.9,421.4 498.5,421.3 499.1,421.3 499.7,421.3 500.3,421.3 500.9,421.2 501.6,421.2 502.2,421.2 502.8,421.1 503.4,421.1 504.0,421.1 504.6,421.0 505.2,421.0 505.8,420.9 506.4,420.9 507.0,420.8 507.6,420.7 508.2,420.6 508.9,420.6 509.5,420.5 510.1,420.4 510.7,420.3 511.3,420.2 511.9,420.0 512.5,419.9 513.1,419.8 513.7,419.6 514.3,419.5 514.9,419.3 515.5,419.1 516.2,418.9 516.8,418.7 517.4,418.4 518.0,418.2 518.6,417.9 519.2,417.6 519.8,417.3 520.4,416.9 521.0,416.5 521.6,416.1 522.2,415.7 522.8,415.2 523.5,414.7 524.1,414.2 524.7,413.6 525.3,412.9 525.9,412.3 526.5,411.5 527.1,410.8 527.7,409.9 528.3,409.0 528.9,408.1 529.5,407.1 530.1,406.0 530.8,404.8 531.4,403.6 532.0,402.3 532.6,400.9 533.2,399.4 533.8,397.8 534.4,396.2 535.0,394.4 535.6,392.5 536.2,390.6 536.8,388.5 537.4,386.3 538.1,384.0 538.7,381.6 539.3,379.1 539.9,376.4 540.5,373.7 541.1,370.8 541.7,367.8 542.3,364.7 542.9,361.5 543.5,358.2 544.1,354.8 544.7,351.3 545.4,347.8 546.0,344.1 546.6,340.4 547.2,336.6 547.8,332.8 548.4,329.0 549.0,325.1 549.6,321.3 550.2,317.5 550.8,313.7 551.4,310.0 552.0,306.3 552.7,302.8 553.3,299.3 553.9,296.1 554.5,292.9 555.1,290.0 555.7,287.2 556.3,284.7 556.9,282.4 557.5,280.3 558.1,278.6 558.7,277.1 559.3,275.8 560.0,274.9 560.6,274.3 561.2,274.0 561.8,274.0 562.4,274.3 563.0,274.7 563.6,275.4 564.2,276.2 564.8,277.3 565.4,278.6 566.0,280.0 566.6,281.7 567.2,283.5 567.9,285.5 568.5,287.6 569.1,289.9 569.7,292.4 570.3,294.9 570.9,297.6 571.5,300.4 572.1,303.2 572.7,306.2 573.3,309.2 573.9,312.2 574.6,315.4 575.2,318.5 575.8,321.7 576.4,324.9 577.0,328.1 577.6,331.2 578.2,334.4 578.8,337.6 579.4,340.7 580.0,343.7 580.6,346.8 581.2,349.8 581.9,352.7 582.5,355.6 583.1,358.4 583.7,361.1 584.3,363.8 584.9,366.4 585.5,368.9 586.1,371.4 586.7,373.7 587.3,376.0 587.9,378.2 588.5,380.4 589.2,382.4 589.8,384.4 590.4,386.3 591.0,388.1 591.6,389.8 592.2,391.5 592.8,393.1 593.4,394.6 594.0,396.1 594.6,397.5 595.2,398.8 595.8,400.1 596.5,401.3 597.1,402.4 597.7,403.5 598.3,404.5 598.9,405.5 599.5,406.4 600.1,407.3 600.7,408.2 601.3,409.0 601.9,409.7 602.5,410.4 603.1,411.1 603.8,411.7 604.4,412.3 605.0,412.9 605.6,413.4 606.2,413.9 606.8,414.4 607.4,414.8 608.0,415.2 608.6,415.6 609.2,416.0 609.8,416.3 610.4,416.7 611.1,417.0 611.7,417.3 612.3,417.5 612.9,417.8 613.5,418.0 614.1,418.2 614.7,418.5 615.3,418.7 615.9,418.8 616.5,419.0 617.1,419.2 617.7,419.3 618.4,419.5 619.0,419.6 619.6,419.7 620.2,419.9 620.8,420.0 621.4,420.1 622.0,420.2 622.6,420.3 623.2,420.4 623.8,420.4 624.4,420.5 625.0,420.6 625.7,420.6 626.3,420.7 626.9,420.8 627.5,420.8 628.1,420.9 628.7,420.9 629.3,421.0 629.9,421.0 630.5,421.0 631.1,421.1 631.7,421.1 632.3,421.1 633.0,421.2 633.6,421.2 634.2,421.2 634.8,421.3 635.4,421.3 636.0,421.3 636.6,421.3 637.2,421.3 637.8,421.4 638.4,421.4 639.0,421.4 639.6,421.4 640.2,421.4 640.9,421.4 641.5,421.4 642.1,421.4 642.7,421.5 643.3,421.5 643.9,421.5 644.5,421.5 645.1,421.5 645.7,421.5 646.3,421.5 646.9,421.5 647.6,421.5 648.2,421.5 648.8,421.5 649.4,421.5 650.0,421.5 650.6,421.5 651.2,421.5 651.8,421.5 652.4,421.6 653.0,421.6 653.6,421.6 654.2,421.6 654.9,421.6 655.5,421.6 656.1,421.6 656.7,421.6 657.3,421.6 657.9,421.6 658.5,421.6 659.1,421.6 659.7,421.6 660.3,421.6 660.9,421.6 661.5,421.6 662.2,421.6 662.8,421.6 663.4,421.6 664.0,421.6 664.6,421.6 665.2,421.6 665.8,421.6 666.4,421.6 667.0,421.6 667.6,421.6 668.2,421.6 668.8,421.6 669.5,421.6 669.5,421.6 487.0,421.6" fill="#c8d4ee" fill-opacity="0.3"/>
<polygon points="487.0,421.5 487.6,421.5 488.2,421.5 488.8,421.5 489.4,421.5 490.0,421.5 490.6,421.5 491.2,421.5 491.8,421.4 492.4,421.4 493.0,421.4 493.6,421.4 494.3,421.4 494.9,421.4 495.5,421.3 496.1,421.3 496.7,421.3 497.3,421.3 497.9,421.2 498.5,421.2 499.1,421.2 499.7,421.1 500.3,421.1 500.9,421.1 501.6,421.0 502.2,421.0 502.8,420.9 503.4,420.9 504.0,420.8 504.6,420.7 505.2,420.6 505.8,420.6 506.4,420.5 507.0,420.4 507.6,420.3 508.2,420.2 508.9,420.1 509.5,419.9 510.1,419.8 510.7,419.6 511.3,419.5 511.9,419.3 512.5,419.1 513.1,418.9 513.7,418.7 514.3,418.5 514.9,418.2 515.5,417.9 516.2,417.6 516.8,417.3 517.4,417.0 518.0,416.6 518.6,416.2 519.2,415.8 519.8,415.3 520.4,414.8 521.0,414.3 521.6,413.7 522.2,413.1 522.8,412.4 523.5,411.7 524.1,411.0 524.7,410.1 525.3,409.3 525.9,408.3 526.5,407.4 527.1,406.3 527.7,405.2 528.3,404.0 528.9,402.7 529.5,401.3 530.1,399.9 530.8,398.3 531.4,396.7 532.0,395.0 532.6,393.2 533.2,391.3 533.8,389.2 534.4,387.1 535.0,384.9 535.6,382.5 536.2,380.1 536.8,377.5 537.4,374.8 538.1,372.0 538.7,369.1 539.3,366.1 539.9,362.9 540.5,359.7 541.1,356.4 541.7,353.0 542.3,349.5 542.9,345.9 543.5,342.2 544.1,338.5 544.7,334.8 545.4,331.0 546.0,327.2 546.6,323.4 547.2,319.6 547.8,315.9 548.4,312.2 549.0,308.6 549.6,305.0 550.2,301.6 550.8,298.3 551.4,295.1 552.0,292.1 552.7,289.3 553.3,286.7 553.9,284.3 554.5,282.2 555.1,280.3 555.7,278.7 556.3,277.4 556.9,276.3 557.5,275.6 558.1,275.1 558.7,275.0 559.3,275.1 560.0,275.5 560.6,276.0 561.2,276.8 561.8,277.7 562.4,278.9 563.0,280.2 563.6,281.7 564.2,283.4 564.8,285.3 565.4,287.3 566.0,289.5 566.6,291.8 567.2,294.3 567.9,296.8 568.5,299.5 569.1,302.3 569.7,305.2 570.3,308.1 570.9,311.1 571.5,314.1 572.1,317.2 572.7,320.3 573.3,323.5 573.9,326.6 574.6,329.8 575.2,332.9 575.8,336.0 576.4,339.1 577.0,342.2 577.6,345.2 578.2,348.2 578.8,351.1 579.4,354.0 580.0,356.8 580.6,359.6 581.2,362.3 581.9,364.9 582.5,367.4 583.1,369.9 583.7,372.3 584.3,374.6 584.9,376.8 585.5,379.0 586.1,381.1 586.7,383.1 587.3,385.0 587.9,386.9 588.5,388.7 589.2,390.4 589.8,392.0 590.4,393.6 591.0,395.1 591.6,396.5 592.2,397.9 592.8,399.2 593.4,400.4 594.0,401.6 594.6,402.7 595.2,403.8 595.8,404.8 596.5,405.7 597.1,406.7 597.7,407.5 598.3,408.3 598.9,409.1 599.5,409.8 600.1,410.5 600.7,411.2 601.3,411.8 601.9,412.4 602.5,412.9 603.1,413.5 603.8,414.0 604.4,414.4 605.0,414.9 605.6,415.3 606.2,415.7 606.8,416.0 607.4,416.4 608.0,416.7 608.6,417.0 609.2,417.3 609.8,417.5 610.4,417.8 611.1,418.0 611.7,418.3 612.3,418.5 612.9,418.7 613.5,418.9 614.1,419.0 614.7,419.2 615.3,419.3 615.9,419.5 616.5,419.6 617.1,419.7 617.7,419.9 618.4,420.0 619.0,420.1 619.6,420.2 620.2,420.3 620.8,420.4 621.4,420.4 622.0,420.5 622.6,420.6 623.2,420.6 623.8,420.7 624.4,420.8 625.0,420.8 625.7,420.9 626.3,420.9 626.9,421.0 627.5,421.0 628.1,421.0 628.7,421.1 629.3,421.1 629.9,421.1 630.5,421.2 631.1,421.2 631.7,421.2 632.3,421.3 633.0,421.3 633.6,421.3 634.2,421.3 634.8,421.3 635.4,421.4 636.0,421.4 636.6,421.4 637.2,421.4 637.8,421.4 638.4,421.4 639.0,421.4 639.6,421.4 640.2,421.5 640.9,421.5 641.5,421.5 642.1,421.5 642.7,421.5 643.3,421.5 643.9,421.5 644.5,421.5 645.1,421.5 645.7,421.5 646.3,421.5 646.9,421.5 647.6,421.5 648.2,421.5 648.8,421.5 649.4,421.5 650.0,421.6 650.6,421.6 651.2,421.6 651.8,421.6 652.4,421.6 653.0,421.6 653.6,421.6 654.2,421.6 654.9,421.6 655.5,421.6 656.1,421.6 656.7,421.6 657.3,421.6 657.9,421.6 658.5,421.6 659.1,421.6 659.7,421.6 660.3,421.6 660.9,421.6 661.5,421.6 662.2,421.6 662.8,421.6 663.4,421.6 664.0,421.6 664.6,421.6 665.2,421.6 665.8,421.6 666.4,421.6 667.0,421.6 667.6,421.6 668.2,421.6 668.8,421.6 669.5,421.6 669.5,421.6 487.0,421.6" fill="#f0d8a0" fill-opacity="0.25"/>
<polygon points="487.0,421.5 487.6,421.5 488.2,421.5 488.8,421.5 489.4,421.5 490.0,421.5 490.6,421.5 491.2,421.4 491.8,421.4 492.4,421.4 493.0,421.4 493.6,421.4 494.3,421.4 494.9,421.4 495.5,421.3 496.1,421.3 496.7,421.3 497.3,421.3 497.9,421.2 498.5,421.2 499.1,421.2 499.7,421.1 500.3,421.1 500.9,421.1 501.6,421.0 502.2,421.0 502.8,420.9 503.4,420.8 504.0,420.8 504.6,420.7 505.2,420.6 505.8,420.6 506.4,420.5 507.0,420.4 507.6,420.3 508.2,420.2 508.9,420.1 509.5,419.9 510.1,419.8 510.7,419.7 511.3,419.5 511.9,419.3 512.5,419.1 513.1,418.9 513.7,418.7 514.3,418.5 514.9,418.3 515.5,418.0 516.2,417.7 516.8,417.4 517.4,417.0 518.0,416.7 518.6,416.3 519.2,415.9 519.8,415.4 520.4,415.0 521.0,414.4 521.6,413.9 522.2,413.3 522.8,412.7 523.5,412.0 524.1,411.2 524.7,410.5 525.3,409.6 525.9,408.7 526.5,407.8 527.1,406.8 527.7,405.7 528.3,404.5 528.9,403.3 529.5,402.0 530.1,400.6 530.8,399.2 531.4,397.6 532.0,396.0 532.6,394.2 533.2,392.4 533.8,390.5 534.4,388.4 535.0,386.3 535.6,384.0 536.2,381.7 536.8,379.2 537.4,376.7 538.1,374.0 538.7,371.2 539.3,368.3 539.9,365.3 540.5,362.2 541.1,359.0 541.7,355.7 542.3,352.4 542.9,348.9 543.5,345.4 544.1,341.8 544.7,338.2 545.4,334.6 546.0,330.9 546.6,327.2 547.2,323.5 547.8,319.8 548.4,316.2 549.0,312.6 549.6,309.1 550.2,305.6 550.8,302.3 551.4,299.1 552.0,296.1 552.7,293.2 553.3,290.5 553.9,288.0 554.5,285.8 555.1,283.7 555.7,282.0 556.3,280.4 556.9,279.2 557.5,278.2 558.1,277.5 558.7,277.1 559.3,277.0 560.0,277.2 560.6,277.5 561.2,278.0 561.8,278.8 562.4,279.7 563.0,280.8 563.6,282.1 564.2,283.6 564.8,285.3 565.4,287.1 566.0,289.1 566.6,291.2 567.2,293.5 567.9,295.8 568.5,298.3 569.1,300.9 569.7,303.6 570.3,306.4 570.9,309.2 571.5,312.2 572.1,315.1 572.7,318.1 573.3,321.1 573.9,324.2 574.6,327.3 575.2,330.3 575.8,333.4 576.4,336.4 577.0,339.5 577.6,342.4 578.2,345.4 578.8,348.3 579.4,351.2 580.0,354.0 580.6,356.8 581.2,359.5 581.9,362.1 582.5,364.7 583.1,367.2 583.7,369.6 584.3,372.0 584.9,374.3 585.5,376.5 586.1,378.6 586.7,380.7 587.3,382.7 587.9,384.6 588.5,386.5 589.2,388.2 589.8,389.9 590.4,391.6 591.0,393.1 591.6,394.6 592.2,396.1 592.8,397.4 593.4,398.7 594.0,400.0 594.6,401.1 595.2,402.3 595.8,403.3 596.5,404.4 597.1,405.3 597.7,406.2 598.3,407.1 598.9,407.9 599.5,408.7 600.1,409.5 600.7,410.2 601.3,410.8 601.9,411.5 602.5,412.1 603.1,412.6 603.8,413.2 604.4,413.7 605.0,414.1 605.6,414.6 606.2,415.0 606.8,415.4 607.4,415.8 608.0,416.1 608.6,416.5 609.2,416.8 609.8,417.1 610.4,417.4 611.1,417.6 611.7,417.9 612.3,418.1 612.9,418.3 613.5,418.5 614.1,418.7 614.7,418.9 615.3,419.1 615.9,419.2 616.5,419.4 617.1,419.5 617.7,419.6 618.4,419.8 619.0,419.9 619.6,420.0 620.2,420.1 620.8,420.2 621.4,420.3 622.0,420.4 622.6,420.4 623.2,420.5 623.8,420.6 624.4,420.6 625.0,420.7 625.7,420.8 626.3,420.8 626.9,420.9 627.5,420.9 628.1,421.0 628.7,421.0 629.3,421.0 629.9,421.1 630.5,421.1 631.1,421.1 631.7,421.2 632.3,421.2 633.0,421.2 633.6,421.2 634.2,421.3 634.8,421.3 635.4,421.3 636.0,421.3 636.6,421.3 637.2,421.4 637.8,421.4 638.4,421.4 639.0,421.4 639.6,421.4 640.2,421.4 640.9,421.4 641.5,421.5 642.1,421.5 642.7,421.5 643.3,421.5 643.9,421.5 644.5,421.5 645.1,421.5 645.7,421.5 646.3,421.5 646.9,421.5 647.6,421.5 648.2,421.5 648.8,421.5 649.4,421.5 650.0,421.5 650.6,421.5 651.2,421.5 651.8,421.6 652.4,421.6 653.0,421.6 653.6,421.6 654.2,421.6 654.9,421.6 655.5,421.6 656.1,421.6 656.7,421.6 657.3,421.6 657.9,421.6 658.5,421.6 659.1,421.6 659.7,421.6 660.3,421.6 660.9,421.6 661.5,421.6 662.2,421.6 662.8,421.6 663.4,421.6 664.0,421.6 664.6,421.6 665.2,421.6 665.8,421.6 666.4,421.6 667.0,421.6 667.6,421.6 668.2,421.6 668.8,421.6 669.5,421.6 669.5,421.6 487.0,421.6" fill="#d8c8ec" fill-opacity="0.2"/>
<polygon points="487.0,421.5 487.6,421.5 488.2,421.5 488.8,421.5 489.4,421.5 490.0,421.5 490.6,421.4 491.2,421.4 491.8,421.4 492.4,421.4 493.0,421.4 493.6,421.4 494.3,421.4 494.9,421.3 495.5,421.3 496.1,421.3 496.7,421.3 497.3,421.2 497.9,421.2 498.5,421.2 499.1,421.1 499.7,421.1 500.3,421.1 500.9,421.0 501.6,421.0 502.2,420.9 502.8,420.9 503.4,420.8 504.0,420.7 504.6,420.7 505.2,420.6 505.8,420.5 506.4,420.4 507.0,420.3 507.6,420.2 508.2,420.1 508.9,420.0 509.5,419.8 510.1,419.7 510.7,419.6 511.3,419.4 511.9,419.2 512.5,419.0 513.1,418.8 513.7,418.6 514.3,418.4 514.9,418.1 515.5,417.8 516.2,417.6 516.8,417.2 517.4,416.9 518.0,416.5 518.6,416.1 519.2,415.7 519.8,415.3 520.4,414.8 521.0,414.3 521.6,413.7 522.2,413.1 522.8,412.5 523.5,411.8 524.1,411.1 524.7,410.3 525.3,409.5 525.9,408.6 526.5,407.7 527.1,406.7 527.7,405.6 528.3,404.5 528.9,403.3 529.5,402.0 530.1,400.6 530.8,399.2 531.4,397.7 532.0,396.1 532.6,394.4 533.2,392.6 533.8,390.7 534.4,388.7 535.0,386.7 535.6,384.5 536.2,382.2 536.8,379.9 537.4,377.4 538.1,374.8 538.7,372.1 539.3,369.3 539.9,366.5 540.5,363.5 541.1,360.4 541.7,357.3 542.3,354.0 542.9,350.7 543.5,347.4 544.1,343.9 544.7,340.5 545.4,336.9 546.0,333.4 546.6,329.8 547.2,326.3 547.8,322.8 548.4,319.3 549.0,315.8 549.6,312.4 550.2,309.1 550.8,305.9 551.4,302.8 552.0,299.8 552.7,297.0 553.3,294.3 553.9,291.8 554.5,289.6 555.1,287.5 555.7,285.7 556.3,284.1 556.9,282.7 557.5,281.7 558.1,280.9 558.7,280.3 559.3,280.1 560.0,280.1 560.6,280.3 561.2,280.7 561.8,281.3 562.4,282.0 563.0,283.0 563.6,284.1 564.2,285.4 564.8,286.9 565.4,288.5 566.0,290.3 566.6,292.2 567.2,294.3 567.9,296.5 568.5,298.8 569.1,301.2 569.7,303.7 570.3,306.3 570.9,308.9 571.5,311.7 572.1,314.5 572.7,317.3 573.3,320.2 573.9,323.1 574.6,326.0 575.2,329.0 575.8,331.9 576.4,334.9 577.0,337.8 577.6,340.7 578.2,343.6 578.8,346.4 579.4,349.2 580.0,352.0 580.6,354.7 581.2,357.4 581.9,360.0 582.5,362.6 583.1,365.1 583.7,367.5 584.3,369.9 584.9,372.2 585.5,374.4 586.1,376.5 586.7,378.6 587.3,380.6 587.9,382.6 588.5,384.5 589.2,386.3 589.8,388.0 590.4,389.7 591.0,391.3 591.6,392.8 592.2,394.3 592.8,395.7 593.4,397.1 594.0,398.4 594.6,399.6 595.2,400.8 595.8,401.9 596.5,403.0 597.1,404.0 597.7,404.9 598.3,405.9 598.9,406.7 599.5,407.6 600.1,408.4 600.7,409.1 601.3,409.8 601.9,410.5 602.5,411.1 603.1,411.7 603.8,412.3 604.4,412.8 605.0,413.3 605.6,413.8 606.2,414.3 606.8,414.7 607.4,415.1 608.0,415.5 608.6,415.9 609.2,416.2 609.8,416.5 610.4,416.8 611.1,417.1 611.7,417.4 612.3,417.6 612.9,417.9 613.5,418.1 614.1,418.3 614.7,418.5 615.3,418.7 615.9,418.9 616.5,419.1 617.1,419.2 617.7,419.4 618.4,419.5 619.0,419.6 619.6,419.7 620.2,419.9 620.8,420.0 621.4,420.1 622.0,420.2 622.6,420.3 623.2,420.3 623.8,420.4 624.4,420.5 625.0,420.6 625.7,420.6 626.3,420.7 626.9,420.7 627.5,420.8 628.1,420.8 628.7,420.9 629.3,420.9 629.9,421.0 630.5,421.0 631.1,421.1 631.7,421.1 632.3,421.1 633.0,421.2 633.6,421.2 634.2,421.2 634.8,421.2 635.4,421.3 636.0,421.3 636.6,421.3 637.2,421.3 637.8,421.3 638.4,421.4 639.0,421.4 639.6,421.4 640.2,421.4 640.9,421.4 641.5,421.4 642.1,421.4 642.7,421.4 643.3,421.5 643.9,421.5 644.5,421.5 645.1,421.5 645.7,421.5 646.3,421.5 646.9,421.5 647.6,421.5 648.2,421.5 648.8,421.5 649.4,421.5 650.0,421.5 650.6,421.5 651.2,421.5 651.8,421.5 652.4,421.5 653.0,421.5 653.6,421.6 654.2,421.6 654.9,421.6 655.5,421.6 656.1,421.6 656.7,421.6 657.3,421.6 657.9,421.6 658.5,421.6 659.1,421.6 659.7,421.6 660.3,421.6 660.9,421.6 661.5,421.6 662.2,421.6 662.8,421.6 663.4,421.6 664.0,421.6 664.6,421.6 665.2,421.6 665.8,421.6 666.4,421.6 667.0,421.6 667.6,421.6 668.2,421.6 668.8,421.6 669.5,421.6 669.5,421.6 487.0,421.6" fill="#c8a890" fill-opacity="0.2"/>
<polygon points="487.0,421.5 487.6,421.5 488.2,421.5 488.8,421.5 489.4,421.5 490.0,421.5 490.6,421.5 491.2,421.5 491.8,421.5 492.4,421.5 493.0,421.4 493.6,421.4 494.3,421.4 494.9,421.4 495.5,421.4 496.1,421.4 496.7,421.3 497.3,421.3 497.9,421.3 498.5,421.3 499.1,421.3 499.7,421.2 500.3,421.2 500.9,421.2 501.6,421.1 502.2,421.1 502.8,421.1 503.4,421.0 504.0,421.0 504.6,420.9 505.2,420.9 505.8,420.8 506.4,420.7 507.0,420.7 507.6,420.6 508.2,420.5 508.9,420.4 509.5,420.3 510.1,420.2 510.7,420.1 511.3,420.0 511.9,419.9 512.5,419.7 513.1,419.6 513.7,419.4 514.3,419.2 514.9,419.0 515.5,418.8 516.2,418.6 516.8,418.4 517.4,418.1 518.0,417.9 518.6,417.6 519.2,417.3 519.8,416.9 520.4,416.6 521.0,416.2 521.6,415.8 522.2,415.4 522.8,414.9 523.5,414.4 524.1,413.8 524.7,413.2 525.3,412.6 525.9,412.0 526.5,411.2 527.1,410.5 527.7,409.7 528.3,408.8 528.9,407.9 529.5,406.9 530.1,405.9 530.8,404.8 531.4,403.6 532.0,402.4 532.6,401.0 533.2,399.6 533.8,398.2 534.4,396.6 535.0,394.9 535.6,393.2 536.2,391.4 536.8,389.4 537.4,387.4 538.1,385.3 538.7,383.1 539.3,380.8 539.9,378.4 540.5,375.8 541.1,373.2 541.7,370.5 542.3,367.7 542.9,364.8 543.5,361.8 544.1,358.7 544.7,355.5 545.4,352.3 546.0,349.0 546.6,345.6 547.2,342.2 547.8,338.8 548.4,335.3 549.0,331.8 549.6,328.3 550.2,324.8 550.8,321.3 551.4,317.9 552.0,314.5 552.7,311.2 553.3,308.0 553.9,304.8 554.5,301.9 555.1,299.0 555.7,296.3 556.3,293.8 556.9,291.5 557.5,289.3 558.1,287.4 558.7,285.8 559.3,284.3 560.0,283.1 560.6,282.2 561.2,281.5 561.8,281.2 562.4,281.0 563.0,281.1 563.6,281.4 564.2,281.9 564.8,282.6 565.4,283.4 566.0,284.5 566.6,285.6 567.2,287.0 567.9,288.5 568.5,290.2 569.1,292.0 569.7,294.0 570.3,296.1 570.9,298.3 571.5,300.6 572.1,303.0 572.7,305.5 573.3,308.1 573.9,310.8 574.6,313.5 575.2,316.3 575.8,319.1 576.4,321.9 577.0,324.8 577.6,327.7 578.2,330.6 578.8,333.5 579.4,336.4 580.0,339.3 580.6,342.2 581.2,345.0 581.9,347.8 582.5,350.6 583.1,353.3 583.7,355.9 584.3,358.6 584.9,361.1 585.5,363.6 586.1,366.1 586.7,368.5 587.3,370.8 587.9,373.0 588.5,375.2 589.2,377.3 589.8,379.4 590.4,381.3 591.0,383.3 591.6,385.1 592.2,386.9 592.8,388.6 593.4,390.2 594.0,391.8 594.6,393.3 595.2,394.7 595.8,396.1 596.5,397.4 597.1,398.7 597.7,399.9 598.3,401.1 598.9,402.2 599.5,403.2 600.1,404.2 600.7,405.1 601.3,406.0 601.9,406.9 602.5,407.7 603.1,408.5 603.8,409.2 604.4,409.9 605.0,410.6 605.6,411.2 606.2,411.8 606.8,412.4 607.4,412.9 608.0,413.4 608.6,413.9 609.2,414.3 609.8,414.8 610.4,415.2 611.1,415.5 611.7,415.9 612.3,416.2 612.9,416.6 613.5,416.9 614.1,417.1 614.7,417.4 615.3,417.7 615.9,417.9 616.5,418.1 617.1,418.3 617.7,418.5 618.4,418.7 619.0,418.9 619.6,419.1 620.2,419.2 620.8,419.4 621.4,419.5 622.0,419.6 622.6,419.7 623.2,419.9 623.8,420.0 624.4,420.1 625.0,420.2 625.7,420.2 626.3,420.3 626.9,420.4 627.5,420.5 628.1,420.6 628.7,420.6 629.3,420.7 629.9,420.7 630.5,420.8 631.1,420.8 631.7,420.9 632.3,420.9 633.0,421.0 633.6,421.0 634.2,421.0 634.8,421.1 635.4,421.1 636.0,421.1 636.6,421.2 637.2,421.2 637.8,421.2 638.4,421.2 639.0,421.3 639.6,421.3 640.2,421.3 640.9,421.3 641.5,421.3 642.1,421.4 642.7,421.4 643.3,421.4 643.9,421.4 644.5,421.4 645.1,421.4 645.7,421.4 646.3,421.4 646.9,421.5 647.6,421.5 648.2,421.5 648.8,421.5 649.4,421.5 650.0,421.5 650.6,421.5 651.2,421.5 651.8,421.5 652.4,421.5 653.0,421.5 653.6,421.5 654.2,421.5 654.9,421.5 655.5,421.5 656.1,421.5 656.7,421.6 657.3,421.6 657.9,421.6 658.5,421.6 659.1,421.6 659.7,421.6 660.3,421.6 660.9,421.6 661.5,421.6 662.2,421.6 662.8,421.6 663.4,421.6 664.0,421.6 664.6,421.6 665.2,421.6 665.8,421.6 666.4,421.6 667.0,421.6 667.6,421.6 668.2,421.6 668.8,421.6 669.5,421.6 669.5,421.6 487.0,421.6" fill="#d0e0b0" fill-opacity="0.2"/>
<polygon points="487.0,421.5 487.6,421.5 488.2,421.5 488.8,421.5 489.4,421.5 490.0,421.5 490.6,421.5 491.2,421.5 491.8,421.4 492.4,421.4 493.0,421.4 493.6,421.4 494.3,421.4 494.9,421.4 495.5,421.3 496.1,421.3 496.7,421.3 497.3,421.3 497.9,421.3 498.5,421.2 499.1,421.2 499.7,421.2 500.3,421.1 500.9,421.1 501.6,421.1 502.2,421.0 502.8,421.0 503.4,420.9 504.0,420.9 504.6,420.8 505.2,420.7 505.8,420.7 506.4,420.6 507.0,420.5 507.6,420.4 508.2,420.3 508.9,420.2 509.5,420.1 510.1,420.0 510.7,419.9 511.3,419.7 511.9,419.6 512.5,419.4 513.1,419.3 513.7,419.1 514.3,418.9 514.9,418.7 515.5,418.5 516.2,418.2 516.8,418.0 517.4,417.7 518.0,417.4 518.6,417.1 519.2,416.7 519.8,416.4 520.4,416.0 521.0,415.5 521.6,415.1 522.2,414.6 522.8,414.1 523.5,413.5 524.1,412.9 524.7,412.3 525.3,411.6 525.9,410.9 526.5,410.1 527.1,409.3 527.7,408.4 528.3,407.5 528.9,406.5 529.5,405.5 530.1,404.4 530.8,403.2 531.4,401.9 532.0,400.6 532.6,399.2 533.2,397.7 533.8,396.2 534.4,394.5 535.0,392.8 535.6,391.0 536.2,389.0 536.8,387.0 537.4,384.9 538.1,382.7 538.7,380.4 539.3,378.0 539.9,375.6 540.5,373.0 541.1,370.3 541.7,367.5 542.3,364.7 542.9,361.7 543.5,358.7 544.1,355.6 544.7,352.4 545.4,349.2 546.0,345.9 546.6,342.6 547.2,339.2 547.8,335.8 548.4,332.4 549.0,329.0 549.6,325.6 550.2,322.2 550.8,318.9 551.4,315.6 552.0,312.4 552.7,309.3 553.3,306.3 553.9,303.4 554.5,300.6 555.1,298.0 555.7,295.6 556.3,293.3 556.9,291.2 557.5,289.4 558.1,287.7 558.7,286.3 559.3,285.2 560.0,284.3 560.6,283.6 561.2,283.2 561.8,283.0 562.4,283.1 563.0,283.4 563.6,283.8 564.2,284.5 564.8,285.3 565.4,286.2 566.0,287.4 566.6,288.6 567.2,290.1 567.9,291.7 568.5,293.4 569.1,295.3 569.7,297.3 570.3,299.4 570.9,301.6 571.5,304.0 572.1,306.4 572.7,308.9 573.3,311.4 573.9,314.1 574.6,316.7 575.2,319.5 575.8,322.2 576.4,325.0 577.0,327.9 577.6,330.7 578.2,333.5 578.8,336.3 579.4,339.1 580.0,341.9 580.6,344.7 581.2,347.4 581.9,350.2 582.5,352.8 583.1,355.4 583.7,358.0 584.3,360.5 584.9,363.0 585.5,365.4 586.1,367.8 586.7,370.1 587.3,372.3 587.9,374.5 588.5,376.6 589.2,378.6 589.8,380.6 590.4,382.5 591.0,384.3 591.6,386.1 592.2,387.8 592.8,389.4 593.4,391.0 594.0,392.5 594.6,394.0 595.2,395.4 595.8,396.7 596.5,398.0 597.1,399.2 597.7,400.4 598.3,401.5 598.9,402.6 599.5,403.6 600.1,404.5 600.7,405.5 601.3,406.3 601.9,407.2 602.5,408.0 603.1,408.7 603.8,409.4 604.4,410.1 605.0,410.7 605.6,411.4 606.2,411.9 606.8,412.5 607.4,413.0 608.0,413.5 608.6,414.0 609.2,414.4 609.8,414.8 610.4,415.2 611.1,415.6 611.7,415.9 612.3,416.3 612.9,416.6 613.5,416.9 614.1,417.1 614.7,417.4 615.3,417.7 615.9,417.9 616.5,418.1 617.1,418.3 617.7,418.5 618.4,418.7 619.0,418.9 619.6,419.0 620.2,419.2 620.8,419.3 621.4,419.5 622.0,419.6 622.6,419.7 623.2,419.8 623.8,419.9 624.4,420.0 625.0,420.1 625.7,420.2 626.3,420.3 626.9,420.4 627.5,420.5 628.1,420.5 628.7,420.6 629.3,420.7 629.9,420.7 630.5,420.8 631.1,420.8 631.7,420.9 632.3,420.9 633.0,421.0 633.6,421.0 634.2,421.0 634.8,421.1 635.4,421.1 636.0,421.1 636.6,421.2 637.2,421.2 637.8,421.2 638.4,421.2 639.0,421.3 639.6,421.3 640.2,421.3 640.9,421.3 641.5,421.3 642.1,421.4 642.7,421.4 643.3,421.4 643.9,421.4 644.5,421.4 645.1,421.4 645.7,421.4 646.3,421.4 646.9,421.5 647.6,421.5 648.2,421.5 648.8,421.5 649.4,421.5 650.0,421.5 650.6,421.5 651.2,421.5 651.8,421.5 652.4,421.5 653.0,421.5 653.6,421.5 654.2,421.5 654.9,421.5 655.5,421.5 656.1,421.5 656.7,421.5 657.3,421.6 657.9,421.6 658.5,421.6 659.1,421.6 659.7,421.6 660.3,421.6 660.9,421.6 661.5,421.6 662.2,421.6 662.8,421.6 663.4,421.6 664.0,421.6 664.6,421.6 665.2,421.6 665.8,421.6 666.4,421.6 667.0,421.6 667.6,421.6 668.2,421.6 668.8,421.6 669.5,421.6 669.5,421.6 487.0,421.6" fill="#e8b090" fill-opacity="0.2"/>
<polygon points="487.0,421.5 487.6,421.5 488.2,421.5 488.8,421.5 489.4,421.5 490.0,421.5 490.6,421.4 491.2,421.4 491.8,421.4 492.4,421.4 493.0,421.4 493.6,421.4 494.3,421.3 494.9,421.3 495.5,421.3 496.1,421.3 496.7,421.2 497.3,421.2 497.9,421.2 498.5,421.2 499.1,421.1 499.7,421.1 500.3,421.0 500.9,421.0 501.6,420.9 502.2,420.9 502.8,420.8 503.4,420.8 504.0,420.7 504.6,420.6 505.2,420.6 505.8,420.5 506.4,420.4 507.0,420.3 507.6,420.2 508.2,420.1 508.9,419.9 509.5,419.8 510.1,419.7 510.7,419.5 511.3,419.3 511.9,419.2 512.5,419.0 513.1,418.8 513.7,418.6 514.3,418.3 514.9,418.1 515.5,417.8 516.2,417.5 516.8,417.2 517.4,416.8 518.0,416.4 518.6,416.1 519.2,415.6 519.8,415.2 520.4,414.7 521.0,414.2 521.6,413.6 522.2,413.0 522.8,412.4 523.5,411.7 524.1,411.0 524.7,410.2 525.3,409.3 525.9,408.5 526.5,407.5 527.1,406.5 527.7,405.4 528.3,404.3 528.9,403.1 529.5,401.8 530.1,400.4 530.8,399.0 531.4,397.5 532.0,395.9 532.6,394.2 533.2,392.4 533.8,390.5 534.4,388.6 535.0,386.5 535.6,384.3 536.2,382.0 536.8,379.7 537.4,377.2 538.1,374.6 538.7,372.0 539.3,369.2 539.9,366.3 540.5,363.4 541.1,360.3 541.7,357.2 542.3,354.0 542.9,350.7 543.5,347.3 544.1,343.9 544.7,340.5 545.4,337.0 546.0,333.5 546.6,330.0 547.2,326.4 547.8,322.9 548.4,319.5 549.0,316.0 549.6,312.7 550.2,309.4 550.8,306.2 551.4,303.1 552.0,300.2 552.7,297.4 553.3,294.8 553.9,292.3 554.5,290.1 555.1,288.1 555.7,286.2 556.3,284.7 556.9,283.4 557.5,282.3 558.1,281.5 558.7,281.0 559.3,280.7 560.0,280.7 560.6,280.9 561.2,281.3 561.8,281.9 562.4,282.6 563.0,283.6 563.6,284.7 564.2,286.0 564.8,287.4 565.4,289.0 566.0,290.8 566.6,292.7 567.2,294.7 567.9,296.9 568.5,299.2 569.1,301.6 569.7,304.0 570.3,306.6 570.9,309.2 571.5,312.0 572.1,314.7 572.7,317.5 573.3,320.4 573.9,323.3 574.6,326.2 575.2,329.1 575.8,332.0 576.4,334.9 577.0,337.8 577.6,340.7 578.2,343.6 578.8,346.4 579.4,349.2 580.0,352.0 580.6,354.7 581.2,357.3 581.9,359.9 582.5,362.5 583.1,364.9 583.7,367.4 584.3,369.7 584.9,372.0 585.5,374.2 586.1,376.4 586.7,378.5 587.3,380.5 587.9,382.4 588.5,384.3 589.2,386.1 589.8,387.8 590.4,389.5 591.0,391.1 591.6,392.6 592.2,394.1 592.8,395.5 593.4,396.9 594.0,398.2 594.6,399.4 595.2,400.6 595.8,401.7 596.5,402.8 597.1,403.8 597.7,404.8 598.3,405.7 598.9,406.6 599.5,407.4 600.1,408.2 600.7,409.0 601.3,409.7 601.9,410.3 602.5,411.0 603.1,411.6 603.8,412.2 604.4,412.7 605.0,413.2 605.6,413.7 606.2,414.2 606.8,414.6 607.4,415.0 608.0,415.4 608.6,415.8 609.2,416.1 609.8,416.4 610.4,416.8 611.1,417.0 611.7,417.3 612.3,417.6 612.9,417.8 613.5,418.0 614.1,418.3 614.7,418.5 615.3,418.7 615.9,418.8 616.5,419.0 617.1,419.2 617.7,419.3 618.4,419.4 619.0,419.6 619.6,419.7 620.2,419.8 620.8,419.9 621.4,420.0 622.0,420.1 622.6,420.2 623.2,420.3 623.8,420.4 624.4,420.5 625.0,420.5 625.7,420.6 626.3,420.7 626.9,420.7 627.5,420.8 628.1,420.8 628.7,420.9 629.3,420.9 629.9,421.0 630.5,421.0 631.1,421.0 631.7,421.1 632.3,421.1 633.0,421.1 633.6,421.2 634.2,421.2 634.8,421.2 635.4,421.2 636.0,421.3 636.6,421.3 637.2,421.3 637.8,421.3 638.4,421.3 639.0,421.4 639.6,421.4 640.2,421.4 640.9,421.4 641.5,421.4 642.1,421.4 642.7,421.4 643.3,421.4 643.9,421.5 644.5,421.5 645.1,421.5 645.7,421.5 646.3,421.5 646.9,421.5 647.6,421.5 648.2,421.5 648.8,421.5 649.4,421.5 650.0,421.5 650.6,421.5 651.2,421.5 651.8,421.5 652.4,421.5 653.0,421.5 653.6,421.5 654.2,421.6 654.9,421.6 655.5,421.6 656.1,421.6 656.7,421.6 657.3,421.6 657.9,421.6 658.5,421.6 659.1,421.6 659.7,421.6 660.3,421.6 660.9,421.6 661.5,421.6 662.2,421.6 662.8,421.6 663.4,421.6 664.0,421.6 664.6,421.6 665.2,421.6 665.8,421.6 666.4,421.6 667.0,421.6 667.6,421.6 668.2,421.6 668.8,421.6 669.5,421.6 669.5,421.6 487.0,421.6" fill="#ba9776"/>
<polyline points="487.0,421.5 487.6,421.5 488.2,421.5 488.8,421.5 489.4,421.5 490.0,421.5 490.6,421.5 491.2,421.5 491.8,421.5 492.4,421.5 493.0,421.4 493.6,421.4 494.3,421.4 494.9,421.4 495.5,421.4 496.1,421.4 496.7,421.3 497.3,421.3 497.9,421.3 498.5,421.3 499.1,421.2 499.7,421.2 500.3,421.2 500.9,421.1 501.6,421.1 502.2,421.1 502.8,421.0 503.4,421.0 504.0,420.9 504.6,420.8 505.2,420.8 505.8,420.7 506.4,420.6 507.0,420.5 507.6,420.5 508.2,420.4 508.9,420.2 509.5,420.1 510.1,420.0 510.7,419.9 511.3,419.7 511.9,419.6 512.5,419.4 513.1,419.2 513.7,419.0 514.3,418.8 514.9,418.5 515.5,418.3 516.2,418.0 516.8,417.7 517.4,417.3 518.0,417.0 518.6,416.6 519.2,416.2 519.8,415.7 520.4,415.2 521.0,414.7 521.6,414.2 522.2,413.6 522.8,412.9 523.5,412.2 524.1,411.4 524.7,410.6 525.3,409.8 525.9,408.8 526.5,407.8 527.1,406.8 527.7,405.6 528.3,404.4 528.9,403.1 529.5,401.7 530.1,400.2 530.8,398.6 531.4,396.9 532.0,395.2 532.6,393.3 533.2,391.3 533.8,389.2 534.4,386.9 535.0,384.6 535.6,382.1 536.2,379.5 536.8,376.8 537.4,373.9 538.1,370.9 538.7,367.8 539.3,364.6 539.9,361.2 540.5,357.8 541.1,354.2 541.7,350.5 542.3,346.7 542.9,342.9 543.5,338.9 544.1,334.9 544.7,330.9 545.4,326.8 546.0,322.7 546.6,318.6 547.2,314.5 547.8,310.5 548.4,306.5 549.0,302.6 549.6,298.8 550.2,295.2 550.8,291.7 551.4,288.4 552.0,285.2 552.7,282.3 553.3,279.6 553.9,277.2 554.5,275.1 555.1,273.3 555.7,271.8 556.3,270.6 556.9,269.7 557.5,269.2 558.1,269.0 558.7,269.1 559.3,269.5 560.0,270.0 560.6,270.8 561.2,271.9 561.8,273.1 562.4,274.6 563.0,276.3 563.6,278.2 564.2,280.2 564.8,282.5 565.4,284.9 566.0,287.5 566.6,290.2 567.2,293.0 567.9,295.9 568.5,299.0 569.1,302.1 569.7,305.3 570.3,308.6 570.9,311.9 571.5,315.2 572.1,318.6 572.7,322.0 573.3,325.4 573.9,328.8 574.6,332.2 575.2,335.5 575.8,338.8 576.4,342.1 577.0,345.3 577.6,348.5 578.2,351.6 578.8,354.6 579.4,357.6 580.0,360.5 580.6,363.3 581.2,366.0 581.9,368.6 582.5,371.2 583.1,373.7 583.7,376.0 584.3,378.3 584.9,380.6 585.5,382.7 586.1,384.7 586.7,386.7 587.3,388.5 587.9,390.3 588.5,392.0 589.2,393.7 589.8,395.2 590.4,396.7 591.0,398.1 591.6,399.5 592.2,400.7 592.8,401.9 593.4,403.1 594.0,404.2 594.6,405.2 595.2,406.2 595.8,407.1 596.5,408.0 597.1,408.8 597.7,409.6 598.3,410.3 598.9,411.0 599.5,411.7 600.1,412.3 600.7,412.9 601.3,413.4 601.9,413.9 602.5,414.4 603.1,414.9 603.8,415.3 604.4,415.7 605.0,416.1 605.6,416.4 606.2,416.8 606.8,417.1 607.4,417.4 608.0,417.6 608.6,417.9 609.2,418.1 609.8,418.4 610.4,418.6 611.1,418.8 611.7,419.0 612.3,419.1 612.9,419.3 613.5,419.4 614.1,419.6 614.7,419.7 615.3,419.8 615.9,420.0 616.5,420.1 617.1,420.2 617.7,420.3 618.4,420.4 619.0,420.4 619.6,420.5 620.2,420.6 620.8,420.7 621.4,420.7 622.0,420.8 622.6,420.8 623.2,420.9 623.8,420.9 624.4,421.0 625.0,421.0 625.7,421.1 626.3,421.1 626.9,421.1 627.5,421.2 628.1,421.2 628.7,421.2 629.3,421.2 629.9,421.3 630.5,421.3 631.1,421.3 631.7,421.3 632.3,421.3 633.0,421.4 633.6,421.4 634.2,421.4 634.8,421.4 635.4,421.4 636.0,421.4 636.6,421.4 637.2,421.5 637.8,421.5 638.4,421.5 639.0,421.5 639.6,421.5 640.2,421.5 640.9,421.5 641.5,421.5 642.1,421.5 642.7,421.5 643.3,421.5 643.9,421.5 644.5,421.5 645.1,421.5 645.7,421.5 646.3,421.5 646.9,421.6 647.6,421.6 648.2,421.6 648.8,421.6 649.4,421.6 650.0,421.6 650.6,421.6 651.2,421.6 651.8,421.6 652.4,421.6 653.0,421.6 653.6,421.6 654.2,421.6 654.9,421.6 655.5,421.6 656.1,421.6 656.7,421.6 657.3,421.6 657.9,421.6 658.5,421.6 659.1,421.6 659.7,421.6 660.3,421.6 660.9,421.6 661.5,421.6 662.2,421.6 662.8,421.6 663.4,421.6 664.0,421.6 664.6,421.6 665.2,421.6 665.8,421.6 666.4,421.6 667.0,421.6 667.6,421.6 668.2,421.6 668.8,421.6 669.5,421.6" fill="none" stroke="#a65ea8" stroke-width="1.5" stroke-dasharray="6,3.5"/>
<polyline points="487.0,421.5 487.6,421.5 488.2,421.5 488.8,421.5 489.4,421.5 490.0,421.5 490.6,421.5 491.2,421.5 491.8,421.5 492.4,421.5 493.0,421.5 493.6,421.5 494.3,421.5 494.9,421.4 495.5,421.4 496.1,421.4 496.7,421.4 497.3,421.4 497.9,421.4 498.5,421.3 499.1,421.3 499.7,421.3 500.3,421.3 500.9,421.2 501.6,421.2 502.2,421.2 502.8,421.1 503.4,421.1 504.0,421.1 504.6,421.0 505.2,421.0 505.8,420.9 506.4,420.9 507.0,420.8 507.6,420.7 508.2,420.6 508.9,420.6 509.5,420.5 510.1,420.4 510.7,420.3 511.3,420.2 511.9,420.0 512.5,419.9 513.1,419.8 513.7,419.6 514.3,419.5 514.9,419.3 515.5,419.1 516.2,418.9 516.8,418.7 517.4,418.4 518.0,418.2 518.6,417.9 519.2,417.6 519.8,417.3 520.4,416.9 521.0,416.5 521.6,416.1 522.2,415.7 522.8,415.2 523.5,414.7 524.1,414.2 524.7,413.6 525.3,412.9 525.9,412.3 526.5,411.5 527.1,410.8 527.7,409.9 528.3,409.0 528.9,408.1 529.5,407.1 530.1,406.0 530.8,404.8 531.4,403.6 532.0,402.3 532.6,400.9 533.2,399.4 533.8,397.8 534.4,396.2 535.0,394.4 535.6,392.5 536.2,390.6 536.8,388.5 537.4,386.3 538.1,384.0 538.7,381.6 539.3,379.1 539.9,376.4 540.5,373.7 541.1,370.8 541.7,367.8 542.3,364.7 542.9,361.5 543.5,358.2 544.1,354.8 544.7,351.3 545.4,347.8 546.0,344.1 546.6,340.4 547.2,336.6 547.8,332.8 548.4,329.0 549.0,325.1 549.6,321.3 550.2,317.5 550.8,313.7 551.4,310.0 552.0,306.3 552.7,302.8 553.3,299.3 553.9,296.1 554.5,292.9 555.1,290.0 555.7,287.2 556.3,284.7 556.9,282.4 557.5,280.3 558.1,278.6 558.7,277.1 559.3,275.8 560.0,274.9 560.6,274.3 561.2,274.0 561.8,274.0 562.4,274.3 563.0,274.7 563.6,275.4 564.2,276.2 564.8,277.3 565.4,278.6 566.0,280.0 566.6,281.7 567.2,283.5 567.9,285.5 568.5,287.6 569.1,289.9 569.7,292.4 570.3,294.9 570.9,297.6 571.5,300.4 572.1,303.2 572.7,306.2 573.3,309.2 573.9,312.2 574.6,315.4 575.2,318.5 575.8,321.7 576.4,324.9 577.0,328.1 577.6,331.2 578.2,334.4 578.8,337.6 579.4,340.7 580.0,343.7 580.6,346.8 581.2,349.8 581.9,352.7 582.5,355.6 583.1,358.4 583.7,361.1 584.3,363.8 584.9,366.4 585.5,368.9 586.1,371.4 586.7,373.7 587.3,376.0 587.9,378.2 588.5,380.4 589.2,382.4 589.8,384.4 590.4,386.3 591.0,388.1 591.6,389.8 592.2,391.5 592.8,393.1 593.4,394.6 594.0,396.1 594.6,397.5 595.2,398.8 595.8,400.1 596.5,401.3 597.1,402.4 597.7,403.5 598.3,404.5 598.9,405.5 599.5,406.4 600.1,407.3 600.7,408.2 601.3,409.0 601.9,409.7 602.5,410.4 603.1,411.1 603.8,411.7 604.4,412.3 605.0,412.9 605.6,413.4 606.2,413.9 606.8,414.4 607.4,414.8 608.0,415.2 608.6,415.6 609.2,416.0 609.8,416.3 610.4,416.7 611.1,417.0 611.7,417.3 612.3,417.5 612.9,417.8 613.5,418.0 614.1,418.2 614.7,418.5 615.3,418.7 615.9,418.8 616.5,419.0 617.1,419.2 617.7,419.3 618.4,419.5 619.0,419.6 619.6,419.7 620.2,419.9 620.8,420.0 621.4,420.1 622.0,420.2 622.6,420.3 623.2,420.4 623.8,420.4 624.4,420.5 625.0,420.6 625.7,420.6 626.3,420.7 626.9,420.8 627.5,420.8 628.1,420.9 628.7,420.9 629.3,421.0 629.9,421.0 630.5,421.0 631.1,421.1 631.7,421.1 632.3,421.1 633.0,421.2 633.6,421.2 634.2,421.2 634.8,421.3 635.4,421.3 636.0,421.3 636.6,421.3 637.2,421.3 637.8,421.4 638.4,421.4 639.0,421.4 639.6,421.4 640.2,421.4 640.9,421.4 641.5,421.4 642.1,421.4 642.7,421.5 643.3,421.5 643.9,421.5 644.5,421.5 645.1,421.5 645.7,421.5 646.3,421.5 646.9,421.5 647.6,421.5 648.2,421.5 648.8,421.5 649.4,421.5 650.0,421.5 650.6,421.5 651.2,421.5 651.8,421.5 652.4,421.6 653.0,421.6 653.6,421.6 654.2,421.6 654.9,421.6 655.5,421.6 656.1,421.6 656.7,421.6 657.3,421.6 657.9,421.6 658.5,421.6 659.1,421.6 659.7,421.6 660.3,421.6 660.9,421.6 661.5,421.6 662.2,421.6 662.8,421.6 663.4,421.6 664.0,421.6 664.6,421.6 665.2,421.6 665.8,421.6 666.4,421.6 667.0,421.6 667.6,421.6 668.2,421.6 668.8,421.6 669.5,421.6" fill="none" stroke="#5b8ec9" stroke-width="1.3" stroke-dasharray="6,3.5"/>
<polyline points="487.0,421.5 487.6,421.5 488.2,421.5 488.8,421.5 489.4,421.5 490.0,421.5 490.6,421.5 491.2,421.5 491.8,421.4 492.4,421.4 493.0,421.4 493.6,421.4 494.3,421.4 494.9,421.4 495.5,421.3 496.1,421.3 496.7,421.3 497.3,421.3 497.9,421.2 498.5,421.2 499.1,421.2 499.7,421.1 500.3,421.1 500.9,421.1 501.6,421.0 502.2,421.0 502.8,420.9 503.4,420.9 504.0,420.8 504.6,420.7 505.2,420.6 505.8,420.6 506.4,420.5 507.0,420.4 507.6,420.3 508.2,420.2 508.9,420.1 509.5,419.9 510.1,419.8 510.7,419.6 511.3,419.5 511.9,419.3 512.5,419.1 513.1,418.9 513.7,418.7 514.3,418.5 514.9,418.2 515.5,417.9 516.2,417.6 516.8,417.3 517.4,417.0 518.0,416.6 518.6,416.2 519.2,415.8 519.8,415.3 520.4,414.8 521.0,414.3 521.6,413.7 522.2,413.1 522.8,412.4 523.5,411.7 524.1,411.0 524.7,410.1 525.3,409.3 525.9,408.3 526.5,407.4 527.1,406.3 527.7,405.2 528.3,404.0 528.9,402.7 529.5,401.3 530.1,399.9 530.8,398.3 531.4,396.7 532.0,395.0 532.6,393.2 533.2,391.3 533.8,389.2 534.4,387.1 535.0,384.9 535.6,382.5 536.2,380.1 536.8,377.5 537.4,374.8 538.1,372.0 538.7,369.1 539.3,366.1 539.9,362.9 540.5,359.7 541.1,356.4 541.7,353.0 542.3,349.5 542.9,345.9 543.5,342.2 544.1,338.5 544.7,334.8 545.4,331.0 546.0,327.2 546.6,323.4 547.2,319.6 547.8,315.9 548.4,312.2 549.0,308.6 549.6,305.0 550.2,301.6 550.8,298.3 551.4,295.1 552.0,292.1 552.7,289.3 553.3,286.7 553.9,284.3 554.5,282.2 555.1,280.3 555.7,278.7 556.3,277.4 556.9,276.3 557.5,275.6 558.1,275.1 558.7,275.0 559.3,275.1 560.0,275.5 560.6,276.0 561.2,276.8 561.8,277.7 562.4,278.9 563.0,280.2 563.6,281.7 564.2,283.4 564.8,285.3 565.4,287.3 566.0,289.5 566.6,291.8 567.2,294.3 567.9,296.8 568.5,299.5 569.1,302.3 569.7,305.2 570.3,308.1 570.9,311.1 571.5,314.1 572.1,317.2 572.7,320.3 573.3,323.5 573.9,326.6 574.6,329.8 575.2,332.9 575.8,336.0 576.4,339.1 577.0,342.2 577.6,345.2 578.2,348.2 578.8,351.1 579.4,354.0 580.0,356.8 580.6,359.6 581.2,362.3 581.9,364.9 582.5,367.4 583.1,369.9 583.7,372.3 584.3,374.6 584.9,376.8 585.5,379.0 586.1,381.1 586.7,383.1 587.3,385.0 587.9,386.9 588.5,388.7 589.2,390.4 589.8,392.0 590.4,393.6 591.0,395.1 591.6,396.5 592.2,397.9 592.8,399.2 593.4,400.4 594.0,401.6 594.6,402.7 595.2,403.8 595.8,404.8 596.5,405.7 597.1,406.7 597.7,407.5 598.3,408.3 598.9,409.1 599.5,409.8 600.1,410.5 600.7,411.2 601.3,411.8 601.9,412.4 602.5,412.9 603.1,413.5 603.8,414.0 604.4,414.4 605.0,414.9 605.6,415.3 606.2,415.7 606.8,416.0 607.4,416.4 608.0,416.7 608.6,417.0 609.2,417.3 609.8,417.5 610.4,417.8 611.1,418.0 611.7,418.3 612.3,418.5 612.9,418.7 613.5,418.9 614.1,419.0 614.7,419.2 615.3,419.3 615.9,419.5 616.5,419.6 617.1,419.7 617.7,419.9 618.4,420.0 619.0,420.1 619.6,420.2 620.2,420.3 620.8,420.4 621.4,420.4 622.0,420.5 622.6,420.6 623.2,420.6 623.8,420.7 624.4,420.8 625.0,420.8 625.7,420.9 626.3,420.9 626.9,421.0 627.5,421.0 628.1,421.0 628.7,421.1 629.3,421.1 629.9,421.1 630.5,421.2 631.1,421.2 631.7,421.2 632.3,421.3 633.0,421.3 633.6,421.3 634.2,421.3 634.8,421.3 635.4,421.4 636.0,421.4 636.6,421.4 637.2,421.4 637.8,421.4 638.4,421.4 639.0,421.4 639.6,421.4 640.2,421.5 640.9,421.5 641.5,421.5 642.1,421.5 642.7,421.5 643.3,421.5 643.9,421.5 644.5,421.5 645.1,421.5 645.7,421.5 646.3,421.5 646.9,421.5 647.6,421.5 648.2,421.5 648.8,421.5 649.4,421.5 650.0,421.6 650.6,421.6 651.2,421.6 651.8,421.6 652.4,421.6 653.0,421.6 653.6,421.6 654.2,421.6 654.9,421.6 655.5,421.6 656.1,421.6 656.7,421.6 657.3,421.6 657.9,421.6 658.5,421.6 659.1,421.6 659.7,421.6 660.3,421.6 660.9,421.6 661.5,421.6 662.2,421.6 662.8,421.6 663.4,421.6 664.0,421.6 664.6,421.6 665.2,421.6 665.8,421.6 666.4,421.6 667.0,421.6 667.6,421.6 668.2,421.6 668.8,421.6 669.5,421.6" fill="none" stroke="#f2b316" stroke-width="1.3"/>
<polyline points="487.0,421.5 487.6,421.5 488.2,421.5 488.8,421.5 489.4,421.5 490.0,421.5 490.6,421.5 491.2,421.5 491.8,421.5 492.4,421.5 493.0,421.4 493.6,421.4 494.3,421.4 494.9,421.4 495.5,421.4 496.1,421.4 496.7,421.3 497.3,421.3 497.9,421.3 498.5,421.3 499.1,421.3 499.7,421.2 500.3,421.2 500.9,421.2 501.6,421.1 502.2,421.1 502.8,421.1 503.4,421.0 504.0,421.0 504.6,420.9 505.2,420.9 505.8,420.8 506.4,420.7 507.0,420.7 507.6,420.6 508.2,420.5 508.9,420.4 509.5,420.3 510.1,420.2 510.7,420.1 511.3,420.0 511.9,419.9 512.5,419.7 513.1,419.6 513.7,419.4 514.3,419.2 514.9,419.0 515.5,418.8 516.2,418.6 516.8,418.4 517.4,418.1 518.0,417.9 518.6,417.6 519.2,417.3 519.8,416.9 520.4,416.6 521.0,416.2 521.6,415.8 522.2,415.4 522.8,414.9 523.5,414.4 524.1,413.8 524.7,413.2 525.3,412.6 525.9,412.0 526.5,411.2 527.1,410.5 527.7,409.7 528.3,408.8 528.9,407.9 529.5,406.9 530.1,405.9 530.8,404.8 531.4,403.6 532.0,402.4 532.6,401.0 533.2,399.6 533.8,398.2 534.4,396.6 535.0,394.9 535.6,393.2 536.2,391.4 536.8,389.4 537.4,387.4 538.1,385.3 538.7,383.1 539.3,380.8 539.9,378.4 540.5,375.8 541.1,373.2 541.7,370.5 542.3,367.7 542.9,364.8 543.5,361.8 544.1,358.7 544.7,355.5 545.4,352.3 546.0,349.0 546.6,345.6 547.2,342.2 547.8,338.8 548.4,335.3 549.0,331.8 549.6,328.3 550.2,324.8 550.8,321.3 551.4,317.9 552.0,314.5 552.7,311.2 553.3,308.0 553.9,304.8 554.5,301.9 555.1,299.0 555.7,296.3 556.3,293.8 556.9,291.5 557.5,289.3 558.1,287.4 558.7,285.8 559.3,284.3 560.0,283.1 560.6,282.2 561.2,281.5 561.8,281.2 562.4,281.0 563.0,281.1 563.6,281.4 564.2,281.9 564.8,282.6 565.4,283.4 566.0,284.5 566.6,285.6 567.2,287.0 567.9,288.5 568.5,290.2 569.1,292.0 569.7,294.0 570.3,296.1 570.9,298.3 571.5,300.6 572.1,303.0 572.7,305.5 573.3,308.1 573.9,310.8 574.6,313.5 575.2,316.3 575.8,319.1 576.4,321.9 577.0,324.8 577.6,327.7 578.2,330.6 578.8,333.5 579.4,336.4 580.0,339.3 580.6,342.2 581.2,345.0 581.9,347.8 582.5,350.6 583.1,353.3 583.7,355.9 584.3,358.6 584.9,361.1 585.5,363.6 586.1,366.1 586.7,368.5 587.3,370.8 587.9,373.0 588.5,375.2 589.2,377.3 589.8,379.4 590.4,381.3 591.0,383.3 591.6,385.1 592.2,386.9 592.8,388.6 593.4,390.2 594.0,391.8 594.6,393.3 595.2,394.7 595.8,396.1 596.5,397.4 597.1,398.7 597.7,399.9 598.3,401.1 598.9,402.2 599.5,403.2 600.1,404.2 600.7,405.1 601.3,406.0 601.9,406.9 602.5,407.7 603.1,408.5 603.8,409.2 604.4,409.9 605.0,410.6 605.6,411.2 606.2,411.8 606.8,412.4 607.4,412.9 608.0,413.4 608.6,413.9 609.2,414.3 609.8,414.8 610.4,415.2 611.1,415.5 611.7,415.9 612.3,416.2 612.9,416.6 613.5,416.9 614.1,417.1 614.7,417.4 615.3,417.7 615.9,417.9 616.5,418.1 617.1,418.3 617.7,418.5 618.4,418.7 619.0,418.9 619.6,419.1 620.2,419.2 620.8,419.4 621.4,419.5 622.0,419.6 622.6,419.7 623.2,419.9 623.8,420.0 624.4,420.1 625.0,420.2 625.7,420.2 626.3,420.3 626.9,420.4 627.5,420.5 628.1,420.6 628.7,420.6 629.3,420.7 629.9,420.7 630.5,420.8 631.1,420.8 631.7,420.9 632.3,420.9 633.0,421.0 633.6,421.0 634.2,421.0 634.8,421.1 635.4,421.1 636.0,421.1 636.6,421.2 637.2,421.2 637.8,421.2 638.4,421.2 639.0,421.3 639.6,421.3 640.2,421.3 640.9,421.3 641.5,421.3 642.1,421.4 642.7,421.4 643.3,421.4 643.9,421.4 644.5,421.4 645.1,421.4 645.7,421.4 646.3,421.4 646.9,421.5 647.6,421.5 648.2,421.5 648.8,421.5 649.4,421.5 650.0,421.5 650.6,421.5 651.2,421.5 651.8,421.5 652.4,421.5 653.0,421.5 653.6,421.5 654.2,421.5 654.9,421.5 655.5,421.5 656.1,421.5 656.7,421.6 657.3,421.6 657.9,421.6 658.5,421.6 659.1,421.6 659.7,421.6 660.3,421.6 660.9,421.6 661.5,421.6 662.2,421.6 662.8,421.6 663.4,421.6 664.0,421.6 664.6,421.6 665.2,421.6 665.8,421.6 666.4,421.6 667.0,421.6 667.6,421.6 668.2,421.6 668.8,421.6 669.5,421.6" fill="none" stroke="#8fb446" stroke-width="1.4" stroke-dasharray="5,3"/>
<polyline points="487.0,421.5 487.6,421.5 488.2,421.5 488.8,421.5 489.4,421.5 490.0,421.5 490.6,421.4 491.2,421.4 491.8,421.4 492.4,421.4 493.0,421.4 493.6,421.4 494.3,421.4 494.9,421.3 495.5,421.3 496.1,421.3 496.7,421.3 497.3,421.2 497.9,421.2 498.5,421.2 499.1,421.1 499.7,421.1 500.3,421.1 500.9,421.0 501.6,421.0 502.2,420.9 502.8,420.9 503.4,420.8 504.0,420.7 504.6,420.7 505.2,420.6 505.8,420.5 506.4,420.4 507.0,420.3 507.6,420.2 508.2,420.1 508.9,420.0 509.5,419.8 510.1,419.7 510.7,419.6 511.3,419.4 511.9,419.2 512.5,419.0 513.1,418.8 513.7,418.6 514.3,418.4 514.9,418.1 515.5,417.8 516.2,417.6 516.8,417.2 517.4,416.9 518.0,416.5 518.6,416.1 519.2,415.7 519.8,415.3 520.4,414.8 521.0,414.3 521.6,413.7 522.2,413.1 522.8,412.5 523.5,411.8 524.1,411.1 524.7,410.3 525.3,409.5 525.9,408.6 526.5,407.7 527.1,406.7 527.7,405.6 528.3,404.5 528.9,403.3 529.5,402.0 530.1,400.6 530.8,399.2 531.4,397.7 532.0,396.1 532.6,394.4 533.2,392.6 533.8,390.7 534.4,388.7 535.0,386.7 535.6,384.5 536.2,382.2 536.8,379.9 537.4,377.4 538.1,374.8 538.7,372.1 539.3,369.3 539.9,366.5 540.5,363.5 541.1,360.4 541.7,357.3 542.3,354.0 542.9,350.7 543.5,347.4 544.1,343.9 544.7,340.5 545.4,336.9 546.0,333.4 546.6,329.8 547.2,326.3 547.8,322.8 548.4,319.3 549.0,315.8 549.6,312.4 550.2,309.1 550.8,305.9 551.4,302.8 552.0,299.8 552.7,297.0 553.3,294.3 553.9,291.8 554.5,289.6 555.1,287.5 555.7,285.7 556.3,284.1 556.9,282.7 557.5,281.7 558.1,280.9 558.7,280.3 559.3,280.1 560.0,280.1 560.6,280.3 561.2,280.7 561.8,281.3 562.4,282.0 563.0,283.0 563.6,284.1 564.2,285.4 564.8,286.9 565.4,288.5 566.0,290.3 566.6,292.2 567.2,294.3 567.9,296.5 568.5,298.8 569.1,301.2 569.7,303.7 570.3,306.3 570.9,308.9 571.5,311.7 572.1,314.5 572.7,317.3 573.3,320.2 573.9,323.1 574.6,326.0 575.2,329.0 575.8,331.9 576.4,334.9 577.0,337.8 577.6,340.7 578.2,343.6 578.8,346.4 579.4,349.2 580.0,352.0 580.6,354.7 581.2,357.4 581.9,360.0 582.5,362.6 583.1,365.1 583.7,367.5 584.3,369.9 584.9,372.2 585.5,374.4 586.1,376.5 586.7,378.6 587.3,380.6 587.9,382.6 588.5,384.5 589.2,386.3 589.8,388.0 590.4,389.7 591.0,391.3 591.6,392.8 592.2,394.3 592.8,395.7 593.4,397.1 594.0,398.4 594.6,399.6 595.2,400.8 595.8,401.9 596.5,403.0 597.1,404.0 597.7,404.9 598.3,405.9 598.9,406.7 599.5,407.6 600.1,408.4 600.7,409.1 601.3,409.8 601.9,410.5 602.5,411.1 603.1,411.7 603.8,412.3 604.4,412.8 605.0,413.3 605.6,413.8 606.2,414.3 606.8,414.7 607.4,415.1 608.0,415.5 608.6,415.9 609.2,416.2 609.8,416.5 610.4,416.8 611.1,417.1 611.7,417.4 612.3,417.6 612.9,417.9 613.5,418.1 614.1,418.3 614.7,418.5 615.3,418.7 615.9,418.9 616.5,419.1 617.1,419.2 617.7,419.4 618.4,419.5 619.0,419.6 619.6,419.7 620.2,419.9 620.8,420.0 621.4,420.1 622.0,420.2 622.6,420.3 623.2,420.3 623.8,420.4 624.4,420.5 625.0,420.6 625.7,420.6 626.3,420.7 626.9,420.7 627.5,420.8 628.1,420.8 628.7,420.9 629.3,420.9 629.9,421.0 630.5,421.0 631.1,421.1 631.7,421.1 632.3,421.1 633.0,421.2 633.6,421.2 634.2,421.2 634.8,421.2 635.4,421.3 636.0,421.3 636.6,421.3 637.2,421.3 637.8,421.3 638.4,421.4 639.0,421.4 639.6,421.4 640.2,421.4 640.9,421.4 641.5,421.4 642.1,421.4 642.7,421.4 643.3,421.5 643.9,421.5 644.5,421.5 645.1,421.5 645.7,421.5 646.3,421.5 646.9,421.5 647.6,421.5 648.2,421.5 648.8,421.5 649.4,421.5 650.0,421.5 650.6,421.5 651.2,421.5 651.8,421.5 652.4,421.5 653.0,421.5 653.6,421.6 654.2,421.6 654.9,421.6 655.5,421.6 656.1,421.6 656.7,421.6 657.3,421.6 657.9,421.6 658.5,421.6 659.1,421.6 659.7,421.6 660.3,421.6 660.9,421.6 661.5,421.6 662.2,421.6 662.8,421.6 663.4,421.6 664.0,421.6 664.6,421.6 665.2,421.6 665.8,421.6 666.4,421.6 667.0,421.6 667.6,421.6 668.2,421.6 668.8,421.6 669.5,421.6" fill="none" stroke="#8a6a50" stroke-width="1.2"/>
<polyline points="487.0,421.5 487.6,421.5 488.2,421.5 488.8,421.5 489.4,421.5 490.0,421.5 490.6,421.5 491.2,421.5 491.8,421.4 492.4,421.4 493.0,421.4 493.6,421.4 494.3,421.4 494.9,421.4 495.5,421.3 496.1,421.3 496.7,421.3 497.3,421.3 497.9,421.3 498.5,421.2 499.1,421.2 499.7,421.2 500.3,421.1 500.9,421.1 501.6,421.1 502.2,421.0 502.8,421.0 503.4,420.9 504.0,420.9 504.6,420.8 505.2,420.7 505.8,420.7 506.4,420.6 507.0,420.5 507.6,420.4 508.2,420.3 508.9,420.2 509.5,420.1 510.1,420.0 510.7,419.9 511.3,419.7 511.9,419.6 512.5,419.4 513.1,419.3 513.7,419.1 514.3,418.9 514.9,418.7 515.5,418.5 516.2,418.2 516.8,418.0 517.4,417.7 518.0,417.4 518.6,417.1 519.2,416.7 519.8,416.4 520.4,416.0 521.0,415.5 521.6,415.1 522.2,414.6 522.8,414.1 523.5,413.5 524.1,412.9 524.7,412.3 525.3,411.6 525.9,410.9 526.5,410.1 527.1,409.3 527.7,408.4 528.3,407.5 528.9,406.5 529.5,405.5 530.1,404.4 530.8,403.2 531.4,401.9 532.0,400.6 532.6,399.2 533.2,397.7 533.8,396.2 534.4,394.5 535.0,392.8 535.6,391.0 536.2,389.0 536.8,387.0 537.4,384.9 538.1,382.7 538.7,380.4 539.3,378.0 539.9,375.6 540.5,373.0 541.1,370.3 541.7,367.5 542.3,364.7 542.9,361.7 543.5,358.7 544.1,355.6 544.7,352.4 545.4,349.2 546.0,345.9 546.6,342.6 547.2,339.2 547.8,335.8 548.4,332.4 549.0,329.0 549.6,325.6 550.2,322.2 550.8,318.9 551.4,315.6 552.0,312.4 552.7,309.3 553.3,306.3 553.9,303.4 554.5,300.6 555.1,298.0 555.7,295.6 556.3,293.3 556.9,291.2 557.5,289.4 558.1,287.7 558.7,286.3 559.3,285.2 560.0,284.3 560.6,283.6 561.2,283.2 561.8,283.0 562.4,283.1 563.0,283.4 563.6,283.8 564.2,284.5 564.8,285.3 565.4,286.2 566.0,287.4 566.6,288.6 567.2,290.1 567.9,291.7 568.5,293.4 569.1,295.3 569.7,297.3 570.3,299.4 570.9,301.6 571.5,304.0 572.1,306.4 572.7,308.9 573.3,311.4 573.9,314.1 574.6,316.7 575.2,319.5 575.8,322.2 576.4,325.0 577.0,327.9 577.6,330.7 578.2,333.5 578.8,336.3 579.4,339.1 580.0,341.9 580.6,344.7 581.2,347.4 581.9,350.2 582.5,352.8 583.1,355.4 583.7,358.0 584.3,360.5 584.9,363.0 585.5,365.4 586.1,367.8 586.7,370.1 587.3,372.3 587.9,374.5 588.5,376.6 589.2,378.6 589.8,380.6 590.4,382.5 591.0,384.3 591.6,386.1 592.2,387.8 592.8,389.4 593.4,391.0 594.0,392.5 594.6,394.0 595.2,395.4 595.8,396.7 596.5,398.0 597.1,399.2 597.7,400.4 598.3,401.5 598.9,402.6 599.5,403.6 600.1,404.5 600.7,405.5 601.3,406.3 601.9,407.2 602.5,408.0 603.1,408.7 603.8,409.4 604.4,410.1 605.0,410.7 605.6,411.4 606.2,411.9 606.8,412.5 607.4,413.0 608.0,413.5 608.6,414.0 609.2,414.4 609.8,414.8 610.4,415.2 611.1,415.6 611.7,415.9 612.3,416.3 612.9,416.6 613.5,416.9 614.1,417.1 614.7,417.4 615.3,417.7 615.9,417.9 616.5,418.1 617.1,418.3 617.7,418.5 618.4,418.7 619.0,418.9 619.6,419.0 620.2,419.2 620.8,419.3 621.4,419.5 622.0,419.6 622.6,419.7 623.2,419.8 623.8,419.9 624.4,420.0 625.0,420.1 625.7,420.2 626.3,420.3 626.9,420.4 627.5,420.5 628.1,420.5 628.7,420.6 629.3,420.7 629.9,420.7 630.5,420.8 631.1,420.8 631.7,420.9 632.3,420.9 633.0,421.0 633.6,421.0 634.2,421.0 634.8,421.1 635.4,421.1 636.0,421.1 636.6,421.2 637.2,421.2 637.8,421.2 638.4,421.2 639.0,421.3 639.6,421.3 640.2,421.3 640.9,421.3 641.5,421.3 642.1,421.4 642.7,421.4 643.3,421.4 643.9,421.4 644.5,421.4 645.1,421.4 645.7,421.4 646.3,421.4 646.9,421.5 647.6,421.5 648.2,421.5 648.8,421.5 649.4,421.5 650.0,421.5 650.6,421.5 651.2,421.5 651.8,421.5 652.4,421.5 653.0,421.5 653.6,421.5 654.2,421.5 654.9,421.5 655.5,421.5 656.1,421.5 656.7,421.5 657.3,421.6 657.9,421.6 658.5,421.6 659.1,421.6 659.7,421.6 660.3,421.6 660.9,421.6 661.5,421.6 662.2,421.6 662.8,421.6 663.4,421.6 664.0,421.6 664.6,421.6 665.2,421.6 665.8,421.6 666.4,421.6 667.0,421.6 667.6,421.6 668.2,421.6 668.8,421.6 669.5,421.6" fill="none" stroke="#ec7b2d" stroke-width="1.6"/>
<polyline points="487.0,421.5 487.6,421.5 488.2,421.5 488.8,421.5 489.4,421.5 490.0,421.5 490.6,421.5 491.2,421.4 491.8,421.4 492.4,421.4 493.0,421.4 493.6,421.4 494.3,421.4 494.9,421.4 495.5,421.3 496.1,421.3 496.7,421.3 497.3,421.3 497.9,421.2 498.5,421.2 499.1,421.2 499.7,421.1 500.3,421.1 500.9,421.1 501.6,421.0 502.2,421.0 502.8,420.9 503.4,420.8 504.0,420.8 504.6,420.7 505.2,420.6 505.8,420.6 506.4,420.5 507.0,420.4 507.6,420.3 508.2,420.2 508.9,420.1 509.5,419.9 510.1,419.8 510.7,419.7 511.3,419.5 511.9,419.3 512.5,419.1 513.1,418.9 513.7,418.7 514.3,418.5 514.9,418.3 515.5,418.0 516.2,417.7 516.8,417.4 517.4,417.0 518.0,416.7 518.6,416.3 519.2,415.9 519.8,415.4 520.4,415.0 521.0,414.4 521.6,413.9 522.2,413.3 522.8,412.7 523.5,412.0 524.1,411.2 524.7,410.5 525.3,409.6 525.9,408.7 526.5,407.8 527.1,406.8 527.7,405.7 528.3,404.5 528.9,403.3 529.5,402.0 530.1,400.6 530.8,399.2 531.4,397.6 532.0,396.0 532.6,394.2 533.2,392.4 533.8,390.5 534.4,388.4 535.0,386.3 535.6,384.0 536.2,381.7 536.8,379.2 537.4,376.7 538.1,374.0 538.7,371.2 539.3,368.3 539.9,365.3 540.5,362.2 541.1,359.0 541.7,355.7 542.3,352.4 542.9,348.9 543.5,345.4 544.1,341.8 544.7,338.2 545.4,334.6 546.0,330.9 546.6,327.2 547.2,323.5 547.8,319.8 548.4,316.2 549.0,312.6 549.6,309.1 550.2,305.6 550.8,302.3 551.4,299.1 552.0,296.1 552.7,293.2 553.3,290.5 553.9,288.0 554.5,285.8 555.1,283.7 555.7,282.0 556.3,280.4 556.9,279.2 557.5,278.2 558.1,277.5 558.7,277.1 559.3,277.0 560.0,277.2 560.6,277.5 561.2,278.0 561.8,278.8 562.4,279.7 563.0,280.8 563.6,282.1 564.2,283.6 564.8,285.3 565.4,287.1 566.0,289.1 566.6,291.2 567.2,293.5 567.9,295.8 568.5,298.3 569.1,300.9 569.7,303.6 570.3,306.4 570.9,309.2 571.5,312.2 572.1,315.1 572.7,318.1 573.3,321.1 573.9,324.2 574.6,327.3 575.2,330.3 575.8,333.4 576.4,336.4 577.0,339.5 577.6,342.4 578.2,345.4 578.8,348.3 579.4,351.2 580.0,354.0 580.6,356.8 581.2,359.5 581.9,362.1 582.5,364.7 583.1,367.2 583.7,369.6 584.3,372.0 584.9,374.3 585.5,376.5 586.1,378.6 586.7,380.7 587.3,382.7 587.9,384.6 588.5,386.5 589.2,388.2 589.8,389.9 590.4,391.6 591.0,393.1 591.6,394.6 592.2,396.1 592.8,397.4 593.4,398.7 594.0,400.0 594.6,401.1 595.2,402.3 595.8,403.3 596.5,404.4 597.1,405.3 597.7,406.2 598.3,407.1 598.9,407.9 599.5,408.7 600.1,409.5 600.7,410.2 601.3,410.8 601.9,411.5 602.5,412.1 603.1,412.6 603.8,413.2 604.4,413.7 605.0,414.1 605.6,414.6 606.2,415.0 606.8,415.4 607.4,415.8 608.0,416.1 608.6,416.5 609.2,416.8 609.8,417.1 610.4,417.4 611.1,417.6 611.7,417.9 612.3,418.1 612.9,418.3 613.5,418.5 614.1,418.7 614.7,418.9 615.3,419.1 615.9,419.2 616.5,419.4 617.1,419.5 617.7,419.6 618.4,419.8 619.0,419.9 619.6,420.0 620.2,420.1 620.8,420.2 621.4,420.3 622.0,420.4 622.6,420.4 623.2,420.5 623.8,420.6 624.4,420.6 625.0,420.7 625.7,420.8 626.3,420.8 626.9,420.9 627.5,420.9 628.1,421.0 628.7,421.0 629.3,421.0 629.9,421.1 630.5,421.1 631.1,421.1 631.7,421.2 632.3,421.2 633.0,421.2 633.6,421.2 634.2,421.3 634.8,421.3 635.4,421.3 636.0,421.3 636.6,421.3 637.2,421.4 637.8,421.4 638.4,421.4 639.0,421.4 639.6,421.4 640.2,421.4 640.9,421.4 641.5,421.5 642.1,421.5 642.7,421.5 643.3,421.5 643.9,421.5 644.5,421.5 645.1,421.5 645.7,421.5 646.3,421.5 646.9,421.5 647.6,421.5 648.2,421.5 648.8,421.5 649.4,421.5 650.0,421.5 650.6,421.5 651.2,421.5 651.8,421.6 652.4,421.6 653.0,421.6 653.6,421.6 654.2,421.6 654.9,421.6 655.5,421.6 656.1,421.6 656.7,421.6 657.3,421.6 657.9,421.6 658.5,421.6 659.1,421.6 659.7,421.6 660.3,421.6 660.9,421.6 661.5,421.6 662.2,421.6 662.8,421.6 663.4,421.6 664.0,421.6 664.6,421.6 665.2,421.6 665.8,421.6 666.4,421.6 667.0,421.6 667.6,421.6 668.2,421.6 668.8,421.6 669.5,421.6" fill="none" stroke="#a65ea8" stroke-width="1.2" stroke-dasharray="5,3"/>
</g>
<rect x="483" y="259" width="191" height="171" fill="none" stroke="#000" stroke-width="2"/>
<line x1="487.0" y1="429" x2="487.0" y2="427.2" stroke="#000" stroke-width="1.1"/>
<line x1="487.0" y1="260" x2="487.0" y2="261.8" stroke="#000" stroke-width="1.1"/>
<line x1="496.1" y1="429" x2="496.1" y2="427.2" stroke="#000" stroke-width="1.1"/>
<line x1="496.1" y1="260" x2="496.1" y2="261.8" stroke="#000" stroke-width="1.1"/>
<line x1="505.2" y1="429" x2="505.2" y2="425.8" stroke="#000" stroke-width="1.1"/>
<line x1="505.2" y1="260" x2="505.2" y2="263.2" stroke="#000" stroke-width="1.1"/>
<line x1="514.3" y1="429" x2="514.3" y2="427.2" stroke="#000" stroke-width="1.1"/>
<line x1="514.3" y1="260" x2="514.3" y2="261.8" stroke="#000" stroke-width="1.1"/>
<line x1="523.5" y1="429" x2="523.5" y2="427.2" stroke="#000" stroke-width="1.1"/>
<line x1="523.5" y1="260" x2="523.5" y2="261.8" stroke="#000" stroke-width="1.1"/>
<line x1="532.6" y1="429" x2="532.6" y2="427.2" stroke="#000" stroke-width="1.1"/>
<line x1="532.6" y1="260" x2="532.6" y2="261.8" stroke="#000" stroke-width="1.1"/>
<line x1="541.7" y1="429" x2="541.7" y2="425.8" stroke="#000" stroke-width="1.1"/>
<line x1="541.7" y1="260" x2="541.7" y2="263.2" stroke="#000" stroke-width="1.1"/>
<line x1="550.8" y1="429" x2="550.8" y2="427.2" stroke="#000" stroke-width="1.1"/>
<line x1="550.8" y1="260" x2="550.8" y2="261.8" stroke="#000" stroke-width="1.1"/>
<line x1="560.0" y1="429" x2="560.0" y2="427.2" stroke="#000" stroke-width="1.1"/>
<line x1="560.0" y1="260" x2="560.0" y2="261.8" stroke="#000" stroke-width="1.1"/>
<line x1="569.1" y1="429" x2="569.1" y2="427.2" stroke="#000" stroke-width="1.1"/>
<line x1="569.1" y1="260" x2="569.1" y2="261.8" stroke="#000" stroke-width="1.1"/>
<line x1="578.2" y1="429" x2="578.2" y2="425.8" stroke="#000" stroke-width="1.1"/>
<line x1="578.2" y1="260" x2="578.2" y2="263.2" stroke="#000" stroke-width="1.1"/>
<line x1="587.3" y1="429" x2="587.3" y2="427.2" stroke="#000" stroke-width="1.1"/>
<line x1="587.3" y1="260" x2="587.3" y2="261.8" stroke="#000" stroke-width="1.1"/>
<line x1="596.5" y1="429" x2="596.5" y2="427.2" stroke="#000" stroke-width="1.1"/>
<line x1="596.5" y1="260" x2="596.5" y2="261.8" stroke="#000" stroke-width="1.1"/>
<line x1="605.6" y1="429" x2="605.6" y2="427.2" stroke="#000" stroke-width="1.1"/>
<line x1="605.6" y1="260" x2="605.6" y2="261.8" stroke="#000" stroke-width="1.1"/>
<line x1="614.7" y1="429" x2="614.7" y2="425.8" stroke="#000" stroke-width="1.1"/>
<line x1="614.7" y1="260" x2="614.7" y2="263.2" stroke="#000" stroke-width="1.1"/>
<line x1="623.8" y1="429" x2="623.8" y2="427.2" stroke="#000" stroke-width="1.1"/>
<line x1="623.8" y1="260" x2="623.8" y2="261.8" stroke="#000" stroke-width="1.1"/>
<line x1="633.0" y1="429" x2="633.0" y2="427.2" stroke="#000" stroke-width="1.1"/>
<line x1="633.0" y1="260" x2="633.0" y2="261.8" stroke="#000" stroke-width="1.1"/>
<line x1="642.1" y1="429" x2="642.1" y2="427.2" stroke="#000" stroke-width="1.1"/>
<line x1="642.1" y1="260" x2="642.1" y2="261.8" stroke="#000" stroke-width="1.1"/>
<line x1="651.2" y1="429" x2="651.2" y2="425.8" stroke="#000" stroke-width="1.1"/>
<line x1="651.2" y1="260" x2="651.2" y2="263.2" stroke="#000" stroke-width="1.1"/>
<line x1="660.3" y1="429" x2="660.3" y2="427.2" stroke="#000" stroke-width="1.1"/>
<line x1="660.3" y1="260" x2="660.3" y2="261.8" stroke="#000" stroke-width="1.1"/>
<line x1="669.5" y1="429" x2="669.5" y2="427.2" stroke="#000" stroke-width="1.1"/>
<line x1="669.5" y1="260" x2="669.5" y2="261.8" stroke="#000" stroke-width="1.1"/>
<line x1="484" y1="421.6" x2="487.2" y2="421.6" stroke="#000" stroke-width="1.1"/>
<line x1="673" y1="421.6" x2="669.8" y2="421.6" stroke="#000" stroke-width="1.1"/>
<line x1="484" y1="411.6" x2="485.8" y2="411.6" stroke="#000" stroke-width="1.1"/>
<line x1="673" y1="411.6" x2="671.2" y2="411.6" stroke="#000" stroke-width="1.1"/>
<line x1="484" y1="401.5" x2="485.8" y2="401.5" stroke="#000" stroke-width="1.1"/>
<line x1="673" y1="401.5" x2="671.2" y2="401.5" stroke="#000" stroke-width="1.1"/>
<line x1="484" y1="391.5" x2="485.8" y2="391.5" stroke="#000" stroke-width="1.1"/>
<line x1="673" y1="391.5" x2="671.2" y2="391.5" stroke="#000" stroke-width="1.1"/>
<line x1="484" y1="381.4" x2="487.2" y2="381.4" stroke="#000" stroke-width="1.1"/>
<line x1="673" y1="381.4" x2="669.8" y2="381.4" stroke="#000" stroke-width="1.1"/>
<line x1="484" y1="371.4" x2="485.8" y2="371.4" stroke="#000" stroke-width="1.1"/>
<line x1="673" y1="371.4" x2="671.2" y2="371.4" stroke="#000" stroke-width="1.1"/>
<line x1="484" y1="361.4" x2="485.8" y2="361.4" stroke="#000" stroke-width="1.1"/>
<line x1="673" y1="361.4" x2="671.2" y2="361.4" stroke="#000" stroke-width="1.1"/>
<line x1="484" y1="351.3" x2="485.8" y2="351.3" stroke="#000" stroke-width="1.1"/>
<line x1="673" y1="351.3" x2="671.2" y2="351.3" stroke="#000" stroke-width="1.1"/>
<line x1="484" y1="341.3" x2="487.2" y2="341.3" stroke="#000" stroke-width="1.1"/>
<line x1="673" y1="341.3" x2="669.8" y2="341.3" stroke="#000" stroke-width="1.1"/>
<line x1="484" y1="331.2" x2="485.8" y2="331.2" stroke="#000" stroke-width="1.1"/>
<line x1="673" y1="331.2" x2="671.2" y2="331.2" stroke="#000" stroke-width="1.1"/>
<line x1="484" y1="321.2" x2="485.8" y2="321.2" stroke="#000" stroke-width="1.1"/>
<line x1="673" y1="321.2" x2="671.2" y2="321.2" stroke="#000" stroke-width="1.1"/>
<line x1="484" y1="311.2" x2="485.8" y2="311.2" stroke="#000" stroke-width="1.1"/>
<line x1="673" y1="311.2" x2="671.2" y2="311.2" stroke="#000" stroke-width="1.1"/>
<line x1="484" y1="301.1" x2="487.2" y2="301.1" stroke="#000" stroke-width="1.1"/>
<line x1="673" y1="301.1" x2="669.8" y2="301.1" stroke="#000" stroke-width="1.1"/>
<line x1="484" y1="291.1" x2="485.8" y2="291.1" stroke="#000" stroke-width="1.1"/>
<line x1="673" y1="291.1" x2="671.2" y2="291.1" stroke="#000" stroke-width="1.1"/>
<line x1="484" y1="281.0" x2="485.8" y2="281.0" stroke="#000" stroke-width="1.1"/>
<line x1="673" y1="281.0" x2="671.2" y2="281.0" stroke="#000" stroke-width="1.1"/>
<line x1="484" y1="271.0" x2="485.8" y2="271.0" stroke="#000" stroke-width="1.1"/>
<line x1="673" y1="271.0" x2="671.2" y2="271.0" stroke="#000" stroke-width="1.1"/>
<line x1="484" y1="261.0" x2="487.2" y2="261.0" stroke="#000" stroke-width="1.1"/>
<line x1="673" y1="261.0" x2="669.8" y2="261.0" stroke="#000" stroke-width="1.1"/>
<text x="0" y="426.1" font-size="12.5" font-weight="bold" text-anchor="end" transform="translate(481.0,0) scale(0.72,1)">0</text>
<text x="0" y="385.9" font-size="12.5" font-weight="bold" text-anchor="end" transform="translate(481.0,0) scale(0.72,1)">2</text>
<text x="0" y="345.8" font-size="12.5" font-weight="bold" text-anchor="end" transform="translate(481.0,0) scale(0.72,1)">4</text>
<text x="0" y="305.6" font-size="12.5" font-weight="bold" text-anchor="end" transform="translate(481.0,0) scale(0.72,1)">6</text>
<text x="0" y="265.5" font-size="12.5" font-weight="bold" text-anchor="end" transform="translate(481.0,0) scale(0.72,1)">8</text>
<text x="0" y="445.0" font-size="12.5" font-weight="bold" text-anchor="middle" transform="translate(505.2,0) scale(0.72,1)">&#8211;4</text>
<text x="0" y="445.0" font-size="12.5" font-weight="bold" text-anchor="middle" transform="translate(541.7,0) scale(0.72,1)">&#8211;2</text>
<text x="0" y="445.0" font-size="12.5" font-weight="bold" text-anchor="middle" transform="translate(578.2,0) scale(0.72,1)">0</text>
<text x="0" y="445.0" font-size="12.5" font-weight="bold" text-anchor="middle" transform="translate(614.7,0) scale(0.72,1)">2</text>
<text x="0" y="445.0" font-size="12.5" font-weight="bold" text-anchor="middle" transform="translate(651.2,0) scale(0.72,1)">4</text>
<text transform="translate(469.1,342) rotate(-90)" font-size="7.2" font-weight="bold" text-anchor="middle" letter-spacing="0.9"><tspan font-style="italic" font-size="8">U</tspan><tspan font-size="5" dy="0.8">1</tspan><tspan dy="-0.8">(x,t)</tspan></text>
<text x="578" y="466.6" font-size="9" font-weight="bold" text-anchor="middle">x</text>
<text class="cap" x="0" y="231.3" transform="translate(50.42,0) scale(1.112,1)">(a)</text>
<text class="cap" x="0" y="231.3" transform="translate(83.70,0) scale(1.118,1)"><tspan font-style="italic">&#946;</tspan></text>
<text class="cap" x="0" y="231.3" transform="translate(97.77,0) scale(1.345,1)">=</text>
<text class="cap" x="0" y="231.3" transform="translate(114.74,0) scale(0.993,1)">0.89</text>
<text class="cap" x="0" y="231.3" transform="translate(313.72,0) scale(1.113,1)">(b)</text>
<text class="cap" x="0" y="231.3" transform="translate(342.30,0) scale(1.118,1)"><tspan font-style="italic">&#946;</tspan></text>
<text class="cap" x="0" y="231.3" transform="translate(356.37,0) scale(1.345,1)">=</text>
<text class="cap" x="0" y="231.3" transform="translate(373.33,0) scale(1.004,1)">0.89</text>
<text class="cap" x="0" y="231.3" transform="translate(542.64,0) scale(1.094,1)">(c)</text>
<text class="cap" x="0" y="231.3" transform="translate(570.20,0) scale(1.118,1)"><tspan font-style="italic">&#946;</tspan></text>
<text class="cap" x="0" y="231.3" transform="translate(584.27,0) scale(1.345,1)">=</text>
<text class="cap" x="0" y="231.3" transform="translate(601.24,0) scale(1.001,1)">0.7</text>
<text class="cap" x="0" y="493.4" transform="translate(39.38,0) scale(1.052,1)">(d)</text>
<text class="cap" x="0" y="493.4" transform="translate(67.80,0) scale(1.118,1)"><tspan font-style="italic">&#946;</tspan></text>
<text class="cap" x="0" y="493.4" transform="translate(82.20,0) scale(1.412,1)">=</text>
<text class="cap" x="0" y="493.4" transform="translate(97.99,0) scale(1.138,1)">0.9,</text>
<text class="cap" x="0" y="493.4" transform="translate(134.60,0) scale(0.993,1)"><tspan font-style="italic">&#945;</tspan></text>
<text class="cap" x="0" y="493.4" transform="translate(148.40,0) scale(1.412,1)">=</text>
<text class="cap" x="0" y="493.4" transform="translate(165.63,0) scale(1.007,1)">0.89</text>
<text class="cap" x="0" y="493.4" transform="translate(297.51,0) scale(1.029,1)">(e)</text>
<text class="cap" x="0" y="493.4" transform="translate(324.50,0) scale(1.118,1)"><tspan font-style="italic">&#946;</tspan></text>
<text class="cap" x="0" y="493.4" transform="translate(338.57,0) scale(1.345,1)">=</text>
<text class="cap" x="0" y="493.4" transform="translate(355.52,0) scale(1.021,1)">0.41</text>
<text class="cap" x="0" y="493.4" transform="translate(521.83,0) scale(1.098,1)">(f)</text>
<text class="cap" x="0" y="493.4" transform="translate(548.20,0) scale(1.118,1)"><tspan font-style="italic">&#946;</tspan></text>
<text class="cap" x="0" y="493.4" transform="translate(562.27,0) scale(1.345,1)">=</text>
<text class="cap" x="0" y="493.4" transform="translate(579.22,0) scale(1.021,1)">0.41</text>
</svg></body></html>
